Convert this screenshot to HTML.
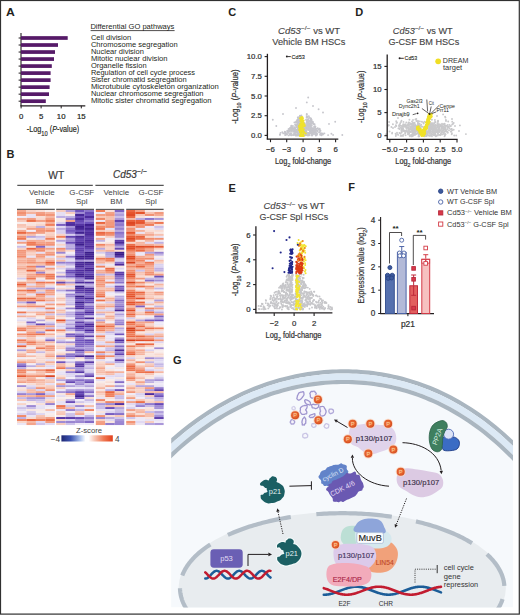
<!DOCTYPE html>
<html><head><meta charset="utf-8"><style>
html,body{margin:0;padding:0;background:#fff;}
#fig{position:relative;width:520px;height:615px;overflow:hidden;background:#fff;}
#fig svg{position:absolute;left:0;top:0;}
#fig svg text{font-family:"Liberation Sans",sans-serif;}
</style></head><body><div id="fig">
<svg width="520" height="615" viewBox="0 0 520 615" font-family="Liberation Sans, sans-serif" fill="#231f20">
<text x="5.90" y="15.80" font-size="11" font-weight="bold" textLength="8.80" lengthAdjust="spacingAndGlyphs">A</text>
<text x="6.40" y="157.80" font-size="11" font-weight="bold">B</text>
<text x="228.20" y="15.90" font-size="11" font-weight="bold">C</text>
<text x="355.20" y="15.70" font-size="11" font-weight="bold">D</text>
<text x="228.60" y="192.20" font-size="11" font-weight="bold">E</text>
<text x="348.30" y="191.30" font-size="11" font-weight="bold">F</text>
<text x="173.00" y="363.70" font-size="11" font-weight="bold">G</text>
<line x1="21.00" y1="33.00" x2="21.00" y2="106.20" stroke="#231f20" stroke-width="1.1"/>
<line x1="20.50" y1="105.80" x2="85.30" y2="105.80" stroke="#231f20" stroke-width="1.2"/>
<line x1="21.10" y1="105.80" x2="21.10" y2="108.40" stroke="#231f20" stroke-width="1"/>
<text x="21.10" y="118.70" font-size="7.8" text-anchor="middle" stroke="#231f20" stroke-width="0.2">0</text>
<line x1="41.10" y1="105.80" x2="41.10" y2="108.40" stroke="#231f20" stroke-width="1"/>
<text x="41.10" y="118.70" font-size="7.8" text-anchor="middle" stroke="#231f20" stroke-width="0.2">5</text>
<line x1="61.20" y1="105.80" x2="61.20" y2="108.40" stroke="#231f20" stroke-width="1"/>
<text x="61.20" y="118.70" font-size="7.8" text-anchor="middle" stroke="#231f20" stroke-width="0.2">10</text>
<line x1="81.30" y1="105.80" x2="81.30" y2="108.40" stroke="#231f20" stroke-width="1"/>
<text x="81.30" y="118.70" font-size="7.8" text-anchor="middle" stroke="#231f20" stroke-width="0.2">15</text>
<rect x="21.00" y="36.15" width="46.70" height="3.70" fill="#561a68"/>
<line x1="18.60" y1="38.00" x2="21.00" y2="38.00" stroke="#231f20" stroke-width="1"/>
<rect x="21.00" y="43.17" width="37.00" height="3.70" fill="#561a68"/>
<line x1="18.60" y1="45.02" x2="21.00" y2="45.02" stroke="#231f20" stroke-width="1"/>
<rect x="21.00" y="50.19" width="34.00" height="3.70" fill="#561a68"/>
<line x1="18.60" y1="52.04" x2="21.00" y2="52.04" stroke="#231f20" stroke-width="1"/>
<rect x="21.00" y="57.21" width="33.00" height="3.70" fill="#561a68"/>
<line x1="18.60" y1="59.06" x2="21.00" y2="59.06" stroke="#231f20" stroke-width="1"/>
<rect x="21.00" y="64.23" width="30.80" height="3.70" fill="#561a68"/>
<line x1="18.60" y1="66.08" x2="21.00" y2="66.08" stroke="#231f20" stroke-width="1"/>
<rect x="21.00" y="71.25" width="29.60" height="3.70" fill="#561a68"/>
<line x1="18.60" y1="73.10" x2="21.00" y2="73.10" stroke="#231f20" stroke-width="1"/>
<rect x="21.00" y="78.27" width="29.60" height="3.70" fill="#561a68"/>
<line x1="18.60" y1="80.12" x2="21.00" y2="80.12" stroke="#231f20" stroke-width="1"/>
<rect x="21.00" y="85.29" width="28.60" height="3.70" fill="#561a68"/>
<line x1="18.60" y1="87.14" x2="21.00" y2="87.14" stroke="#231f20" stroke-width="1"/>
<rect x="21.00" y="92.31" width="28.00" height="3.70" fill="#561a68"/>
<line x1="18.60" y1="94.16" x2="21.00" y2="94.16" stroke="#231f20" stroke-width="1"/>
<rect x="21.00" y="99.33" width="24.80" height="3.70" fill="#561a68"/>
<line x1="18.60" y1="101.18" x2="21.00" y2="101.18" stroke="#231f20" stroke-width="1"/>
<text x="26.8" y="131.8" font-size="8.6" stroke="#231f20" stroke-width="0.15" textLength="52.4" lengthAdjust="spacingAndGlyphs">-Log<tspan font-size="6.8" dy="3.8">10</tspan><tspan dy="-3.8"> (</tspan><tspan font-style="italic">P</tspan>-value)</text>
<text x="90.40" y="28.80" font-size="7.4" textLength="84.00" lengthAdjust="spacingAndGlyphs">Differential GO pathways</text>
<line x1="90.60" y1="30.60" x2="174.60" y2="30.60" stroke="#231f20" stroke-width="0.8"/>
<text x="90.90" y="39.60" font-size="7.4" textLength="40.30" lengthAdjust="spacingAndGlyphs">Cell division</text>
<text x="90.90" y="46.62" font-size="7.4" textLength="86.80" lengthAdjust="spacingAndGlyphs">Chromosome segregation</text>
<text x="90.90" y="53.64" font-size="7.4" textLength="53.00" lengthAdjust="spacingAndGlyphs">Nuclear division</text>
<text x="90.90" y="60.66" font-size="7.4" textLength="76.70" lengthAdjust="spacingAndGlyphs">Mitotic nuclear division</text>
<text x="90.90" y="67.68" font-size="7.4" textLength="55.70" lengthAdjust="spacingAndGlyphs">Organelle fission</text>
<text x="90.90" y="74.70" font-size="7.4" textLength="104.10" lengthAdjust="spacingAndGlyphs">Regulation of cell cycle process</text>
<text x="90.90" y="81.72" font-size="7.4" textLength="95.80" lengthAdjust="spacingAndGlyphs">Sister chromatid segregation</text>
<text x="90.90" y="88.74" font-size="7.4" textLength="127.80" lengthAdjust="spacingAndGlyphs">Microtubule cytoskeleton organization</text>
<text x="90.90" y="95.76" font-size="7.4" textLength="112.60" lengthAdjust="spacingAndGlyphs">Nuclear chromosome segregation</text>
<text x="90.90" y="102.78" font-size="7.4" textLength="120.70" lengthAdjust="spacingAndGlyphs">Mitotic sister chromatid segregation</text>
<text x="56.20" y="178.80" font-size="10.2" text-anchor="middle" fill="#3a3a3a" stroke="#3a3a3a" stroke-width="0.2">WT</text>
<text x="113.0" y="178.4" font-size="10.2" fill="#3a3a3a" stroke="#3a3a3a" stroke-width="0.2" textLength="34" lengthAdjust="spacingAndGlyphs"><tspan font-style="italic">Cd53</tspan><tspan font-size="7.2" dy="-4.0">−/−</tspan></text>
<line x1="17.30" y1="185.30" x2="92.80" y2="185.30" stroke="#555" stroke-width="1.3"/>
<line x1="95.40" y1="185.30" x2="163.70" y2="185.30" stroke="#555" stroke-width="1.3"/>
<text x="41.80" y="194.80" font-size="8" text-anchor="middle" fill="#444">Vehicle</text>
<text x="41.80" y="204.40" font-size="8" text-anchor="middle" fill="#444">BM</text>
<text x="81.80" y="194.80" font-size="8" text-anchor="middle" fill="#444">G-CSF</text>
<text x="81.80" y="204.40" font-size="8" text-anchor="middle" fill="#444">Spl</text>
<text x="116.30" y="194.80" font-size="8" text-anchor="middle" fill="#444">Vehicle</text>
<text x="116.30" y="204.40" font-size="8" text-anchor="middle" fill="#444">BM</text>
<text x="151.00" y="194.80" font-size="8" text-anchor="middle" fill="#444">G-CSF</text>
<text x="151.00" y="204.40" font-size="8" text-anchor="middle" fill="#444">Spl</text>
<defs><filter id="hb" x="-2%" y="-1%" width="104%" height="102%"><feGaussianBlur stdDeviation="0.35"/></filter></defs>
<g filter="url(#hb)">
<rect x="17.00" y="210.00" width="9.50" height="2.04" fill="#f4a890"/>
<rect x="26.45" y="210.00" width="9.50" height="2.04" fill="#f8d2c6"/>
<rect x="35.90" y="210.00" width="9.50" height="2.04" fill="#f8ddd5"/>
<rect x="45.35" y="210.00" width="9.50" height="2.04" fill="#f8ebe9"/>
<rect x="17.00" y="211.99" width="9.50" height="2.04" fill="#f19071"/>
<rect x="26.45" y="211.99" width="9.50" height="2.04" fill="#f5b29c"/>
<rect x="35.90" y="211.99" width="9.50" height="2.04" fill="#f39e84"/>
<rect x="45.35" y="211.99" width="9.50" height="2.04" fill="#f5b39e"/>
<rect x="17.00" y="213.98" width="9.50" height="2.04" fill="#f3a187"/>
<rect x="26.45" y="213.98" width="9.50" height="2.04" fill="#e9e3f4"/>
<rect x="35.90" y="213.98" width="9.50" height="2.04" fill="#f29476"/>
<rect x="45.35" y="213.98" width="9.50" height="2.04" fill="#f29578"/>
<rect x="17.00" y="215.97" width="9.50" height="2.04" fill="#f1ecf7"/>
<rect x="26.45" y="215.97" width="9.50" height="2.04" fill="#e9e3f4"/>
<rect x="35.90" y="215.97" width="9.50" height="2.04" fill="#f8ddd5"/>
<rect x="45.35" y="215.97" width="9.50" height="2.04" fill="#f6bba8"/>
<rect x="17.00" y="217.96" width="9.50" height="2.04" fill="#f5ae98"/>
<rect x="26.45" y="217.96" width="9.50" height="2.04" fill="#f39d82"/>
<rect x="35.90" y="217.96" width="9.50" height="2.04" fill="#f8d9cf"/>
<rect x="45.35" y="217.96" width="9.50" height="2.04" fill="#f39f85"/>
<rect x="17.00" y="219.95" width="9.50" height="2.04" fill="#f7c8b9"/>
<rect x="26.45" y="219.95" width="9.50" height="2.04" fill="#ec704a"/>
<rect x="35.90" y="219.95" width="9.50" height="2.04" fill="#f39f85"/>
<rect x="45.35" y="219.95" width="9.50" height="2.04" fill="#ef7c57"/>
<rect x="17.00" y="221.94" width="9.50" height="2.04" fill="#f8f0f0"/>
<rect x="26.45" y="221.94" width="9.50" height="2.04" fill="#f8e5e0"/>
<rect x="35.90" y="221.94" width="9.50" height="2.04" fill="#f8e1db"/>
<rect x="45.35" y="221.94" width="9.50" height="2.04" fill="#f5b09a"/>
<rect x="17.00" y="223.94" width="9.50" height="2.04" fill="#f7c4b3"/>
<rect x="26.45" y="223.94" width="9.50" height="2.04" fill="#f8e2dd"/>
<rect x="35.90" y="223.94" width="9.50" height="2.04" fill="#f8d6ca"/>
<rect x="45.35" y="223.94" width="9.50" height="2.04" fill="#f07f5c"/>
<rect x="17.00" y="225.93" width="9.50" height="2.04" fill="#f7cabb"/>
<rect x="26.45" y="225.93" width="9.50" height="2.04" fill="#f7c8b9"/>
<rect x="35.90" y="225.93" width="9.50" height="2.04" fill="#bdafe2"/>
<rect x="45.35" y="225.93" width="9.50" height="2.04" fill="#f8d3c7"/>
<rect x="17.00" y="227.92" width="9.50" height="2.04" fill="#f8e7e3"/>
<rect x="26.45" y="227.92" width="9.50" height="2.04" fill="#f3a086"/>
<rect x="35.90" y="227.92" width="9.50" height="2.04" fill="#f39e83"/>
<rect x="45.35" y="227.92" width="9.50" height="2.04" fill="#f5af99"/>
<rect x="17.00" y="229.91" width="9.50" height="2.04" fill="#f4a991"/>
<rect x="26.45" y="229.91" width="9.50" height="2.04" fill="#f3eff8"/>
<rect x="35.90" y="229.91" width="9.50" height="2.04" fill="#f29375"/>
<rect x="45.35" y="229.91" width="9.50" height="2.04" fill="#f18d6e"/>
<rect x="17.00" y="231.90" width="9.50" height="2.04" fill="#ea6741"/>
<rect x="26.45" y="231.90" width="9.50" height="2.04" fill="#f29173"/>
<rect x="35.90" y="231.90" width="9.50" height="2.04" fill="#f3a086"/>
<rect x="45.35" y="231.90" width="9.50" height="2.04" fill="#f8d3c7"/>
<rect x="17.00" y="233.89" width="9.50" height="2.04" fill="#f6bfad"/>
<rect x="26.45" y="233.89" width="9.50" height="2.04" fill="#f6beac"/>
<rect x="35.90" y="233.89" width="9.50" height="2.04" fill="#f8ebe9"/>
<rect x="45.35" y="233.89" width="9.50" height="2.04" fill="#f8d0c3"/>
<rect x="17.00" y="235.88" width="9.50" height="2.04" fill="#f29476"/>
<rect x="26.45" y="235.88" width="9.50" height="2.04" fill="#b3a3dd"/>
<rect x="35.90" y="235.88" width="9.50" height="2.04" fill="#c9bde7"/>
<rect x="45.35" y="235.88" width="9.50" height="2.04" fill="#f6c1af"/>
<rect x="17.00" y="237.87" width="9.50" height="2.04" fill="#ee7751"/>
<rect x="26.45" y="237.87" width="9.50" height="2.04" fill="#f8e5e0"/>
<rect x="35.90" y="237.87" width="9.50" height="2.04" fill="#e0d8f1"/>
<rect x="45.35" y="237.87" width="9.50" height="2.04" fill="#ef7e5a"/>
<rect x="17.00" y="239.86" width="9.50" height="2.04" fill="#e0d9f1"/>
<rect x="26.45" y="239.86" width="9.50" height="2.04" fill="#f4ac96"/>
<rect x="35.90" y="239.86" width="9.50" height="2.04" fill="#f5ae97"/>
<rect x="45.35" y="239.86" width="9.50" height="2.04" fill="#f7ccbe"/>
<rect x="17.00" y="241.85" width="9.50" height="2.04" fill="#f39e83"/>
<rect x="26.45" y="241.85" width="9.50" height="2.04" fill="#ef7853"/>
<rect x="35.90" y="241.85" width="9.50" height="2.04" fill="#f3a289"/>
<rect x="45.35" y="241.85" width="9.50" height="2.04" fill="#f39b7f"/>
<rect x="17.00" y="243.84" width="9.50" height="2.04" fill="#f8efee"/>
<rect x="26.45" y="243.84" width="9.50" height="2.04" fill="#ef7b57"/>
<rect x="35.90" y="243.84" width="9.50" height="2.04" fill="#f18d6e"/>
<rect x="45.35" y="243.84" width="9.50" height="2.04" fill="#f29274"/>
<rect x="17.00" y="245.83" width="9.50" height="2.04" fill="#c9bde7"/>
<rect x="26.45" y="245.83" width="9.50" height="2.04" fill="#f8e0d9"/>
<rect x="35.90" y="245.83" width="9.50" height="2.04" fill="#7f66c5"/>
<rect x="45.35" y="245.83" width="9.50" height="2.04" fill="#dfd8f1"/>
<rect x="17.00" y="247.82" width="9.50" height="2.04" fill="#f8d3c7"/>
<rect x="26.45" y="247.82" width="9.50" height="2.04" fill="#ea653f"/>
<rect x="35.90" y="247.82" width="9.50" height="2.04" fill="#f18f70"/>
<rect x="45.35" y="247.82" width="9.50" height="2.04" fill="#f39e84"/>
<rect x="17.00" y="249.81" width="9.50" height="2.04" fill="#f29577"/>
<rect x="26.45" y="249.81" width="9.50" height="2.04" fill="#f5af99"/>
<rect x="35.90" y="249.81" width="9.50" height="2.04" fill="#f18d6e"/>
<rect x="45.35" y="249.81" width="9.50" height="2.04" fill="#f7cec0"/>
<rect x="17.00" y="251.81" width="9.50" height="2.04" fill="#f39b80"/>
<rect x="26.45" y="251.81" width="9.50" height="2.04" fill="#f8cfc2"/>
<rect x="35.90" y="251.81" width="9.50" height="2.04" fill="#e7e0f4"/>
<rect x="45.35" y="251.81" width="9.50" height="2.04" fill="#f39f85"/>
<rect x="17.00" y="253.80" width="9.50" height="2.04" fill="#f39d82"/>
<rect x="26.45" y="253.80" width="9.50" height="2.04" fill="#f7cdc0"/>
<rect x="35.90" y="253.80" width="9.50" height="2.04" fill="#f39d81"/>
<rect x="45.35" y="253.80" width="9.50" height="2.04" fill="#f29274"/>
<rect x="17.00" y="255.79" width="9.50" height="2.04" fill="#f18b6b"/>
<rect x="26.45" y="255.79" width="9.50" height="2.04" fill="#eae4f5"/>
<rect x="35.90" y="255.79" width="9.50" height="2.04" fill="#f39b80"/>
<rect x="45.35" y="255.79" width="9.50" height="2.04" fill="#e6e0f3"/>
<rect x="17.00" y="257.78" width="9.50" height="2.04" fill="#f6baa7"/>
<rect x="26.45" y="257.78" width="9.50" height="2.04" fill="#f4a991"/>
<rect x="35.90" y="257.78" width="9.50" height="2.04" fill="#f6bdab"/>
<rect x="45.35" y="257.78" width="9.50" height="2.04" fill="#f7c8b8"/>
<rect x="17.00" y="259.77" width="9.50" height="2.04" fill="#f5af99"/>
<rect x="26.45" y="259.77" width="9.50" height="2.04" fill="#f3a389"/>
<rect x="35.90" y="259.77" width="9.50" height="2.04" fill="#f7cdbf"/>
<rect x="45.35" y="259.77" width="9.50" height="2.04" fill="#f4a992"/>
<rect x="17.00" y="261.76" width="9.50" height="2.04" fill="#f4a78f"/>
<rect x="26.45" y="261.76" width="9.50" height="2.04" fill="#f19071"/>
<rect x="35.90" y="261.76" width="9.50" height="2.04" fill="#f39d82"/>
<rect x="45.35" y="261.76" width="9.50" height="2.04" fill="#e8603a"/>
<rect x="17.00" y="263.75" width="9.50" height="2.04" fill="#f7c5b5"/>
<rect x="26.45" y="263.75" width="9.50" height="2.04" fill="#f7c8b9"/>
<rect x="35.90" y="263.75" width="9.50" height="2.04" fill="#f6bfad"/>
<rect x="45.35" y="263.75" width="9.50" height="2.04" fill="#f18c6c"/>
<rect x="17.00" y="265.74" width="9.50" height="2.04" fill="#f5b7a2"/>
<rect x="26.45" y="265.74" width="9.50" height="2.04" fill="#f0825f"/>
<rect x="35.90" y="265.74" width="9.50" height="2.04" fill="#9580cf"/>
<rect x="45.35" y="265.74" width="9.50" height="2.04" fill="#e9e3f4"/>
<rect x="17.00" y="267.73" width="9.50" height="2.04" fill="#f3a289"/>
<rect x="26.45" y="267.73" width="9.50" height="2.04" fill="#f5af99"/>
<rect x="35.90" y="267.73" width="9.50" height="2.04" fill="#f8d6cb"/>
<rect x="45.35" y="267.73" width="9.50" height="2.04" fill="#f2997d"/>
<rect x="17.00" y="269.72" width="9.50" height="2.04" fill="#f7ccbd"/>
<rect x="26.45" y="269.72" width="9.50" height="2.04" fill="#e85f38"/>
<rect x="35.90" y="269.72" width="9.50" height="2.04" fill="#f5b09a"/>
<rect x="45.35" y="269.72" width="9.50" height="2.04" fill="#f7cdbf"/>
<rect x="17.00" y="271.71" width="9.50" height="2.04" fill="#f7ccbe"/>
<rect x="26.45" y="271.71" width="9.50" height="2.04" fill="#f7cabc"/>
<rect x="35.90" y="271.71" width="9.50" height="2.04" fill="#9580cf"/>
<rect x="45.35" y="271.71" width="9.50" height="2.04" fill="#f8d8ce"/>
<rect x="17.00" y="273.70" width="9.50" height="2.04" fill="#f8d1c4"/>
<rect x="26.45" y="273.70" width="9.50" height="2.04" fill="#f4a38a"/>
<rect x="35.90" y="273.70" width="9.50" height="2.04" fill="#f08361"/>
<rect x="45.35" y="273.70" width="9.50" height="2.04" fill="#ef7c58"/>
<rect x="17.00" y="275.69" width="9.50" height="2.04" fill="#f8d8ce"/>
<rect x="26.45" y="275.69" width="9.50" height="2.04" fill="#f3a186"/>
<rect x="35.90" y="275.69" width="9.50" height="2.04" fill="#f4a68d"/>
<rect x="45.35" y="275.69" width="9.50" height="2.04" fill="#ee7852"/>
<rect x="17.00" y="277.69" width="9.50" height="2.04" fill="#d4caec"/>
<rect x="26.45" y="277.69" width="9.50" height="2.04" fill="#ee7752"/>
<rect x="35.90" y="277.69" width="9.50" height="2.04" fill="#f8e8e4"/>
<rect x="45.35" y="277.69" width="9.50" height="2.04" fill="#f0815e"/>
<rect x="17.00" y="279.68" width="9.50" height="2.04" fill="#f8ecea"/>
<rect x="26.45" y="279.68" width="9.50" height="2.04" fill="#f6c3b2"/>
<rect x="35.90" y="279.68" width="9.50" height="2.04" fill="#e0d8f1"/>
<rect x="45.35" y="279.68" width="9.50" height="2.04" fill="#f8ebe9"/>
<rect x="17.00" y="281.67" width="9.50" height="2.04" fill="#f39e83"/>
<rect x="26.45" y="281.67" width="9.50" height="2.04" fill="#f4ac95"/>
<rect x="35.90" y="281.67" width="9.50" height="2.04" fill="#ee7550"/>
<rect x="45.35" y="281.67" width="9.50" height="2.04" fill="#ef7c58"/>
<rect x="17.00" y="283.66" width="9.50" height="2.04" fill="#e9603a"/>
<rect x="26.45" y="283.66" width="9.50" height="2.04" fill="#e2dbf2"/>
<rect x="35.90" y="283.66" width="9.50" height="2.04" fill="#f4ac95"/>
<rect x="45.35" y="283.66" width="9.50" height="2.04" fill="#f8d7cc"/>
<rect x="17.00" y="285.65" width="9.50" height="2.04" fill="#f39d81"/>
<rect x="26.45" y="285.65" width="9.50" height="2.04" fill="#f5b6a2"/>
<rect x="35.90" y="285.65" width="9.50" height="2.04" fill="#f4aa92"/>
<rect x="45.35" y="285.65" width="9.50" height="2.04" fill="#e5def3"/>
<rect x="17.00" y="287.64" width="9.50" height="2.04" fill="#f8dad1"/>
<rect x="26.45" y="287.64" width="9.50" height="2.04" fill="#bdaee2"/>
<rect x="35.90" y="287.64" width="9.50" height="2.04" fill="#b1a1dc"/>
<rect x="45.35" y="287.64" width="9.50" height="2.04" fill="#a996d9"/>
<rect x="17.00" y="289.63" width="9.50" height="2.04" fill="#ef7b56"/>
<rect x="26.45" y="289.63" width="9.50" height="2.04" fill="#ea6741"/>
<rect x="35.90" y="289.63" width="9.50" height="2.04" fill="#f7ccbe"/>
<rect x="45.35" y="289.63" width="9.50" height="2.04" fill="#f2977a"/>
<rect x="17.00" y="291.62" width="9.50" height="2.04" fill="#f7c6b7"/>
<rect x="26.45" y="291.62" width="9.50" height="2.04" fill="#f4a58d"/>
<rect x="35.90" y="291.62" width="9.50" height="2.04" fill="#c7bae6"/>
<rect x="45.35" y="291.62" width="9.50" height="2.04" fill="#f3a288"/>
<rect x="17.00" y="293.61" width="9.50" height="2.04" fill="#f4a68e"/>
<rect x="26.45" y="293.61" width="9.50" height="2.04" fill="#e7e1f4"/>
<rect x="35.90" y="293.61" width="9.50" height="2.04" fill="#ee7651"/>
<rect x="45.35" y="293.61" width="9.50" height="2.04" fill="#f3a38a"/>
<rect x="17.00" y="295.60" width="9.50" height="2.04" fill="#f7c5b5"/>
<rect x="26.45" y="295.60" width="9.50" height="2.04" fill="#f7cabb"/>
<rect x="35.90" y="295.60" width="9.50" height="2.04" fill="#f3a085"/>
<rect x="45.35" y="295.60" width="9.50" height="2.04" fill="#e1daf2"/>
<rect x="17.00" y="297.59" width="9.50" height="2.04" fill="#ea6741"/>
<rect x="26.45" y="297.59" width="9.50" height="2.04" fill="#eb6c46"/>
<rect x="35.90" y="297.59" width="9.50" height="2.04" fill="#f5ae98"/>
<rect x="45.35" y="297.59" width="9.50" height="2.04" fill="#f6bcaa"/>
<rect x="17.00" y="299.58" width="9.50" height="2.04" fill="#f39b80"/>
<rect x="26.45" y="299.58" width="9.50" height="2.04" fill="#f39f85"/>
<rect x="35.90" y="299.58" width="9.50" height="2.04" fill="#ee7550"/>
<rect x="45.35" y="299.58" width="9.50" height="2.04" fill="#f4aa92"/>
<rect x="17.00" y="301.57" width="9.50" height="2.04" fill="#beb0e2"/>
<rect x="26.45" y="301.57" width="9.50" height="2.04" fill="#7054be"/>
<rect x="35.90" y="301.57" width="9.50" height="2.04" fill="#ebe5f5"/>
<rect x="45.35" y="301.57" width="9.50" height="2.04" fill="#e1daf2"/>
<rect x="17.00" y="303.56" width="9.50" height="2.04" fill="#f8dad1"/>
<rect x="26.45" y="303.56" width="9.50" height="2.04" fill="#f5b7a4"/>
<rect x="35.90" y="303.56" width="9.50" height="2.04" fill="#f8e2dc"/>
<rect x="45.35" y="303.56" width="9.50" height="2.04" fill="#f39e83"/>
<rect x="17.00" y="305.56" width="9.50" height="2.04" fill="#f2997c"/>
<rect x="26.45" y="305.56" width="9.50" height="2.04" fill="#f18c6c"/>
<rect x="35.90" y="305.56" width="9.50" height="2.04" fill="#f18d6e"/>
<rect x="45.35" y="305.56" width="9.50" height="2.04" fill="#f8e5e1"/>
<rect x="17.00" y="307.55" width="9.50" height="2.04" fill="#eae4f5"/>
<rect x="26.45" y="307.55" width="9.50" height="2.04" fill="#f8dcd4"/>
<rect x="35.90" y="307.55" width="9.50" height="2.04" fill="#ddd5f0"/>
<rect x="45.35" y="307.55" width="9.50" height="2.04" fill="#ef7d59"/>
<rect x="17.00" y="309.54" width="9.50" height="2.04" fill="#f3eff8"/>
<rect x="26.45" y="309.54" width="9.50" height="2.04" fill="#e8e2f4"/>
<rect x="35.90" y="309.54" width="9.50" height="2.04" fill="#e8e2f4"/>
<rect x="45.35" y="309.54" width="9.50" height="2.04" fill="#dcd5f0"/>
<rect x="17.00" y="311.53" width="9.50" height="2.04" fill="#ee7651"/>
<rect x="26.45" y="311.53" width="9.50" height="2.04" fill="#f6bfae"/>
<rect x="35.90" y="311.53" width="9.50" height="2.04" fill="#f5b09a"/>
<rect x="45.35" y="311.53" width="9.50" height="2.04" fill="#f29375"/>
<rect x="17.00" y="313.52" width="9.50" height="2.04" fill="#e1daf2"/>
<rect x="26.45" y="313.52" width="9.50" height="2.04" fill="#f8ebe9"/>
<rect x="35.90" y="313.52" width="9.50" height="2.04" fill="#f4a68e"/>
<rect x="45.35" y="313.52" width="9.50" height="2.04" fill="#cec3ea"/>
<rect x="17.00" y="315.51" width="9.50" height="2.04" fill="#f4ac95"/>
<rect x="26.45" y="315.51" width="9.50" height="2.04" fill="#f6bba8"/>
<rect x="35.90" y="315.51" width="9.50" height="2.04" fill="#f8e7e3"/>
<rect x="45.35" y="315.51" width="9.50" height="2.04" fill="#f5b6a1"/>
<rect x="17.00" y="317.50" width="9.50" height="2.04" fill="#eee9f6"/>
<rect x="26.45" y="317.50" width="9.50" height="2.04" fill="#dbd3f0"/>
<rect x="35.90" y="317.50" width="9.50" height="2.04" fill="#f8eae7"/>
<rect x="45.35" y="317.50" width="9.50" height="2.04" fill="#f2997c"/>
<rect x="17.00" y="319.49" width="9.50" height="2.04" fill="#e3dcf2"/>
<rect x="26.45" y="319.49" width="9.50" height="2.04" fill="#e4ddf3"/>
<rect x="35.90" y="319.49" width="9.50" height="2.04" fill="#b7a7df"/>
<rect x="45.35" y="319.49" width="9.50" height="2.04" fill="#f8e1da"/>
<rect x="17.00" y="321.48" width="9.50" height="2.04" fill="#f8e1da"/>
<rect x="26.45" y="321.48" width="9.50" height="2.04" fill="#7e64c5"/>
<rect x="35.90" y="321.48" width="9.50" height="2.04" fill="#f8eeed"/>
<rect x="45.35" y="321.48" width="9.50" height="2.04" fill="#d9d1ef"/>
<rect x="17.00" y="323.47" width="9.50" height="2.04" fill="#f8ebe9"/>
<rect x="26.45" y="323.47" width="9.50" height="2.04" fill="#c8bce7"/>
<rect x="35.90" y="323.47" width="9.50" height="2.04" fill="#6749b5"/>
<rect x="45.35" y="323.47" width="9.50" height="2.04" fill="#ae9ddb"/>
<rect x="17.00" y="325.46" width="9.50" height="2.04" fill="#f8d3c7"/>
<rect x="26.45" y="325.46" width="9.50" height="2.04" fill="#f39f85"/>
<rect x="35.90" y="325.46" width="9.50" height="2.04" fill="#f4a68e"/>
<rect x="45.35" y="325.46" width="9.50" height="2.04" fill="#f3a086"/>
<rect x="17.00" y="327.45" width="9.50" height="2.04" fill="#f08665"/>
<rect x="26.45" y="327.45" width="9.50" height="2.04" fill="#f3a38a"/>
<rect x="35.90" y="327.45" width="9.50" height="2.04" fill="#f5b39e"/>
<rect x="45.35" y="327.45" width="9.50" height="2.04" fill="#c9bde7"/>
<rect x="17.00" y="329.44" width="9.50" height="2.04" fill="#ee7853"/>
<rect x="26.45" y="329.44" width="9.50" height="2.04" fill="#f6bba8"/>
<rect x="35.90" y="329.44" width="9.50" height="2.04" fill="#f7cabc"/>
<rect x="45.35" y="329.44" width="9.50" height="2.04" fill="#e9633d"/>
<rect x="17.00" y="331.44" width="9.50" height="2.04" fill="#f2eef7"/>
<rect x="26.45" y="331.44" width="9.50" height="2.04" fill="#f39e83"/>
<rect x="35.90" y="331.44" width="9.50" height="2.04" fill="#a591d7"/>
<rect x="45.35" y="331.44" width="9.50" height="2.04" fill="#f8e8e5"/>
<rect x="17.00" y="333.43" width="9.50" height="2.04" fill="#f19172"/>
<rect x="26.45" y="333.43" width="9.50" height="2.04" fill="#ef7b56"/>
<rect x="35.90" y="333.43" width="9.50" height="2.04" fill="#ee754f"/>
<rect x="45.35" y="333.43" width="9.50" height="2.04" fill="#f5b09a"/>
<rect x="17.00" y="335.42" width="9.50" height="2.04" fill="#f6c0ae"/>
<rect x="26.45" y="335.42" width="9.50" height="2.04" fill="#f4aa93"/>
<rect x="35.90" y="335.42" width="9.50" height="2.04" fill="#f8dbd1"/>
<rect x="45.35" y="335.42" width="9.50" height="2.04" fill="#f8d7cc"/>
<rect x="17.00" y="337.41" width="9.50" height="2.04" fill="#e7e1f4"/>
<rect x="26.45" y="337.41" width="9.50" height="2.04" fill="#f7cabb"/>
<rect x="35.90" y="337.41" width="9.50" height="2.04" fill="#f0ebf7"/>
<rect x="45.35" y="337.41" width="9.50" height="2.04" fill="#d1c6eb"/>
<rect x="17.00" y="339.40" width="9.50" height="2.04" fill="#ef7954"/>
<rect x="26.45" y="339.40" width="9.50" height="2.04" fill="#f5b8a4"/>
<rect x="35.90" y="339.40" width="9.50" height="2.04" fill="#f8d7cc"/>
<rect x="45.35" y="339.40" width="9.50" height="2.04" fill="#8066c5"/>
<rect x="17.00" y="341.39" width="9.50" height="2.04" fill="#f3a086"/>
<rect x="26.45" y="341.39" width="9.50" height="2.04" fill="#ee7752"/>
<rect x="35.90" y="341.39" width="9.50" height="2.04" fill="#f4ac95"/>
<rect x="45.35" y="341.39" width="9.50" height="2.04" fill="#f5b8a5"/>
<rect x="17.00" y="343.38" width="9.50" height="2.04" fill="#d4caec"/>
<rect x="26.45" y="343.38" width="9.50" height="2.04" fill="#f29274"/>
<rect x="35.90" y="343.38" width="9.50" height="2.04" fill="#f5b5a0"/>
<rect x="45.35" y="343.38" width="9.50" height="2.04" fill="#f8dad1"/>
<rect x="17.00" y="345.37" width="9.50" height="2.04" fill="#e85f39"/>
<rect x="26.45" y="345.37" width="9.50" height="2.04" fill="#f8e2dc"/>
<rect x="35.90" y="345.37" width="9.50" height="2.04" fill="#f7c7b8"/>
<rect x="45.35" y="345.37" width="9.50" height="2.04" fill="#f29476"/>
<rect x="17.00" y="347.36" width="9.50" height="2.04" fill="#f8d9d0"/>
<rect x="26.45" y="347.36" width="9.50" height="2.04" fill="#eee9f6"/>
<rect x="35.90" y="347.36" width="9.50" height="2.04" fill="#ef7954"/>
<rect x="45.35" y="347.36" width="9.50" height="2.04" fill="#f2997d"/>
<rect x="17.00" y="349.35" width="9.50" height="2.04" fill="#ad9bda"/>
<rect x="26.45" y="349.35" width="9.50" height="2.04" fill="#f4ac95"/>
<rect x="35.90" y="349.35" width="9.50" height="2.04" fill="#f8d5ca"/>
<rect x="45.35" y="349.35" width="9.50" height="2.04" fill="#f4a48b"/>
<rect x="17.00" y="351.34" width="9.50" height="2.04" fill="#f8dad1"/>
<rect x="26.45" y="351.34" width="9.50" height="2.04" fill="#f4a890"/>
<rect x="35.90" y="351.34" width="9.50" height="2.04" fill="#c6bae6"/>
<rect x="45.35" y="351.34" width="9.50" height="2.04" fill="#f8d4c9"/>
<rect x="17.00" y="353.33" width="9.50" height="2.04" fill="#f5b8a5"/>
<rect x="26.45" y="353.33" width="9.50" height="2.04" fill="#efebf6"/>
<rect x="35.90" y="353.33" width="9.50" height="2.04" fill="#f8e1db"/>
<rect x="45.35" y="353.33" width="9.50" height="2.04" fill="#f6bba9"/>
<rect x="17.00" y="355.32" width="9.50" height="2.04" fill="#f4a48b"/>
<rect x="26.45" y="355.32" width="9.50" height="2.04" fill="#f6bba8"/>
<rect x="35.90" y="355.32" width="9.50" height="2.04" fill="#f8dbd2"/>
<rect x="45.35" y="355.32" width="9.50" height="2.04" fill="#f39f84"/>
<rect x="17.00" y="357.31" width="9.50" height="2.04" fill="#f1ecf7"/>
<rect x="26.45" y="357.31" width="9.50" height="2.04" fill="#f8eeed"/>
<rect x="35.90" y="357.31" width="9.50" height="2.04" fill="#f8d8ce"/>
<rect x="45.35" y="357.31" width="9.50" height="2.04" fill="#f8d3c7"/>
<rect x="17.00" y="359.31" width="9.50" height="2.04" fill="#f7cbbc"/>
<rect x="26.45" y="359.31" width="9.50" height="2.04" fill="#f7c5b5"/>
<rect x="35.90" y="359.31" width="9.50" height="2.04" fill="#f8dbd2"/>
<rect x="45.35" y="359.31" width="9.50" height="2.04" fill="#e3dcf2"/>
<rect x="17.00" y="361.30" width="9.50" height="2.04" fill="#f29577"/>
<rect x="26.45" y="361.30" width="9.50" height="2.04" fill="#f5b09a"/>
<rect x="35.90" y="361.30" width="9.50" height="2.04" fill="#f8d5c9"/>
<rect x="45.35" y="361.30" width="9.50" height="2.04" fill="#f4ac95"/>
<rect x="17.00" y="363.29" width="9.50" height="2.04" fill="#9781d0"/>
<rect x="26.45" y="363.29" width="9.50" height="2.04" fill="#f1edf7"/>
<rect x="35.90" y="363.29" width="9.50" height="2.04" fill="#bdaee2"/>
<rect x="45.35" y="363.29" width="9.50" height="2.04" fill="#f8d2c5"/>
<rect x="17.00" y="365.28" width="9.50" height="2.04" fill="#6f53bd"/>
<rect x="26.45" y="365.28" width="9.50" height="2.04" fill="#baabe0"/>
<rect x="35.90" y="365.28" width="9.50" height="2.04" fill="#f6b9a5"/>
<rect x="45.35" y="365.28" width="9.50" height="2.04" fill="#ded7f1"/>
<rect x="17.00" y="367.27" width="9.50" height="2.04" fill="#bfb1e3"/>
<rect x="26.45" y="367.27" width="9.50" height="2.04" fill="#f8edec"/>
<rect x="35.90" y="367.27" width="9.50" height="2.04" fill="#efeaf6"/>
<rect x="45.35" y="367.27" width="9.50" height="2.04" fill="#ebe5f5"/>
<rect x="17.00" y="369.26" width="9.50" height="2.04" fill="#f08563"/>
<rect x="26.45" y="369.26" width="9.50" height="2.04" fill="#f3a288"/>
<rect x="35.90" y="369.26" width="9.50" height="2.04" fill="#f19172"/>
<rect x="45.35" y="369.26" width="9.50" height="2.04" fill="#ea653e"/>
<rect x="17.00" y="371.25" width="9.50" height="2.04" fill="#f18867"/>
<rect x="26.45" y="371.25" width="9.50" height="2.04" fill="#f8e5e1"/>
<rect x="35.90" y="371.25" width="9.50" height="2.04" fill="#f6c1b0"/>
<rect x="45.35" y="371.25" width="9.50" height="2.04" fill="#f29375"/>
<rect x="17.00" y="373.24" width="9.50" height="2.04" fill="#f4ac95"/>
<rect x="26.45" y="373.24" width="9.50" height="2.04" fill="#f7c5b5"/>
<rect x="35.90" y="373.24" width="9.50" height="2.04" fill="#f6beab"/>
<rect x="45.35" y="373.24" width="9.50" height="2.04" fill="#f8e8e5"/>
<rect x="17.00" y="375.23" width="9.50" height="2.04" fill="#e75932"/>
<rect x="26.45" y="375.23" width="9.50" height="2.04" fill="#f18c6c"/>
<rect x="35.90" y="375.23" width="9.50" height="2.04" fill="#f08664"/>
<rect x="45.35" y="375.23" width="9.50" height="2.04" fill="#db4420"/>
<rect x="17.00" y="377.22" width="9.50" height="2.04" fill="#f5b8a5"/>
<rect x="26.45" y="377.22" width="9.50" height="2.04" fill="#f5b5a1"/>
<rect x="35.90" y="377.22" width="9.50" height="2.04" fill="#f8eae8"/>
<rect x="45.35" y="377.22" width="9.50" height="2.04" fill="#d0c6eb"/>
<rect x="17.00" y="379.21" width="9.50" height="2.04" fill="#f6beac"/>
<rect x="26.45" y="379.21" width="9.50" height="2.04" fill="#f39e83"/>
<rect x="35.90" y="379.21" width="9.50" height="2.04" fill="#f5b39e"/>
<rect x="45.35" y="379.21" width="9.50" height="2.04" fill="#f7cec0"/>
<rect x="17.00" y="381.20" width="9.50" height="2.04" fill="#f3a085"/>
<rect x="26.45" y="381.20" width="9.50" height="2.04" fill="#f5af99"/>
<rect x="35.90" y="381.20" width="9.50" height="2.04" fill="#f6beac"/>
<rect x="45.35" y="381.20" width="9.50" height="2.04" fill="#f6c3b2"/>
<rect x="17.00" y="383.19" width="9.50" height="2.04" fill="#f8efee"/>
<rect x="26.45" y="383.19" width="9.50" height="2.04" fill="#f8ddd5"/>
<rect x="35.90" y="383.19" width="9.50" height="2.04" fill="#f7c7b7"/>
<rect x="45.35" y="383.19" width="9.50" height="2.04" fill="#e5dff3"/>
<rect x="17.00" y="385.19" width="9.50" height="2.04" fill="#9f8bd4"/>
<rect x="26.45" y="385.19" width="9.50" height="2.04" fill="#e0d9f1"/>
<rect x="35.90" y="385.19" width="9.50" height="2.04" fill="#f8d5ca"/>
<rect x="45.35" y="385.19" width="9.50" height="2.04" fill="#f7ccbe"/>
<rect x="17.00" y="387.18" width="9.50" height="2.04" fill="#f8e4df"/>
<rect x="26.45" y="387.18" width="9.50" height="2.04" fill="#cabee8"/>
<rect x="35.90" y="387.18" width="9.50" height="2.04" fill="#f29274"/>
<rect x="45.35" y="387.18" width="9.50" height="2.04" fill="#f6c1b0"/>
<rect x="17.00" y="389.17" width="9.50" height="2.04" fill="#f8dad1"/>
<rect x="26.45" y="389.17" width="9.50" height="2.04" fill="#f6bba8"/>
<rect x="35.90" y="389.17" width="9.50" height="2.04" fill="#dad2ef"/>
<rect x="45.35" y="389.17" width="9.50" height="2.04" fill="#f29273"/>
<rect x="17.00" y="391.16" width="9.50" height="2.04" fill="#d9d0ef"/>
<rect x="26.45" y="391.16" width="9.50" height="2.04" fill="#f6bba8"/>
<rect x="35.90" y="391.16" width="9.50" height="2.04" fill="#f3a38a"/>
<rect x="45.35" y="391.16" width="9.50" height="2.04" fill="#dfd8f1"/>
<rect x="17.00" y="393.15" width="9.50" height="2.04" fill="#9781d0"/>
<rect x="26.45" y="393.15" width="9.50" height="2.04" fill="#aa98d9"/>
<rect x="35.90" y="393.15" width="9.50" height="2.04" fill="#7d63c4"/>
<rect x="45.35" y="393.15" width="9.50" height="2.04" fill="#cec4ea"/>
<rect x="17.00" y="395.14" width="9.50" height="2.04" fill="#f5b39e"/>
<rect x="26.45" y="395.14" width="9.50" height="2.04" fill="#f5b19c"/>
<rect x="35.90" y="395.14" width="9.50" height="2.04" fill="#f2977a"/>
<rect x="45.35" y="395.14" width="9.50" height="2.04" fill="#f39d82"/>
<rect x="17.00" y="397.13" width="9.50" height="2.04" fill="#c6b9e6"/>
<rect x="26.45" y="397.13" width="9.50" height="2.04" fill="#a895d8"/>
<rect x="35.90" y="397.13" width="9.50" height="2.04" fill="#9f8bd4"/>
<rect x="45.35" y="397.13" width="9.50" height="2.04" fill="#dcd4f0"/>
<rect x="17.00" y="399.12" width="9.50" height="2.04" fill="#f7c4b4"/>
<rect x="26.45" y="399.12" width="9.50" height="2.04" fill="#c0b2e3"/>
<rect x="35.90" y="399.12" width="9.50" height="2.04" fill="#cabfe8"/>
<rect x="45.35" y="399.12" width="9.50" height="2.04" fill="#f8dcd3"/>
<rect x="17.00" y="401.11" width="9.50" height="2.04" fill="#f3eff8"/>
<rect x="26.45" y="401.11" width="9.50" height="2.04" fill="#f8e7e3"/>
<rect x="35.90" y="401.11" width="9.50" height="2.04" fill="#dbd2ef"/>
<rect x="45.35" y="401.11" width="9.50" height="2.04" fill="#f6c2b1"/>
<rect x="17.00" y="403.10" width="9.50" height="2.04" fill="#f8d4c8"/>
<rect x="26.45" y="403.10" width="9.50" height="2.04" fill="#f8efef"/>
<rect x="35.90" y="403.10" width="9.50" height="2.04" fill="#f8e0d9"/>
<rect x="45.35" y="403.10" width="9.50" height="2.04" fill="#957fcf"/>
<rect x="17.00" y="405.09" width="9.50" height="2.04" fill="#e8e3f4"/>
<rect x="26.45" y="405.09" width="9.50" height="2.04" fill="#9d88d3"/>
<rect x="35.90" y="405.09" width="9.50" height="2.04" fill="#e8e2f4"/>
<rect x="45.35" y="405.09" width="9.50" height="2.04" fill="#ede8f6"/>
<rect x="17.00" y="407.08" width="9.50" height="2.04" fill="#cdc2e9"/>
<rect x="26.45" y="407.08" width="9.50" height="2.04" fill="#c9bde7"/>
<rect x="35.90" y="407.08" width="9.50" height="2.04" fill="#e6e0f3"/>
<rect x="45.35" y="407.08" width="9.50" height="2.04" fill="#f2eef7"/>
<rect x="17.00" y="409.07" width="9.50" height="2.04" fill="#e1daf2"/>
<rect x="26.45" y="409.07" width="9.50" height="2.04" fill="#f8e6e2"/>
<rect x="35.90" y="409.07" width="9.50" height="2.04" fill="#f8eae7"/>
<rect x="45.35" y="409.07" width="9.50" height="2.04" fill="#f6bdaa"/>
<rect x="17.00" y="411.06" width="9.50" height="2.04" fill="#f0ebf7"/>
<rect x="26.45" y="411.06" width="9.50" height="2.04" fill="#d5cbed"/>
<rect x="35.90" y="411.06" width="9.50" height="2.04" fill="#f8edeb"/>
<rect x="45.35" y="411.06" width="9.50" height="2.04" fill="#efeaf6"/>
<rect x="17.00" y="413.06" width="9.50" height="2.04" fill="#ddd5f0"/>
<rect x="26.45" y="413.06" width="9.50" height="2.04" fill="#c9bde7"/>
<rect x="35.90" y="413.06" width="9.50" height="2.04" fill="#dfd7f1"/>
<rect x="45.35" y="413.06" width="9.50" height="2.04" fill="#f8eeed"/>
<rect x="17.00" y="415.05" width="9.50" height="2.04" fill="#f18968"/>
<rect x="26.45" y="415.05" width="9.50" height="2.04" fill="#e9e3f4"/>
<rect x="35.90" y="415.05" width="9.50" height="2.04" fill="#f6c3b2"/>
<rect x="45.35" y="415.05" width="9.50" height="2.04" fill="#f8e9e5"/>
<rect x="17.00" y="417.04" width="9.50" height="2.04" fill="#bfb1e3"/>
<rect x="26.45" y="417.04" width="9.50" height="2.04" fill="#f8dcd3"/>
<rect x="35.90" y="417.04" width="9.50" height="2.04" fill="#f5b49f"/>
<rect x="45.35" y="417.04" width="9.50" height="2.04" fill="#f39e83"/>
<rect x="17.00" y="419.03" width="9.50" height="2.04" fill="#f08664"/>
<rect x="26.45" y="419.03" width="9.50" height="2.04" fill="#ea653f"/>
<rect x="35.90" y="419.03" width="9.50" height="2.04" fill="#ef7b56"/>
<rect x="45.35" y="419.03" width="9.50" height="2.04" fill="#ec704a"/>
<rect x="17.00" y="421.02" width="9.50" height="2.04" fill="#f8d7cc"/>
<rect x="26.45" y="421.02" width="9.50" height="2.04" fill="#f5b7a3"/>
<rect x="35.90" y="421.02" width="9.50" height="2.04" fill="#e0d8f1"/>
<rect x="45.35" y="421.02" width="9.50" height="2.04" fill="#f39b7f"/>
<rect x="17.00" y="423.01" width="9.50" height="2.04" fill="#ebe6f5"/>
<rect x="26.45" y="423.01" width="9.50" height="2.04" fill="#f4a48b"/>
<rect x="35.90" y="423.01" width="9.50" height="2.04" fill="#d0c5ea"/>
<rect x="45.35" y="423.01" width="9.50" height="2.04" fill="#e2dbf2"/>
<rect x="56.20" y="210.00" width="9.50" height="2.04" fill="#f7cdbf"/>
<rect x="65.65" y="210.00" width="9.50" height="2.04" fill="#b19fdc"/>
<rect x="75.10" y="210.00" width="9.50" height="2.04" fill="#6e51bc"/>
<rect x="84.55" y="210.00" width="9.50" height="2.04" fill="#8b73cb"/>
<rect x="56.20" y="211.99" width="9.50" height="2.04" fill="#e5dff3"/>
<rect x="65.65" y="211.99" width="9.50" height="2.04" fill="#f7cdbf"/>
<rect x="75.10" y="211.99" width="9.50" height="2.04" fill="#a08cd4"/>
<rect x="84.55" y="211.99" width="9.50" height="2.04" fill="#6648b5"/>
<rect x="56.20" y="213.98" width="9.50" height="2.04" fill="#e5dff3"/>
<rect x="65.65" y="213.98" width="9.50" height="2.04" fill="#f8eceb"/>
<rect x="75.10" y="213.98" width="9.50" height="2.04" fill="#472697"/>
<rect x="84.55" y="213.98" width="9.50" height="2.04" fill="#6f53bd"/>
<rect x="56.20" y="215.97" width="9.50" height="2.04" fill="#bdaee2"/>
<rect x="65.65" y="215.97" width="9.50" height="2.04" fill="#beb0e2"/>
<rect x="75.10" y="215.97" width="9.50" height="2.04" fill="#694bb7"/>
<rect x="84.55" y="215.97" width="9.50" height="2.04" fill="#4d2b9d"/>
<rect x="56.20" y="217.96" width="9.50" height="2.04" fill="#f8eae7"/>
<rect x="65.65" y="217.96" width="9.50" height="2.04" fill="#907acd"/>
<rect x="75.10" y="217.96" width="9.50" height="2.04" fill="#4b2a9b"/>
<rect x="84.55" y="217.96" width="9.50" height="2.04" fill="#7458c0"/>
<rect x="56.20" y="219.95" width="9.50" height="2.04" fill="#f8e7e3"/>
<rect x="65.65" y="219.95" width="9.50" height="2.04" fill="#f4a58c"/>
<rect x="75.10" y="219.95" width="9.50" height="2.04" fill="#6648b5"/>
<rect x="84.55" y="219.95" width="9.50" height="2.04" fill="#947ecf"/>
<rect x="56.20" y="221.94" width="9.50" height="2.04" fill="#d8cfee"/>
<rect x="65.65" y="221.94" width="9.50" height="2.04" fill="#5433a4"/>
<rect x="75.10" y="221.94" width="9.50" height="2.04" fill="#7357bf"/>
<rect x="84.55" y="221.94" width="9.50" height="2.04" fill="#6e52bd"/>
<rect x="56.20" y="223.94" width="9.50" height="2.04" fill="#795fc2"/>
<rect x="65.65" y="223.94" width="9.50" height="2.04" fill="#4d2b9d"/>
<rect x="75.10" y="223.94" width="9.50" height="2.04" fill="#5534a4"/>
<rect x="84.55" y="223.94" width="9.50" height="2.04" fill="#3e1f8e"/>
<rect x="56.20" y="225.93" width="9.50" height="2.04" fill="#e0d9f1"/>
<rect x="65.65" y="225.93" width="9.50" height="2.04" fill="#a591d7"/>
<rect x="75.10" y="225.93" width="9.50" height="2.04" fill="#3e1f8e"/>
<rect x="84.55" y="225.93" width="9.50" height="2.04" fill="#5635a5"/>
<rect x="56.20" y="227.92" width="9.50" height="2.04" fill="#b7a8df"/>
<rect x="65.65" y="227.92" width="9.50" height="2.04" fill="#866ec8"/>
<rect x="75.10" y="227.92" width="9.50" height="2.04" fill="#452595"/>
<rect x="84.55" y="227.92" width="9.50" height="2.04" fill="#3f208f"/>
<rect x="56.20" y="229.91" width="9.50" height="2.04" fill="#d9d0ef"/>
<rect x="65.65" y="229.91" width="9.50" height="2.04" fill="#7458c0"/>
<rect x="75.10" y="229.91" width="9.50" height="2.04" fill="#6648b5"/>
<rect x="84.55" y="229.91" width="9.50" height="2.04" fill="#5938a8"/>
<rect x="56.20" y="231.90" width="9.50" height="2.04" fill="#d8cfee"/>
<rect x="65.65" y="231.90" width="9.50" height="2.04" fill="#876ec9"/>
<rect x="75.10" y="231.90" width="9.50" height="2.04" fill="#3f208f"/>
<rect x="84.55" y="231.90" width="9.50" height="2.04" fill="#4c2a9c"/>
<rect x="56.20" y="233.89" width="9.50" height="2.04" fill="#f8d4c9"/>
<rect x="65.65" y="233.89" width="9.50" height="2.04" fill="#d7ceee"/>
<rect x="75.10" y="233.89" width="9.50" height="2.04" fill="#a592d7"/>
<rect x="84.55" y="233.89" width="9.50" height="2.04" fill="#4c2a9c"/>
<rect x="56.20" y="235.88" width="9.50" height="2.04" fill="#ef7e5a"/>
<rect x="65.65" y="235.88" width="9.50" height="2.04" fill="#6041af"/>
<rect x="75.10" y="235.88" width="9.50" height="2.04" fill="#472697"/>
<rect x="84.55" y="235.88" width="9.50" height="2.04" fill="#5b3cab"/>
<rect x="56.20" y="237.87" width="9.50" height="2.04" fill="#f8ded6"/>
<rect x="65.65" y="237.87" width="9.50" height="2.04" fill="#a895d8"/>
<rect x="75.10" y="237.87" width="9.50" height="2.04" fill="#5b3cab"/>
<rect x="84.55" y="237.87" width="9.50" height="2.04" fill="#5b3caa"/>
<rect x="56.20" y="239.86" width="9.50" height="2.04" fill="#b2a1dd"/>
<rect x="65.65" y="239.86" width="9.50" height="2.04" fill="#a08cd4"/>
<rect x="75.10" y="239.86" width="9.50" height="2.04" fill="#5e3fad"/>
<rect x="84.55" y="239.86" width="9.50" height="2.04" fill="#4c2a9c"/>
<rect x="56.20" y="241.85" width="9.50" height="2.04" fill="#e8e2f4"/>
<rect x="65.65" y="241.85" width="9.50" height="2.04" fill="#6b4eb9"/>
<rect x="75.10" y="241.85" width="9.50" height="2.04" fill="#4c2a9c"/>
<rect x="84.55" y="241.85" width="9.50" height="2.04" fill="#5534a4"/>
<rect x="56.20" y="243.84" width="9.50" height="2.04" fill="#f8d4c8"/>
<rect x="65.65" y="243.84" width="9.50" height="2.04" fill="#b5a5de"/>
<rect x="75.10" y="243.84" width="9.50" height="2.04" fill="#3d1e8d"/>
<rect x="84.55" y="243.84" width="9.50" height="2.04" fill="#5c3dab"/>
<rect x="56.20" y="245.83" width="9.50" height="2.04" fill="#e8e2f4"/>
<rect x="65.65" y="245.83" width="9.50" height="2.04" fill="#bcade1"/>
<rect x="75.10" y="245.83" width="9.50" height="2.04" fill="#6c50bb"/>
<rect x="84.55" y="245.83" width="9.50" height="2.04" fill="#4b299b"/>
<rect x="56.20" y="247.82" width="9.50" height="2.04" fill="#f18e6f"/>
<rect x="65.65" y="247.82" width="9.50" height="2.04" fill="#ac9ada"/>
<rect x="75.10" y="247.82" width="9.50" height="2.04" fill="#6041af"/>
<rect x="84.55" y="247.82" width="9.50" height="2.04" fill="#6041af"/>
<rect x="56.20" y="249.81" width="9.50" height="2.04" fill="#f5b09a"/>
<rect x="65.65" y="249.81" width="9.50" height="2.04" fill="#f8d4c9"/>
<rect x="75.10" y="249.81" width="9.50" height="2.04" fill="#5c3cab"/>
<rect x="84.55" y="249.81" width="9.50" height="2.04" fill="#7c62c4"/>
<rect x="56.20" y="251.81" width="9.50" height="2.04" fill="#9a85d2"/>
<rect x="65.65" y="251.81" width="9.50" height="2.04" fill="#f3eef8"/>
<rect x="75.10" y="251.81" width="9.50" height="2.04" fill="#6749b5"/>
<rect x="84.55" y="251.81" width="9.50" height="2.04" fill="#391b89"/>
<rect x="56.20" y="253.80" width="9.50" height="2.04" fill="#f8e1db"/>
<rect x="65.65" y="253.80" width="9.50" height="2.04" fill="#e3dcf2"/>
<rect x="75.10" y="253.80" width="9.50" height="2.04" fill="#684bb6"/>
<rect x="84.55" y="253.80" width="9.50" height="2.04" fill="#452595"/>
<rect x="56.20" y="255.79" width="9.50" height="2.04" fill="#f5b8a4"/>
<rect x="65.65" y="255.79" width="9.50" height="2.04" fill="#8c74cb"/>
<rect x="75.10" y="255.79" width="9.50" height="2.04" fill="#3d1e8d"/>
<rect x="84.55" y="255.79" width="9.50" height="2.04" fill="#3d1e8d"/>
<rect x="56.20" y="257.78" width="9.50" height="2.04" fill="#d6cded"/>
<rect x="65.65" y="257.78" width="9.50" height="2.04" fill="#d7ceee"/>
<rect x="75.10" y="257.78" width="9.50" height="2.04" fill="#472697"/>
<rect x="84.55" y="257.78" width="9.50" height="2.04" fill="#482798"/>
<rect x="56.20" y="259.77" width="9.50" height="2.04" fill="#f6beac"/>
<rect x="65.65" y="259.77" width="9.50" height="2.04" fill="#e4ddf3"/>
<rect x="75.10" y="259.77" width="9.50" height="2.04" fill="#a28ed5"/>
<rect x="84.55" y="259.77" width="9.50" height="2.04" fill="#b2a1dd"/>
<rect x="56.20" y="261.76" width="9.50" height="2.04" fill="#927cce"/>
<rect x="65.65" y="261.76" width="9.50" height="2.04" fill="#9983d1"/>
<rect x="75.10" y="261.76" width="9.50" height="2.04" fill="#462696"/>
<rect x="84.55" y="261.76" width="9.50" height="2.04" fill="#381a88"/>
<rect x="56.20" y="263.75" width="9.50" height="2.04" fill="#d2c8eb"/>
<rect x="65.65" y="263.75" width="9.50" height="2.04" fill="#c1b3e4"/>
<rect x="75.10" y="263.75" width="9.50" height="2.04" fill="#4a299a"/>
<rect x="84.55" y="263.75" width="9.50" height="2.04" fill="#502ea0"/>
<rect x="56.20" y="265.74" width="9.50" height="2.04" fill="#f8d1c5"/>
<rect x="65.65" y="265.74" width="9.50" height="2.04" fill="#e8e2f4"/>
<rect x="75.10" y="265.74" width="9.50" height="2.04" fill="#452595"/>
<rect x="84.55" y="265.74" width="9.50" height="2.04" fill="#6649b5"/>
<rect x="56.20" y="267.73" width="9.50" height="2.04" fill="#dcd4f0"/>
<rect x="65.65" y="267.73" width="9.50" height="2.04" fill="#baabe1"/>
<rect x="75.10" y="267.73" width="9.50" height="2.04" fill="#684ab6"/>
<rect x="84.55" y="267.73" width="9.50" height="2.04" fill="#452495"/>
<rect x="56.20" y="269.72" width="9.50" height="2.04" fill="#f8efee"/>
<rect x="65.65" y="269.72" width="9.50" height="2.04" fill="#6a4db9"/>
<rect x="75.10" y="269.72" width="9.50" height="2.04" fill="#4d2c9d"/>
<rect x="84.55" y="269.72" width="9.50" height="2.04" fill="#482798"/>
<rect x="56.20" y="271.71" width="9.50" height="2.04" fill="#cabfe8"/>
<rect x="65.65" y="271.71" width="9.50" height="2.04" fill="#6749b5"/>
<rect x="75.10" y="271.71" width="9.50" height="2.04" fill="#5737a6"/>
<rect x="84.55" y="271.71" width="9.50" height="2.04" fill="#6648b4"/>
<rect x="56.20" y="273.70" width="9.50" height="2.04" fill="#f8e0d9"/>
<rect x="65.65" y="273.70" width="9.50" height="2.04" fill="#907acd"/>
<rect x="75.10" y="273.70" width="9.50" height="2.04" fill="#3f208f"/>
<rect x="84.55" y="273.70" width="9.50" height="2.04" fill="#5838a7"/>
<rect x="56.20" y="275.69" width="9.50" height="2.04" fill="#9680d0"/>
<rect x="65.65" y="275.69" width="9.50" height="2.04" fill="#775cc1"/>
<rect x="75.10" y="275.69" width="9.50" height="2.04" fill="#492899"/>
<rect x="84.55" y="275.69" width="9.50" height="2.04" fill="#3f208f"/>
<rect x="56.20" y="277.69" width="9.50" height="2.04" fill="#e0d8f1"/>
<rect x="65.65" y="277.69" width="9.50" height="2.04" fill="#cfc5ea"/>
<rect x="75.10" y="277.69" width="9.50" height="2.04" fill="#917acd"/>
<rect x="84.55" y="277.69" width="9.50" height="2.04" fill="#4c2a9c"/>
<rect x="56.20" y="279.68" width="9.50" height="2.04" fill="#f6beac"/>
<rect x="65.65" y="279.68" width="9.50" height="2.04" fill="#f8dcd3"/>
<rect x="75.10" y="279.68" width="9.50" height="2.04" fill="#9680d0"/>
<rect x="84.55" y="279.68" width="9.50" height="2.04" fill="#d1c6eb"/>
<rect x="56.20" y="281.67" width="9.50" height="2.04" fill="#6547b4"/>
<rect x="65.65" y="281.67" width="9.50" height="2.04" fill="#a28fd6"/>
<rect x="75.10" y="281.67" width="9.50" height="2.04" fill="#4c2a9c"/>
<rect x="84.55" y="281.67" width="9.50" height="2.04" fill="#4e2c9e"/>
<rect x="56.20" y="283.66" width="9.50" height="2.04" fill="#f29274"/>
<rect x="65.65" y="283.66" width="9.50" height="2.04" fill="#f7c7b7"/>
<rect x="75.10" y="283.66" width="9.50" height="2.04" fill="#c8bbe7"/>
<rect x="84.55" y="283.66" width="9.50" height="2.04" fill="#baabe1"/>
<rect x="56.20" y="285.65" width="9.50" height="2.04" fill="#f2edf7"/>
<rect x="65.65" y="285.65" width="9.50" height="2.04" fill="#e2dbf2"/>
<rect x="75.10" y="285.65" width="9.50" height="2.04" fill="#381a88"/>
<rect x="84.55" y="285.65" width="9.50" height="2.04" fill="#ac9ada"/>
<rect x="56.20" y="287.64" width="9.50" height="2.04" fill="#f8d7cd"/>
<rect x="65.65" y="287.64" width="9.50" height="2.04" fill="#f8d9d0"/>
<rect x="75.10" y="287.64" width="9.50" height="2.04" fill="#4b299b"/>
<rect x="84.55" y="287.64" width="9.50" height="2.04" fill="#4c2a9c"/>
<rect x="56.20" y="289.63" width="9.50" height="2.04" fill="#b7a8df"/>
<rect x="65.65" y="289.63" width="9.50" height="2.04" fill="#836ac7"/>
<rect x="75.10" y="289.63" width="9.50" height="2.04" fill="#5838a7"/>
<rect x="84.55" y="289.63" width="9.50" height="2.04" fill="#502e9f"/>
<rect x="56.20" y="291.62" width="9.50" height="2.04" fill="#ece6f5"/>
<rect x="65.65" y="291.62" width="9.50" height="2.04" fill="#e5def3"/>
<rect x="75.10" y="291.62" width="9.50" height="2.04" fill="#6142af"/>
<rect x="84.55" y="291.62" width="9.50" height="2.04" fill="#5737a7"/>
<rect x="56.20" y="293.61" width="9.50" height="2.04" fill="#f8e4df"/>
<rect x="65.65" y="293.61" width="9.50" height="2.04" fill="#9680d0"/>
<rect x="75.10" y="293.61" width="9.50" height="2.04" fill="#9b87d2"/>
<rect x="84.55" y="293.61" width="9.50" height="2.04" fill="#7a5fc3"/>
<rect x="56.20" y="295.60" width="9.50" height="2.04" fill="#f8e5e0"/>
<rect x="65.65" y="295.60" width="9.50" height="2.04" fill="#a28fd6"/>
<rect x="75.10" y="295.60" width="9.50" height="2.04" fill="#381a88"/>
<rect x="84.55" y="295.60" width="9.50" height="2.04" fill="#765bc1"/>
<rect x="56.20" y="297.59" width="9.50" height="2.04" fill="#f6bfad"/>
<rect x="65.65" y="297.59" width="9.50" height="2.04" fill="#cec3ea"/>
<rect x="75.10" y="297.59" width="9.50" height="2.04" fill="#5737a6"/>
<rect x="84.55" y="297.59" width="9.50" height="2.04" fill="#432393"/>
<rect x="56.20" y="299.58" width="9.50" height="2.04" fill="#f8d1c4"/>
<rect x="65.65" y="299.58" width="9.50" height="2.04" fill="#cfc4ea"/>
<rect x="75.10" y="299.58" width="9.50" height="2.04" fill="#765bc1"/>
<rect x="84.55" y="299.58" width="9.50" height="2.04" fill="#775cc1"/>
<rect x="56.20" y="301.57" width="9.50" height="2.04" fill="#f8edec"/>
<rect x="65.65" y="301.57" width="9.50" height="2.04" fill="#d0c6eb"/>
<rect x="75.10" y="301.57" width="9.50" height="2.04" fill="#3b1c8b"/>
<rect x="84.55" y="301.57" width="9.50" height="2.04" fill="#6142b0"/>
<rect x="56.20" y="303.56" width="9.50" height="2.04" fill="#f39f85"/>
<rect x="65.65" y="303.56" width="9.50" height="2.04" fill="#c0b2e3"/>
<rect x="75.10" y="303.56" width="9.50" height="2.04" fill="#6244b1"/>
<rect x="84.55" y="303.56" width="9.50" height="2.04" fill="#baabe0"/>
<rect x="56.20" y="305.56" width="9.50" height="2.04" fill="#f8ded6"/>
<rect x="65.65" y="305.56" width="9.50" height="2.04" fill="#f8ebe8"/>
<rect x="75.10" y="305.56" width="9.50" height="2.04" fill="#5331a2"/>
<rect x="84.55" y="305.56" width="9.50" height="2.04" fill="#846bc7"/>
<rect x="56.20" y="307.55" width="9.50" height="2.04" fill="#e4ddf3"/>
<rect x="65.65" y="307.55" width="9.50" height="2.04" fill="#9984d1"/>
<rect x="75.10" y="307.55" width="9.50" height="2.04" fill="#4e2c9e"/>
<rect x="84.55" y="307.55" width="9.50" height="2.04" fill="#7357bf"/>
<rect x="56.20" y="309.54" width="9.50" height="2.04" fill="#f6bdab"/>
<rect x="65.65" y="309.54" width="9.50" height="2.04" fill="#f3eff8"/>
<rect x="75.10" y="309.54" width="9.50" height="2.04" fill="#beafe2"/>
<rect x="84.55" y="309.54" width="9.50" height="2.04" fill="#7f65c5"/>
<rect x="56.20" y="311.53" width="9.50" height="2.04" fill="#f7c8b8"/>
<rect x="65.65" y="311.53" width="9.50" height="2.04" fill="#bfb0e3"/>
<rect x="75.10" y="311.53" width="9.50" height="2.04" fill="#7a5fc2"/>
<rect x="84.55" y="311.53" width="9.50" height="2.04" fill="#492899"/>
<rect x="56.20" y="313.52" width="9.50" height="2.04" fill="#c6b9e6"/>
<rect x="65.65" y="313.52" width="9.50" height="2.04" fill="#b4a3de"/>
<rect x="75.10" y="313.52" width="9.50" height="2.04" fill="#5e3fad"/>
<rect x="84.55" y="313.52" width="9.50" height="2.04" fill="#6a4db9"/>
<rect x="56.20" y="315.51" width="9.50" height="2.04" fill="#f8d2c5"/>
<rect x="65.65" y="315.51" width="9.50" height="2.04" fill="#c8bbe7"/>
<rect x="75.10" y="315.51" width="9.50" height="2.04" fill="#8d75cb"/>
<rect x="84.55" y="315.51" width="9.50" height="2.04" fill="#cfc4ea"/>
<rect x="56.20" y="317.50" width="9.50" height="2.04" fill="#f8e3dd"/>
<rect x="65.65" y="317.50" width="9.50" height="2.04" fill="#f3eff8"/>
<rect x="75.10" y="317.50" width="9.50" height="2.04" fill="#684bb6"/>
<rect x="84.55" y="317.50" width="9.50" height="2.04" fill="#492899"/>
<rect x="56.20" y="319.49" width="9.50" height="2.04" fill="#e5512b"/>
<rect x="65.65" y="319.49" width="9.50" height="2.04" fill="#b7a7df"/>
<rect x="75.10" y="319.49" width="9.50" height="2.04" fill="#b3a3dd"/>
<rect x="84.55" y="319.49" width="9.50" height="2.04" fill="#d9d0ef"/>
<rect x="56.20" y="321.48" width="9.50" height="2.04" fill="#f5b29c"/>
<rect x="65.65" y="321.48" width="9.50" height="2.04" fill="#d4caec"/>
<rect x="75.10" y="321.48" width="9.50" height="2.04" fill="#5b3baa"/>
<rect x="84.55" y="321.48" width="9.50" height="2.04" fill="#907acd"/>
<rect x="56.20" y="323.47" width="9.50" height="2.04" fill="#e6dff3"/>
<rect x="65.65" y="323.47" width="9.50" height="2.04" fill="#af9edc"/>
<rect x="75.10" y="323.47" width="9.50" height="2.04" fill="#8269c6"/>
<rect x="84.55" y="323.47" width="9.50" height="2.04" fill="#4d2c9d"/>
<rect x="56.20" y="325.46" width="9.50" height="2.04" fill="#d7ceee"/>
<rect x="65.65" y="325.46" width="9.50" height="2.04" fill="#c9bde7"/>
<rect x="75.10" y="325.46" width="9.50" height="2.04" fill="#4e2c9e"/>
<rect x="84.55" y="325.46" width="9.50" height="2.04" fill="#502ea0"/>
<rect x="56.20" y="327.45" width="9.50" height="2.04" fill="#e4ddf3"/>
<rect x="65.65" y="327.45" width="9.50" height="2.04" fill="#8c75cb"/>
<rect x="75.10" y="327.45" width="9.50" height="2.04" fill="#6041af"/>
<rect x="84.55" y="327.45" width="9.50" height="2.04" fill="#856cc8"/>
<rect x="56.20" y="329.44" width="9.50" height="2.04" fill="#f08260"/>
<rect x="65.65" y="329.44" width="9.50" height="2.04" fill="#c3b6e5"/>
<rect x="75.10" y="329.44" width="9.50" height="2.04" fill="#7d63c4"/>
<rect x="84.55" y="329.44" width="9.50" height="2.04" fill="#4a289a"/>
<rect x="56.20" y="331.44" width="9.50" height="2.04" fill="#f8d1c5"/>
<rect x="65.65" y="331.44" width="9.50" height="2.04" fill="#f8e6e2"/>
<rect x="75.10" y="331.44" width="9.50" height="2.04" fill="#cbbfe8"/>
<rect x="84.55" y="331.44" width="9.50" height="2.04" fill="#7a5fc3"/>
<rect x="56.20" y="333.43" width="9.50" height="2.04" fill="#f8e4df"/>
<rect x="65.65" y="333.43" width="9.50" height="2.04" fill="#755ac0"/>
<rect x="75.10" y="333.43" width="9.50" height="2.04" fill="#8b73cb"/>
<rect x="84.55" y="333.43" width="9.50" height="2.04" fill="#c5b8e5"/>
<rect x="56.20" y="335.42" width="9.50" height="2.04" fill="#d8cfee"/>
<rect x="65.65" y="335.42" width="9.50" height="2.04" fill="#8168c6"/>
<rect x="75.10" y="335.42" width="9.50" height="2.04" fill="#5434a4"/>
<rect x="84.55" y="335.42" width="9.50" height="2.04" fill="#5a3baa"/>
<rect x="56.20" y="337.41" width="9.50" height="2.04" fill="#f8cfc2"/>
<rect x="65.65" y="337.41" width="9.50" height="2.04" fill="#f8d0c3"/>
<rect x="75.10" y="337.41" width="9.50" height="2.04" fill="#8e77cc"/>
<rect x="84.55" y="337.41" width="9.50" height="2.04" fill="#d4cbec"/>
<rect x="56.20" y="339.40" width="9.50" height="2.04" fill="#d3c9ec"/>
<rect x="65.65" y="339.40" width="9.50" height="2.04" fill="#f1edf7"/>
<rect x="75.10" y="339.40" width="9.50" height="2.04" fill="#6e51bc"/>
<rect x="84.55" y="339.40" width="9.50" height="2.04" fill="#6445b2"/>
<rect x="56.20" y="341.39" width="9.50" height="2.04" fill="#a38fd6"/>
<rect x="65.65" y="341.39" width="9.50" height="2.04" fill="#9d88d3"/>
<rect x="75.10" y="341.39" width="9.50" height="2.04" fill="#7a60c3"/>
<rect x="84.55" y="341.39" width="9.50" height="2.04" fill="#6e52bd"/>
<rect x="56.20" y="343.38" width="9.50" height="2.04" fill="#f8e2dc"/>
<rect x="65.65" y="343.38" width="9.50" height="2.04" fill="#f8d5c9"/>
<rect x="75.10" y="343.38" width="9.50" height="2.04" fill="#7b61c3"/>
<rect x="84.55" y="343.38" width="9.50" height="2.04" fill="#7f66c5"/>
<rect x="56.20" y="345.37" width="9.50" height="2.04" fill="#f8d0c3"/>
<rect x="65.65" y="345.37" width="9.50" height="2.04" fill="#d5cced"/>
<rect x="75.10" y="345.37" width="9.50" height="2.04" fill="#836ac7"/>
<rect x="84.55" y="345.37" width="9.50" height="2.04" fill="#9e8ad4"/>
<rect x="56.20" y="347.36" width="9.50" height="2.04" fill="#f7ccbe"/>
<rect x="65.65" y="347.36" width="9.50" height="2.04" fill="#9c87d2"/>
<rect x="75.10" y="347.36" width="9.50" height="2.04" fill="#ad9cdb"/>
<rect x="84.55" y="347.36" width="9.50" height="2.04" fill="#ac9bda"/>
<rect x="56.20" y="349.35" width="9.50" height="2.04" fill="#f2eef7"/>
<rect x="65.65" y="349.35" width="9.50" height="2.04" fill="#8d75cb"/>
<rect x="75.10" y="349.35" width="9.50" height="2.04" fill="#5d3eac"/>
<rect x="84.55" y="349.35" width="9.50" height="2.04" fill="#917acd"/>
<rect x="56.20" y="351.34" width="9.50" height="2.04" fill="#f8e3de"/>
<rect x="65.65" y="351.34" width="9.50" height="2.04" fill="#f8e1da"/>
<rect x="75.10" y="351.34" width="9.50" height="2.04" fill="#8e77cc"/>
<rect x="84.55" y="351.34" width="9.50" height="2.04" fill="#f5b5a1"/>
<rect x="56.20" y="353.33" width="9.50" height="2.04" fill="#f7cdbf"/>
<rect x="65.65" y="353.33" width="9.50" height="2.04" fill="#8f78cc"/>
<rect x="75.10" y="353.33" width="9.50" height="2.04" fill="#a08bd4"/>
<rect x="84.55" y="353.33" width="9.50" height="2.04" fill="#eee9f6"/>
<rect x="56.20" y="355.32" width="9.50" height="2.04" fill="#8067c6"/>
<rect x="65.65" y="355.32" width="9.50" height="2.04" fill="#7a60c3"/>
<rect x="75.10" y="355.32" width="9.50" height="2.04" fill="#4b2a9b"/>
<rect x="84.55" y="355.32" width="9.50" height="2.04" fill="#462596"/>
<rect x="56.20" y="357.31" width="9.50" height="2.04" fill="#f3a289"/>
<rect x="65.65" y="357.31" width="9.50" height="2.04" fill="#c4b6e5"/>
<rect x="75.10" y="357.31" width="9.50" height="2.04" fill="#f8ddd5"/>
<rect x="84.55" y="357.31" width="9.50" height="2.04" fill="#9883d1"/>
<rect x="56.20" y="359.31" width="9.50" height="2.04" fill="#f8e4df"/>
<rect x="65.65" y="359.31" width="9.50" height="2.04" fill="#f2edf7"/>
<rect x="75.10" y="359.31" width="9.50" height="2.04" fill="#f8ebe9"/>
<rect x="84.55" y="359.31" width="9.50" height="2.04" fill="#d2c7eb"/>
<rect x="56.20" y="361.30" width="9.50" height="2.04" fill="#6f53bd"/>
<rect x="65.65" y="361.30" width="9.50" height="2.04" fill="#cabee8"/>
<rect x="75.10" y="361.30" width="9.50" height="2.04" fill="#876fc9"/>
<rect x="84.55" y="361.30" width="9.50" height="2.04" fill="#5838a7"/>
<rect x="56.20" y="363.29" width="9.50" height="2.04" fill="#f6bcaa"/>
<rect x="65.65" y="363.29" width="9.50" height="2.04" fill="#f8e5e0"/>
<rect x="75.10" y="363.29" width="9.50" height="2.04" fill="#5c3cab"/>
<rect x="84.55" y="363.29" width="9.50" height="2.04" fill="#b6a6df"/>
<rect x="56.20" y="365.28" width="9.50" height="2.04" fill="#f5af99"/>
<rect x="65.65" y="365.28" width="9.50" height="2.04" fill="#f8d9cf"/>
<rect x="75.10" y="365.28" width="9.50" height="2.04" fill="#5939a8"/>
<rect x="84.55" y="365.28" width="9.50" height="2.04" fill="#d3caec"/>
<rect x="56.20" y="367.27" width="9.50" height="2.04" fill="#ee7651"/>
<rect x="65.65" y="367.27" width="9.50" height="2.04" fill="#a895d8"/>
<rect x="75.10" y="367.27" width="9.50" height="2.04" fill="#a28fd5"/>
<rect x="84.55" y="367.27" width="9.50" height="2.04" fill="#bfb1e3"/>
<rect x="56.20" y="369.26" width="9.50" height="2.04" fill="#f8e7e3"/>
<rect x="65.65" y="369.26" width="9.50" height="2.04" fill="#f7ccbe"/>
<rect x="75.10" y="369.26" width="9.50" height="2.04" fill="#9e89d3"/>
<rect x="84.55" y="369.26" width="9.50" height="2.04" fill="#ddd6f0"/>
<rect x="56.20" y="371.25" width="9.50" height="2.04" fill="#e9e3f4"/>
<rect x="65.65" y="371.25" width="9.50" height="2.04" fill="#8f78cd"/>
<rect x="75.10" y="371.25" width="9.50" height="2.04" fill="#5737a7"/>
<rect x="84.55" y="371.25" width="9.50" height="2.04" fill="#d3c9ec"/>
<rect x="56.20" y="373.24" width="9.50" height="2.04" fill="#e6e0f3"/>
<rect x="65.65" y="373.24" width="9.50" height="2.04" fill="#ddd5f0"/>
<rect x="75.10" y="373.24" width="9.50" height="2.04" fill="#e5def3"/>
<rect x="84.55" y="373.24" width="9.50" height="2.04" fill="#8e77cc"/>
<rect x="56.20" y="375.23" width="9.50" height="2.04" fill="#f8ddd5"/>
<rect x="65.65" y="375.23" width="9.50" height="2.04" fill="#ded6f1"/>
<rect x="75.10" y="375.23" width="9.50" height="2.04" fill="#9781d0"/>
<rect x="84.55" y="375.23" width="9.50" height="2.04" fill="#5a3baa"/>
<rect x="56.20" y="377.22" width="9.50" height="2.04" fill="#f5b6a1"/>
<rect x="65.65" y="377.22" width="9.50" height="2.04" fill="#f3eef8"/>
<rect x="75.10" y="377.22" width="9.50" height="2.04" fill="#d1c7eb"/>
<rect x="84.55" y="377.22" width="9.50" height="2.04" fill="#f1ecf7"/>
<rect x="56.20" y="379.21" width="9.50" height="2.04" fill="#b4a4de"/>
<rect x="65.65" y="379.21" width="9.50" height="2.04" fill="#937cce"/>
<rect x="75.10" y="379.21" width="9.50" height="2.04" fill="#846bc7"/>
<rect x="84.55" y="379.21" width="9.50" height="2.04" fill="#8c75cb"/>
<rect x="56.20" y="381.20" width="9.50" height="2.04" fill="#e9e3f4"/>
<rect x="65.65" y="381.20" width="9.50" height="2.04" fill="#6546b3"/>
<rect x="75.10" y="381.20" width="9.50" height="2.04" fill="#a895d8"/>
<rect x="84.55" y="381.20" width="9.50" height="2.04" fill="#6749b5"/>
<rect x="56.20" y="383.19" width="9.50" height="2.04" fill="#f4a58c"/>
<rect x="65.65" y="383.19" width="9.50" height="2.04" fill="#e0d9f1"/>
<rect x="75.10" y="383.19" width="9.50" height="2.04" fill="#9f8bd4"/>
<rect x="84.55" y="383.19" width="9.50" height="2.04" fill="#d0c6eb"/>
<rect x="56.20" y="385.19" width="9.50" height="2.04" fill="#a794d8"/>
<rect x="65.65" y="385.19" width="9.50" height="2.04" fill="#b09fdc"/>
<rect x="75.10" y="385.19" width="9.50" height="2.04" fill="#c7bbe7"/>
<rect x="84.55" y="385.19" width="9.50" height="2.04" fill="#b09fdc"/>
<rect x="56.20" y="387.18" width="9.50" height="2.04" fill="#f7cdbf"/>
<rect x="65.65" y="387.18" width="9.50" height="2.04" fill="#efeaf6"/>
<rect x="75.10" y="387.18" width="9.50" height="2.04" fill="#e9e4f4"/>
<rect x="84.55" y="387.18" width="9.50" height="2.04" fill="#e4ddf3"/>
<rect x="56.20" y="389.17" width="9.50" height="2.04" fill="#eae4f5"/>
<rect x="65.65" y="389.17" width="9.50" height="2.04" fill="#b1a0dc"/>
<rect x="75.10" y="389.17" width="9.50" height="2.04" fill="#a38fd6"/>
<rect x="84.55" y="389.17" width="9.50" height="2.04" fill="#b2a1dd"/>
<rect x="56.20" y="391.16" width="9.50" height="2.04" fill="#a592d7"/>
<rect x="65.65" y="391.16" width="9.50" height="2.04" fill="#886fc9"/>
<rect x="75.10" y="391.16" width="9.50" height="2.04" fill="#5d3eac"/>
<rect x="84.55" y="391.16" width="9.50" height="2.04" fill="#866dc8"/>
<rect x="56.20" y="393.15" width="9.50" height="2.04" fill="#f8e6e2"/>
<rect x="65.65" y="393.15" width="9.50" height="2.04" fill="#f4a890"/>
<rect x="75.10" y="393.15" width="9.50" height="2.04" fill="#6142b0"/>
<rect x="84.55" y="393.15" width="9.50" height="2.04" fill="#d5cced"/>
<rect x="56.20" y="395.14" width="9.50" height="2.04" fill="#e3dcf2"/>
<rect x="65.65" y="395.14" width="9.50" height="2.04" fill="#f8e1da"/>
<rect x="75.10" y="395.14" width="9.50" height="2.04" fill="#402190"/>
<rect x="84.55" y="395.14" width="9.50" height="2.04" fill="#8d76cc"/>
<rect x="56.20" y="397.13" width="9.50" height="2.04" fill="#f8eceb"/>
<rect x="65.65" y="397.13" width="9.50" height="2.04" fill="#f8eeed"/>
<rect x="75.10" y="397.13" width="9.50" height="2.04" fill="#6d51bb"/>
<rect x="84.55" y="397.13" width="9.50" height="2.04" fill="#f8ded7"/>
<rect x="56.20" y="399.12" width="9.50" height="2.04" fill="#f8e3dd"/>
<rect x="65.65" y="399.12" width="9.50" height="2.04" fill="#beafe2"/>
<rect x="75.10" y="399.12" width="9.50" height="2.04" fill="#f1edf7"/>
<rect x="84.55" y="399.12" width="9.50" height="2.04" fill="#c7bae6"/>
<rect x="56.20" y="401.11" width="9.50" height="2.04" fill="#e6e0f3"/>
<rect x="65.65" y="401.11" width="9.50" height="2.04" fill="#6b4eb9"/>
<rect x="75.10" y="401.11" width="9.50" height="2.04" fill="#d1c7eb"/>
<rect x="84.55" y="401.11" width="9.50" height="2.04" fill="#e4ddf3"/>
<rect x="56.20" y="403.10" width="9.50" height="2.04" fill="#e8e2f4"/>
<rect x="65.65" y="403.10" width="9.50" height="2.04" fill="#e7e1f4"/>
<rect x="75.10" y="403.10" width="9.50" height="2.04" fill="#f8e4de"/>
<rect x="84.55" y="403.10" width="9.50" height="2.04" fill="#f2eef7"/>
<rect x="56.20" y="405.09" width="9.50" height="2.04" fill="#ee754f"/>
<rect x="65.65" y="405.09" width="9.50" height="2.04" fill="#d2c7eb"/>
<rect x="75.10" y="405.09" width="9.50" height="2.04" fill="#9c88d3"/>
<rect x="84.55" y="405.09" width="9.50" height="2.04" fill="#f6beac"/>
<rect x="56.20" y="407.08" width="9.50" height="2.04" fill="#f29376"/>
<rect x="65.65" y="407.08" width="9.50" height="2.04" fill="#f6bba8"/>
<rect x="75.10" y="407.08" width="9.50" height="2.04" fill="#e8e2f4"/>
<rect x="84.55" y="407.08" width="9.50" height="2.04" fill="#eae5f5"/>
<rect x="56.20" y="409.07" width="9.50" height="2.04" fill="#ebe5f5"/>
<rect x="65.65" y="409.07" width="9.50" height="2.04" fill="#9781d0"/>
<rect x="75.10" y="409.07" width="9.50" height="2.04" fill="#c0b2e3"/>
<rect x="84.55" y="409.07" width="9.50" height="2.04" fill="#f08563"/>
<rect x="56.20" y="411.06" width="9.50" height="2.04" fill="#f7ccbe"/>
<rect x="65.65" y="411.06" width="9.50" height="2.04" fill="#f1ecf7"/>
<rect x="75.10" y="411.06" width="9.50" height="2.04" fill="#f7c7b8"/>
<rect x="84.55" y="411.06" width="9.50" height="2.04" fill="#f8edec"/>
<rect x="56.20" y="413.06" width="9.50" height="2.04" fill="#f7c5b5"/>
<rect x="65.65" y="413.06" width="9.50" height="2.04" fill="#cdc2e9"/>
<rect x="75.10" y="413.06" width="9.50" height="2.04" fill="#f4aa92"/>
<rect x="84.55" y="413.06" width="9.50" height="2.04" fill="#ebe6f5"/>
<rect x="56.20" y="415.05" width="9.50" height="2.04" fill="#f8e9e6"/>
<rect x="65.65" y="415.05" width="9.50" height="2.04" fill="#cabfe8"/>
<rect x="75.10" y="415.05" width="9.50" height="2.04" fill="#e8e2f4"/>
<rect x="84.55" y="415.05" width="9.50" height="2.04" fill="#c0b2e3"/>
<rect x="56.20" y="417.04" width="9.50" height="2.04" fill="#5838a8"/>
<rect x="65.65" y="417.04" width="9.50" height="2.04" fill="#5c3dab"/>
<rect x="75.10" y="417.04" width="9.50" height="2.04" fill="#6b4eb9"/>
<rect x="84.55" y="417.04" width="9.50" height="2.04" fill="#927cce"/>
<rect x="56.20" y="419.03" width="9.50" height="2.04" fill="#f8d5c9"/>
<rect x="65.65" y="419.03" width="9.50" height="2.04" fill="#dbd3f0"/>
<rect x="75.10" y="419.03" width="9.50" height="2.04" fill="#ad9bda"/>
<rect x="84.55" y="419.03" width="9.50" height="2.04" fill="#b9aae0"/>
<rect x="56.20" y="421.02" width="9.50" height="2.04" fill="#9f8bd4"/>
<rect x="65.65" y="421.02" width="9.50" height="2.04" fill="#9984d1"/>
<rect x="75.10" y="421.02" width="9.50" height="2.04" fill="#9c87d2"/>
<rect x="84.55" y="421.02" width="9.50" height="2.04" fill="#846bc7"/>
<rect x="56.20" y="423.01" width="9.50" height="2.04" fill="#f7cbbd"/>
<rect x="65.65" y="423.01" width="9.50" height="2.04" fill="#cec3ea"/>
<rect x="75.10" y="423.01" width="9.50" height="2.04" fill="#eee8f6"/>
<rect x="84.55" y="423.01" width="9.50" height="2.04" fill="#ede8f6"/>
<rect x="95.80" y="210.00" width="9.52" height="2.04" fill="#ef7d58"/>
<rect x="105.27" y="210.00" width="9.52" height="2.04" fill="#f8e0d9"/>
<rect x="114.73" y="210.00" width="9.52" height="2.04" fill="#7d63c4"/>
<rect x="95.80" y="211.99" width="9.52" height="2.04" fill="#ede7f6"/>
<rect x="105.27" y="211.99" width="9.52" height="2.04" fill="#f3a288"/>
<rect x="114.73" y="211.99" width="9.52" height="2.04" fill="#bfb1e3"/>
<rect x="95.80" y="213.98" width="9.52" height="2.04" fill="#f39e83"/>
<rect x="105.27" y="213.98" width="9.52" height="2.04" fill="#f2987c"/>
<rect x="114.73" y="213.98" width="9.52" height="2.04" fill="#af9edb"/>
<rect x="95.80" y="215.97" width="9.52" height="2.04" fill="#f7c7b7"/>
<rect x="105.27" y="215.97" width="9.52" height="2.04" fill="#f6bfad"/>
<rect x="114.73" y="215.97" width="9.52" height="2.04" fill="#ccc1e9"/>
<rect x="95.80" y="217.96" width="9.52" height="2.04" fill="#f08765"/>
<rect x="105.27" y="217.96" width="9.52" height="2.04" fill="#f6c1b0"/>
<rect x="114.73" y="217.96" width="9.52" height="2.04" fill="#ac9ada"/>
<rect x="95.80" y="219.95" width="9.52" height="2.04" fill="#eee9f6"/>
<rect x="105.27" y="219.95" width="9.52" height="2.04" fill="#f3a086"/>
<rect x="114.73" y="219.95" width="9.52" height="2.04" fill="#5e3fad"/>
<rect x="95.80" y="221.94" width="9.52" height="2.04" fill="#ea6640"/>
<rect x="105.27" y="221.94" width="9.52" height="2.04" fill="#f2987c"/>
<rect x="114.73" y="221.94" width="9.52" height="2.04" fill="#9983d1"/>
<rect x="95.80" y="223.94" width="9.52" height="2.04" fill="#f6baa7"/>
<rect x="105.27" y="223.94" width="9.52" height="2.04" fill="#f29a7e"/>
<rect x="114.73" y="223.94" width="9.52" height="2.04" fill="#8f78cd"/>
<rect x="95.80" y="225.93" width="9.52" height="2.04" fill="#f18c6c"/>
<rect x="105.27" y="225.93" width="9.52" height="2.04" fill="#f18e6e"/>
<rect x="114.73" y="225.93" width="9.52" height="2.04" fill="#ae9cdb"/>
<rect x="95.80" y="227.92" width="9.52" height="2.04" fill="#ee7853"/>
<rect x="105.27" y="227.92" width="9.52" height="2.04" fill="#e6e0f3"/>
<rect x="114.73" y="227.92" width="9.52" height="2.04" fill="#9580cf"/>
<rect x="95.80" y="229.91" width="9.52" height="2.04" fill="#f7cabb"/>
<rect x="105.27" y="229.91" width="9.52" height="2.04" fill="#f8d3c7"/>
<rect x="114.73" y="229.91" width="9.52" height="2.04" fill="#b9a9e0"/>
<rect x="95.80" y="231.90" width="9.52" height="2.04" fill="#ea6640"/>
<rect x="105.27" y="231.90" width="9.52" height="2.04" fill="#f0805c"/>
<rect x="114.73" y="231.90" width="9.52" height="2.04" fill="#8870c9"/>
<rect x="95.80" y="233.89" width="9.52" height="2.04" fill="#ef7a55"/>
<rect x="105.27" y="233.89" width="9.52" height="2.04" fill="#f18f71"/>
<rect x="114.73" y="233.89" width="9.52" height="2.04" fill="#9b86d2"/>
<rect x="95.80" y="235.88" width="9.52" height="2.04" fill="#f8edec"/>
<rect x="105.27" y="235.88" width="9.52" height="2.04" fill="#f7cdbf"/>
<rect x="114.73" y="235.88" width="9.52" height="2.04" fill="#9e8ad4"/>
<rect x="95.80" y="237.87" width="9.52" height="2.04" fill="#f4aa92"/>
<rect x="105.27" y="237.87" width="9.52" height="2.04" fill="#f1ecf7"/>
<rect x="114.73" y="237.87" width="9.52" height="2.04" fill="#d3caec"/>
<rect x="95.80" y="239.86" width="9.52" height="2.04" fill="#c1b4e4"/>
<rect x="105.27" y="239.86" width="9.52" height="2.04" fill="#f8eeed"/>
<rect x="114.73" y="239.86" width="9.52" height="2.04" fill="#5c3cab"/>
<rect x="95.80" y="241.85" width="9.52" height="2.04" fill="#f8eeec"/>
<rect x="105.27" y="241.85" width="9.52" height="2.04" fill="#f8e5e0"/>
<rect x="114.73" y="241.85" width="9.52" height="2.04" fill="#4b2a9b"/>
<rect x="95.80" y="243.84" width="9.52" height="2.04" fill="#f08462"/>
<rect x="105.27" y="243.84" width="9.52" height="2.04" fill="#f5b39e"/>
<rect x="114.73" y="243.84" width="9.52" height="2.04" fill="#7f65c5"/>
<rect x="95.80" y="245.83" width="9.52" height="2.04" fill="#f6baa7"/>
<rect x="105.27" y="245.83" width="9.52" height="2.04" fill="#f7ccbe"/>
<rect x="114.73" y="245.83" width="9.52" height="2.04" fill="#b5a5de"/>
<rect x="95.80" y="247.82" width="9.52" height="2.04" fill="#b8a9e0"/>
<rect x="105.27" y="247.82" width="9.52" height="2.04" fill="#f8d3c7"/>
<rect x="114.73" y="247.82" width="9.52" height="2.04" fill="#6548b4"/>
<rect x="95.80" y="249.81" width="9.52" height="2.04" fill="#f6bfad"/>
<rect x="105.27" y="249.81" width="9.52" height="2.04" fill="#f5b09a"/>
<rect x="114.73" y="249.81" width="9.52" height="2.04" fill="#f8d9d0"/>
<rect x="95.80" y="251.81" width="9.52" height="2.04" fill="#d4cbec"/>
<rect x="105.27" y="251.81" width="9.52" height="2.04" fill="#ae9cdb"/>
<rect x="114.73" y="251.81" width="9.52" height="2.04" fill="#3a1c8a"/>
<rect x="95.80" y="253.80" width="9.52" height="2.04" fill="#f8eceb"/>
<rect x="105.27" y="253.80" width="9.52" height="2.04" fill="#b5a5de"/>
<rect x="114.73" y="253.80" width="9.52" height="2.04" fill="#391b89"/>
<rect x="95.80" y="255.79" width="9.52" height="2.04" fill="#f8d3c7"/>
<rect x="105.27" y="255.79" width="9.52" height="2.04" fill="#bdafe2"/>
<rect x="114.73" y="255.79" width="9.52" height="2.04" fill="#5737a7"/>
<rect x="95.80" y="257.78" width="9.52" height="2.04" fill="#ef7a55"/>
<rect x="105.27" y="257.78" width="9.52" height="2.04" fill="#ee7651"/>
<rect x="114.73" y="257.78" width="9.52" height="2.04" fill="#cfc5ea"/>
<rect x="95.80" y="259.77" width="9.52" height="2.04" fill="#f4ad96"/>
<rect x="105.27" y="259.77" width="9.52" height="2.04" fill="#f0805d"/>
<rect x="114.73" y="259.77" width="9.52" height="2.04" fill="#ddd5f0"/>
<rect x="95.80" y="261.76" width="9.52" height="2.04" fill="#f5b19b"/>
<rect x="105.27" y="261.76" width="9.52" height="2.04" fill="#f7cec0"/>
<rect x="114.73" y="261.76" width="9.52" height="2.04" fill="#866ec8"/>
<rect x="95.80" y="263.75" width="9.52" height="2.04" fill="#ddd6f0"/>
<rect x="105.27" y="263.75" width="9.52" height="2.04" fill="#ebe6f5"/>
<rect x="114.73" y="263.75" width="9.52" height="2.04" fill="#4d2c9d"/>
<rect x="95.80" y="265.74" width="9.52" height="2.04" fill="#f0805d"/>
<rect x="105.27" y="265.74" width="9.52" height="2.04" fill="#f8ddd5"/>
<rect x="114.73" y="265.74" width="9.52" height="2.04" fill="#f8e5e1"/>
<rect x="95.80" y="267.73" width="9.52" height="2.04" fill="#f0ebf7"/>
<rect x="105.27" y="267.73" width="9.52" height="2.04" fill="#eb6c46"/>
<rect x="114.73" y="267.73" width="9.52" height="2.04" fill="#ddd5f0"/>
<rect x="95.80" y="269.72" width="9.52" height="2.04" fill="#f4ab94"/>
<rect x="105.27" y="269.72" width="9.52" height="2.04" fill="#ef7954"/>
<rect x="114.73" y="269.72" width="9.52" height="2.04" fill="#f1edf7"/>
<rect x="95.80" y="271.71" width="9.52" height="2.04" fill="#f4ad96"/>
<rect x="105.27" y="271.71" width="9.52" height="2.04" fill="#f39b80"/>
<rect x="114.73" y="271.71" width="9.52" height="2.04" fill="#5e3fad"/>
<rect x="95.80" y="273.70" width="9.52" height="2.04" fill="#bbace1"/>
<rect x="105.27" y="273.70" width="9.52" height="2.04" fill="#d0c6eb"/>
<rect x="114.73" y="273.70" width="9.52" height="2.04" fill="#5938a8"/>
<rect x="95.80" y="275.69" width="9.52" height="2.04" fill="#f4a48b"/>
<rect x="105.27" y="275.69" width="9.52" height="2.04" fill="#f6c3b2"/>
<rect x="114.73" y="275.69" width="9.52" height="2.04" fill="#8067c6"/>
<rect x="95.80" y="277.69" width="9.52" height="2.04" fill="#f3a288"/>
<rect x="105.27" y="277.69" width="9.52" height="2.04" fill="#f6beac"/>
<rect x="114.73" y="277.69" width="9.52" height="2.04" fill="#8870c9"/>
<rect x="95.80" y="279.68" width="9.52" height="2.04" fill="#f18867"/>
<rect x="105.27" y="279.68" width="9.52" height="2.04" fill="#ede7f6"/>
<rect x="114.73" y="279.68" width="9.52" height="2.04" fill="#a895d8"/>
<rect x="95.80" y="281.67" width="9.52" height="2.04" fill="#f3a288"/>
<rect x="105.27" y="281.67" width="9.52" height="2.04" fill="#f18969"/>
<rect x="114.73" y="281.67" width="9.52" height="2.04" fill="#8a72ca"/>
<rect x="95.80" y="283.66" width="9.52" height="2.04" fill="#f29577"/>
<rect x="105.27" y="283.66" width="9.52" height="2.04" fill="#eee9f6"/>
<rect x="114.73" y="283.66" width="9.52" height="2.04" fill="#dfd7f1"/>
<rect x="95.80" y="285.65" width="9.52" height="2.04" fill="#f3a38a"/>
<rect x="105.27" y="285.65" width="9.52" height="2.04" fill="#d6cded"/>
<rect x="114.73" y="285.65" width="9.52" height="2.04" fill="#6e52bc"/>
<rect x="95.80" y="287.64" width="9.52" height="2.04" fill="#f7c4b4"/>
<rect x="105.27" y="287.64" width="9.52" height="2.04" fill="#f6bcaa"/>
<rect x="114.73" y="287.64" width="9.52" height="2.04" fill="#876ec9"/>
<rect x="95.80" y="289.63" width="9.52" height="2.04" fill="#f4a78e"/>
<rect x="105.27" y="289.63" width="9.52" height="2.04" fill="#f5b19b"/>
<rect x="114.73" y="289.63" width="9.52" height="2.04" fill="#4b2a9b"/>
<rect x="95.80" y="291.62" width="9.52" height="2.04" fill="#f2987b"/>
<rect x="105.27" y="291.62" width="9.52" height="2.04" fill="#eae4f5"/>
<rect x="114.73" y="291.62" width="9.52" height="2.04" fill="#cabfe8"/>
<rect x="95.80" y="293.61" width="9.52" height="2.04" fill="#f08563"/>
<rect x="105.27" y="293.61" width="9.52" height="2.04" fill="#f0ebf7"/>
<rect x="114.73" y="293.61" width="9.52" height="2.04" fill="#f3eff8"/>
<rect x="95.80" y="295.60" width="9.52" height="2.04" fill="#eb6943"/>
<rect x="105.27" y="295.60" width="9.52" height="2.04" fill="#f8e0da"/>
<rect x="114.73" y="295.60" width="9.52" height="2.04" fill="#b5a5de"/>
<rect x="95.80" y="297.59" width="9.52" height="2.04" fill="#e6dff3"/>
<rect x="105.27" y="297.59" width="9.52" height="2.04" fill="#f5ae97"/>
<rect x="114.73" y="297.59" width="9.52" height="2.04" fill="#baaae0"/>
<rect x="95.80" y="299.58" width="9.52" height="2.04" fill="#ed714b"/>
<rect x="105.27" y="299.58" width="9.52" height="2.04" fill="#f5b8a4"/>
<rect x="114.73" y="299.58" width="9.52" height="2.04" fill="#846bc7"/>
<rect x="95.80" y="301.57" width="9.52" height="2.04" fill="#eee9f6"/>
<rect x="105.27" y="301.57" width="9.52" height="2.04" fill="#d7cdee"/>
<rect x="114.73" y="301.57" width="9.52" height="2.04" fill="#a08cd4"/>
<rect x="95.80" y="303.56" width="9.52" height="2.04" fill="#f6c2b1"/>
<rect x="105.27" y="303.56" width="9.52" height="2.04" fill="#f6c1b0"/>
<rect x="114.73" y="303.56" width="9.52" height="2.04" fill="#a28ed5"/>
<rect x="95.80" y="305.56" width="9.52" height="2.04" fill="#f29a7e"/>
<rect x="105.27" y="305.56" width="9.52" height="2.04" fill="#f3a288"/>
<rect x="114.73" y="305.56" width="9.52" height="2.04" fill="#846bc7"/>
<rect x="95.80" y="307.55" width="9.52" height="2.04" fill="#f5b5a1"/>
<rect x="105.27" y="307.55" width="9.52" height="2.04" fill="#e2dbf2"/>
<rect x="114.73" y="307.55" width="9.52" height="2.04" fill="#9b86d2"/>
<rect x="95.80" y="309.54" width="9.52" height="2.04" fill="#dcd4f0"/>
<rect x="105.27" y="309.54" width="9.52" height="2.04" fill="#d9d1ef"/>
<rect x="114.73" y="309.54" width="9.52" height="2.04" fill="#472697"/>
<rect x="95.80" y="311.53" width="9.52" height="2.04" fill="#f5b39e"/>
<rect x="105.27" y="311.53" width="9.52" height="2.04" fill="#f5b6a2"/>
<rect x="114.73" y="311.53" width="9.52" height="2.04" fill="#dcd5f0"/>
<rect x="95.80" y="313.52" width="9.52" height="2.04" fill="#c3b6e5"/>
<rect x="105.27" y="313.52" width="9.52" height="2.04" fill="#f8ddd5"/>
<rect x="114.73" y="313.52" width="9.52" height="2.04" fill="#ad9cdb"/>
<rect x="95.80" y="315.51" width="9.52" height="2.04" fill="#ede7f6"/>
<rect x="105.27" y="315.51" width="9.52" height="2.04" fill="#f4ab93"/>
<rect x="114.73" y="315.51" width="9.52" height="2.04" fill="#d1c6eb"/>
<rect x="95.80" y="317.50" width="9.52" height="2.04" fill="#f7c7b7"/>
<rect x="105.27" y="317.50" width="9.52" height="2.04" fill="#f5b4a0"/>
<rect x="114.73" y="317.50" width="9.52" height="2.04" fill="#dfd7f1"/>
<rect x="95.80" y="319.49" width="9.52" height="2.04" fill="#b7a7df"/>
<rect x="105.27" y="319.49" width="9.52" height="2.04" fill="#f8dcd3"/>
<rect x="114.73" y="319.49" width="9.52" height="2.04" fill="#a591d7"/>
<rect x="95.80" y="321.48" width="9.52" height="2.04" fill="#f39d82"/>
<rect x="105.27" y="321.48" width="9.52" height="2.04" fill="#f2eef7"/>
<rect x="114.73" y="321.48" width="9.52" height="2.04" fill="#9f8bd4"/>
<rect x="95.80" y="323.47" width="9.52" height="2.04" fill="#f5b5a0"/>
<rect x="105.27" y="323.47" width="9.52" height="2.04" fill="#f39b7f"/>
<rect x="114.73" y="323.47" width="9.52" height="2.04" fill="#8c75cb"/>
<rect x="95.80" y="325.46" width="9.52" height="2.04" fill="#e5522b"/>
<rect x="105.27" y="325.46" width="9.52" height="2.04" fill="#ee7651"/>
<rect x="114.73" y="325.46" width="9.52" height="2.04" fill="#f8dad1"/>
<rect x="95.80" y="327.45" width="9.52" height="2.04" fill="#f29375"/>
<rect x="105.27" y="327.45" width="9.52" height="2.04" fill="#f39f85"/>
<rect x="114.73" y="327.45" width="9.52" height="2.04" fill="#b4a4de"/>
<rect x="95.80" y="329.44" width="9.52" height="2.04" fill="#f0805c"/>
<rect x="105.27" y="329.44" width="9.52" height="2.04" fill="#f5ae98"/>
<rect x="114.73" y="329.44" width="9.52" height="2.04" fill="#cfc4ea"/>
<rect x="95.80" y="331.44" width="9.52" height="2.04" fill="#f7c6b6"/>
<rect x="105.27" y="331.44" width="9.52" height="2.04" fill="#c4b7e5"/>
<rect x="114.73" y="331.44" width="9.52" height="2.04" fill="#d5cbed"/>
<rect x="95.80" y="333.43" width="9.52" height="2.04" fill="#dfd8f1"/>
<rect x="105.27" y="333.43" width="9.52" height="2.04" fill="#ded6f1"/>
<rect x="114.73" y="333.43" width="9.52" height="2.04" fill="#7054be"/>
<rect x="95.80" y="335.42" width="9.52" height="2.04" fill="#f0805d"/>
<rect x="105.27" y="335.42" width="9.52" height="2.04" fill="#ece7f5"/>
<rect x="114.73" y="335.42" width="9.52" height="2.04" fill="#f3eff8"/>
<rect x="95.80" y="337.41" width="9.52" height="2.04" fill="#f6c3b2"/>
<rect x="105.27" y="337.41" width="9.52" height="2.04" fill="#e8e1f4"/>
<rect x="114.73" y="337.41" width="9.52" height="2.04" fill="#a693d7"/>
<rect x="95.80" y="339.40" width="9.52" height="2.04" fill="#f8cfc2"/>
<rect x="105.27" y="339.40" width="9.52" height="2.04" fill="#e6dff3"/>
<rect x="114.73" y="339.40" width="9.52" height="2.04" fill="#4d2b9d"/>
<rect x="95.80" y="341.39" width="9.52" height="2.04" fill="#e1d9f2"/>
<rect x="105.27" y="341.39" width="9.52" height="2.04" fill="#f4a78f"/>
<rect x="114.73" y="341.39" width="9.52" height="2.04" fill="#795ec2"/>
<rect x="95.80" y="343.38" width="9.52" height="2.04" fill="#dfd8f1"/>
<rect x="105.27" y="343.38" width="9.52" height="2.04" fill="#dcd4f0"/>
<rect x="114.73" y="343.38" width="9.52" height="2.04" fill="#d3caec"/>
<rect x="95.80" y="345.37" width="9.52" height="2.04" fill="#f29375"/>
<rect x="105.27" y="345.37" width="9.52" height="2.04" fill="#f4ad96"/>
<rect x="114.73" y="345.37" width="9.52" height="2.04" fill="#8168c6"/>
<rect x="95.80" y="347.36" width="9.52" height="2.04" fill="#efebf6"/>
<rect x="105.27" y="347.36" width="9.52" height="2.04" fill="#ccc0e9"/>
<rect x="114.73" y="347.36" width="9.52" height="2.04" fill="#b3a3dd"/>
<rect x="95.80" y="349.35" width="9.52" height="2.04" fill="#e2dbf2"/>
<rect x="105.27" y="349.35" width="9.52" height="2.04" fill="#bfb1e3"/>
<rect x="114.73" y="349.35" width="9.52" height="2.04" fill="#4c2b9c"/>
<rect x="95.80" y="351.34" width="9.52" height="2.04" fill="#f0805d"/>
<rect x="105.27" y="351.34" width="9.52" height="2.04" fill="#f6beac"/>
<rect x="114.73" y="351.34" width="9.52" height="2.04" fill="#9680d0"/>
<rect x="95.80" y="353.33" width="9.52" height="2.04" fill="#c3b5e4"/>
<rect x="105.27" y="353.33" width="9.52" height="2.04" fill="#e3dcf2"/>
<rect x="114.73" y="353.33" width="9.52" height="2.04" fill="#6345b2"/>
<rect x="95.80" y="355.32" width="9.52" height="2.04" fill="#ed734e"/>
<rect x="105.27" y="355.32" width="9.52" height="2.04" fill="#f18d6d"/>
<rect x="114.73" y="355.32" width="9.52" height="2.04" fill="#bfb1e3"/>
<rect x="95.80" y="357.31" width="9.52" height="2.04" fill="#f18968"/>
<rect x="105.27" y="357.31" width="9.52" height="2.04" fill="#e8e2f4"/>
<rect x="114.73" y="357.31" width="9.52" height="2.04" fill="#c7bbe6"/>
<rect x="95.80" y="359.31" width="9.52" height="2.04" fill="#e3ddf2"/>
<rect x="105.27" y="359.31" width="9.52" height="2.04" fill="#f0ebf7"/>
<rect x="114.73" y="359.31" width="9.52" height="2.04" fill="#5a3aa9"/>
<rect x="95.80" y="361.30" width="9.52" height="2.04" fill="#f8dad0"/>
<rect x="105.27" y="361.30" width="9.52" height="2.04" fill="#d2c8ec"/>
<rect x="114.73" y="361.30" width="9.52" height="2.04" fill="#ae9ddb"/>
<rect x="95.80" y="363.29" width="9.52" height="2.04" fill="#f7cbbd"/>
<rect x="105.27" y="363.29" width="9.52" height="2.04" fill="#f4ac95"/>
<rect x="114.73" y="363.29" width="9.52" height="2.04" fill="#e5dff3"/>
<rect x="95.80" y="365.28" width="9.52" height="2.04" fill="#f7c8b9"/>
<rect x="105.27" y="365.28" width="9.52" height="2.04" fill="#f8edeb"/>
<rect x="114.73" y="365.28" width="9.52" height="2.04" fill="#e0d9f1"/>
<rect x="95.80" y="367.27" width="9.52" height="2.04" fill="#f4a58c"/>
<rect x="105.27" y="367.27" width="9.52" height="2.04" fill="#ede8f6"/>
<rect x="114.73" y="367.27" width="9.52" height="2.04" fill="#f8e7e2"/>
<rect x="95.80" y="369.26" width="9.52" height="2.04" fill="#f6c2b1"/>
<rect x="105.27" y="369.26" width="9.52" height="2.04" fill="#f8e4de"/>
<rect x="114.73" y="369.26" width="9.52" height="2.04" fill="#f2eef7"/>
<rect x="95.80" y="371.25" width="9.52" height="2.04" fill="#f6bba8"/>
<rect x="105.27" y="371.25" width="9.52" height="2.04" fill="#f4a68e"/>
<rect x="114.73" y="371.25" width="9.52" height="2.04" fill="#f5b19c"/>
<rect x="95.80" y="373.24" width="9.52" height="2.04" fill="#f7cec1"/>
<rect x="105.27" y="373.24" width="9.52" height="2.04" fill="#f6bba9"/>
<rect x="114.73" y="373.24" width="9.52" height="2.04" fill="#e3dcf2"/>
<rect x="95.80" y="375.23" width="9.52" height="2.04" fill="#ece6f5"/>
<rect x="105.27" y="375.23" width="9.52" height="2.04" fill="#e0d9f1"/>
<rect x="114.73" y="375.23" width="9.52" height="2.04" fill="#dcd4f0"/>
<rect x="95.80" y="377.22" width="9.52" height="2.04" fill="#e9613b"/>
<rect x="105.27" y="377.22" width="9.52" height="2.04" fill="#ebe6f5"/>
<rect x="114.73" y="377.22" width="9.52" height="2.04" fill="#f8e7e3"/>
<rect x="95.80" y="379.21" width="9.52" height="2.04" fill="#e5def3"/>
<rect x="105.27" y="379.21" width="9.52" height="2.04" fill="#f8ebe9"/>
<rect x="114.73" y="379.21" width="9.52" height="2.04" fill="#e2dbf2"/>
<rect x="95.80" y="381.20" width="9.52" height="2.04" fill="#f8eae7"/>
<rect x="105.27" y="381.20" width="9.52" height="2.04" fill="#f8ddd5"/>
<rect x="114.73" y="381.20" width="9.52" height="2.04" fill="#836ac7"/>
<rect x="95.80" y="383.19" width="9.52" height="2.04" fill="#f8ded7"/>
<rect x="105.27" y="383.19" width="9.52" height="2.04" fill="#f8eae7"/>
<rect x="114.73" y="383.19" width="9.52" height="2.04" fill="#e9e3f4"/>
<rect x="95.80" y="385.19" width="9.52" height="2.04" fill="#f8d9cf"/>
<rect x="105.27" y="385.19" width="9.52" height="2.04" fill="#f4ab94"/>
<rect x="114.73" y="385.19" width="9.52" height="2.04" fill="#aa98d9"/>
<rect x="95.80" y="387.18" width="9.52" height="2.04" fill="#f5b5a0"/>
<rect x="105.27" y="387.18" width="9.52" height="2.04" fill="#ede8f6"/>
<rect x="114.73" y="387.18" width="9.52" height="2.04" fill="#ede8f6"/>
<rect x="95.80" y="389.17" width="9.52" height="2.04" fill="#f8e4df"/>
<rect x="105.27" y="389.17" width="9.52" height="2.04" fill="#bdafe2"/>
<rect x="114.73" y="389.17" width="9.52" height="2.04" fill="#6c50ba"/>
<rect x="95.80" y="391.16" width="9.52" height="2.04" fill="#f6bba8"/>
<rect x="105.27" y="391.16" width="9.52" height="2.04" fill="#ea653f"/>
<rect x="114.73" y="391.16" width="9.52" height="2.04" fill="#f7c6b6"/>
<rect x="95.80" y="393.15" width="9.52" height="2.04" fill="#f7cdbf"/>
<rect x="105.27" y="393.15" width="9.52" height="2.04" fill="#f0815d"/>
<rect x="114.73" y="393.15" width="9.52" height="2.04" fill="#f4aa93"/>
<rect x="95.80" y="395.14" width="9.52" height="2.04" fill="#f8ded7"/>
<rect x="105.27" y="395.14" width="9.52" height="2.04" fill="#f07f5b"/>
<rect x="114.73" y="395.14" width="9.52" height="2.04" fill="#c9bee7"/>
<rect x="95.80" y="397.13" width="9.52" height="2.04" fill="#e6e0f3"/>
<rect x="105.27" y="397.13" width="9.52" height="2.04" fill="#f8dfd7"/>
<rect x="114.73" y="397.13" width="9.52" height="2.04" fill="#c6bae6"/>
<rect x="95.80" y="399.12" width="9.52" height="2.04" fill="#f08665"/>
<rect x="105.27" y="399.12" width="9.52" height="2.04" fill="#f8edec"/>
<rect x="114.73" y="399.12" width="9.52" height="2.04" fill="#e4ddf3"/>
<rect x="95.80" y="401.11" width="9.52" height="2.04" fill="#f8d0c3"/>
<rect x="105.27" y="401.11" width="9.52" height="2.04" fill="#f08866"/>
<rect x="114.73" y="401.11" width="9.52" height="2.04" fill="#f2987c"/>
<rect x="95.80" y="403.10" width="9.52" height="2.04" fill="#aa98d9"/>
<rect x="105.27" y="403.10" width="9.52" height="2.04" fill="#9d89d3"/>
<rect x="114.73" y="403.10" width="9.52" height="2.04" fill="#5230a1"/>
<rect x="95.80" y="405.09" width="9.52" height="2.04" fill="#cbbfe8"/>
<rect x="105.27" y="405.09" width="9.52" height="2.04" fill="#f6beac"/>
<rect x="114.73" y="405.09" width="9.52" height="2.04" fill="#f7c9ba"/>
<rect x="95.80" y="407.08" width="9.52" height="2.04" fill="#c7bbe7"/>
<rect x="105.27" y="407.08" width="9.52" height="2.04" fill="#6b4eba"/>
<rect x="114.73" y="407.08" width="9.52" height="2.04" fill="#b3a3dd"/>
<rect x="95.80" y="409.07" width="9.52" height="2.04" fill="#e8e2f4"/>
<rect x="105.27" y="409.07" width="9.52" height="2.04" fill="#e8e2f4"/>
<rect x="114.73" y="409.07" width="9.52" height="2.04" fill="#cbc0e8"/>
<rect x="95.80" y="411.06" width="9.52" height="2.04" fill="#f8e4de"/>
<rect x="105.27" y="411.06" width="9.52" height="2.04" fill="#dcd4f0"/>
<rect x="114.73" y="411.06" width="9.52" height="2.04" fill="#c5b9e6"/>
<rect x="95.80" y="413.06" width="9.52" height="2.04" fill="#e7e1f4"/>
<rect x="105.27" y="413.06" width="9.52" height="2.04" fill="#765bc1"/>
<rect x="114.73" y="413.06" width="9.52" height="2.04" fill="#8871c9"/>
<rect x="95.80" y="415.05" width="9.52" height="2.04" fill="#f29577"/>
<rect x="105.27" y="415.05" width="9.52" height="2.04" fill="#f8ded6"/>
<rect x="114.73" y="415.05" width="9.52" height="2.04" fill="#f7c8b8"/>
<rect x="95.80" y="417.04" width="9.52" height="2.04" fill="#9a85d2"/>
<rect x="105.27" y="417.04" width="9.52" height="2.04" fill="#b8a9e0"/>
<rect x="114.73" y="417.04" width="9.52" height="2.04" fill="#d0c6eb"/>
<rect x="95.80" y="419.03" width="9.52" height="2.04" fill="#f8d1c4"/>
<rect x="105.27" y="419.03" width="9.52" height="2.04" fill="#e2dbf2"/>
<rect x="114.73" y="419.03" width="9.52" height="2.04" fill="#a997d9"/>
<rect x="95.80" y="421.02" width="9.52" height="2.04" fill="#f3a086"/>
<rect x="105.27" y="421.02" width="9.52" height="2.04" fill="#f8e5e0"/>
<rect x="114.73" y="421.02" width="9.52" height="2.04" fill="#9c88d3"/>
<rect x="95.80" y="423.01" width="9.52" height="2.04" fill="#f39b7f"/>
<rect x="105.27" y="423.01" width="9.52" height="2.04" fill="#937dce"/>
<rect x="114.73" y="423.01" width="9.52" height="2.04" fill="#9a85d2"/>
<rect x="126.20" y="210.00" width="9.40" height="2.04" fill="#ea6640"/>
<rect x="135.55" y="210.00" width="9.40" height="2.04" fill="#f3a187"/>
<rect x="144.90" y="210.00" width="9.40" height="2.04" fill="#f8e8e5"/>
<rect x="154.25" y="210.00" width="9.40" height="2.04" fill="#f8eeee"/>
<rect x="126.20" y="211.99" width="9.40" height="2.04" fill="#e6542d"/>
<rect x="135.55" y="211.99" width="9.40" height="2.04" fill="#e5522c"/>
<rect x="144.90" y="211.99" width="9.40" height="2.04" fill="#f6c2b2"/>
<rect x="154.25" y="211.99" width="9.40" height="2.04" fill="#f2997d"/>
<rect x="126.20" y="213.98" width="9.40" height="2.04" fill="#e04b25"/>
<rect x="135.55" y="213.98" width="9.40" height="2.04" fill="#f7c6b6"/>
<rect x="144.90" y="213.98" width="9.40" height="2.04" fill="#f19172"/>
<rect x="154.25" y="213.98" width="9.40" height="2.04" fill="#f4aa93"/>
<rect x="126.20" y="215.97" width="9.40" height="2.04" fill="#eb6943"/>
<rect x="135.55" y="215.97" width="9.40" height="2.04" fill="#f8e0d9"/>
<rect x="144.90" y="215.97" width="9.40" height="2.04" fill="#f4f0f8"/>
<rect x="154.25" y="215.97" width="9.40" height="2.04" fill="#f8e2dc"/>
<rect x="126.20" y="217.96" width="9.40" height="2.04" fill="#f6b9a5"/>
<rect x="135.55" y="217.96" width="9.40" height="2.04" fill="#baabe0"/>
<rect x="144.90" y="217.96" width="9.40" height="2.04" fill="#8c74cb"/>
<rect x="154.25" y="217.96" width="9.40" height="2.04" fill="#a795d8"/>
<rect x="126.20" y="219.95" width="9.40" height="2.04" fill="#e9603a"/>
<rect x="135.55" y="219.95" width="9.40" height="2.04" fill="#e85d37"/>
<rect x="144.90" y="219.95" width="9.40" height="2.04" fill="#f7cdbf"/>
<rect x="154.25" y="219.95" width="9.40" height="2.04" fill="#f8e9e7"/>
<rect x="126.20" y="221.94" width="9.40" height="2.04" fill="#dd4721"/>
<rect x="135.55" y="221.94" width="9.40" height="2.04" fill="#e6542d"/>
<rect x="144.90" y="221.94" width="9.40" height="2.04" fill="#f3a288"/>
<rect x="154.25" y="221.94" width="9.40" height="2.04" fill="#ee7752"/>
<rect x="126.20" y="223.94" width="9.40" height="2.04" fill="#e34f29"/>
<rect x="135.55" y="223.94" width="9.40" height="2.04" fill="#f29679"/>
<rect x="144.90" y="223.94" width="9.40" height="2.04" fill="#ef7c57"/>
<rect x="154.25" y="223.94" width="9.40" height="2.04" fill="#f8ded7"/>
<rect x="126.20" y="225.93" width="9.40" height="2.04" fill="#f6baa7"/>
<rect x="135.55" y="225.93" width="9.40" height="2.04" fill="#f18f70"/>
<rect x="144.90" y="225.93" width="9.40" height="2.04" fill="#ede8f6"/>
<rect x="154.25" y="225.93" width="9.40" height="2.04" fill="#cabfe8"/>
<rect x="126.20" y="227.92" width="9.40" height="2.04" fill="#f18f6f"/>
<rect x="135.55" y="227.92" width="9.40" height="2.04" fill="#ebe6f5"/>
<rect x="144.90" y="227.92" width="9.40" height="2.04" fill="#f8e3de"/>
<rect x="154.25" y="227.92" width="9.40" height="2.04" fill="#dfd8f1"/>
<rect x="126.20" y="229.91" width="9.40" height="2.04" fill="#f2977a"/>
<rect x="135.55" y="229.91" width="9.40" height="2.04" fill="#f5b09a"/>
<rect x="144.90" y="229.91" width="9.40" height="2.04" fill="#f8ded6"/>
<rect x="154.25" y="229.91" width="9.40" height="2.04" fill="#f8dad0"/>
<rect x="126.20" y="231.90" width="9.40" height="2.04" fill="#e6552e"/>
<rect x="135.55" y="231.90" width="9.40" height="2.04" fill="#eae5f5"/>
<rect x="144.90" y="231.90" width="9.40" height="2.04" fill="#f7c5b5"/>
<rect x="154.25" y="231.90" width="9.40" height="2.04" fill="#f8e8e4"/>
<rect x="126.20" y="233.89" width="9.40" height="2.04" fill="#f08867"/>
<rect x="135.55" y="233.89" width="9.40" height="2.04" fill="#f4a58c"/>
<rect x="144.90" y="233.89" width="9.40" height="2.04" fill="#f4a78f"/>
<rect x="154.25" y="233.89" width="9.40" height="2.04" fill="#f6c0af"/>
<rect x="126.20" y="235.88" width="9.40" height="2.04" fill="#e75c35"/>
<rect x="135.55" y="235.88" width="9.40" height="2.04" fill="#e9643e"/>
<rect x="144.90" y="235.88" width="9.40" height="2.04" fill="#f8d7cc"/>
<rect x="154.25" y="235.88" width="9.40" height="2.04" fill="#e8e2f4"/>
<rect x="126.20" y="237.87" width="9.40" height="2.04" fill="#df4924"/>
<rect x="135.55" y="237.87" width="9.40" height="2.04" fill="#ec6e48"/>
<rect x="144.90" y="237.87" width="9.40" height="2.04" fill="#f18c6c"/>
<rect x="154.25" y="237.87" width="9.40" height="2.04" fill="#f19172"/>
<rect x="126.20" y="239.86" width="9.40" height="2.04" fill="#ea6640"/>
<rect x="135.55" y="239.86" width="9.40" height="2.04" fill="#f8e5e1"/>
<rect x="144.90" y="239.86" width="9.40" height="2.04" fill="#f5b5a0"/>
<rect x="154.25" y="239.86" width="9.40" height="2.04" fill="#efeaf6"/>
<rect x="126.20" y="241.85" width="9.40" height="2.04" fill="#f8d6ca"/>
<rect x="135.55" y="241.85" width="9.40" height="2.04" fill="#f5b39f"/>
<rect x="144.90" y="241.85" width="9.40" height="2.04" fill="#e3dcf2"/>
<rect x="154.25" y="241.85" width="9.40" height="2.04" fill="#bdafe2"/>
<rect x="126.20" y="243.84" width="9.40" height="2.04" fill="#ec6e48"/>
<rect x="135.55" y="243.84" width="9.40" height="2.04" fill="#f5b29d"/>
<rect x="144.90" y="243.84" width="9.40" height="2.04" fill="#f4aa93"/>
<rect x="154.25" y="243.84" width="9.40" height="2.04" fill="#f6c1b0"/>
<rect x="126.20" y="245.83" width="9.40" height="2.04" fill="#e04b25"/>
<rect x="135.55" y="245.83" width="9.40" height="2.04" fill="#df4a24"/>
<rect x="144.90" y="245.83" width="9.40" height="2.04" fill="#e45029"/>
<rect x="154.25" y="245.83" width="9.40" height="2.04" fill="#e9613a"/>
<rect x="126.20" y="247.82" width="9.40" height="2.04" fill="#e24e28"/>
<rect x="135.55" y="247.82" width="9.40" height="2.04" fill="#f0805d"/>
<rect x="144.90" y="247.82" width="9.40" height="2.04" fill="#f39d81"/>
<rect x="154.25" y="247.82" width="9.40" height="2.04" fill="#f7cec1"/>
<rect x="126.20" y="249.81" width="9.40" height="2.04" fill="#ef7d59"/>
<rect x="135.55" y="249.81" width="9.40" height="2.04" fill="#eb6b45"/>
<rect x="144.90" y="249.81" width="9.40" height="2.04" fill="#f4a48b"/>
<rect x="154.25" y="249.81" width="9.40" height="2.04" fill="#f8eae7"/>
<rect x="126.20" y="251.81" width="9.40" height="2.04" fill="#f39c81"/>
<rect x="135.55" y="251.81" width="9.40" height="2.04" fill="#eae4f5"/>
<rect x="144.90" y="251.81" width="9.40" height="2.04" fill="#b2a2dd"/>
<rect x="154.25" y="251.81" width="9.40" height="2.04" fill="#9680d0"/>
<rect x="126.20" y="253.80" width="9.40" height="2.04" fill="#f18e6f"/>
<rect x="135.55" y="253.80" width="9.40" height="2.04" fill="#ede8f6"/>
<rect x="144.90" y="253.80" width="9.40" height="2.04" fill="#f2977b"/>
<rect x="154.25" y="253.80" width="9.40" height="2.04" fill="#c0b2e3"/>
<rect x="126.20" y="255.79" width="9.40" height="2.04" fill="#df4a24"/>
<rect x="135.55" y="255.79" width="9.40" height="2.04" fill="#f4a58c"/>
<rect x="144.90" y="255.79" width="9.40" height="2.04" fill="#f6baa6"/>
<rect x="154.25" y="255.79" width="9.40" height="2.04" fill="#f8ecea"/>
<rect x="126.20" y="257.78" width="9.40" height="2.04" fill="#e14d27"/>
<rect x="135.55" y="257.78" width="9.40" height="2.04" fill="#f29274"/>
<rect x="144.90" y="257.78" width="9.40" height="2.04" fill="#f18a69"/>
<rect x="154.25" y="257.78" width="9.40" height="2.04" fill="#eae5f5"/>
<rect x="126.20" y="259.77" width="9.40" height="2.04" fill="#f08361"/>
<rect x="135.55" y="259.77" width="9.40" height="2.04" fill="#f0825f"/>
<rect x="144.90" y="259.77" width="9.40" height="2.04" fill="#e9e3f4"/>
<rect x="154.25" y="259.77" width="9.40" height="2.04" fill="#f6bba9"/>
<rect x="126.20" y="261.76" width="9.40" height="2.04" fill="#d8401c"/>
<rect x="135.55" y="261.76" width="9.40" height="2.04" fill="#f4ab94"/>
<rect x="144.90" y="261.76" width="9.40" height="2.04" fill="#ed724d"/>
<rect x="154.25" y="261.76" width="9.40" height="2.04" fill="#f8d2c5"/>
<rect x="126.20" y="263.75" width="9.40" height="2.04" fill="#f4ab94"/>
<rect x="135.55" y="263.75" width="9.40" height="2.04" fill="#f29274"/>
<rect x="144.90" y="263.75" width="9.40" height="2.04" fill="#f29274"/>
<rect x="154.25" y="263.75" width="9.40" height="2.04" fill="#d9d1ef"/>
<rect x="126.20" y="265.74" width="9.40" height="2.04" fill="#f08664"/>
<rect x="135.55" y="265.74" width="9.40" height="2.04" fill="#e9643d"/>
<rect x="144.90" y="265.74" width="9.40" height="2.04" fill="#f4ab94"/>
<rect x="154.25" y="265.74" width="9.40" height="2.04" fill="#dbd3f0"/>
<rect x="126.20" y="267.73" width="9.40" height="2.04" fill="#f5b29d"/>
<rect x="135.55" y="267.73" width="9.40" height="2.04" fill="#f5b29d"/>
<rect x="144.90" y="267.73" width="9.40" height="2.04" fill="#f4a991"/>
<rect x="154.25" y="267.73" width="9.40" height="2.04" fill="#bfb1e3"/>
<rect x="126.20" y="269.72" width="9.40" height="2.04" fill="#f18a69"/>
<rect x="135.55" y="269.72" width="9.40" height="2.04" fill="#cdc2e9"/>
<rect x="144.90" y="269.72" width="9.40" height="2.04" fill="#f5af99"/>
<rect x="154.25" y="269.72" width="9.40" height="2.04" fill="#c0b2e3"/>
<rect x="126.20" y="271.71" width="9.40" height="2.04" fill="#f08462"/>
<rect x="135.55" y="271.71" width="9.40" height="2.04" fill="#f6bfae"/>
<rect x="144.90" y="271.71" width="9.40" height="2.04" fill="#f29375"/>
<rect x="154.25" y="271.71" width="9.40" height="2.04" fill="#f8dad0"/>
<rect x="126.20" y="273.70" width="9.40" height="2.04" fill="#e5522b"/>
<rect x="135.55" y="273.70" width="9.40" height="2.04" fill="#f7c6b6"/>
<rect x="144.90" y="273.70" width="9.40" height="2.04" fill="#f18f70"/>
<rect x="154.25" y="273.70" width="9.40" height="2.04" fill="#f39c81"/>
<rect x="126.20" y="275.69" width="9.40" height="2.04" fill="#e75a34"/>
<rect x="135.55" y="275.69" width="9.40" height="2.04" fill="#f8d9d0"/>
<rect x="144.90" y="275.69" width="9.40" height="2.04" fill="#f8e4df"/>
<rect x="154.25" y="275.69" width="9.40" height="2.04" fill="#6b4fba"/>
<rect x="126.20" y="277.69" width="9.40" height="2.04" fill="#f08563"/>
<rect x="135.55" y="277.69" width="9.40" height="2.04" fill="#f2977b"/>
<rect x="144.90" y="277.69" width="9.40" height="2.04" fill="#c5b8e5"/>
<rect x="154.25" y="277.69" width="9.40" height="2.04" fill="#c5b8e5"/>
<rect x="126.20" y="279.68" width="9.40" height="2.04" fill="#f4a68e"/>
<rect x="135.55" y="279.68" width="9.40" height="2.04" fill="#f8e6e1"/>
<rect x="144.90" y="279.68" width="9.40" height="2.04" fill="#876ec9"/>
<rect x="154.25" y="279.68" width="9.40" height="2.04" fill="#a08cd4"/>
<rect x="126.20" y="281.67" width="9.40" height="2.04" fill="#d9421e"/>
<rect x="135.55" y="281.67" width="9.40" height="2.04" fill="#f08563"/>
<rect x="144.90" y="281.67" width="9.40" height="2.04" fill="#f6c1b0"/>
<rect x="154.25" y="281.67" width="9.40" height="2.04" fill="#e3dcf2"/>
<rect x="126.20" y="283.66" width="9.40" height="2.04" fill="#f2977a"/>
<rect x="135.55" y="283.66" width="9.40" height="2.04" fill="#f7c9ba"/>
<rect x="144.90" y="283.66" width="9.40" height="2.04" fill="#f8eae7"/>
<rect x="154.25" y="283.66" width="9.40" height="2.04" fill="#f5b5a0"/>
<rect x="126.20" y="285.65" width="9.40" height="2.04" fill="#f08360"/>
<rect x="135.55" y="285.65" width="9.40" height="2.04" fill="#ec6d47"/>
<rect x="144.90" y="285.65" width="9.40" height="2.04" fill="#f29477"/>
<rect x="154.25" y="285.65" width="9.40" height="2.04" fill="#f8d4c8"/>
<rect x="126.20" y="287.64" width="9.40" height="2.04" fill="#f7c4b3"/>
<rect x="135.55" y="287.64" width="9.40" height="2.04" fill="#ede7f6"/>
<rect x="144.90" y="287.64" width="9.40" height="2.04" fill="#f5b6a2"/>
<rect x="154.25" y="287.64" width="9.40" height="2.04" fill="#c4b7e5"/>
<rect x="126.20" y="289.63" width="9.40" height="2.04" fill="#f0825f"/>
<rect x="135.55" y="289.63" width="9.40" height="2.04" fill="#f8d5c9"/>
<rect x="144.90" y="289.63" width="9.40" height="2.04" fill="#f8dbd2"/>
<rect x="154.25" y="289.63" width="9.40" height="2.04" fill="#f0ecf7"/>
<rect x="126.20" y="291.62" width="9.40" height="2.04" fill="#e85e38"/>
<rect x="135.55" y="291.62" width="9.40" height="2.04" fill="#ea653f"/>
<rect x="144.90" y="291.62" width="9.40" height="2.04" fill="#f7c4b4"/>
<rect x="154.25" y="291.62" width="9.40" height="2.04" fill="#f29679"/>
<rect x="126.20" y="293.61" width="9.40" height="2.04" fill="#e75a33"/>
<rect x="135.55" y="293.61" width="9.40" height="2.04" fill="#f08664"/>
<rect x="144.90" y="293.61" width="9.40" height="2.04" fill="#f7c4b3"/>
<rect x="154.25" y="293.61" width="9.40" height="2.04" fill="#f4ab94"/>
<rect x="126.20" y="295.60" width="9.40" height="2.04" fill="#e35029"/>
<rect x="135.55" y="295.60" width="9.40" height="2.04" fill="#f4ad96"/>
<rect x="144.90" y="295.60" width="9.40" height="2.04" fill="#f7cec1"/>
<rect x="154.25" y="295.60" width="9.40" height="2.04" fill="#f8e0d9"/>
<rect x="126.20" y="297.59" width="9.40" height="2.04" fill="#ec6c46"/>
<rect x="135.55" y="297.59" width="9.40" height="2.04" fill="#e4502a"/>
<rect x="144.90" y="297.59" width="9.40" height="2.04" fill="#f5b49f"/>
<rect x="154.25" y="297.59" width="9.40" height="2.04" fill="#f7cbbd"/>
<rect x="126.20" y="299.58" width="9.40" height="2.04" fill="#f2977a"/>
<rect x="135.55" y="299.58" width="9.40" height="2.04" fill="#f8e1db"/>
<rect x="144.90" y="299.58" width="9.40" height="2.04" fill="#f8e2db"/>
<rect x="154.25" y="299.58" width="9.40" height="2.04" fill="#ac9ada"/>
<rect x="126.20" y="301.57" width="9.40" height="2.04" fill="#e5522b"/>
<rect x="135.55" y="301.57" width="9.40" height="2.04" fill="#e85f38"/>
<rect x="144.90" y="301.57" width="9.40" height="2.04" fill="#e7e1f4"/>
<rect x="154.25" y="301.57" width="9.40" height="2.04" fill="#f5b09a"/>
<rect x="126.20" y="303.56" width="9.40" height="2.04" fill="#e75b35"/>
<rect x="135.55" y="303.56" width="9.40" height="2.04" fill="#f29376"/>
<rect x="144.90" y="303.56" width="9.40" height="2.04" fill="#f5b6a2"/>
<rect x="154.25" y="303.56" width="9.40" height="2.04" fill="#f8d9d0"/>
<rect x="126.20" y="305.56" width="9.40" height="2.04" fill="#f6bcaa"/>
<rect x="135.55" y="305.56" width="9.40" height="2.04" fill="#7b61c3"/>
<rect x="144.90" y="305.56" width="9.40" height="2.04" fill="#f1ecf7"/>
<rect x="154.25" y="305.56" width="9.40" height="2.04" fill="#c5b9e6"/>
<rect x="126.20" y="307.55" width="9.40" height="2.04" fill="#f18d6d"/>
<rect x="135.55" y="307.55" width="9.40" height="2.04" fill="#f8d9cf"/>
<rect x="144.90" y="307.55" width="9.40" height="2.04" fill="#f08766"/>
<rect x="154.25" y="307.55" width="9.40" height="2.04" fill="#f4a38a"/>
<rect x="126.20" y="309.54" width="9.40" height="2.04" fill="#e14d27"/>
<rect x="135.55" y="309.54" width="9.40" height="2.04" fill="#e4def3"/>
<rect x="144.90" y="309.54" width="9.40" height="2.04" fill="#baabe0"/>
<rect x="154.25" y="309.54" width="9.40" height="2.04" fill="#e2dbf2"/>
<rect x="126.20" y="311.53" width="9.40" height="2.04" fill="#f39a7f"/>
<rect x="135.55" y="311.53" width="9.40" height="2.04" fill="#f8cfc1"/>
<rect x="144.90" y="311.53" width="9.40" height="2.04" fill="#ed714c"/>
<rect x="154.25" y="311.53" width="9.40" height="2.04" fill="#b9a9e0"/>
<rect x="126.20" y="313.52" width="9.40" height="2.04" fill="#ea6640"/>
<rect x="135.55" y="313.52" width="9.40" height="2.04" fill="#f5b8a4"/>
<rect x="144.90" y="313.52" width="9.40" height="2.04" fill="#f4a48b"/>
<rect x="154.25" y="313.52" width="9.40" height="2.04" fill="#f39d82"/>
<rect x="126.20" y="315.51" width="9.40" height="2.04" fill="#f18f70"/>
<rect x="135.55" y="315.51" width="9.40" height="2.04" fill="#f3eef8"/>
<rect x="144.90" y="315.51" width="9.40" height="2.04" fill="#f8edec"/>
<rect x="154.25" y="315.51" width="9.40" height="2.04" fill="#7e64c4"/>
<rect x="126.20" y="317.50" width="9.40" height="2.04" fill="#d6cded"/>
<rect x="135.55" y="317.50" width="9.40" height="2.04" fill="#f8e0da"/>
<rect x="144.90" y="317.50" width="9.40" height="2.04" fill="#e0d8f1"/>
<rect x="154.25" y="317.50" width="9.40" height="2.04" fill="#b8a9e0"/>
<rect x="126.20" y="319.49" width="9.40" height="2.04" fill="#f8d1c4"/>
<rect x="135.55" y="319.49" width="9.40" height="2.04" fill="#b2a1dd"/>
<rect x="144.90" y="319.49" width="9.40" height="2.04" fill="#785dc2"/>
<rect x="154.25" y="319.49" width="9.40" height="2.04" fill="#7054be"/>
<rect x="126.20" y="321.48" width="9.40" height="2.04" fill="#e6562f"/>
<rect x="135.55" y="321.48" width="9.40" height="2.04" fill="#f4a48b"/>
<rect x="144.90" y="321.48" width="9.40" height="2.04" fill="#f4a48a"/>
<rect x="154.25" y="321.48" width="9.40" height="2.04" fill="#efeaf6"/>
<rect x="126.20" y="323.47" width="9.40" height="2.04" fill="#ef7954"/>
<rect x="135.55" y="323.47" width="9.40" height="2.04" fill="#f3a187"/>
<rect x="144.90" y="323.47" width="9.40" height="2.04" fill="#f8d6cb"/>
<rect x="154.25" y="323.47" width="9.40" height="2.04" fill="#ede8f6"/>
<rect x="126.20" y="325.46" width="9.40" height="2.04" fill="#f39b80"/>
<rect x="135.55" y="325.46" width="9.40" height="2.04" fill="#eb6b45"/>
<rect x="144.90" y="325.46" width="9.40" height="2.04" fill="#f6c2b2"/>
<rect x="154.25" y="325.46" width="9.40" height="2.04" fill="#f8e6e2"/>
<rect x="126.20" y="327.45" width="9.40" height="2.04" fill="#d8401c"/>
<rect x="135.55" y="327.45" width="9.40" height="2.04" fill="#f5b39f"/>
<rect x="144.90" y="327.45" width="9.40" height="2.04" fill="#ed724d"/>
<rect x="154.25" y="327.45" width="9.40" height="2.04" fill="#f08563"/>
<rect x="126.20" y="329.44" width="9.40" height="2.04" fill="#db441f"/>
<rect x="135.55" y="329.44" width="9.40" height="2.04" fill="#eb6943"/>
<rect x="144.90" y="329.44" width="9.40" height="2.04" fill="#f7cbbc"/>
<rect x="154.25" y="329.44" width="9.40" height="2.04" fill="#f8ddd4"/>
<rect x="126.20" y="331.44" width="9.40" height="2.04" fill="#ec704a"/>
<rect x="135.55" y="331.44" width="9.40" height="2.04" fill="#f8e5e0"/>
<rect x="144.90" y="331.44" width="9.40" height="2.04" fill="#f8e0da"/>
<rect x="154.25" y="331.44" width="9.40" height="2.04" fill="#e6dff3"/>
<rect x="126.20" y="333.43" width="9.40" height="2.04" fill="#ef7e5a"/>
<rect x="135.55" y="333.43" width="9.40" height="2.04" fill="#f7cbbc"/>
<rect x="144.90" y="333.43" width="9.40" height="2.04" fill="#d8d0ee"/>
<rect x="154.25" y="333.43" width="9.40" height="2.04" fill="#f6bdab"/>
<rect x="126.20" y="335.42" width="9.40" height="2.04" fill="#eb6843"/>
<rect x="135.55" y="335.42" width="9.40" height="2.04" fill="#eb6943"/>
<rect x="144.90" y="335.42" width="9.40" height="2.04" fill="#f19172"/>
<rect x="154.25" y="335.42" width="9.40" height="2.04" fill="#f3a38a"/>
<rect x="126.20" y="337.41" width="9.40" height="2.04" fill="#f3a288"/>
<rect x="135.55" y="337.41" width="9.40" height="2.04" fill="#f2987c"/>
<rect x="144.90" y="337.41" width="9.40" height="2.04" fill="#f39c81"/>
<rect x="154.25" y="337.41" width="9.40" height="2.04" fill="#d4cbec"/>
<rect x="126.20" y="339.40" width="9.40" height="2.04" fill="#d8401c"/>
<rect x="135.55" y="339.40" width="9.40" height="2.04" fill="#e24e28"/>
<rect x="144.90" y="339.40" width="9.40" height="2.04" fill="#e5532d"/>
<rect x="154.25" y="339.40" width="9.40" height="2.04" fill="#f2977a"/>
<rect x="126.20" y="341.39" width="9.40" height="2.04" fill="#f6bfae"/>
<rect x="135.55" y="341.39" width="9.40" height="2.04" fill="#f1ecf7"/>
<rect x="144.90" y="341.39" width="9.40" height="2.04" fill="#f8e3dd"/>
<rect x="154.25" y="341.39" width="9.40" height="2.04" fill="#ded6f1"/>
<rect x="126.20" y="343.38" width="9.40" height="2.04" fill="#f8e2db"/>
<rect x="135.55" y="343.38" width="9.40" height="2.04" fill="#e75932"/>
<rect x="144.90" y="343.38" width="9.40" height="2.04" fill="#eb6c46"/>
<rect x="154.25" y="343.38" width="9.40" height="2.04" fill="#f8e8e4"/>
<rect x="126.20" y="345.37" width="9.40" height="2.04" fill="#ef7c57"/>
<rect x="135.55" y="345.37" width="9.40" height="2.04" fill="#f3a086"/>
<rect x="144.90" y="345.37" width="9.40" height="2.04" fill="#f8cfc2"/>
<rect x="154.25" y="345.37" width="9.40" height="2.04" fill="#f8edeb"/>
<rect x="126.20" y="347.36" width="9.40" height="2.04" fill="#f6b9a5"/>
<rect x="135.55" y="347.36" width="9.40" height="2.04" fill="#f8e3de"/>
<rect x="144.90" y="347.36" width="9.40" height="2.04" fill="#f8edeb"/>
<rect x="154.25" y="347.36" width="9.40" height="2.04" fill="#9d89d3"/>
<rect x="126.20" y="349.35" width="9.40" height="2.04" fill="#f4a48b"/>
<rect x="135.55" y="349.35" width="9.40" height="2.04" fill="#f4a78f"/>
<rect x="144.90" y="349.35" width="9.40" height="2.04" fill="#d9d1ef"/>
<rect x="154.25" y="349.35" width="9.40" height="2.04" fill="#f8eceb"/>
<rect x="126.20" y="351.34" width="9.40" height="2.04" fill="#ef7853"/>
<rect x="135.55" y="351.34" width="9.40" height="2.04" fill="#f5b49f"/>
<rect x="144.90" y="351.34" width="9.40" height="2.04" fill="#f8d4c8"/>
<rect x="154.25" y="351.34" width="9.40" height="2.04" fill="#f8eae8"/>
<rect x="126.20" y="353.33" width="9.40" height="2.04" fill="#e9623c"/>
<rect x="135.55" y="353.33" width="9.40" height="2.04" fill="#f5b49f"/>
<rect x="144.90" y="353.33" width="9.40" height="2.04" fill="#f8e5e0"/>
<rect x="154.25" y="353.33" width="9.40" height="2.04" fill="#f8d8ce"/>
<rect x="126.20" y="355.32" width="9.40" height="2.04" fill="#f8d6cb"/>
<rect x="135.55" y="355.32" width="9.40" height="2.04" fill="#f8e3dd"/>
<rect x="144.90" y="355.32" width="9.40" height="2.04" fill="#f8dfd8"/>
<rect x="154.25" y="355.32" width="9.40" height="2.04" fill="#f8ded7"/>
<rect x="126.20" y="357.31" width="9.40" height="2.04" fill="#d8cfee"/>
<rect x="135.55" y="357.31" width="9.40" height="2.04" fill="#f8dcd3"/>
<rect x="144.90" y="357.31" width="9.40" height="2.04" fill="#9d89d3"/>
<rect x="154.25" y="357.31" width="9.40" height="2.04" fill="#baabe0"/>
<rect x="126.20" y="359.31" width="9.40" height="2.04" fill="#f5b29d"/>
<rect x="135.55" y="359.31" width="9.40" height="2.04" fill="#f8ecea"/>
<rect x="144.90" y="359.31" width="9.40" height="2.04" fill="#f8dad0"/>
<rect x="154.25" y="359.31" width="9.40" height="2.04" fill="#dfd7f1"/>
<rect x="126.20" y="361.30" width="9.40" height="2.04" fill="#f8d8ce"/>
<rect x="135.55" y="361.30" width="9.40" height="2.04" fill="#f19071"/>
<rect x="144.90" y="361.30" width="9.40" height="2.04" fill="#c0b2e3"/>
<rect x="154.25" y="361.30" width="9.40" height="2.04" fill="#e3ddf2"/>
<rect x="126.20" y="363.29" width="9.40" height="2.04" fill="#f29679"/>
<rect x="135.55" y="363.29" width="9.40" height="2.04" fill="#f8e7e3"/>
<rect x="144.90" y="363.29" width="9.40" height="2.04" fill="#f7cbbd"/>
<rect x="154.25" y="363.29" width="9.40" height="2.04" fill="#c3b6e5"/>
<rect x="126.20" y="365.28" width="9.40" height="2.04" fill="#eb6943"/>
<rect x="135.55" y="365.28" width="9.40" height="2.04" fill="#f7c4b3"/>
<rect x="144.90" y="365.28" width="9.40" height="2.04" fill="#f5b6a2"/>
<rect x="154.25" y="365.28" width="9.40" height="2.04" fill="#cdc1e9"/>
<rect x="126.20" y="367.27" width="9.40" height="2.04" fill="#ee7651"/>
<rect x="135.55" y="367.27" width="9.40" height="2.04" fill="#f4a78f"/>
<rect x="144.90" y="367.27" width="9.40" height="2.04" fill="#ede8f6"/>
<rect x="154.25" y="367.27" width="9.40" height="2.04" fill="#f8d6ca"/>
<rect x="126.20" y="369.26" width="9.40" height="2.04" fill="#ee7752"/>
<rect x="135.55" y="369.26" width="9.40" height="2.04" fill="#f08664"/>
<rect x="144.90" y="369.26" width="9.40" height="2.04" fill="#d5cbed"/>
<rect x="154.25" y="369.26" width="9.40" height="2.04" fill="#e5def3"/>
<rect x="126.20" y="371.25" width="9.40" height="2.04" fill="#f8cfc2"/>
<rect x="135.55" y="371.25" width="9.40" height="2.04" fill="#ed734e"/>
<rect x="144.90" y="371.25" width="9.40" height="2.04" fill="#ec6e48"/>
<rect x="154.25" y="371.25" width="9.40" height="2.04" fill="#f5b6a2"/>
<rect x="126.20" y="373.24" width="9.40" height="2.04" fill="#f5b19b"/>
<rect x="135.55" y="373.24" width="9.40" height="2.04" fill="#f8dfd8"/>
<rect x="144.90" y="373.24" width="9.40" height="2.04" fill="#f7c6b6"/>
<rect x="154.25" y="373.24" width="9.40" height="2.04" fill="#f8efef"/>
<rect x="126.20" y="375.23" width="9.40" height="2.04" fill="#f4ac95"/>
<rect x="135.55" y="375.23" width="9.40" height="2.04" fill="#f8d8ce"/>
<rect x="144.90" y="375.23" width="9.40" height="2.04" fill="#f8e3dd"/>
<rect x="154.25" y="375.23" width="9.40" height="2.04" fill="#e9e3f4"/>
<rect x="126.20" y="377.22" width="9.40" height="2.04" fill="#f0805c"/>
<rect x="135.55" y="377.22" width="9.40" height="2.04" fill="#f6bba9"/>
<rect x="144.90" y="377.22" width="9.40" height="2.04" fill="#f8e7e3"/>
<rect x="154.25" y="377.22" width="9.40" height="2.04" fill="#cdc2e9"/>
<rect x="126.20" y="379.21" width="9.40" height="2.04" fill="#f4a48b"/>
<rect x="135.55" y="379.21" width="9.40" height="2.04" fill="#f8e0d9"/>
<rect x="144.90" y="379.21" width="9.40" height="2.04" fill="#b09fdc"/>
<rect x="154.25" y="379.21" width="9.40" height="2.04" fill="#a18ed5"/>
<rect x="126.20" y="381.20" width="9.40" height="2.04" fill="#f8e6e2"/>
<rect x="135.55" y="381.20" width="9.40" height="2.04" fill="#f4a48b"/>
<rect x="144.90" y="381.20" width="9.40" height="2.04" fill="#beb0e2"/>
<rect x="154.25" y="381.20" width="9.40" height="2.04" fill="#e6e0f3"/>
<rect x="126.20" y="383.19" width="9.40" height="2.04" fill="#e8e2f4"/>
<rect x="135.55" y="383.19" width="9.40" height="2.04" fill="#f7cbbd"/>
<rect x="144.90" y="383.19" width="9.40" height="2.04" fill="#f8eceb"/>
<rect x="154.25" y="383.19" width="9.40" height="2.04" fill="#eee9f6"/>
<rect x="126.20" y="385.19" width="9.40" height="2.04" fill="#f8cfc1"/>
<rect x="135.55" y="385.19" width="9.40" height="2.04" fill="#b4a4de"/>
<rect x="144.90" y="385.19" width="9.40" height="2.04" fill="#b4a4de"/>
<rect x="154.25" y="385.19" width="9.40" height="2.04" fill="#e7e0f4"/>
<rect x="126.20" y="387.18" width="9.40" height="2.04" fill="#f4a78f"/>
<rect x="135.55" y="387.18" width="9.40" height="2.04" fill="#f7cabc"/>
<rect x="144.90" y="387.18" width="9.40" height="2.04" fill="#f29a7e"/>
<rect x="154.25" y="387.18" width="9.40" height="2.04" fill="#917acd"/>
<rect x="126.20" y="389.17" width="9.40" height="2.04" fill="#f7cabb"/>
<rect x="135.55" y="389.17" width="9.40" height="2.04" fill="#f8d3c7"/>
<rect x="144.90" y="389.17" width="9.40" height="2.04" fill="#a794d8"/>
<rect x="154.25" y="389.17" width="9.40" height="2.04" fill="#6142af"/>
<rect x="126.20" y="391.16" width="9.40" height="2.04" fill="#f29578"/>
<rect x="135.55" y="391.16" width="9.40" height="2.04" fill="#f7cbbd"/>
<rect x="144.90" y="391.16" width="9.40" height="2.04" fill="#f6baa7"/>
<rect x="154.25" y="391.16" width="9.40" height="2.04" fill="#f6baa6"/>
<rect x="126.20" y="393.15" width="9.40" height="2.04" fill="#f0ebf7"/>
<rect x="135.55" y="393.15" width="9.40" height="2.04" fill="#d8cfee"/>
<rect x="144.90" y="393.15" width="9.40" height="2.04" fill="#4d2b9d"/>
<rect x="154.25" y="393.15" width="9.40" height="2.04" fill="#917acd"/>
<rect x="126.20" y="395.14" width="9.40" height="2.04" fill="#f8d7cd"/>
<rect x="135.55" y="395.14" width="9.40" height="2.04" fill="#e3ddf2"/>
<rect x="144.90" y="395.14" width="9.40" height="2.04" fill="#f7c9bb"/>
<rect x="154.25" y="395.14" width="9.40" height="2.04" fill="#6d50bb"/>
<rect x="126.20" y="397.13" width="9.40" height="2.04" fill="#f39d82"/>
<rect x="135.55" y="397.13" width="9.40" height="2.04" fill="#f0ebf7"/>
<rect x="144.90" y="397.13" width="9.40" height="2.04" fill="#d4cbec"/>
<rect x="154.25" y="397.13" width="9.40" height="2.04" fill="#b9aae0"/>
<rect x="126.20" y="399.12" width="9.40" height="2.04" fill="#e6dff3"/>
<rect x="135.55" y="399.12" width="9.40" height="2.04" fill="#f7c5b4"/>
<rect x="144.90" y="399.12" width="9.40" height="2.04" fill="#f8ded6"/>
<rect x="154.25" y="399.12" width="9.40" height="2.04" fill="#ccc0e9"/>
<rect x="126.20" y="401.11" width="9.40" height="2.04" fill="#f3a086"/>
<rect x="135.55" y="401.11" width="9.40" height="2.04" fill="#ec6f49"/>
<rect x="144.90" y="401.11" width="9.40" height="2.04" fill="#f8d2c5"/>
<rect x="154.25" y="401.11" width="9.40" height="2.04" fill="#f6bdab"/>
<rect x="126.20" y="403.10" width="9.40" height="2.04" fill="#e0d8f1"/>
<rect x="135.55" y="403.10" width="9.40" height="2.04" fill="#beb0e2"/>
<rect x="144.90" y="403.10" width="9.40" height="2.04" fill="#907acd"/>
<rect x="154.25" y="403.10" width="9.40" height="2.04" fill="#674ab6"/>
<rect x="126.20" y="405.09" width="9.40" height="2.04" fill="#ece6f5"/>
<rect x="135.55" y="405.09" width="9.40" height="2.04" fill="#9680d0"/>
<rect x="144.90" y="405.09" width="9.40" height="2.04" fill="#c8bce7"/>
<rect x="154.25" y="405.09" width="9.40" height="2.04" fill="#9e89d3"/>
<rect x="126.20" y="407.08" width="9.40" height="2.04" fill="#d8cfee"/>
<rect x="135.55" y="407.08" width="9.40" height="2.04" fill="#f0ecf7"/>
<rect x="144.90" y="407.08" width="9.40" height="2.04" fill="#f8e6e1"/>
<rect x="154.25" y="407.08" width="9.40" height="2.04" fill="#a491d6"/>
<rect x="126.20" y="409.07" width="9.40" height="2.04" fill="#f3a086"/>
<rect x="135.55" y="409.07" width="9.40" height="2.04" fill="#f6c0af"/>
<rect x="144.90" y="409.07" width="9.40" height="2.04" fill="#f8dfd8"/>
<rect x="154.25" y="409.07" width="9.40" height="2.04" fill="#e9e3f4"/>
<rect x="126.20" y="411.06" width="9.40" height="2.04" fill="#f8ded7"/>
<rect x="135.55" y="411.06" width="9.40" height="2.04" fill="#f5b5a0"/>
<rect x="144.90" y="411.06" width="9.40" height="2.04" fill="#c8bce7"/>
<rect x="154.25" y="411.06" width="9.40" height="2.04" fill="#b09fdc"/>
<rect x="126.20" y="413.06" width="9.40" height="2.04" fill="#f4ad96"/>
<rect x="135.55" y="413.06" width="9.40" height="2.04" fill="#f8ddd5"/>
<rect x="144.90" y="413.06" width="9.40" height="2.04" fill="#f6bfad"/>
<rect x="154.25" y="413.06" width="9.40" height="2.04" fill="#c8bce7"/>
<rect x="126.20" y="415.05" width="9.40" height="2.04" fill="#f18867"/>
<rect x="135.55" y="415.05" width="9.40" height="2.04" fill="#f4a68d"/>
<rect x="144.90" y="415.05" width="9.40" height="2.04" fill="#f6bfad"/>
<rect x="154.25" y="415.05" width="9.40" height="2.04" fill="#a28fd5"/>
<rect x="126.20" y="417.04" width="9.40" height="2.04" fill="#cfc5ea"/>
<rect x="135.55" y="417.04" width="9.40" height="2.04" fill="#ede8f6"/>
<rect x="144.90" y="417.04" width="9.40" height="2.04" fill="#f8e5e0"/>
<rect x="154.25" y="417.04" width="9.40" height="2.04" fill="#5f40ae"/>
<rect x="126.20" y="419.03" width="9.40" height="2.04" fill="#f8e9e6"/>
<rect x="135.55" y="419.03" width="9.40" height="2.04" fill="#eee9f6"/>
<rect x="144.90" y="419.03" width="9.40" height="2.04" fill="#e8e2f4"/>
<rect x="154.25" y="419.03" width="9.40" height="2.04" fill="#eae4f5"/>
<rect x="126.20" y="421.02" width="9.40" height="2.04" fill="#f29374"/>
<rect x="135.55" y="421.02" width="9.40" height="2.04" fill="#e1d9f2"/>
<rect x="144.90" y="421.02" width="9.40" height="2.04" fill="#f7cdbf"/>
<rect x="154.25" y="421.02" width="9.40" height="2.04" fill="#f0ebf7"/>
<rect x="126.20" y="423.01" width="9.40" height="2.04" fill="#f5b39e"/>
<rect x="135.55" y="423.01" width="9.40" height="2.04" fill="#ece7f5"/>
<rect x="144.90" y="423.01" width="9.40" height="2.04" fill="#b6a6df"/>
<rect x="154.25" y="423.01" width="9.40" height="2.04" fill="#aa97d9"/>
</g>
<line x1="17.00" y1="209.40" x2="54.80" y2="209.40" stroke="#555" stroke-width="1.1"/>
<line x1="56.20" y1="209.40" x2="94.00" y2="209.40" stroke="#555" stroke-width="1.1"/>
<line x1="95.80" y1="209.40" x2="124.20" y2="209.40" stroke="#555" stroke-width="1.1"/>
<line x1="126.20" y1="209.40" x2="163.60" y2="209.40" stroke="#555" stroke-width="1.1"/>
<defs><linearGradient id="cb" x1="0" x2="1" y1="0" y2="0"><stop offset="0" stop-color="#1f2874"/><stop offset="0.18" stop-color="#3b52b0"/><stop offset="0.36" stop-color="#a9c0ec"/><stop offset="0.47" stop-color="#ffffff"/><stop offset="0.53" stop-color="#ffffff"/><stop offset="0.64" stop-color="#f8c9b9"/><stop offset="0.82" stop-color="#f07a55"/><stop offset="1" stop-color="#e2401c"/></linearGradient></defs>
<rect x="61.40" y="435.30" width="51.40" height="6.20" fill="url(#cb)"/>
<text x="89.00" y="433.40" font-size="7.7" text-anchor="middle" fill="#444">Z-score</text>
<text x="60.00" y="441.50" font-size="8.2" text-anchor="end" fill="#444">−4</text>
<text x="115.00" y="441.50" font-size="8.2" fill="#444">4</text>
<text x="278.00" y="33.50" font-size="8.2" fill="#444" stroke="#444" stroke-width="0.12" textLength="62.20" lengthAdjust="spacingAndGlyphs"><tspan font-style="italic">Cd53</tspan><tspan font-size="5.74" dy="-3.1">−/−</tspan><tspan dy="3.1"> vs WT</tspan></text>
<text x="272.30" y="44.90" font-size="8.2" fill="#444" textLength="73.10" lengthAdjust="spacingAndGlyphs" stroke="#444" stroke-width="0.12">Vehicle BM HSCs</text>
<g fill="#c6c6cc"><circle cx="294.5" cy="129.9" r="0.95"/><circle cx="306.9" cy="124.0" r="0.95"/><circle cx="307.7" cy="119.7" r="0.95"/><circle cx="312.6" cy="131.8" r="0.95"/><circle cx="316.0" cy="135.3" r="0.95"/><circle cx="311.7" cy="120.0" r="0.95"/><circle cx="297.9" cy="135.5" r="0.95"/><circle cx="295.1" cy="135.0" r="0.95"/><circle cx="314.4" cy="130.4" r="0.95"/><circle cx="290.0" cy="130.7" r="0.95"/><circle cx="309.5" cy="123.8" r="0.95"/><circle cx="297.9" cy="117.4" r="0.95"/><circle cx="305.7" cy="127.4" r="0.95"/><circle cx="301.8" cy="135.0" r="0.95"/><circle cx="309.2" cy="128.8" r="0.95"/><circle cx="308.4" cy="118.9" r="0.95"/><circle cx="312.2" cy="129.1" r="0.95"/><circle cx="320.6" cy="133.5" r="0.95"/><circle cx="313.9" cy="132.7" r="0.95"/><circle cx="308.9" cy="130.0" r="0.95"/><circle cx="316.8" cy="133.7" r="0.95"/><circle cx="301.1" cy="134.8" r="0.95"/><circle cx="305.4" cy="130.7" r="0.95"/><circle cx="299.3" cy="121.7" r="0.95"/><circle cx="311.6" cy="129.6" r="0.95"/><circle cx="312.2" cy="132.2" r="0.95"/><circle cx="317.8" cy="128.3" r="0.95"/><circle cx="301.4" cy="128.2" r="0.95"/><circle cx="310.8" cy="118.5" r="0.95"/><circle cx="295.1" cy="132.5" r="0.95"/><circle cx="305.0" cy="135.0" r="0.95"/><circle cx="297.1" cy="126.3" r="0.95"/><circle cx="304.5" cy="130.6" r="0.95"/><circle cx="314.6" cy="130.3" r="0.95"/><circle cx="290.0" cy="134.6" r="0.95"/><circle cx="296.9" cy="122.1" r="0.95"/><circle cx="304.0" cy="124.1" r="0.95"/><circle cx="309.1" cy="117.2" r="0.95"/><circle cx="311.8" cy="134.4" r="0.95"/><circle cx="314.8" cy="127.6" r="0.95"/><circle cx="302.7" cy="125.8" r="0.95"/><circle cx="298.7" cy="122.5" r="0.95"/><circle cx="306.6" cy="117.6" r="0.95"/><circle cx="313.9" cy="132.5" r="0.95"/><circle cx="299.0" cy="131.3" r="0.95"/><circle cx="301.4" cy="128.7" r="0.95"/><circle cx="304.9" cy="134.4" r="0.95"/><circle cx="293.4" cy="128.1" r="0.95"/><circle cx="316.5" cy="130.3" r="0.95"/><circle cx="307.1" cy="116.5" r="0.95"/><circle cx="267.3" cy="134.1" r="0.95"/><circle cx="291.4" cy="125.8" r="0.95"/><circle cx="280.5" cy="132.9" r="0.95"/><circle cx="300.4" cy="121.7" r="0.95"/><circle cx="308.7" cy="122.7" r="0.95"/><circle cx="287.3" cy="130.6" r="0.95"/><circle cx="292.0" cy="130.1" r="0.95"/><circle cx="310.9" cy="129.9" r="0.95"/><circle cx="294.7" cy="127.2" r="0.95"/><circle cx="298.7" cy="119.0" r="0.95"/><circle cx="302.9" cy="129.0" r="0.95"/><circle cx="296.3" cy="122.3" r="0.95"/><circle cx="316.6" cy="130.1" r="0.95"/><circle cx="298.4" cy="127.2" r="0.95"/><circle cx="304.7" cy="124.4" r="0.95"/><circle cx="304.0" cy="127.7" r="0.95"/><circle cx="305.2" cy="134.0" r="0.95"/><circle cx="313.5" cy="123.6" r="0.95"/><circle cx="297.6" cy="124.4" r="0.95"/><circle cx="306.6" cy="116.1" r="0.95"/><circle cx="311.9" cy="130.3" r="0.95"/><circle cx="298.1" cy="127.3" r="0.95"/><circle cx="300.6" cy="118.1" r="0.95"/><circle cx="299.4" cy="133.0" r="0.95"/><circle cx="285.5" cy="134.5" r="0.95"/><circle cx="305.8" cy="130.2" r="0.95"/><circle cx="311.9" cy="122.5" r="0.95"/><circle cx="302.1" cy="135.4" r="0.95"/><circle cx="305.6" cy="129.2" r="0.95"/><circle cx="302.4" cy="126.3" r="0.95"/><circle cx="308.2" cy="135.3" r="0.95"/><circle cx="304.5" cy="133.2" r="0.95"/><circle cx="305.5" cy="130.8" r="0.95"/><circle cx="305.9" cy="128.1" r="0.95"/><circle cx="310.9" cy="132.9" r="0.95"/><circle cx="285.6" cy="134.9" r="0.95"/><circle cx="312.8" cy="133.6" r="0.95"/><circle cx="304.6" cy="132.0" r="0.95"/><circle cx="300.9" cy="120.1" r="0.95"/><circle cx="295.1" cy="124.5" r="0.95"/><circle cx="306.8" cy="120.8" r="0.95"/><circle cx="302.1" cy="130.7" r="0.95"/><circle cx="291.9" cy="130.2" r="0.95"/><circle cx="291.9" cy="127.7" r="0.95"/><circle cx="312.2" cy="133.1" r="0.95"/><circle cx="301.0" cy="118.6" r="0.95"/><circle cx="296.2" cy="121.4" r="0.95"/><circle cx="294.4" cy="122.4" r="0.95"/><circle cx="290.6" cy="127.7" r="0.95"/><circle cx="300.8" cy="129.3" r="0.95"/><circle cx="311.3" cy="123.3" r="0.95"/><circle cx="308.2" cy="135.3" r="0.95"/><circle cx="305.0" cy="134.0" r="0.95"/><circle cx="301.4" cy="119.2" r="0.95"/><circle cx="306.8" cy="120.8" r="0.95"/><circle cx="307.4" cy="121.9" r="0.95"/><circle cx="312.6" cy="134.7" r="0.95"/><circle cx="301.0" cy="125.4" r="0.95"/><circle cx="300.9" cy="125.5" r="0.95"/><circle cx="316.2" cy="130.4" r="0.95"/><circle cx="301.1" cy="116.6" r="0.95"/><circle cx="311.1" cy="121.5" r="0.95"/><circle cx="313.3" cy="133.4" r="0.95"/><circle cx="302.1" cy="130.1" r="0.95"/><circle cx="302.5" cy="129.9" r="0.95"/><circle cx="302.9" cy="126.1" r="0.95"/><circle cx="295.6" cy="134.9" r="0.95"/><circle cx="300.5" cy="128.0" r="0.95"/><circle cx="321.0" cy="133.2" r="0.95"/><circle cx="299.3" cy="128.0" r="0.95"/><circle cx="310.7" cy="130.9" r="0.95"/><circle cx="288.6" cy="131.6" r="0.95"/><circle cx="307.7" cy="135.3" r="0.95"/><circle cx="302.1" cy="133.4" r="0.95"/><circle cx="301.3" cy="123.1" r="0.95"/><circle cx="297.7" cy="123.1" r="0.95"/><circle cx="310.7" cy="132.9" r="0.95"/><circle cx="310.5" cy="128.7" r="0.95"/><circle cx="298.3" cy="133.3" r="0.95"/><circle cx="309.7" cy="124.5" r="0.95"/><circle cx="297.8" cy="125.3" r="0.95"/><circle cx="296.7" cy="132.5" r="0.95"/><circle cx="303.2" cy="132.3" r="0.95"/><circle cx="289.8" cy="128.3" r="0.95"/><circle cx="309.6" cy="133.7" r="0.95"/><circle cx="331.4" cy="133.8" r="0.95"/><circle cx="303.8" cy="131.0" r="0.95"/><circle cx="307.5" cy="133.7" r="0.95"/><circle cx="317.1" cy="134.1" r="0.95"/><circle cx="296.9" cy="134.2" r="0.95"/><circle cx="288.4" cy="130.7" r="0.95"/><circle cx="292.1" cy="135.1" r="0.95"/><circle cx="303.8" cy="135.3" r="0.95"/><circle cx="295.1" cy="134.0" r="0.95"/><circle cx="301.0" cy="132.2" r="0.95"/><circle cx="316.8" cy="135.0" r="0.95"/><circle cx="319.9" cy="130.9" r="0.95"/><circle cx="301.4" cy="126.6" r="0.95"/><circle cx="295.8" cy="135.5" r="0.95"/><circle cx="303.2" cy="125.5" r="0.95"/><circle cx="307.6" cy="128.2" r="0.95"/><circle cx="311.8" cy="133.6" r="0.95"/><circle cx="302.6" cy="126.1" r="0.95"/><circle cx="303.9" cy="125.2" r="0.95"/><circle cx="298.5" cy="126.9" r="0.95"/><circle cx="298.2" cy="121.1" r="0.95"/><circle cx="303.1" cy="126.4" r="0.95"/><circle cx="321.1" cy="133.6" r="0.95"/><circle cx="316.8" cy="128.6" r="0.95"/><circle cx="294.3" cy="130.8" r="0.95"/><circle cx="303.5" cy="130.4" r="0.95"/><circle cx="290.8" cy="130.3" r="0.95"/><circle cx="312.8" cy="121.8" r="0.95"/><circle cx="300.4" cy="124.6" r="0.95"/><circle cx="297.9" cy="129.4" r="0.95"/><circle cx="315.2" cy="127.2" r="0.95"/><circle cx="304.0" cy="135.4" r="0.95"/><circle cx="294.4" cy="130.8" r="0.95"/><circle cx="308.9" cy="134.2" r="0.95"/><circle cx="311.1" cy="120.5" r="0.95"/><circle cx="295.2" cy="128.0" r="0.95"/><circle cx="301.1" cy="122.8" r="0.95"/><circle cx="305.1" cy="126.7" r="0.95"/><circle cx="312.0" cy="129.0" r="0.95"/><circle cx="302.0" cy="130.2" r="0.95"/><circle cx="301.9" cy="131.1" r="0.95"/><circle cx="302.3" cy="128.9" r="0.95"/><circle cx="299.8" cy="125.2" r="0.95"/><circle cx="308.8" cy="122.1" r="0.95"/><circle cx="303.6" cy="135.3" r="0.95"/><circle cx="305.3" cy="126.7" r="0.95"/><circle cx="291.2" cy="135.3" r="0.95"/><circle cx="314.6" cy="124.2" r="0.95"/><circle cx="319.2" cy="132.6" r="0.95"/><circle cx="311.6" cy="132.4" r="0.95"/><circle cx="285.8" cy="133.5" r="0.95"/><circle cx="301.3" cy="118.5" r="0.95"/><circle cx="300.9" cy="127.0" r="0.95"/><circle cx="301.7" cy="135.2" r="0.95"/><circle cx="300.0" cy="122.7" r="0.95"/><circle cx="303.3" cy="133.0" r="0.95"/><circle cx="296.9" cy="127.4" r="0.95"/><circle cx="300.0" cy="116.2" r="0.95"/><circle cx="303.4" cy="124.8" r="0.95"/><circle cx="298.3" cy="124.7" r="0.95"/><circle cx="300.1" cy="124.9" r="0.95"/><circle cx="308.8" cy="123.9" r="0.95"/><circle cx="304.1" cy="123.5" r="0.95"/><circle cx="298.9" cy="118.8" r="0.95"/><circle cx="306.7" cy="127.5" r="0.95"/><circle cx="304.7" cy="134.7" r="0.95"/><circle cx="301.1" cy="121.9" r="0.95"/><circle cx="303.2" cy="128.3" r="0.95"/><circle cx="297.8" cy="130.3" r="0.95"/><circle cx="310.4" cy="121.0" r="0.95"/><circle cx="307.5" cy="123.4" r="0.95"/><circle cx="305.8" cy="133.5" r="0.95"/><circle cx="298.6" cy="129.5" r="0.95"/><circle cx="306.8" cy="114.3" r="0.95"/><circle cx="299.5" cy="117.3" r="0.95"/><circle cx="312.8" cy="130.9" r="0.95"/><circle cx="321.5" cy="135.3" r="0.95"/><circle cx="295.7" cy="131.8" r="0.95"/><circle cx="300.5" cy="134.5" r="0.95"/><circle cx="306.6" cy="130.1" r="0.95"/><circle cx="315.2" cy="128.1" r="0.95"/><circle cx="303.1" cy="127.1" r="0.95"/><circle cx="308.2" cy="133.9" r="0.95"/><circle cx="301.4" cy="115.4" r="0.95"/><circle cx="294.2" cy="130.4" r="0.95"/><circle cx="306.2" cy="128.0" r="0.95"/><circle cx="297.7" cy="119.7" r="0.95"/><circle cx="304.1" cy="131.7" r="0.95"/><circle cx="311.4" cy="130.0" r="0.95"/><circle cx="307.4" cy="125.2" r="0.95"/><circle cx="313.5" cy="128.5" r="0.95"/><circle cx="309.9" cy="131.3" r="0.95"/><circle cx="285.3" cy="133.2" r="0.95"/><circle cx="303.0" cy="128.1" r="0.95"/><circle cx="304.9" cy="126.2" r="0.95"/><circle cx="301.3" cy="134.4" r="0.95"/><circle cx="302.6" cy="128.3" r="0.95"/><circle cx="287.4" cy="131.4" r="0.95"/><circle cx="300.5" cy="120.1" r="0.95"/><circle cx="299.3" cy="121.0" r="0.95"/><circle cx="298.4" cy="123.6" r="0.95"/><circle cx="308.4" cy="125.7" r="0.95"/><circle cx="301.8" cy="131.3" r="0.95"/><circle cx="292.0" cy="129.1" r="0.95"/><circle cx="312.6" cy="122.5" r="0.95"/><circle cx="292.8" cy="128.8" r="0.95"/><circle cx="291.9" cy="131.8" r="0.95"/><circle cx="302.2" cy="134.3" r="0.95"/><circle cx="302.7" cy="134.0" r="0.95"/><circle cx="280.1" cy="134.5" r="0.95"/><circle cx="342.3" cy="135.0" r="0.95"/><circle cx="312.5" cy="133.5" r="0.95"/><circle cx="284.8" cy="131.7" r="0.95"/><circle cx="311.4" cy="132.7" r="0.95"/><circle cx="307.1" cy="121.1" r="0.95"/><circle cx="299.4" cy="131.0" r="0.95"/><circle cx="300.9" cy="120.1" r="0.95"/><circle cx="300.3" cy="126.7" r="0.95"/><circle cx="313.1" cy="123.2" r="0.95"/><circle cx="310.1" cy="118.3" r="0.95"/><circle cx="300.3" cy="131.9" r="0.95"/><circle cx="322.0" cy="133.9" r="0.95"/><circle cx="309.8" cy="126.9" r="0.95"/><circle cx="300.4" cy="131.6" r="0.95"/><circle cx="289.8" cy="129.5" r="0.95"/><circle cx="305.3" cy="128.7" r="0.95"/><circle cx="306.5" cy="131.0" r="0.95"/><circle cx="307.8" cy="125.9" r="0.95"/><circle cx="288.0" cy="132.5" r="0.95"/><circle cx="285.3" cy="132.2" r="0.95"/><circle cx="318.5" cy="129.4" r="0.95"/><circle cx="304.1" cy="132.9" r="0.95"/><circle cx="303.3" cy="130.4" r="0.95"/><circle cx="300.6" cy="124.2" r="0.95"/><circle cx="308.1" cy="128.1" r="0.95"/><circle cx="298.8" cy="134.4" r="0.95"/><circle cx="306.5" cy="125.2" r="0.95"/><circle cx="299.3" cy="119.5" r="0.95"/><circle cx="316.0" cy="132.9" r="0.95"/><circle cx="291.9" cy="128.9" r="0.95"/><circle cx="306.5" cy="128.2" r="0.95"/><circle cx="284.2" cy="133.1" r="0.95"/><circle cx="287.1" cy="134.5" r="0.95"/><circle cx="312.6" cy="129.5" r="0.95"/><circle cx="328.1" cy="135.1" r="0.95"/><circle cx="305.6" cy="132.7" r="0.95"/><circle cx="297.1" cy="130.7" r="0.95"/><circle cx="310.8" cy="124.7" r="0.95"/><circle cx="303.8" cy="132.2" r="0.95"/><circle cx="309.2" cy="125.6" r="0.95"/><circle cx="302.9" cy="134.8" r="0.95"/><circle cx="297.1" cy="134.5" r="0.95"/><circle cx="298.6" cy="128.9" r="0.95"/><circle cx="293.0" cy="129.2" r="0.95"/><circle cx="308.7" cy="133.8" r="0.95"/><circle cx="307.0" cy="134.6" r="0.95"/><circle cx="311.2" cy="125.4" r="0.95"/><circle cx="300.1" cy="119.2" r="0.95"/><circle cx="298.7" cy="135.4" r="0.95"/><circle cx="308.6" cy="122.4" r="0.95"/><circle cx="317.7" cy="130.8" r="0.95"/><circle cx="297.3" cy="124.9" r="0.95"/><circle cx="310.2" cy="129.7" r="0.95"/><circle cx="290.3" cy="130.8" r="0.95"/><circle cx="303.2" cy="126.5" r="0.95"/><circle cx="312.1" cy="128.5" r="0.95"/><circle cx="298.4" cy="122.8" r="0.95"/><circle cx="313.4" cy="124.3" r="0.95"/><circle cx="303.2" cy="124.0" r="0.95"/><circle cx="300.4" cy="131.5" r="0.95"/><circle cx="300.3" cy="121.9" r="0.95"/><circle cx="295.4" cy="129.4" r="0.95"/><circle cx="319.8" cy="129.2" r="0.95"/><circle cx="315.1" cy="129.7" r="0.95"/><circle cx="316.7" cy="133.5" r="0.95"/><circle cx="324.4" cy="133.4" r="0.95"/><circle cx="290.9" cy="128.3" r="0.95"/><circle cx="300.0" cy="124.8" r="0.95"/><circle cx="320.1" cy="134.7" r="0.95"/><circle cx="302.2" cy="133.9" r="0.95"/><circle cx="322.4" cy="134.4" r="0.95"/><circle cx="302.5" cy="127.0" r="0.95"/><circle cx="296.3" cy="135.5" r="0.95"/><circle cx="311.1" cy="128.5" r="0.95"/><circle cx="308.8" cy="133.0" r="0.95"/><circle cx="310.0" cy="131.6" r="0.95"/><circle cx="297.6" cy="135.2" r="0.95"/><circle cx="301.1" cy="133.3" r="0.95"/><circle cx="314.2" cy="131.0" r="0.95"/><circle cx="301.3" cy="121.5" r="0.95"/><circle cx="304.7" cy="123.3" r="0.95"/><circle cx="291.0" cy="127.9" r="0.95"/><circle cx="297.0" cy="120.3" r="0.95"/><circle cx="308.5" cy="126.0" r="0.95"/><circle cx="288.6" cy="135.4" r="0.95"/><circle cx="311.0" cy="120.4" r="0.95"/><circle cx="302.8" cy="132.5" r="0.95"/><circle cx="293.5" cy="135.0" r="0.95"/><circle cx="310.0" cy="129.3" r="0.95"/><circle cx="297.8" cy="132.1" r="0.95"/><circle cx="295.0" cy="130.6" r="0.95"/><circle cx="304.3" cy="123.7" r="0.95"/><circle cx="306.9" cy="117.4" r="0.95"/><circle cx="291.6" cy="128.5" r="0.95"/><circle cx="310.7" cy="120.0" r="0.95"/><circle cx="315.3" cy="130.0" r="0.95"/><circle cx="312.0" cy="135.6" r="0.95"/><circle cx="304.3" cy="135.1" r="0.95"/><circle cx="310.6" cy="121.6" r="0.95"/><circle cx="298.1" cy="135.1" r="0.95"/><circle cx="314.3" cy="129.9" r="0.95"/><circle cx="300.0" cy="115.6" r="0.95"/><circle cx="298.8" cy="118.0" r="0.95"/><circle cx="304.9" cy="133.7" r="0.95"/><circle cx="307.8" cy="132.9" r="0.95"/><circle cx="297.8" cy="117.6" r="0.95"/><circle cx="307.3" cy="117.3" r="0.95"/><circle cx="323.0" cy="134.4" r="0.95"/><circle cx="311.8" cy="121.9" r="0.95"/><circle cx="303.0" cy="124.2" r="0.95"/><circle cx="299.9" cy="134.5" r="0.95"/><circle cx="305.1" cy="133.7" r="0.95"/><circle cx="310.6" cy="132.3" r="0.95"/><circle cx="296.9" cy="125.0" r="0.95"/><circle cx="292.1" cy="129.8" r="0.95"/><circle cx="304.9" cy="127.9" r="0.95"/><circle cx="310.5" cy="125.0" r="0.95"/><circle cx="322.8" cy="133.4" r="0.95"/><circle cx="315.9" cy="135.3" r="0.95"/><circle cx="298.8" cy="120.6" r="0.95"/><circle cx="300.3" cy="130.7" r="0.95"/><circle cx="304.2" cy="129.4" r="0.95"/><circle cx="298.1" cy="119.2" r="0.95"/><circle cx="306.0" cy="119.8" r="0.95"/><circle cx="303.8" cy="124.2" r="0.95"/><circle cx="299.1" cy="123.7" r="0.95"/><circle cx="304.0" cy="127.9" r="0.95"/><circle cx="305.9" cy="125.6" r="0.95"/><circle cx="294.8" cy="128.9" r="0.95"/><circle cx="308.6" cy="133.1" r="0.95"/><circle cx="302.6" cy="133.3" r="0.95"/><circle cx="291.5" cy="128.1" r="0.95"/><circle cx="308.9" cy="127.0" r="0.95"/><circle cx="305.8" cy="135.3" r="0.95"/><circle cx="314.1" cy="126.8" r="0.95"/><circle cx="289.8" cy="134.7" r="0.95"/><circle cx="288.0" cy="133.1" r="0.95"/><circle cx="304.2" cy="126.0" r="0.95"/><circle cx="319.3" cy="132.1" r="0.95"/><circle cx="311.5" cy="132.4" r="0.95"/><circle cx="314.3" cy="132.3" r="0.95"/><circle cx="297.1" cy="126.2" r="0.95"/><circle cx="297.4" cy="121.5" r="0.95"/><circle cx="306.8" cy="121.6" r="0.95"/><circle cx="309.3" cy="121.0" r="0.95"/><circle cx="311.4" cy="132.8" r="0.95"/><circle cx="307.0" cy="135.0" r="0.95"/><circle cx="290.8" cy="134.6" r="0.95"/><circle cx="304.9" cy="126.8" r="0.95"/><circle cx="309.6" cy="133.6" r="0.95"/><circle cx="305.4" cy="132.6" r="0.95"/><circle cx="306.7" cy="114.1" r="0.95"/><circle cx="305.1" cy="133.1" r="0.95"/><circle cx="291.3" cy="133.7" r="0.95"/><circle cx="286.4" cy="134.1" r="0.95"/><circle cx="308.3" cy="124.1" r="0.95"/><circle cx="311.7" cy="135.0" r="0.95"/><circle cx="306.0" cy="127.6" r="0.95"/><circle cx="310.9" cy="128.5" r="0.95"/><circle cx="296.2" cy="122.5" r="0.95"/><circle cx="294.0" cy="131.7" r="0.95"/><circle cx="313.2" cy="128.5" r="0.95"/><circle cx="306.7" cy="126.6" r="0.95"/><circle cx="308.5" cy="127.7" r="0.95"/><circle cx="315.8" cy="133.9" r="0.95"/><circle cx="303.5" cy="135.0" r="0.95"/><circle cx="301.3" cy="135.4" r="0.95"/><circle cx="297.1" cy="131.9" r="0.95"/><circle cx="290.2" cy="133.8" r="0.95"/><circle cx="315.0" cy="134.2" r="0.95"/><circle cx="310.8" cy="123.6" r="0.95"/><circle cx="301.1" cy="135.4" r="0.95"/><circle cx="300.6" cy="117.3" r="0.95"/><circle cx="310.9" cy="122.8" r="0.95"/><circle cx="301.4" cy="131.4" r="0.95"/><circle cx="315.8" cy="135.4" r="0.95"/><circle cx="312.5" cy="130.0" r="0.95"/><circle cx="299.9" cy="131.2" r="0.95"/><circle cx="302.8" cy="127.9" r="0.95"/><circle cx="307.2" cy="121.2" r="0.95"/><circle cx="308.2" cy="128.8" r="0.95"/><circle cx="307.7" cy="129.5" r="0.95"/><circle cx="299.8" cy="135.1" r="0.95"/><circle cx="314.9" cy="126.3" r="0.95"/><circle cx="305.7" cy="132.6" r="0.95"/><circle cx="295.6" cy="125.7" r="0.95"/><circle cx="288.6" cy="129.0" r="0.95"/><circle cx="307.9" cy="134.3" r="0.95"/><circle cx="299.8" cy="128.7" r="0.95"/><circle cx="311.1" cy="128.0" r="0.95"/><circle cx="306.8" cy="133.0" r="0.95"/><circle cx="296.8" cy="125.1" r="0.95"/><circle cx="309.1" cy="134.3" r="0.95"/><circle cx="299.5" cy="124.8" r="0.95"/><circle cx="310.8" cy="126.8" r="0.95"/><circle cx="303.5" cy="131.7" r="0.95"/><circle cx="299.9" cy="126.5" r="0.95"/><circle cx="305.5" cy="130.5" r="0.95"/><circle cx="314.2" cy="131.8" r="0.95"/><circle cx="311.8" cy="125.5" r="0.95"/><circle cx="297.7" cy="128.1" r="0.95"/><circle cx="289.5" cy="131.5" r="0.95"/><circle cx="291.1" cy="128.6" r="0.95"/><circle cx="296.4" cy="129.6" r="0.95"/><circle cx="296.2" cy="122.6" r="0.95"/><circle cx="309.6" cy="135.2" r="0.95"/><circle cx="298.8" cy="126.8" r="0.95"/><circle cx="301.3" cy="133.2" r="0.95"/><circle cx="310.9" cy="132.4" r="0.95"/><circle cx="294.1" cy="129.1" r="0.95"/><circle cx="299.5" cy="123.4" r="0.95"/><circle cx="307.6" cy="123.4" r="0.95"/><circle cx="290.3" cy="133.2" r="0.95"/><circle cx="298.5" cy="119.1" r="0.95"/><circle cx="299.2" cy="122.8" r="0.95"/><circle cx="315.4" cy="126.6" r="0.95"/><circle cx="309.9" cy="126.0" r="0.95"/><circle cx="313.2" cy="132.2" r="0.95"/><circle cx="303.9" cy="133.1" r="0.95"/><circle cx="294.4" cy="133.7" r="0.95"/><circle cx="303.3" cy="135.0" r="0.95"/><circle cx="313.8" cy="130.2" r="0.95"/><circle cx="311.3" cy="128.4" r="0.95"/><circle cx="312.2" cy="135.1" r="0.95"/><circle cx="317.3" cy="131.5" r="0.95"/><circle cx="306.2" cy="131.1" r="0.95"/><circle cx="296.5" cy="131.0" r="0.95"/><circle cx="297.4" cy="121.4" r="0.95"/><circle cx="315.4" cy="131.5" r="0.95"/><circle cx="301.1" cy="119.0" r="0.95"/><circle cx="293.5" cy="131.6" r="0.95"/><circle cx="301.3" cy="135.4" r="0.95"/><circle cx="299.1" cy="117.3" r="0.95"/><circle cx="308.1" cy="128.1" r="0.95"/><circle cx="303.2" cy="131.3" r="0.95"/><circle cx="285.7" cy="132.3" r="0.95"/><circle cx="305.7" cy="127.1" r="0.95"/><circle cx="305.6" cy="134.5" r="0.95"/><circle cx="303.1" cy="130.3" r="0.95"/><circle cx="305.6" cy="132.4" r="0.95"/><circle cx="308.6" cy="128.8" r="0.95"/><circle cx="289.8" cy="129.7" r="0.95"/><circle cx="311.7" cy="127.5" r="0.95"/><circle cx="303.1" cy="134.2" r="0.95"/><circle cx="305.7" cy="133.1" r="0.95"/><circle cx="307.3" cy="133.7" r="0.95"/><circle cx="303.3" cy="134.3" r="0.95"/><circle cx="305.4" cy="132.8" r="0.95"/><circle cx="305.3" cy="133.0" r="0.95"/><circle cx="333.1" cy="134.9" r="0.95"/><circle cx="311.1" cy="118.7" r="0.95"/><circle cx="312.2" cy="122.4" r="0.95"/><circle cx="296.0" cy="130.2" r="0.95"/><circle cx="283.2" cy="133.4" r="0.95"/><circle cx="300.4" cy="116.1" r="0.95"/><circle cx="320.5" cy="130.8" r="0.95"/><circle cx="285.2" cy="135.0" r="0.95"/><circle cx="308.7" cy="134.6" r="0.95"/><circle cx="304.8" cy="126.7" r="0.95"/><circle cx="320.8" cy="134.6" r="0.95"/><circle cx="305.1" cy="126.0" r="0.95"/><circle cx="303.7" cy="126.9" r="0.95"/><circle cx="292.7" cy="127.3" r="0.95"/><circle cx="312.3" cy="134.5" r="0.95"/><circle cx="311.5" cy="132.3" r="0.95"/><circle cx="301.6" cy="135.3" r="0.95"/><circle cx="299.0" cy="129.4" r="0.95"/><circle cx="301.4" cy="118.6" r="0.95"/><circle cx="296.7" cy="131.8" r="0.95"/><circle cx="312.4" cy="131.5" r="0.95"/><circle cx="309.8" cy="132.5" r="0.95"/><circle cx="307.9" cy="125.3" r="0.95"/><circle cx="301.9" cy="134.3" r="0.95"/><circle cx="299.6" cy="127.9" r="0.95"/><circle cx="313.2" cy="131.8" r="0.95"/><circle cx="304.5" cy="123.9" r="0.95"/><circle cx="308.5" cy="121.1" r="0.95"/><circle cx="319.4" cy="128.8" r="0.95"/><circle cx="285.9" cy="133.8" r="0.95"/><circle cx="312.5" cy="133.5" r="0.95"/><circle cx="302.3" cy="132.3" r="0.95"/><circle cx="315.6" cy="132.2" r="0.95"/><circle cx="308.4" cy="129.0" r="0.95"/><circle cx="303.7" cy="133.5" r="0.95"/><circle cx="291.9" cy="129.6" r="0.95"/><circle cx="293.1" cy="129.4" r="0.95"/><circle cx="315.2" cy="131.0" r="0.95"/><circle cx="313.8" cy="130.7" r="0.95"/><circle cx="299.8" cy="124.9" r="0.95"/><circle cx="307.7" cy="135.2" r="0.95"/><circle cx="298.1" cy="125.4" r="0.95"/><circle cx="297.9" cy="133.5" r="0.95"/><circle cx="279.9" cy="134.8" r="0.95"/><circle cx="308.8" cy="116.1" r="0.95"/><circle cx="291.2" cy="126.2" r="0.95"/><circle cx="313.0" cy="132.9" r="0.95"/><circle cx="310.1" cy="120.8" r="0.95"/><circle cx="294.5" cy="129.3" r="0.95"/><circle cx="306.9" cy="121.1" r="0.95"/><circle cx="303.9" cy="125.9" r="0.95"/><circle cx="294.7" cy="133.4" r="0.95"/><circle cx="306.8" cy="122.6" r="0.95"/><circle cx="312.9" cy="129.2" r="0.95"/><circle cx="308.4" cy="120.0" r="0.95"/><circle cx="312.2" cy="121.8" r="0.95"/><circle cx="293.4" cy="134.2" r="0.95"/><circle cx="309.1" cy="129.9" r="0.95"/><circle cx="313.8" cy="133.7" r="0.95"/><circle cx="292.9" cy="126.0" r="0.95"/><circle cx="282.3" cy="132.2" r="0.95"/><circle cx="306.9" cy="120.7" r="0.95"/><circle cx="314.6" cy="127.9" r="0.95"/><circle cx="302.8" cy="132.3" r="0.95"/><circle cx="304.6" cy="132.8" r="0.95"/><circle cx="294.4" cy="134.3" r="0.95"/><circle cx="308.2" cy="97.5" r="0.95"/><circle cx="306.8" cy="102.4" r="0.95"/><circle cx="272.8" cy="119.7" r="0.95"/><circle cx="276.3" cy="126.0" r="0.95"/><circle cx="329.0" cy="123.9" r="0.95"/><circle cx="335.2" cy="121.8" r="0.95"/><circle cx="318.6" cy="109.3" r="0.95"/><circle cx="283.0" cy="114.0" r="0.95"/><circle cx="323.0" cy="112.5" r="0.95"/><circle cx="296.0" cy="108.0" r="0.95"/><circle cx="313.0" cy="106.0" r="0.95"/></g>
<g fill="#efe22c"><circle cx="300.5" cy="124.2" r="0.95"/><circle cx="302.0" cy="128.9" r="0.95"/><circle cx="302.0" cy="118.4" r="0.95"/><circle cx="301.1" cy="126.0" r="0.95"/><circle cx="302.1" cy="117.1" r="0.95"/><circle cx="301.5" cy="124.2" r="0.95"/><circle cx="300.3" cy="131.9" r="0.95"/><circle cx="302.7" cy="130.1" r="0.95"/><circle cx="303.1" cy="129.8" r="0.95"/><circle cx="300.6" cy="121.3" r="0.95"/><circle cx="302.4" cy="128.2" r="0.95"/><circle cx="300.7" cy="118.4" r="0.95"/><circle cx="303.4" cy="133.1" r="0.95"/><circle cx="301.1" cy="126.7" r="0.95"/><circle cx="304.4" cy="132.3" r="0.95"/><circle cx="301.1" cy="120.5" r="0.95"/><circle cx="300.6" cy="118.6" r="0.95"/><circle cx="301.5" cy="130.5" r="0.95"/><circle cx="299.8" cy="129.3" r="0.95"/><circle cx="300.5" cy="135.5" r="0.95"/><circle cx="302.1" cy="129.4" r="0.95"/><circle cx="301.2" cy="118.1" r="0.95"/><circle cx="303.3" cy="124.7" r="0.95"/><circle cx="301.0" cy="133.0" r="0.95"/><circle cx="301.9" cy="119.5" r="0.95"/><circle cx="300.5" cy="132.8" r="0.95"/><circle cx="302.1" cy="121.3" r="0.95"/><circle cx="300.5" cy="120.6" r="0.95"/><circle cx="300.6" cy="135.1" r="0.95"/><circle cx="302.4" cy="119.5" r="0.95"/><circle cx="302.3" cy="130.7" r="0.95"/><circle cx="301.1" cy="123.5" r="0.95"/><circle cx="300.8" cy="119.5" r="0.95"/><circle cx="303.0" cy="118.2" r="0.95"/><circle cx="301.9" cy="128.9" r="0.95"/><circle cx="300.5" cy="130.9" r="0.95"/><circle cx="301.8" cy="124.7" r="0.95"/><circle cx="304.8" cy="126.1" r="0.95"/><circle cx="301.1" cy="117.2" r="0.95"/><circle cx="302.5" cy="130.3" r="0.95"/><circle cx="300.1" cy="124.0" r="0.95"/><circle cx="302.5" cy="117.1" r="0.95"/><circle cx="302.2" cy="130.2" r="0.95"/><circle cx="302.3" cy="125.0" r="0.95"/><circle cx="305.8" cy="133.5" r="0.95"/><circle cx="302.4" cy="130.8" r="0.95"/><circle cx="302.5" cy="123.1" r="0.95"/><circle cx="302.7" cy="135.2" r="0.95"/><circle cx="303.1" cy="125.7" r="0.95"/><circle cx="301.6" cy="123.1" r="0.95"/><circle cx="303.6" cy="123.4" r="0.95"/><circle cx="302.5" cy="122.3" r="0.95"/><circle cx="302.8" cy="135.9" r="0.95"/><circle cx="303.7" cy="120.4" r="0.95"/><circle cx="300.5" cy="135.8" r="0.95"/><circle cx="300.0" cy="131.1" r="0.95"/><circle cx="301.2" cy="134.9" r="0.95"/><circle cx="301.2" cy="122.0" r="0.95"/><circle cx="303.2" cy="134.7" r="0.95"/><circle cx="302.0" cy="126.9" r="0.95"/><circle cx="302.0" cy="128.0" r="0.95"/><circle cx="301.8" cy="132.1" r="0.95"/><circle cx="300.6" cy="130.0" r="0.95"/><circle cx="301.9" cy="135.6" r="0.95"/><circle cx="302.9" cy="127.1" r="0.95"/><circle cx="302.0" cy="129.1" r="0.95"/><circle cx="301.2" cy="120.6" r="0.95"/><circle cx="303.3" cy="134.3" r="0.95"/><circle cx="301.3" cy="130.1" r="0.95"/><circle cx="303.6" cy="126.0" r="0.95"/><circle cx="299.0" cy="130.0" r="0.95"/><circle cx="303.2" cy="135.9" r="0.95"/><circle cx="303.3" cy="123.3" r="0.95"/><circle cx="302.4" cy="123.8" r="0.95"/><circle cx="303.1" cy="135.8" r="0.95"/><circle cx="300.4" cy="134.9" r="0.95"/><circle cx="304.5" cy="125.3" r="0.95"/><circle cx="302.6" cy="120.7" r="0.95"/><circle cx="302.0" cy="135.3" r="0.95"/><circle cx="304.0" cy="132.7" r="0.95"/><circle cx="303.6" cy="131.5" r="0.95"/><circle cx="300.1" cy="128.5" r="0.95"/><circle cx="299.9" cy="118.3" r="0.95"/><circle cx="298.9" cy="126.9" r="0.95"/><circle cx="301.6" cy="130.3" r="0.95"/><circle cx="301.5" cy="132.0" r="0.95"/><circle cx="300.6" cy="130.8" r="0.95"/><circle cx="300.4" cy="129.7" r="0.95"/><circle cx="301.8" cy="129.6" r="0.95"/><circle cx="303.9" cy="129.3" r="0.95"/><circle cx="302.5" cy="135.5" r="0.95"/><circle cx="300.4" cy="127.7" r="0.95"/><circle cx="301.2" cy="133.3" r="0.95"/><circle cx="300.7" cy="135.1" r="0.95"/><circle cx="302.4" cy="128.6" r="0.95"/><circle cx="301.6" cy="133.2" r="0.95"/><circle cx="299.9" cy="136.0" r="0.95"/><circle cx="301.8" cy="130.1" r="0.95"/><circle cx="301.6" cy="126.4" r="0.95"/><circle cx="300.7" cy="118.0" r="0.95"/><circle cx="303.0" cy="130.8" r="0.95"/><circle cx="300.2" cy="132.0" r="0.95"/><circle cx="300.4" cy="131.8" r="0.95"/><circle cx="299.5" cy="128.3" r="0.95"/><circle cx="301.3" cy="135.6" r="0.95"/><circle cx="301.6" cy="135.1" r="0.95"/><circle cx="302.5" cy="121.9" r="0.95"/><circle cx="302.4" cy="129.7" r="0.95"/><circle cx="300.5" cy="132.3" r="0.95"/><circle cx="304.5" cy="124.5" r="0.95"/><circle cx="303.1" cy="121.1" r="0.95"/><circle cx="300.6" cy="131.5" r="0.95"/><circle cx="303.4" cy="122.1" r="0.95"/><circle cx="303.5" cy="125.3" r="0.95"/><circle cx="302.5" cy="135.6" r="0.95"/><circle cx="299.0" cy="125.7" r="0.95"/><circle cx="300.7" cy="125.4" r="0.95"/><circle cx="303.9" cy="135.9" r="0.95"/><circle cx="300.8" cy="126.6" r="0.95"/><circle cx="301.5" cy="136.0" r="0.95"/></g>
<line x1="267.40" y1="53.80" x2="267.40" y2="139.40" stroke="#231f20" stroke-width="1.3"/>
<line x1="264.60" y1="56.60" x2="267.40" y2="56.60" stroke="#231f20" stroke-width="1.1"/>
<text x="261.90" y="59.35" font-size="7.8" text-anchor="end" fill="#333" stroke="#333" stroke-width="0.22">10.0</text>
<line x1="264.60" y1="76.30" x2="267.40" y2="76.30" stroke="#231f20" stroke-width="1.1"/>
<text x="261.90" y="79.05" font-size="7.8" text-anchor="end" fill="#333" stroke="#333" stroke-width="0.22">7.5</text>
<line x1="264.60" y1="96.00" x2="267.40" y2="96.00" stroke="#231f20" stroke-width="1.1"/>
<text x="261.90" y="98.75" font-size="7.8" text-anchor="end" fill="#333" stroke="#333" stroke-width="0.22">5.0</text>
<line x1="264.60" y1="115.70" x2="267.40" y2="115.70" stroke="#231f20" stroke-width="1.1"/>
<text x="261.90" y="118.45" font-size="7.8" text-anchor="end" fill="#333" stroke="#333" stroke-width="0.22">2.5</text>
<line x1="264.60" y1="135.40" x2="267.40" y2="135.40" stroke="#231f20" stroke-width="1.1"/>
<text x="261.90" y="138.15" font-size="7.8" text-anchor="end" fill="#333" stroke="#333" stroke-width="0.22">0.0</text>
<line x1="266.80" y1="139.20" x2="338.30" y2="139.20" stroke="#231f20" stroke-width="1.3"/>
<line x1="270.50" y1="139.20" x2="270.50" y2="142.20" stroke="#231f20" stroke-width="1.1"/>
<text x="270.50" y="151.80" font-size="7.8" text-anchor="middle" fill="#333" stroke="#333" stroke-width="0.22">−6</text>
<line x1="286.70" y1="139.20" x2="286.70" y2="142.20" stroke="#231f20" stroke-width="1.1"/>
<text x="286.70" y="151.80" font-size="7.8" text-anchor="middle" fill="#333" stroke="#333" stroke-width="0.22">−3</text>
<line x1="303.10" y1="139.20" x2="303.10" y2="142.20" stroke="#231f20" stroke-width="1.1"/>
<text x="303.10" y="151.80" font-size="7.8" text-anchor="middle" fill="#333" stroke="#333" stroke-width="0.22">0</text>
<line x1="319.40" y1="139.20" x2="319.40" y2="142.20" stroke="#231f20" stroke-width="1.1"/>
<text x="319.40" y="151.80" font-size="7.8" text-anchor="middle" fill="#333" stroke="#333" stroke-width="0.22">3</text>
<line x1="335.60" y1="139.20" x2="335.60" y2="142.20" stroke="#231f20" stroke-width="1.1"/>
<text x="335.60" y="151.80" font-size="7.8" text-anchor="middle" fill="#333" stroke="#333" stroke-width="0.22">6</text>
<text transform="translate(238.40 96.60) rotate(-90)" x="0" y="0" font-size="8.4" text-anchor="middle" fill="#333" stroke="#333" stroke-width="0.22" textLength="54.30" lengthAdjust="spacingAndGlyphs">-Log<tspan font-size="6.05" dy="2.9">10</tspan><tspan dy="-2.9"> (</tspan><tspan font-style="italic">P</tspan>-value)</text>
<text x="275.00" y="164.40" font-size="8.4" fill="#333" stroke="#333" stroke-width="0.22" textLength="56.20" lengthAdjust="spacingAndGlyphs">Log<tspan font-size="6.05" dy="2.9">2</tspan><tspan dy="-2.9"> fold-change</tspan></text>
<g fill="#231f20"><circle cx="286.9" cy="56.6" r="1.0"/></g>
<line x1="287.60" y1="56.60" x2="290.80" y2="56.60" stroke="#231f20" stroke-width="0.9"/>
<text x="291.60" y="58.80" font-size="6.0" textLength="13.20" lengthAdjust="spacingAndGlyphs" stroke="#231f20" stroke-width="0.12">Cd53</text>
<text x="392.80" y="33.60" font-size="8.2" fill="#444" stroke="#444" stroke-width="0.12" textLength="59.90" lengthAdjust="spacingAndGlyphs"><tspan font-style="italic">Cd53</tspan><tspan font-size="5.74" dy="-3.1">−/−</tspan><tspan dy="3.1"> vs WT</tspan></text>
<text x="388.40" y="45.30" font-size="8.2" fill="#444" textLength="70.80" lengthAdjust="spacingAndGlyphs" stroke="#444" stroke-width="0.12">G-CSF BM HSCs</text>
<g fill="#c9c9cb"><circle cx="410.0" cy="136.3" r="0.95"/><circle cx="432.2" cy="126.6" r="0.95"/><circle cx="418.8" cy="125.8" r="0.95"/><circle cx="409.3" cy="131.2" r="0.95"/><circle cx="431.9" cy="119.7" r="0.95"/><circle cx="412.7" cy="124.0" r="0.95"/><circle cx="432.5" cy="134.6" r="0.95"/><circle cx="443.2" cy="132.9" r="0.95"/><circle cx="396.5" cy="122.9" r="0.95"/><circle cx="439.2" cy="128.4" r="0.95"/><circle cx="415.9" cy="129.6" r="0.95"/><circle cx="435.9" cy="125.2" r="0.95"/><circle cx="438.6" cy="124.3" r="0.95"/><circle cx="435.4" cy="125.0" r="0.95"/><circle cx="437.9" cy="132.2" r="0.95"/><circle cx="434.5" cy="128.4" r="0.95"/><circle cx="428.9" cy="123.7" r="0.95"/><circle cx="438.9" cy="124.5" r="0.95"/><circle cx="412.4" cy="132.4" r="0.95"/><circle cx="416.0" cy="129.3" r="0.95"/><circle cx="446.4" cy="125.7" r="0.95"/><circle cx="439.5" cy="130.2" r="0.95"/><circle cx="448.5" cy="127.3" r="0.95"/><circle cx="430.7" cy="129.2" r="0.95"/><circle cx="399.7" cy="129.1" r="0.95"/><circle cx="414.7" cy="122.9" r="0.95"/><circle cx="420.0" cy="129.0" r="0.95"/><circle cx="406.2" cy="127.0" r="0.95"/><circle cx="412.1" cy="127.8" r="0.95"/><circle cx="413.0" cy="128.0" r="0.95"/><circle cx="413.5" cy="133.7" r="0.95"/><circle cx="433.9" cy="128.0" r="0.95"/><circle cx="434.9" cy="120.0" r="0.95"/><circle cx="422.4" cy="133.7" r="0.95"/><circle cx="403.5" cy="121.9" r="0.95"/><circle cx="418.0" cy="123.4" r="0.95"/><circle cx="398.4" cy="128.4" r="0.95"/><circle cx="428.5" cy="123.7" r="0.95"/><circle cx="442.0" cy="124.6" r="0.95"/><circle cx="427.8" cy="133.2" r="0.95"/><circle cx="418.4" cy="126.7" r="0.95"/><circle cx="432.0" cy="136.2" r="0.95"/><circle cx="444.5" cy="136.2" r="0.95"/><circle cx="436.7" cy="135.8" r="0.95"/><circle cx="451.7" cy="134.3" r="0.95"/><circle cx="431.5" cy="133.9" r="0.95"/><circle cx="427.3" cy="125.2" r="0.95"/><circle cx="399.6" cy="133.0" r="0.95"/><circle cx="431.7" cy="124.6" r="0.95"/><circle cx="444.0" cy="132.8" r="0.95"/><circle cx="431.4" cy="133.8" r="0.95"/><circle cx="435.6" cy="134.5" r="0.95"/><circle cx="419.0" cy="129.3" r="0.95"/><circle cx="412.9" cy="130.1" r="0.95"/><circle cx="408.9" cy="128.6" r="0.95"/><circle cx="423.5" cy="131.6" r="0.95"/><circle cx="388.7" cy="125.3" r="0.95"/><circle cx="430.7" cy="135.7" r="0.95"/><circle cx="415.5" cy="125.6" r="0.95"/><circle cx="430.9" cy="129.3" r="0.95"/><circle cx="412.1" cy="126.7" r="0.95"/><circle cx="415.4" cy="128.2" r="0.95"/><circle cx="451.6" cy="128.9" r="0.95"/><circle cx="435.4" cy="127.6" r="0.95"/><circle cx="404.0" cy="126.9" r="0.95"/><circle cx="433.5" cy="125.8" r="0.95"/><circle cx="433.2" cy="132.6" r="0.95"/><circle cx="401.2" cy="126.0" r="0.95"/><circle cx="431.6" cy="128.2" r="0.95"/><circle cx="408.7" cy="133.4" r="0.95"/><circle cx="425.4" cy="136.1" r="0.95"/><circle cx="435.9" cy="136.2" r="0.95"/><circle cx="400.2" cy="123.2" r="0.95"/><circle cx="450.1" cy="126.3" r="0.95"/><circle cx="392.2" cy="132.7" r="0.95"/><circle cx="439.3" cy="127.0" r="0.95"/><circle cx="391.4" cy="127.0" r="0.95"/><circle cx="428.9" cy="130.0" r="0.95"/><circle cx="427.5" cy="132.2" r="0.95"/><circle cx="435.5" cy="122.0" r="0.95"/><circle cx="414.6" cy="130.1" r="0.95"/><circle cx="422.2" cy="131.7" r="0.95"/><circle cx="429.4" cy="132.9" r="0.95"/><circle cx="416.7" cy="125.9" r="0.95"/><circle cx="439.3" cy="131.5" r="0.95"/><circle cx="389.1" cy="122.0" r="0.95"/><circle cx="408.2" cy="132.2" r="0.95"/><circle cx="454.2" cy="135.5" r="0.95"/><circle cx="424.1" cy="132.1" r="0.95"/><circle cx="409.7" cy="129.4" r="0.95"/><circle cx="427.2" cy="132.6" r="0.95"/><circle cx="412.1" cy="124.0" r="0.95"/><circle cx="420.3" cy="131.1" r="0.95"/><circle cx="418.9" cy="133.7" r="0.95"/><circle cx="401.7" cy="116.4" r="0.95"/><circle cx="421.8" cy="131.7" r="0.95"/><circle cx="443.0" cy="126.4" r="0.95"/><circle cx="430.0" cy="123.9" r="0.95"/><circle cx="418.2" cy="124.4" r="0.95"/><circle cx="425.8" cy="134.2" r="0.95"/><circle cx="412.9" cy="122.5" r="0.95"/><circle cx="438.3" cy="129.3" r="0.95"/><circle cx="449.3" cy="128.2" r="0.95"/><circle cx="453.1" cy="123.7" r="0.95"/><circle cx="431.7" cy="123.7" r="0.95"/><circle cx="425.0" cy="131.2" r="0.95"/><circle cx="410.6" cy="129.5" r="0.95"/><circle cx="432.9" cy="132.3" r="0.95"/><circle cx="388.6" cy="125.5" r="0.95"/><circle cx="401.9" cy="131.3" r="0.95"/><circle cx="401.4" cy="129.9" r="0.95"/><circle cx="413.5" cy="129.3" r="0.95"/><circle cx="443.9" cy="134.0" r="0.95"/><circle cx="416.0" cy="127.5" r="0.95"/><circle cx="418.4" cy="131.0" r="0.95"/><circle cx="415.6" cy="126.1" r="0.95"/><circle cx="402.6" cy="126.9" r="0.95"/><circle cx="419.1" cy="136.4" r="0.95"/><circle cx="433.8" cy="130.4" r="0.95"/><circle cx="397.2" cy="134.1" r="0.95"/><circle cx="417.3" cy="125.6" r="0.95"/><circle cx="402.9" cy="126.3" r="0.95"/><circle cx="432.4" cy="124.4" r="0.95"/><circle cx="404.8" cy="124.9" r="0.95"/><circle cx="442.0" cy="123.8" r="0.95"/><circle cx="451.0" cy="125.9" r="0.95"/><circle cx="456.2" cy="135.5" r="0.95"/><circle cx="418.6" cy="127.6" r="0.95"/><circle cx="440.1" cy="135.3" r="0.95"/><circle cx="429.9" cy="128.4" r="0.95"/><circle cx="413.8" cy="125.8" r="0.95"/><circle cx="419.1" cy="129.7" r="0.95"/><circle cx="418.5" cy="125.9" r="0.95"/><circle cx="429.5" cy="130.6" r="0.95"/><circle cx="403.0" cy="135.9" r="0.95"/><circle cx="413.0" cy="133.6" r="0.95"/><circle cx="419.4" cy="127.6" r="0.95"/><circle cx="445.3" cy="125.5" r="0.95"/><circle cx="444.9" cy="127.2" r="0.95"/><circle cx="409.7" cy="132.2" r="0.95"/><circle cx="433.5" cy="129.6" r="0.95"/><circle cx="444.6" cy="123.6" r="0.95"/><circle cx="431.9" cy="123.5" r="0.95"/><circle cx="435.2" cy="127.5" r="0.95"/><circle cx="397.0" cy="132.8" r="0.95"/><circle cx="427.3" cy="134.7" r="0.95"/><circle cx="444.6" cy="125.4" r="0.95"/><circle cx="417.8" cy="131.1" r="0.95"/><circle cx="431.9" cy="131.8" r="0.95"/><circle cx="412.0" cy="121.4" r="0.95"/><circle cx="440.7" cy="130.2" r="0.95"/><circle cx="403.5" cy="125.5" r="0.95"/><circle cx="434.8" cy="126.1" r="0.95"/><circle cx="441.3" cy="126.1" r="0.95"/><circle cx="445.9" cy="120.0" r="0.95"/><circle cx="428.6" cy="122.1" r="0.95"/><circle cx="444.3" cy="129.4" r="0.95"/><circle cx="410.7" cy="128.3" r="0.95"/><circle cx="412.7" cy="134.3" r="0.95"/><circle cx="417.9" cy="122.9" r="0.95"/><circle cx="431.8" cy="129.2" r="0.95"/><circle cx="407.3" cy="124.9" r="0.95"/><circle cx="441.9" cy="129.3" r="0.95"/><circle cx="437.4" cy="131.6" r="0.95"/><circle cx="452.2" cy="121.7" r="0.95"/><circle cx="411.5" cy="124.1" r="0.95"/><circle cx="435.4" cy="129.0" r="0.95"/><circle cx="401.7" cy="128.4" r="0.95"/><circle cx="445.1" cy="116.6" r="0.95"/><circle cx="413.1" cy="129.2" r="0.95"/><circle cx="412.3" cy="131.7" r="0.95"/><circle cx="421.2" cy="133.4" r="0.95"/><circle cx="411.6" cy="130.0" r="0.95"/><circle cx="410.8" cy="124.8" r="0.95"/><circle cx="414.7" cy="133.9" r="0.95"/><circle cx="442.2" cy="126.2" r="0.95"/><circle cx="404.7" cy="126.0" r="0.95"/><circle cx="431.4" cy="127.6" r="0.95"/><circle cx="417.6" cy="131.4" r="0.95"/><circle cx="419.9" cy="129.8" r="0.95"/><circle cx="447.7" cy="125.0" r="0.95"/><circle cx="439.6" cy="126.6" r="0.95"/><circle cx="404.0" cy="130.6" r="0.95"/><circle cx="417.4" cy="126.7" r="0.95"/><circle cx="437.4" cy="123.3" r="0.95"/><circle cx="416.1" cy="129.0" r="0.95"/><circle cx="433.4" cy="134.9" r="0.95"/><circle cx="452.2" cy="124.4" r="0.95"/><circle cx="429.3" cy="133.9" r="0.95"/><circle cx="413.7" cy="124.5" r="0.95"/><circle cx="440.7" cy="134.8" r="0.95"/><circle cx="405.6" cy="126.5" r="0.95"/><circle cx="431.3" cy="134.7" r="0.95"/><circle cx="430.1" cy="131.3" r="0.95"/><circle cx="409.8" cy="129.5" r="0.95"/><circle cx="426.3" cy="134.2" r="0.95"/><circle cx="433.6" cy="126.4" r="0.95"/><circle cx="437.6" cy="124.8" r="0.95"/><circle cx="419.2" cy="128.5" r="0.95"/><circle cx="435.2" cy="132.1" r="0.95"/><circle cx="425.2" cy="128.3" r="0.95"/><circle cx="430.6" cy="124.9" r="0.95"/><circle cx="405.2" cy="124.2" r="0.95"/><circle cx="412.5" cy="136.1" r="0.95"/><circle cx="396.3" cy="126.0" r="0.95"/><circle cx="416.4" cy="133.9" r="0.95"/><circle cx="405.1" cy="126.0" r="0.95"/><circle cx="403.2" cy="124.2" r="0.95"/><circle cx="434.3" cy="134.7" r="0.95"/><circle cx="459.9" cy="125.4" r="0.95"/><circle cx="449.0" cy="130.2" r="0.95"/><circle cx="424.6" cy="132.6" r="0.95"/><circle cx="435.1" cy="122.0" r="0.95"/><circle cx="433.0" cy="126.2" r="0.95"/><circle cx="419.9" cy="133.6" r="0.95"/><circle cx="412.2" cy="123.5" r="0.95"/><circle cx="429.5" cy="123.3" r="0.95"/><circle cx="407.0" cy="128.7" r="0.95"/><circle cx="415.0" cy="134.9" r="0.95"/><circle cx="434.1" cy="133.7" r="0.95"/><circle cx="419.5" cy="126.4" r="0.95"/><circle cx="416.0" cy="127.4" r="0.95"/><circle cx="401.5" cy="135.8" r="0.95"/><circle cx="429.2" cy="128.8" r="0.95"/><circle cx="429.6" cy="129.8" r="0.95"/><circle cx="416.4" cy="121.1" r="0.95"/><circle cx="430.3" cy="132.9" r="0.95"/><circle cx="403.1" cy="128.4" r="0.95"/><circle cx="445.4" cy="117.5" r="0.95"/><circle cx="453.7" cy="129.7" r="0.95"/><circle cx="433.2" cy="132.2" r="0.95"/><circle cx="406.6" cy="125.6" r="0.95"/><circle cx="407.4" cy="127.5" r="0.95"/><circle cx="408.6" cy="124.4" r="0.95"/><circle cx="424.7" cy="129.5" r="0.95"/><circle cx="430.7" cy="130.6" r="0.95"/><circle cx="438.4" cy="129.0" r="0.95"/><circle cx="406.7" cy="131.0" r="0.95"/><circle cx="444.1" cy="129.2" r="0.95"/><circle cx="429.2" cy="129.0" r="0.95"/><circle cx="402.4" cy="129.6" r="0.95"/><circle cx="417.2" cy="129.5" r="0.95"/><circle cx="406.1" cy="127.9" r="0.95"/><circle cx="432.6" cy="130.3" r="0.95"/><circle cx="442.4" cy="131.0" r="0.95"/><circle cx="438.6" cy="131.7" r="0.95"/><circle cx="438.1" cy="124.9" r="0.95"/><circle cx="433.8" cy="135.0" r="0.95"/><circle cx="433.9" cy="135.2" r="0.95"/><circle cx="415.7" cy="127.4" r="0.95"/><circle cx="411.4" cy="129.5" r="0.95"/><circle cx="421.9" cy="126.6" r="0.95"/><circle cx="445.7" cy="130.9" r="0.95"/><circle cx="420.1" cy="132.8" r="0.95"/><circle cx="405.6" cy="135.3" r="0.95"/><circle cx="421.2" cy="124.8" r="0.95"/><circle cx="438.0" cy="120.7" r="0.95"/><circle cx="410.8" cy="131.8" r="0.95"/><circle cx="407.3" cy="131.1" r="0.95"/><circle cx="434.8" cy="133.5" r="0.95"/><circle cx="441.3" cy="126.2" r="0.95"/><circle cx="416.1" cy="126.4" r="0.95"/><circle cx="418.5" cy="136.2" r="0.95"/><circle cx="392.9" cy="124.2" r="0.95"/><circle cx="439.5" cy="130.1" r="0.95"/><circle cx="416.7" cy="128.4" r="0.95"/><circle cx="392.1" cy="133.6" r="0.95"/><circle cx="424.5" cy="134.5" r="0.95"/><circle cx="414.4" cy="134.6" r="0.95"/><circle cx="399.2" cy="126.8" r="0.95"/><circle cx="436.4" cy="128.3" r="0.95"/><circle cx="409.0" cy="132.7" r="0.95"/><circle cx="443.3" cy="130.2" r="0.95"/><circle cx="441.9" cy="132.7" r="0.95"/><circle cx="406.5" cy="130.3" r="0.95"/><circle cx="426.2" cy="131.0" r="0.95"/><circle cx="413.8" cy="127.9" r="0.95"/><circle cx="425.5" cy="132.5" r="0.95"/><circle cx="437.2" cy="127.3" r="0.95"/><circle cx="429.7" cy="127.3" r="0.95"/><circle cx="396.2" cy="121.2" r="0.95"/><circle cx="410.7" cy="131.9" r="0.95"/><circle cx="412.8" cy="128.0" r="0.95"/><circle cx="442.2" cy="127.0" r="0.95"/><circle cx="423.7" cy="123.5" r="0.95"/><circle cx="411.3" cy="127.3" r="0.95"/><circle cx="438.4" cy="129.9" r="0.95"/><circle cx="411.2" cy="124.3" r="0.95"/><circle cx="465.9" cy="134.1" r="0.95"/><circle cx="433.7" cy="131.1" r="0.95"/><circle cx="435.4" cy="128.9" r="0.95"/><circle cx="409.4" cy="122.6" r="0.95"/><circle cx="444.9" cy="135.4" r="0.95"/><circle cx="426.0" cy="134.3" r="0.95"/><circle cx="445.4" cy="134.3" r="0.95"/><circle cx="432.0" cy="123.1" r="0.95"/><circle cx="430.1" cy="132.0" r="0.95"/><circle cx="419.2" cy="128.9" r="0.95"/><circle cx="436.3" cy="131.7" r="0.95"/><circle cx="417.6" cy="129.2" r="0.95"/><circle cx="433.0" cy="131.7" r="0.95"/><circle cx="415.1" cy="131.0" r="0.95"/><circle cx="419.4" cy="134.5" r="0.95"/><circle cx="437.6" cy="125.6" r="0.95"/><circle cx="443.6" cy="128.8" r="0.95"/><circle cx="420.3" cy="131.9" r="0.95"/><circle cx="437.1" cy="130.6" r="0.95"/><circle cx="416.3" cy="127.5" r="0.95"/><circle cx="431.5" cy="128.7" r="0.95"/><circle cx="411.8" cy="126.3" r="0.95"/><circle cx="403.4" cy="129.9" r="0.95"/><circle cx="410.0" cy="126.7" r="0.95"/><circle cx="430.2" cy="126.8" r="0.95"/><circle cx="419.6" cy="123.8" r="0.95"/><circle cx="413.3" cy="135.6" r="0.95"/><circle cx="399.0" cy="125.5" r="0.95"/><circle cx="433.9" cy="126.1" r="0.95"/><circle cx="413.9" cy="132.8" r="0.95"/><circle cx="404.1" cy="130.8" r="0.95"/><circle cx="412.9" cy="128.5" r="0.95"/><circle cx="435.8" cy="131.3" r="0.95"/><circle cx="395.0" cy="127.0" r="0.95"/><circle cx="428.7" cy="122.8" r="0.95"/><circle cx="402.3" cy="128.3" r="0.95"/><circle cx="446.8" cy="131.3" r="0.95"/><circle cx="415.2" cy="129.5" r="0.95"/><circle cx="434.7" cy="127.3" r="0.95"/><circle cx="435.4" cy="126.1" r="0.95"/><circle cx="445.5" cy="129.3" r="0.95"/><circle cx="430.4" cy="130.0" r="0.95"/><circle cx="420.6" cy="133.3" r="0.95"/><circle cx="406.3" cy="122.5" r="0.95"/><circle cx="447.6" cy="126.6" r="0.95"/><circle cx="420.8" cy="133.0" r="0.95"/><circle cx="433.2" cy="132.1" r="0.95"/><circle cx="431.6" cy="134.0" r="0.95"/><circle cx="423.1" cy="135.3" r="0.95"/><circle cx="417.9" cy="121.3" r="0.95"/><circle cx="428.0" cy="131.3" r="0.95"/><circle cx="437.9" cy="121.9" r="0.95"/><circle cx="421.9" cy="121.8" r="0.95"/><circle cx="413.9" cy="129.3" r="0.95"/><circle cx="427.3" cy="132.0" r="0.95"/><circle cx="427.8" cy="124.5" r="0.95"/><circle cx="429.2" cy="135.8" r="0.95"/><circle cx="446.7" cy="131.5" r="0.95"/><circle cx="413.2" cy="129.9" r="0.95"/><circle cx="438.4" cy="127.6" r="0.95"/><circle cx="418.3" cy="130.2" r="0.95"/><circle cx="439.8" cy="134.7" r="0.95"/><circle cx="424.7" cy="132.8" r="0.95"/><circle cx="445.2" cy="131.6" r="0.95"/><circle cx="444.4" cy="131.2" r="0.95"/><circle cx="420.5" cy="130.1" r="0.95"/><circle cx="432.4" cy="126.3" r="0.95"/><circle cx="443.5" cy="124.2" r="0.95"/><circle cx="429.7" cy="125.3" r="0.95"/><circle cx="434.8" cy="127.6" r="0.95"/><circle cx="412.4" cy="129.3" r="0.95"/><circle cx="426.7" cy="136.0" r="0.95"/><circle cx="413.5" cy="133.1" r="0.95"/><circle cx="414.9" cy="132.2" r="0.95"/><circle cx="437.7" cy="126.6" r="0.95"/><circle cx="429.7" cy="135.6" r="0.95"/><circle cx="400.4" cy="125.6" r="0.95"/><circle cx="445.2" cy="127.0" r="0.95"/><circle cx="438.0" cy="121.2" r="0.95"/><circle cx="428.2" cy="132.0" r="0.95"/><circle cx="395.8" cy="136.1" r="0.95"/><circle cx="415.9" cy="130.8" r="0.95"/><circle cx="447.2" cy="127.0" r="0.95"/><circle cx="437.8" cy="127.3" r="0.95"/><circle cx="415.7" cy="131.8" r="0.95"/><circle cx="411.9" cy="127.7" r="0.95"/><circle cx="434.9" cy="133.8" r="0.95"/><circle cx="417.6" cy="131.3" r="0.95"/><circle cx="432.2" cy="124.0" r="0.95"/><circle cx="432.9" cy="125.3" r="0.95"/><circle cx="437.9" cy="133.5" r="0.95"/><circle cx="431.4" cy="127.9" r="0.95"/><circle cx="424.7" cy="136.2" r="0.95"/><circle cx="430.4" cy="125.6" r="0.95"/><circle cx="435.3" cy="130.4" r="0.95"/><circle cx="418.5" cy="121.1" r="0.95"/><circle cx="423.5" cy="133.8" r="0.95"/><circle cx="410.6" cy="123.5" r="0.95"/><circle cx="428.0" cy="120.8" r="0.95"/><circle cx="405.3" cy="133.0" r="0.95"/><circle cx="428.7" cy="130.9" r="0.95"/><circle cx="421.4" cy="132.8" r="0.95"/><circle cx="441.8" cy="128.2" r="0.95"/><circle cx="412.5" cy="131.5" r="0.95"/><circle cx="424.4" cy="133.8" r="0.95"/><circle cx="407.9" cy="134.3" r="0.95"/><circle cx="434.3" cy="135.3" r="0.95"/><circle cx="424.6" cy="133.4" r="0.95"/><circle cx="435.7" cy="135.9" r="0.95"/><circle cx="403.2" cy="125.3" r="0.95"/><circle cx="427.6" cy="131.4" r="0.95"/><circle cx="431.7" cy="124.1" r="0.95"/><circle cx="426.5" cy="134.6" r="0.95"/><circle cx="412.5" cy="128.9" r="0.95"/><circle cx="434.0" cy="124.9" r="0.95"/><circle cx="409.6" cy="132.1" r="0.95"/><circle cx="398.2" cy="134.9" r="0.95"/><circle cx="395.9" cy="135.0" r="0.95"/><circle cx="416.6" cy="128.4" r="0.95"/><circle cx="400.9" cy="127.8" r="0.95"/><circle cx="440.3" cy="125.8" r="0.95"/><circle cx="441.2" cy="131.3" r="0.95"/><circle cx="422.3" cy="134.5" r="0.95"/><circle cx="415.8" cy="133.0" r="0.95"/><circle cx="403.6" cy="134.6" r="0.95"/><circle cx="433.9" cy="129.2" r="0.95"/><circle cx="420.6" cy="127.9" r="0.95"/><circle cx="408.5" cy="122.5" r="0.95"/><circle cx="430.6" cy="127.1" r="0.95"/><circle cx="411.9" cy="135.0" r="0.95"/><circle cx="436.0" cy="125.7" r="0.95"/><circle cx="419.0" cy="134.5" r="0.95"/><circle cx="408.6" cy="129.3" r="0.95"/><circle cx="437.8" cy="133.9" r="0.95"/><circle cx="451.0" cy="129.5" r="0.95"/><circle cx="413.5" cy="125.5" r="0.95"/><circle cx="415.7" cy="134.1" r="0.95"/><circle cx="432.6" cy="124.6" r="0.95"/><circle cx="397.0" cy="122.5" r="0.95"/><circle cx="408.8" cy="133.4" r="0.95"/><circle cx="386.1" cy="134.3" r="0.95"/><circle cx="425.7" cy="132.3" r="0.95"/><circle cx="409.9" cy="135.2" r="0.95"/><circle cx="424.8" cy="121.7" r="0.95"/><circle cx="409.4" cy="119.8" r="0.95"/><circle cx="430.8" cy="132.2" r="0.95"/><circle cx="424.8" cy="132.7" r="0.95"/><circle cx="418.3" cy="132.5" r="0.95"/><circle cx="436.8" cy="129.7" r="0.95"/><circle cx="412.4" cy="130.2" r="0.95"/><circle cx="439.6" cy="132.0" r="0.95"/><circle cx="439.1" cy="127.0" r="0.95"/><circle cx="422.9" cy="126.8" r="0.95"/><circle cx="448.2" cy="121.5" r="0.95"/><circle cx="408.8" cy="130.6" r="0.95"/><circle cx="426.4" cy="135.3" r="0.95"/><circle cx="389.6" cy="131.5" r="0.95"/><circle cx="438.6" cy="126.7" r="0.95"/><circle cx="419.6" cy="125.2" r="0.95"/><circle cx="423.3" cy="134.2" r="0.95"/><circle cx="432.5" cy="129.2" r="0.95"/><circle cx="435.2" cy="125.9" r="0.95"/><circle cx="442.1" cy="134.6" r="0.95"/><circle cx="418.8" cy="136.1" r="0.95"/><circle cx="443.2" cy="128.3" r="0.95"/><circle cx="423.9" cy="134.8" r="0.95"/><circle cx="434.5" cy="127.6" r="0.95"/><circle cx="425.1" cy="133.5" r="0.95"/><circle cx="418.0" cy="125.1" r="0.95"/><circle cx="444.4" cy="124.1" r="0.95"/><circle cx="432.5" cy="126.5" r="0.95"/><circle cx="451.5" cy="129.0" r="0.95"/><circle cx="411.2" cy="134.9" r="0.95"/><circle cx="433.6" cy="129.3" r="0.95"/><circle cx="433.4" cy="133.3" r="0.95"/><circle cx="448.5" cy="126.6" r="0.95"/><circle cx="433.4" cy="124.8" r="0.95"/><circle cx="414.6" cy="128.1" r="0.95"/><circle cx="414.0" cy="134.6" r="0.95"/><circle cx="417.8" cy="132.3" r="0.95"/><circle cx="428.1" cy="131.7" r="0.95"/><circle cx="451.9" cy="133.3" r="0.95"/><circle cx="428.6" cy="126.7" r="0.95"/><circle cx="431.2" cy="123.9" r="0.95"/><circle cx="410.8" cy="127.1" r="0.95"/><circle cx="423.0" cy="129.7" r="0.95"/><circle cx="414.2" cy="122.7" r="0.95"/><circle cx="429.7" cy="130.7" r="0.95"/><circle cx="438.9" cy="134.6" r="0.95"/><circle cx="417.3" cy="130.0" r="0.95"/><circle cx="438.7" cy="126.8" r="0.95"/><circle cx="426.2" cy="133.6" r="0.95"/><circle cx="401.4" cy="131.1" r="0.95"/><circle cx="423.2" cy="131.2" r="0.95"/><circle cx="400.6" cy="135.9" r="0.95"/><circle cx="414.5" cy="130.0" r="0.95"/><circle cx="429.5" cy="123.8" r="0.95"/><circle cx="405.0" cy="130.8" r="0.95"/><circle cx="432.7" cy="127.5" r="0.95"/><circle cx="401.7" cy="132.5" r="0.95"/><circle cx="402.1" cy="129.3" r="0.95"/><circle cx="436.1" cy="128.9" r="0.95"/><circle cx="408.8" cy="127.4" r="0.95"/><circle cx="437.9" cy="135.4" r="0.95"/><circle cx="419.6" cy="131.5" r="0.95"/><circle cx="419.0" cy="134.3" r="0.95"/><circle cx="431.9" cy="126.1" r="0.95"/><circle cx="423.7" cy="132.8" r="0.95"/><circle cx="430.0" cy="121.8" r="0.95"/><circle cx="436.4" cy="131.3" r="0.95"/><circle cx="412.1" cy="135.5" r="0.95"/><circle cx="432.1" cy="126.5" r="0.95"/><circle cx="426.6" cy="133.6" r="0.95"/><circle cx="443.2" cy="132.1" r="0.95"/><circle cx="411.3" cy="127.2" r="0.95"/><circle cx="449.5" cy="124.9" r="0.95"/><circle cx="405.6" cy="132.2" r="0.95"/><circle cx="408.8" cy="133.8" r="0.95"/><circle cx="417.7" cy="133.6" r="0.95"/><circle cx="429.0" cy="131.1" r="0.95"/><circle cx="420.1" cy="129.5" r="0.95"/><circle cx="404.4" cy="125.8" r="0.95"/><circle cx="417.1" cy="128.1" r="0.95"/><circle cx="451.2" cy="131.5" r="0.95"/><circle cx="416.2" cy="125.7" r="0.95"/><circle cx="418.9" cy="127.7" r="0.95"/><circle cx="433.5" cy="134.5" r="0.95"/><circle cx="430.1" cy="128.9" r="0.95"/><circle cx="416.6" cy="127.9" r="0.95"/><circle cx="436.7" cy="132.3" r="0.95"/><circle cx="401.5" cy="120.7" r="0.95"/><circle cx="404.9" cy="125.3" r="0.95"/><circle cx="418.1" cy="125.6" r="0.95"/><circle cx="419.7" cy="132.9" r="0.95"/><circle cx="407.7" cy="132.5" r="0.95"/><circle cx="426.2" cy="131.5" r="0.95"/><circle cx="410.0" cy="124.3" r="0.95"/><circle cx="413.4" cy="123.5" r="0.95"/><circle cx="417.9" cy="131.7" r="0.95"/><circle cx="434.2" cy="131.8" r="0.95"/><circle cx="422.3" cy="131.1" r="0.95"/><circle cx="429.0" cy="129.3" r="0.95"/><circle cx="432.5" cy="125.9" r="0.95"/><circle cx="412.9" cy="127.2" r="0.95"/><circle cx="438.5" cy="130.0" r="0.95"/><circle cx="445.4" cy="134.2" r="0.95"/><circle cx="412.9" cy="127.9" r="0.95"/><circle cx="402.6" cy="135.4" r="0.95"/><circle cx="413.1" cy="125.5" r="0.95"/><circle cx="414.8" cy="134.1" r="0.95"/><circle cx="408.3" cy="123.8" r="0.95"/><circle cx="412.4" cy="125.8" r="0.95"/><circle cx="409.0" cy="125.5" r="0.95"/><circle cx="405.2" cy="133.2" r="0.95"/><circle cx="423.1" cy="131.4" r="0.95"/><circle cx="443.1" cy="114.4" r="0.95"/><circle cx="419.1" cy="128.8" r="0.95"/><circle cx="422.9" cy="132.3" r="0.95"/><circle cx="416.0" cy="126.1" r="0.95"/><circle cx="433.9" cy="123.3" r="0.95"/><circle cx="427.1" cy="125.5" r="0.95"/><circle cx="417.0" cy="127.8" r="0.95"/><circle cx="440.8" cy="134.3" r="0.95"/><circle cx="429.6" cy="127.9" r="0.95"/><circle cx="431.7" cy="124.4" r="0.95"/><circle cx="429.4" cy="127.8" r="0.95"/><circle cx="442.6" cy="130.6" r="0.95"/><circle cx="400.6" cy="133.7" r="0.95"/><circle cx="445.3" cy="128.2" r="0.95"/><circle cx="450.8" cy="131.6" r="0.95"/><circle cx="413.4" cy="124.0" r="0.95"/><circle cx="416.3" cy="119.0" r="0.95"/><circle cx="411.7" cy="136.4" r="0.95"/><circle cx="446.0" cy="129.9" r="0.95"/><circle cx="404.0" cy="131.3" r="0.95"/><circle cx="414.1" cy="131.0" r="0.95"/><circle cx="395.6" cy="133.7" r="0.95"/><circle cx="425.0" cy="134.5" r="0.95"/><circle cx="408.0" cy="125.2" r="0.95"/><circle cx="435.1" cy="132.8" r="0.95"/><circle cx="416.9" cy="120.9" r="0.95"/><circle cx="423.3" cy="122.5" r="0.95"/><circle cx="412.4" cy="133.1" r="0.95"/><circle cx="429.1" cy="130.2" r="0.95"/><circle cx="425.2" cy="129.6" r="0.95"/><circle cx="434.0" cy="132.3" r="0.95"/><circle cx="440.3" cy="125.2" r="0.95"/><circle cx="413.8" cy="126.2" r="0.95"/><circle cx="399.4" cy="128.6" r="0.95"/><circle cx="447.5" cy="132.0" r="0.95"/><circle cx="435.6" cy="125.3" r="0.95"/><circle cx="419.9" cy="121.4" r="0.95"/><circle cx="434.1" cy="129.1" r="0.95"/><circle cx="408.4" cy="132.9" r="0.95"/><circle cx="437.9" cy="127.1" r="0.95"/><circle cx="413.1" cy="125.9" r="0.95"/><circle cx="434.6" cy="133.3" r="0.95"/><circle cx="424.7" cy="132.6" r="0.95"/><circle cx="441.5" cy="125.9" r="0.95"/><circle cx="429.8" cy="122.7" r="0.95"/><circle cx="432.6" cy="129.6" r="0.95"/><circle cx="407.3" cy="125.3" r="0.95"/><circle cx="424.5" cy="133.0" r="0.95"/><circle cx="419.1" cy="131.8" r="0.95"/><circle cx="439.8" cy="128.9" r="0.95"/><circle cx="453.7" cy="122.9" r="0.95"/><circle cx="430.9" cy="135.3" r="0.95"/><circle cx="425.7" cy="135.4" r="0.95"/><circle cx="430.5" cy="129.3" r="0.95"/><circle cx="447.3" cy="129.0" r="0.95"/><circle cx="440.0" cy="124.4" r="0.95"/><circle cx="414.0" cy="131.0" r="0.95"/><circle cx="415.5" cy="125.9" r="0.95"/><circle cx="413.0" cy="120.0" r="0.95"/><circle cx="418.5" cy="131.9" r="0.95"/><circle cx="403.5" cy="125.5" r="0.95"/><circle cx="415.4" cy="125.0" r="0.95"/><circle cx="415.1" cy="126.4" r="0.95"/><circle cx="443.7" cy="127.0" r="0.95"/><circle cx="434.6" cy="123.1" r="0.95"/><circle cx="432.2" cy="129.3" r="0.95"/><circle cx="399.6" cy="133.0" r="0.95"/><circle cx="421.4" cy="126.4" r="0.95"/><circle cx="414.5" cy="123.7" r="0.95"/><circle cx="418.3" cy="131.9" r="0.95"/><circle cx="424.7" cy="130.7" r="0.95"/><circle cx="413.4" cy="131.7" r="0.95"/><circle cx="428.7" cy="124.9" r="0.95"/><circle cx="401.7" cy="130.7" r="0.95"/><circle cx="438.4" cy="124.9" r="0.95"/><circle cx="434.9" cy="127.0" r="0.95"/><circle cx="443.4" cy="128.4" r="0.95"/><circle cx="428.7" cy="122.8" r="0.95"/><circle cx="413.0" cy="134.7" r="0.95"/><circle cx="415.6" cy="130.4" r="0.95"/><circle cx="417.9" cy="123.1" r="0.95"/><circle cx="418.2" cy="127.9" r="0.95"/><circle cx="420.2" cy="125.7" r="0.95"/><circle cx="425.9" cy="131.7" r="0.95"/><circle cx="410.5" cy="123.9" r="0.95"/><circle cx="420.3" cy="133.6" r="0.95"/><circle cx="440.7" cy="126.5" r="0.95"/><circle cx="452.2" cy="130.3" r="0.95"/><circle cx="415.7" cy="127.4" r="0.95"/><circle cx="416.3" cy="130.8" r="0.95"/><circle cx="435.0" cy="126.5" r="0.95"/><circle cx="435.0" cy="127.0" r="0.95"/><circle cx="440.9" cy="133.3" r="0.95"/><circle cx="409.5" cy="135.6" r="0.95"/><circle cx="407.9" cy="132.1" r="0.95"/><circle cx="429.4" cy="128.1" r="0.95"/><circle cx="422.9" cy="132.4" r="0.95"/><circle cx="430.4" cy="131.7" r="0.95"/><circle cx="408.0" cy="127.0" r="0.95"/><circle cx="415.4" cy="119.5" r="0.95"/><circle cx="441.5" cy="128.0" r="0.95"/><circle cx="435.5" cy="126.7" r="0.95"/><circle cx="432.2" cy="123.7" r="0.95"/><circle cx="395.9" cy="125.3" r="0.95"/><circle cx="443.0" cy="126.2" r="0.95"/><circle cx="405.1" cy="131.0" r="0.95"/><circle cx="434.1" cy="128.3" r="0.95"/><circle cx="418.6" cy="125.0" r="0.95"/><circle cx="447.8" cy="132.8" r="0.95"/><circle cx="423.4" cy="132.0" r="0.95"/><circle cx="432.9" cy="129.4" r="0.95"/><circle cx="428.4" cy="135.3" r="0.95"/><circle cx="399.7" cy="124.7" r="0.95"/><circle cx="414.9" cy="125.6" r="0.95"/><circle cx="398.0" cy="118.0" r="0.95"/><circle cx="452.0" cy="119.0" r="0.95"/><circle cx="446.0" cy="121.0" r="0.95"/><circle cx="401.0" cy="122.0" r="0.95"/><circle cx="455.0" cy="126.0" r="0.95"/><circle cx="393.0" cy="128.0" r="0.95"/><circle cx="459.0" cy="131.0" r="0.95"/><circle cx="408.0" cy="116.0" r="0.95"/><circle cx="437.0" cy="116.0" r="0.95"/></g>
<g fill="#f0e22a"><circle cx="427.4" cy="120.9" r="1.1"/><circle cx="429.2" cy="119.0" r="1.1"/><circle cx="428.4" cy="124.3" r="1.1"/><circle cx="423.5" cy="135.1" r="1.1"/><circle cx="419.6" cy="130.2" r="1.1"/><circle cx="423.5" cy="133.0" r="1.1"/><circle cx="427.4" cy="121.3" r="1.1"/><circle cx="426.2" cy="124.9" r="1.1"/><circle cx="421.6" cy="133.7" r="1.1"/><circle cx="431.4" cy="114.1" r="1.1"/><circle cx="428.9" cy="114.2" r="1.1"/><circle cx="424.1" cy="135.0" r="1.1"/><circle cx="420.1" cy="128.5" r="1.1"/><circle cx="423.5" cy="134.4" r="1.1"/><circle cx="426.2" cy="124.8" r="1.1"/><circle cx="422.2" cy="133.8" r="1.1"/><circle cx="419.7" cy="130.0" r="1.1"/><circle cx="429.8" cy="114.6" r="1.1"/><circle cx="424.2" cy="132.1" r="1.1"/><circle cx="423.8" cy="134.6" r="1.1"/><circle cx="429.7" cy="114.2" r="1.1"/><circle cx="428.5" cy="121.6" r="1.1"/><circle cx="423.9" cy="128.9" r="1.1"/><circle cx="426.2" cy="122.6" r="1.1"/><circle cx="428.5" cy="118.3" r="1.1"/><circle cx="420.8" cy="132.5" r="1.1"/><circle cx="420.9" cy="131.8" r="1.1"/><circle cx="422.1" cy="135.2" r="1.1"/><circle cx="420.8" cy="134.0" r="1.1"/><circle cx="421.3" cy="133.0" r="1.1"/><circle cx="419.1" cy="129.1" r="1.1"/><circle cx="418.7" cy="128.5" r="1.1"/><circle cx="421.9" cy="134.4" r="1.1"/><circle cx="427.5" cy="119.6" r="1.1"/><circle cx="426.3" cy="126.1" r="1.1"/><circle cx="429.1" cy="115.9" r="1.1"/><circle cx="424.6" cy="127.7" r="1.1"/><circle cx="429.6" cy="114.8" r="1.1"/><circle cx="422.9" cy="131.7" r="1.1"/><circle cx="425.3" cy="129.6" r="1.1"/><circle cx="424.4" cy="128.8" r="1.1"/><circle cx="417.1" cy="128.5" r="1.1"/><circle cx="426.8" cy="125.7" r="1.1"/><circle cx="422.6" cy="135.4" r="1.1"/><circle cx="427.7" cy="122.4" r="1.1"/><circle cx="427.2" cy="123.4" r="1.1"/><circle cx="424.8" cy="131.9" r="1.1"/><circle cx="429.0" cy="120.8" r="1.1"/><circle cx="428.3" cy="119.0" r="1.1"/><circle cx="428.3" cy="119.3" r="1.1"/><circle cx="427.7" cy="118.4" r="1.1"/><circle cx="425.2" cy="133.3" r="1.1"/><circle cx="421.6" cy="132.4" r="1.1"/><circle cx="424.6" cy="128.4" r="1.1"/><circle cx="429.8" cy="117.9" r="1.1"/><circle cx="421.1" cy="131.2" r="1.1"/><circle cx="424.3" cy="133.8" r="1.1"/><circle cx="429.8" cy="115.7" r="1.1"/><circle cx="423.3" cy="134.1" r="1.1"/><circle cx="428.0" cy="116.4" r="1.1"/><circle cx="421.1" cy="130.8" r="1.1"/><circle cx="423.5" cy="132.3" r="1.1"/><circle cx="421.9" cy="133.7" r="1.1"/><circle cx="424.3" cy="133.3" r="1.1"/><circle cx="427.2" cy="122.4" r="1.1"/><circle cx="422.7" cy="134.0" r="1.1"/><circle cx="430.1" cy="117.6" r="1.1"/><circle cx="430.5" cy="115.6" r="1.1"/><circle cx="424.0" cy="135.5" r="1.1"/><circle cx="427.1" cy="124.7" r="1.1"/><circle cx="422.4" cy="133.6" r="1.1"/><circle cx="426.9" cy="125.8" r="1.1"/><circle cx="423.6" cy="134.8" r="1.1"/><circle cx="424.4" cy="134.3" r="1.1"/><circle cx="424.2" cy="131.6" r="1.1"/><circle cx="424.3" cy="130.9" r="1.1"/><circle cx="419.5" cy="129.8" r="1.1"/><circle cx="423.0" cy="130.6" r="1.1"/><circle cx="427.1" cy="122.1" r="1.1"/><circle cx="424.3" cy="133.6" r="1.1"/><circle cx="418.1" cy="128.5" r="1.1"/><circle cx="429.5" cy="121.8" r="1.1"/><circle cx="425.9" cy="128.9" r="1.1"/><circle cx="426.6" cy="126.0" r="1.1"/><circle cx="431.7" cy="116.6" r="1.1"/><circle cx="418.2" cy="128.6" r="1.1"/><circle cx="426.8" cy="127.8" r="1.1"/><circle cx="428.7" cy="119.4" r="1.1"/><circle cx="419.8" cy="130.2" r="1.1"/><circle cx="417.7" cy="129.5" r="1.1"/><circle cx="427.5" cy="120.4" r="1.1"/><circle cx="424.9" cy="128.8" r="1.1"/><circle cx="428.4" cy="120.4" r="1.1"/><circle cx="427.7" cy="122.0" r="1.1"/><circle cx="421.5" cy="134.8" r="1.1"/><circle cx="427.6" cy="121.9" r="1.1"/><circle cx="419.6" cy="131.4" r="1.1"/><circle cx="428.5" cy="118.5" r="1.1"/><circle cx="420.7" cy="134.1" r="1.1"/><circle cx="431.6" cy="114.8" r="1.1"/><circle cx="428.7" cy="120.7" r="1.1"/><circle cx="421.3" cy="134.7" r="1.1"/><circle cx="429.9" cy="119.0" r="1.1"/><circle cx="420.5" cy="129.1" r="1.1"/><circle cx="419.7" cy="129.0" r="1.1"/><circle cx="423.1" cy="133.4" r="1.1"/><circle cx="426.6" cy="129.1" r="1.1"/><circle cx="429.9" cy="116.9" r="1.1"/><circle cx="425.5" cy="127.8" r="1.1"/><circle cx="418.1" cy="127.9" r="1.1"/><circle cx="419.6" cy="131.4" r="1.1"/><circle cx="419.7" cy="130.1" r="1.1"/><circle cx="421.0" cy="131.0" r="1.1"/><circle cx="422.9" cy="133.9" r="1.1"/><circle cx="423.0" cy="133.5" r="1.1"/><circle cx="426.3" cy="128.9" r="1.1"/><circle cx="430.8" cy="115.2" r="1.1"/><circle cx="427.5" cy="122.6" r="1.1"/><circle cx="418.7" cy="130.4" r="1.1"/><circle cx="426.2" cy="125.9" r="1.1"/><circle cx="428.1" cy="121.3" r="1.1"/><circle cx="424.0" cy="132.7" r="1.1"/><circle cx="418.8" cy="129.2" r="1.1"/><circle cx="424.8" cy="133.1" r="1.1"/><circle cx="426.8" cy="125.4" r="1.1"/><circle cx="423.9" cy="128.5" r="1.1"/><circle cx="427.1" cy="127.8" r="1.1"/><circle cx="430.2" cy="117.7" r="1.1"/><circle cx="426.5" cy="122.5" r="1.1"/><circle cx="424.4" cy="133.8" r="1.1"/><circle cx="426.3" cy="128.2" r="1.1"/><circle cx="424.7" cy="130.8" r="1.1"/><circle cx="420.8" cy="129.7" r="1.1"/><circle cx="425.8" cy="129.2" r="1.1"/><circle cx="428.1" cy="117.4" r="1.1"/><circle cx="426.4" cy="126.2" r="1.1"/><circle cx="430.0" cy="116.6" r="1.1"/><circle cx="429.9" cy="117.0" r="1.1"/><circle cx="421.9" cy="133.3" r="1.1"/><circle cx="419.7" cy="133.0" r="1.1"/><circle cx="424.5" cy="130.3" r="1.1"/><circle cx="418.1" cy="128.1" r="1.1"/><circle cx="429.9" cy="114.6" r="1.1"/><circle cx="418.0" cy="127.1" r="1.1"/><circle cx="421.6" cy="135.2" r="1.1"/><circle cx="428.5" cy="123.1" r="1.1"/><circle cx="429.0" cy="117.7" r="1.1"/><circle cx="425.2" cy="128.4" r="1.1"/><circle cx="423.2" cy="135.8" r="1.1"/><circle cx="422.6" cy="134.3" r="1.1"/><circle cx="423.0" cy="133.4" r="1.1"/><circle cx="425.7" cy="127.4" r="1.1"/><circle cx="429.7" cy="114.2" r="1.1"/><circle cx="429.6" cy="116.2" r="1.1"/><circle cx="431.1" cy="117.3" r="1.1"/><circle cx="419.6" cy="132.4" r="1.1"/><circle cx="424.9" cy="127.5" r="1.1"/><circle cx="428.8" cy="114.6" r="1.1"/><circle cx="424.1" cy="131.4" r="1.1"/><circle cx="427.5" cy="119.5" r="1.1"/><circle cx="423.1" cy="134.7" r="1.1"/><circle cx="429.3" cy="115.2" r="1.1"/><circle cx="425.7" cy="126.1" r="1.1"/><circle cx="417.7" cy="127.5" r="1.1"/><circle cx="417.2" cy="129.5" r="1.1"/><circle cx="427.2" cy="125.3" r="1.1"/><circle cx="424.4" cy="130.0" r="1.1"/><circle cx="430.0" cy="114.9" r="1.1"/><circle cx="422.9" cy="134.8" r="1.1"/><circle cx="426.2" cy="124.8" r="1.1"/><circle cx="421.6" cy="133.4" r="1.1"/><circle cx="427.0" cy="126.3" r="1.1"/><circle cx="419.6" cy="130.4" r="1.1"/><circle cx="426.8" cy="128.2" r="1.1"/><circle cx="427.7" cy="123.4" r="1.1"/><circle cx="420.1" cy="130.8" r="1.1"/><circle cx="428.3" cy="122.3" r="1.1"/><circle cx="419.8" cy="130.2" r="1.1"/><circle cx="417.2" cy="127.9" r="1.1"/><circle cx="418.6" cy="126.7" r="1.1"/><circle cx="424.7" cy="128.1" r="1.1"/><circle cx="428.3" cy="121.3" r="1.1"/><circle cx="421.6" cy="135.9" r="1.1"/><circle cx="430.4" cy="115.9" r="1.1"/><circle cx="420.6" cy="132.3" r="1.1"/><circle cx="428.9" cy="123.0" r="1.1"/><circle cx="430.6" cy="114.1" r="1.1"/><circle cx="423.0" cy="129.9" r="1.1"/><circle cx="426.1" cy="127.1" r="1.1"/><circle cx="428.9" cy="121.0" r="1.1"/><circle cx="418.3" cy="126.6" r="1.1"/><circle cx="423.3" cy="131.6" r="1.1"/><circle cx="423.4" cy="135.2" r="1.1"/><circle cx="427.2" cy="125.5" r="1.1"/><circle cx="418.1" cy="127.4" r="1.1"/><circle cx="421.7" cy="134.1" r="1.1"/><circle cx="419.5" cy="130.6" r="1.1"/><circle cx="420.5" cy="133.6" r="1.1"/><circle cx="417.1" cy="127.2" r="1.1"/><circle cx="424.9" cy="126.9" r="1.1"/></g>
<line x1="387.20" y1="54.50" x2="387.20" y2="139.60" stroke="#231f20" stroke-width="1.3"/>
<line x1="384.40" y1="66.40" x2="387.20" y2="66.40" stroke="#231f20" stroke-width="1.1"/>
<text x="381.60" y="69.15" font-size="7.8" text-anchor="end" fill="#333" stroke="#333" stroke-width="0.22">15</text>
<line x1="384.40" y1="89.50" x2="387.20" y2="89.50" stroke="#231f20" stroke-width="1.1"/>
<text x="381.60" y="92.25" font-size="7.8" text-anchor="end" fill="#333" stroke="#333" stroke-width="0.22">10</text>
<line x1="384.40" y1="112.60" x2="387.20" y2="112.60" stroke="#231f20" stroke-width="1.1"/>
<text x="381.60" y="115.35" font-size="7.8" text-anchor="end" fill="#333" stroke="#333" stroke-width="0.22">5</text>
<line x1="384.40" y1="135.70" x2="387.20" y2="135.70" stroke="#231f20" stroke-width="1.1"/>
<text x="381.60" y="138.45" font-size="7.8" text-anchor="end" fill="#333" stroke="#333" stroke-width="0.22">0</text>
<line x1="386.60" y1="139.40" x2="457.60" y2="139.40" stroke="#231f20" stroke-width="1.3"/>
<line x1="389.80" y1="139.40" x2="389.80" y2="142.40" stroke="#231f20" stroke-width="1.1"/>
<text x="389.80" y="152.30" font-size="7.8" text-anchor="middle" fill="#333" stroke="#333" stroke-width="0.22">−5.0</text>
<line x1="406.60" y1="139.40" x2="406.60" y2="142.40" stroke="#231f20" stroke-width="1.1"/>
<text x="406.60" y="152.30" font-size="7.8" text-anchor="middle" fill="#333" stroke="#333" stroke-width="0.22">−2.5</text>
<line x1="423.40" y1="139.40" x2="423.40" y2="142.40" stroke="#231f20" stroke-width="1.1"/>
<text x="423.40" y="152.30" font-size="7.8" text-anchor="middle" fill="#333" stroke="#333" stroke-width="0.22">0.0</text>
<line x1="440.20" y1="139.40" x2="440.20" y2="142.40" stroke="#231f20" stroke-width="1.1"/>
<text x="440.20" y="152.30" font-size="7.8" text-anchor="middle" fill="#333" stroke="#333" stroke-width="0.22">2.5</text>
<line x1="457.00" y1="139.40" x2="457.00" y2="142.40" stroke="#231f20" stroke-width="1.1"/>
<text x="457.00" y="152.30" font-size="7.8" text-anchor="middle" fill="#333" stroke="#333" stroke-width="0.22">5.0</text>
<text transform="translate(363.60 96.80) rotate(-90)" x="0" y="0" font-size="8.4" text-anchor="middle" fill="#333" stroke="#333" stroke-width="0.22" textLength="52.40" lengthAdjust="spacingAndGlyphs">-Log<tspan font-size="6.05" dy="2.9">10</tspan><tspan dy="-2.9"> (</tspan><tspan font-style="italic">P</tspan>-value)</text>
<text x="395.30" y="164.30" font-size="8.4" fill="#333" stroke="#333" stroke-width="0.22" textLength="55.80" lengthAdjust="spacingAndGlyphs">Log<tspan font-size="6.05" dy="2.9">2</tspan><tspan dy="-2.9"> fold-change</tspan></text>
<circle cx="438.2" cy="61.3" r="2.9" fill="#f0de24"/>
<text x="442.80" y="62.60" font-size="7.6" fill="#333" textLength="25.70" lengthAdjust="spacingAndGlyphs">DREAM</text>
<text x="443.00" y="70.10" font-size="7.6" fill="#333" textLength="19.20" lengthAdjust="spacingAndGlyphs">target</text>
<g fill="#231f20"><circle cx="399.6" cy="58.3" r="1.0"/></g>
<line x1="400.20" y1="58.30" x2="403.80" y2="58.30" stroke="#231f20" stroke-width="0.9"/>
<text x="404.60" y="60.00" font-size="6.0" textLength="12.60" lengthAdjust="spacingAndGlyphs" stroke="#231f20" stroke-width="0.12">Cd53</text>
<text x="406.50" y="102.60" font-size="6.1" textLength="16.20" lengthAdjust="spacingAndGlyphs">Gas2l3</text>
<text x="398.80" y="107.80" font-size="6.1" textLength="20.80" lengthAdjust="spacingAndGlyphs">Dync2h1</text>
<text x="428.80" y="105.20" font-size="6.1" textLength="5.10" lengthAdjust="spacingAndGlyphs">Cit</text>
<text x="439.60" y="107.50" font-size="6.1" textLength="15.40" lengthAdjust="spacingAndGlyphs">Cenpe</text>
<text x="436.50" y="112.40" font-size="6.1" textLength="12.30" lengthAdjust="spacingAndGlyphs">Prr11</text>
<text x="391.90" y="116.00" font-size="6.1" textLength="17.70" lengthAdjust="spacingAndGlyphs">Dnajb9</text>
<line x1="426.80" y1="99.50" x2="427.60" y2="111.50" stroke="#231f20" stroke-width="0.7"/>
<line x1="421.90" y1="108.50" x2="428.80" y2="113.50" stroke="#231f20" stroke-width="0.7"/>
<line x1="431.20" y1="106.50" x2="429.80" y2="113.00" stroke="#231f20" stroke-width="0.7"/>
<line x1="439.20" y1="105.30" x2="430.60" y2="113.80" stroke="#231f20" stroke-width="0.7"/>
<line x1="436.20" y1="111.90" x2="431.80" y2="113.60" stroke="#231f20" stroke-width="0.7"/>
<line x1="412.70" y1="114.70" x2="416.50" y2="113.60" stroke="#231f20" stroke-width="0.7"/>
<g fill="#231f20"><circle cx="417.6" cy="113.3" r="0.9"/><circle cx="429.6" cy="114.0" r="0.9"/></g>
<text x="263.50" y="209.20" font-size="8.2" fill="#444" stroke="#444" stroke-width="0.12" textLength="61.20" lengthAdjust="spacingAndGlyphs"><tspan font-style="italic">Cd53</tspan><tspan font-size="5.74" dy="-3.1">−/−</tspan><tspan dy="3.1"> vs WT</tspan></text>
<text x="259.50" y="219.60" font-size="8.2" fill="#444" textLength="68.70" lengthAdjust="spacingAndGlyphs" stroke="#444" stroke-width="0.12">G-CSF Spl HSCs</text>
<g fill="#c6c6c9"><circle cx="290.6" cy="284.1" r="0.95"/><circle cx="279.5" cy="293.3" r="0.95"/><circle cx="295.6" cy="293.4" r="0.95"/><circle cx="293.4" cy="309.0" r="0.95"/><circle cx="289.6" cy="287.9" r="0.95"/><circle cx="304.9" cy="291.6" r="0.95"/><circle cx="300.1" cy="296.3" r="0.95"/><circle cx="290.9" cy="284.4" r="0.95"/><circle cx="321.9" cy="301.3" r="0.95"/><circle cx="283.1" cy="305.1" r="0.95"/><circle cx="311.5" cy="292.4" r="0.95"/><circle cx="304.3" cy="304.6" r="0.95"/><circle cx="319.0" cy="300.4" r="0.95"/><circle cx="288.8" cy="302.3" r="0.95"/><circle cx="288.9" cy="279.5" r="0.95"/><circle cx="309.7" cy="288.9" r="0.95"/><circle cx="308.9" cy="299.6" r="0.95"/><circle cx="297.3" cy="278.1" r="0.95"/><circle cx="324.2" cy="309.4" r="0.95"/><circle cx="289.0" cy="290.3" r="0.95"/><circle cx="261.9" cy="309.1" r="0.95"/><circle cx="302.9" cy="308.4" r="0.95"/><circle cx="281.2" cy="303.6" r="0.95"/><circle cx="288.4" cy="296.9" r="0.95"/><circle cx="291.8" cy="279.8" r="0.95"/><circle cx="295.9" cy="281.9" r="0.95"/><circle cx="316.7" cy="308.3" r="0.95"/><circle cx="280.6" cy="296.0" r="0.95"/><circle cx="297.2" cy="295.1" r="0.95"/><circle cx="269.4" cy="306.8" r="0.95"/><circle cx="281.0" cy="286.5" r="0.95"/><circle cx="273.4" cy="297.5" r="0.95"/><circle cx="312.6" cy="294.6" r="0.95"/><circle cx="261.2" cy="306.1" r="0.95"/><circle cx="302.1" cy="289.0" r="0.95"/><circle cx="310.2" cy="304.7" r="0.95"/><circle cx="287.4" cy="294.2" r="0.95"/><circle cx="302.1" cy="280.8" r="0.95"/><circle cx="299.9" cy="305.1" r="0.95"/><circle cx="268.3" cy="308.4" r="0.95"/><circle cx="282.5" cy="284.5" r="0.95"/><circle cx="303.2" cy="304.4" r="0.95"/><circle cx="303.3" cy="297.3" r="0.95"/><circle cx="312.9" cy="301.2" r="0.95"/><circle cx="296.7" cy="300.2" r="0.95"/><circle cx="278.2" cy="299.2" r="0.95"/><circle cx="296.9" cy="287.6" r="0.95"/><circle cx="259.7" cy="309.1" r="0.95"/><circle cx="285.6" cy="284.8" r="0.95"/><circle cx="294.5" cy="297.0" r="0.95"/><circle cx="284.1" cy="291.6" r="0.95"/><circle cx="267.6" cy="305.2" r="0.95"/><circle cx="277.2" cy="297.9" r="0.95"/><circle cx="290.9" cy="306.7" r="0.95"/><circle cx="324.7" cy="302.0" r="0.95"/><circle cx="309.7" cy="297.7" r="0.95"/><circle cx="274.8" cy="306.3" r="0.95"/><circle cx="270.6" cy="295.6" r="0.95"/><circle cx="303.5" cy="293.6" r="0.95"/><circle cx="282.7" cy="287.9" r="0.95"/><circle cx="286.9" cy="282.6" r="0.95"/><circle cx="288.9" cy="295.7" r="0.95"/><circle cx="283.1" cy="296.0" r="0.95"/><circle cx="273.8" cy="301.0" r="0.95"/><circle cx="272.2" cy="298.1" r="0.95"/><circle cx="291.5" cy="299.4" r="0.95"/><circle cx="289.3" cy="303.7" r="0.95"/><circle cx="291.4" cy="289.8" r="0.95"/><circle cx="304.3" cy="291.5" r="0.95"/><circle cx="280.7" cy="299.0" r="0.95"/><circle cx="276.3" cy="305.2" r="0.95"/><circle cx="295.1" cy="306.9" r="0.95"/><circle cx="264.1" cy="307.6" r="0.95"/><circle cx="307.3" cy="304.7" r="0.95"/><circle cx="308.1" cy="296.3" r="0.95"/><circle cx="278.8" cy="292.2" r="0.95"/><circle cx="290.8" cy="285.5" r="0.95"/><circle cx="301.6" cy="305.8" r="0.95"/><circle cx="297.8" cy="292.4" r="0.95"/><circle cx="328.5" cy="305.1" r="0.95"/><circle cx="300.3" cy="297.6" r="0.95"/><circle cx="303.0" cy="305.4" r="0.95"/><circle cx="307.2" cy="303.0" r="0.95"/><circle cx="287.2" cy="306.0" r="0.95"/><circle cx="292.9" cy="297.4" r="0.95"/><circle cx="289.8" cy="294.7" r="0.95"/><circle cx="296.2" cy="274.7" r="0.95"/><circle cx="291.7" cy="308.1" r="0.95"/><circle cx="293.7" cy="295.1" r="0.95"/><circle cx="307.3" cy="297.4" r="0.95"/><circle cx="286.1" cy="292.4" r="0.95"/><circle cx="296.2" cy="283.0" r="0.95"/><circle cx="285.6" cy="305.9" r="0.95"/><circle cx="297.2" cy="294.6" r="0.95"/><circle cx="286.6" cy="300.1" r="0.95"/><circle cx="299.3" cy="289.4" r="0.95"/><circle cx="300.0" cy="286.0" r="0.95"/><circle cx="305.0" cy="284.1" r="0.95"/><circle cx="305.8" cy="299.3" r="0.95"/><circle cx="304.3" cy="295.4" r="0.95"/><circle cx="297.9" cy="285.7" r="0.95"/><circle cx="290.8" cy="292.4" r="0.95"/><circle cx="308.9" cy="292.8" r="0.95"/><circle cx="276.8" cy="307.1" r="0.95"/><circle cx="315.5" cy="305.3" r="0.95"/><circle cx="279.1" cy="308.6" r="0.95"/><circle cx="283.0" cy="299.1" r="0.95"/><circle cx="295.6" cy="301.9" r="0.95"/><circle cx="274.8" cy="303.3" r="0.95"/><circle cx="280.3" cy="286.5" r="0.95"/><circle cx="301.8" cy="300.2" r="0.95"/><circle cx="292.9" cy="308.0" r="0.95"/><circle cx="263.9" cy="309.4" r="0.95"/><circle cx="278.8" cy="293.0" r="0.95"/><circle cx="293.7" cy="303.1" r="0.95"/><circle cx="281.9" cy="294.9" r="0.95"/><circle cx="271.1" cy="296.2" r="0.95"/><circle cx="289.6" cy="286.9" r="0.95"/><circle cx="286.2" cy="282.1" r="0.95"/><circle cx="285.1" cy="300.4" r="0.95"/><circle cx="293.8" cy="304.2" r="0.95"/><circle cx="317.7" cy="296.4" r="0.95"/><circle cx="296.9" cy="278.8" r="0.95"/><circle cx="280.0" cy="295.4" r="0.95"/><circle cx="304.2" cy="296.1" r="0.95"/><circle cx="311.7" cy="303.0" r="0.95"/><circle cx="279.1" cy="287.7" r="0.95"/><circle cx="291.2" cy="294.5" r="0.95"/><circle cx="290.5" cy="299.6" r="0.95"/><circle cx="307.3" cy="302.7" r="0.95"/><circle cx="285.8" cy="293.4" r="0.95"/><circle cx="280.7" cy="295.8" r="0.95"/><circle cx="290.4" cy="296.9" r="0.95"/><circle cx="284.2" cy="301.9" r="0.95"/><circle cx="287.6" cy="308.6" r="0.95"/><circle cx="291.4" cy="298.2" r="0.95"/><circle cx="289.3" cy="291.4" r="0.95"/><circle cx="288.9" cy="280.3" r="0.95"/><circle cx="266.0" cy="300.8" r="0.95"/><circle cx="290.5" cy="297.0" r="0.95"/><circle cx="284.7" cy="301.5" r="0.95"/><circle cx="275.6" cy="304.4" r="0.95"/><circle cx="289.6" cy="290.7" r="0.95"/><circle cx="305.4" cy="284.8" r="0.95"/><circle cx="283.5" cy="298.3" r="0.95"/><circle cx="311.9" cy="293.5" r="0.95"/><circle cx="291.1" cy="291.5" r="0.95"/><circle cx="288.8" cy="309.3" r="0.95"/><circle cx="285.7" cy="285.8" r="0.95"/><circle cx="291.3" cy="305.5" r="0.95"/><circle cx="258.6" cy="305.9" r="0.95"/><circle cx="316.1" cy="306.9" r="0.95"/><circle cx="311.8" cy="294.3" r="0.95"/><circle cx="292.6" cy="302.4" r="0.95"/><circle cx="291.8" cy="290.6" r="0.95"/><circle cx="325.4" cy="302.8" r="0.95"/><circle cx="295.6" cy="309.5" r="0.95"/><circle cx="304.3" cy="288.2" r="0.95"/><circle cx="290.5" cy="305.3" r="0.95"/><circle cx="288.3" cy="280.5" r="0.95"/><circle cx="316.4" cy="306.9" r="0.95"/><circle cx="287.2" cy="298.1" r="0.95"/><circle cx="284.4" cy="286.8" r="0.95"/><circle cx="301.9" cy="305.5" r="0.95"/><circle cx="309.8" cy="301.5" r="0.95"/><circle cx="290.9" cy="276.7" r="0.95"/><circle cx="291.4" cy="304.7" r="0.95"/><circle cx="286.6" cy="302.7" r="0.95"/><circle cx="281.5" cy="288.6" r="0.95"/><circle cx="276.7" cy="301.1" r="0.95"/><circle cx="280.9" cy="301.9" r="0.95"/><circle cx="286.4" cy="300.5" r="0.95"/><circle cx="282.6" cy="307.2" r="0.95"/><circle cx="291.7" cy="295.9" r="0.95"/><circle cx="296.8" cy="307.9" r="0.95"/><circle cx="300.5" cy="297.8" r="0.95"/><circle cx="309.5" cy="293.0" r="0.95"/><circle cx="296.4" cy="300.1" r="0.95"/><circle cx="296.0" cy="299.0" r="0.95"/><circle cx="282.2" cy="286.3" r="0.95"/><circle cx="308.7" cy="296.6" r="0.95"/><circle cx="281.9" cy="299.6" r="0.95"/><circle cx="312.0" cy="307.5" r="0.95"/><circle cx="307.1" cy="297.3" r="0.95"/><circle cx="277.0" cy="308.5" r="0.95"/><circle cx="281.5" cy="291.1" r="0.95"/><circle cx="270.8" cy="302.1" r="0.95"/><circle cx="298.6" cy="284.3" r="0.95"/><circle cx="279.1" cy="298.9" r="0.95"/><circle cx="295.6" cy="296.3" r="0.95"/><circle cx="292.6" cy="284.6" r="0.95"/><circle cx="284.5" cy="297.5" r="0.95"/><circle cx="289.5" cy="277.5" r="0.95"/><circle cx="290.3" cy="279.3" r="0.95"/><circle cx="274.1" cy="306.8" r="0.95"/><circle cx="296.0" cy="294.6" r="0.95"/><circle cx="292.3" cy="287.3" r="0.95"/><circle cx="299.4" cy="290.3" r="0.95"/><circle cx="306.3" cy="301.7" r="0.95"/><circle cx="299.3" cy="303.3" r="0.95"/><circle cx="319.7" cy="305.1" r="0.95"/><circle cx="284.2" cy="285.4" r="0.95"/><circle cx="322.5" cy="302.4" r="0.95"/><circle cx="328.0" cy="308.6" r="0.95"/><circle cx="308.1" cy="303.0" r="0.95"/><circle cx="281.8" cy="304.7" r="0.95"/><circle cx="281.7" cy="301.4" r="0.95"/><circle cx="281.9" cy="290.0" r="0.95"/><circle cx="302.0" cy="297.9" r="0.95"/><circle cx="291.3" cy="302.0" r="0.95"/><circle cx="294.5" cy="304.2" r="0.95"/><circle cx="293.1" cy="298.5" r="0.95"/><circle cx="263.5" cy="306.2" r="0.95"/><circle cx="302.0" cy="301.5" r="0.95"/><circle cx="301.8" cy="287.4" r="0.95"/><circle cx="312.3" cy="294.8" r="0.95"/><circle cx="278.2" cy="292.2" r="0.95"/><circle cx="323.0" cy="300.5" r="0.95"/><circle cx="261.9" cy="303.8" r="0.95"/><circle cx="300.8" cy="293.1" r="0.95"/><circle cx="278.7" cy="290.8" r="0.95"/><circle cx="288.2" cy="287.3" r="0.95"/><circle cx="325.7" cy="302.3" r="0.95"/><circle cx="292.3" cy="289.1" r="0.95"/><circle cx="304.8" cy="306.9" r="0.95"/><circle cx="300.4" cy="297.5" r="0.95"/><circle cx="328.6" cy="307.0" r="0.95"/><circle cx="297.2" cy="293.5" r="0.95"/><circle cx="284.4" cy="288.9" r="0.95"/><circle cx="306.3" cy="293.0" r="0.95"/><circle cx="318.5" cy="301.9" r="0.95"/><circle cx="288.3" cy="297.6" r="0.95"/><circle cx="307.6" cy="292.7" r="0.95"/><circle cx="319.8" cy="308.9" r="0.95"/><circle cx="286.1" cy="302.4" r="0.95"/><circle cx="264.7" cy="308.8" r="0.95"/><circle cx="274.3" cy="304.0" r="0.95"/><circle cx="309.9" cy="298.5" r="0.95"/><circle cx="315.8" cy="306.3" r="0.95"/><circle cx="290.6" cy="278.6" r="0.95"/><circle cx="294.5" cy="297.7" r="0.95"/><circle cx="283.8" cy="292.1" r="0.95"/><circle cx="282.6" cy="286.5" r="0.95"/><circle cx="328.6" cy="306.4" r="0.95"/><circle cx="289.5" cy="302.8" r="0.95"/><circle cx="302.9" cy="308.9" r="0.95"/><circle cx="319.1" cy="307.6" r="0.95"/><circle cx="290.2" cy="282.1" r="0.95"/><circle cx="324.6" cy="302.9" r="0.95"/><circle cx="281.8" cy="291.4" r="0.95"/><circle cx="306.3" cy="291.9" r="0.95"/><circle cx="299.6" cy="304.2" r="0.95"/><circle cx="303.2" cy="306.0" r="0.95"/><circle cx="287.2" cy="280.1" r="0.95"/><circle cx="290.3" cy="292.5" r="0.95"/><circle cx="305.4" cy="305.1" r="0.95"/><circle cx="296.6" cy="304.1" r="0.95"/><circle cx="293.3" cy="297.6" r="0.95"/><circle cx="274.9" cy="299.2" r="0.95"/><circle cx="288.0" cy="289.8" r="0.95"/><circle cx="291.4" cy="286.4" r="0.95"/><circle cx="322.0" cy="303.6" r="0.95"/><circle cx="286.9" cy="290.3" r="0.95"/><circle cx="298.8" cy="290.2" r="0.95"/><circle cx="319.5" cy="296.5" r="0.95"/><circle cx="287.6" cy="308.6" r="0.95"/><circle cx="292.5" cy="280.1" r="0.95"/><circle cx="320.1" cy="298.8" r="0.95"/><circle cx="292.3" cy="277.1" r="0.95"/><circle cx="297.0" cy="309.0" r="0.95"/><circle cx="288.6" cy="302.5" r="0.95"/><circle cx="329.6" cy="308.7" r="0.95"/><circle cx="309.9" cy="301.3" r="0.95"/><circle cx="309.5" cy="292.1" r="0.95"/><circle cx="285.9" cy="296.1" r="0.95"/><circle cx="305.7" cy="296.9" r="0.95"/><circle cx="316.0" cy="301.6" r="0.95"/><circle cx="286.4" cy="280.4" r="0.95"/><circle cx="313.9" cy="304.2" r="0.95"/><circle cx="277.6" cy="304.0" r="0.95"/><circle cx="274.8" cy="299.7" r="0.95"/><circle cx="277.2" cy="305.8" r="0.95"/><circle cx="274.4" cy="306.4" r="0.95"/><circle cx="293.6" cy="305.3" r="0.95"/><circle cx="310.1" cy="298.8" r="0.95"/><circle cx="286.2" cy="292.7" r="0.95"/><circle cx="290.5" cy="300.0" r="0.95"/><circle cx="290.3" cy="306.8" r="0.95"/><circle cx="287.4" cy="302.1" r="0.95"/><circle cx="276.1" cy="298.5" r="0.95"/><circle cx="291.2" cy="284.9" r="0.95"/><circle cx="284.9" cy="306.1" r="0.95"/><circle cx="291.7" cy="282.4" r="0.95"/><circle cx="276.4" cy="302.5" r="0.95"/><circle cx="302.4" cy="293.4" r="0.95"/><circle cx="301.4" cy="307.2" r="0.95"/><circle cx="289.5" cy="294.9" r="0.95"/><circle cx="305.3" cy="300.3" r="0.95"/><circle cx="292.0" cy="285.2" r="0.95"/><circle cx="302.1" cy="302.3" r="0.95"/><circle cx="317.6" cy="305.2" r="0.95"/><circle cx="300.2" cy="278.9" r="0.95"/><circle cx="289.6" cy="284.6" r="0.95"/><circle cx="282.1" cy="288.3" r="0.95"/><circle cx="286.2" cy="302.9" r="0.95"/><circle cx="263.4" cy="307.9" r="0.95"/><circle cx="309.5" cy="308.8" r="0.95"/><circle cx="307.8" cy="301.5" r="0.95"/><circle cx="277.6" cy="296.1" r="0.95"/><circle cx="305.6" cy="305.3" r="0.95"/><circle cx="304.9" cy="291.7" r="0.95"/><circle cx="273.7" cy="295.2" r="0.95"/><circle cx="332.0" cy="309.3" r="0.95"/><circle cx="303.6" cy="281.5" r="0.95"/><circle cx="273.3" cy="303.2" r="0.95"/><circle cx="297.6" cy="299.8" r="0.95"/><circle cx="332.0" cy="308.7" r="0.95"/><circle cx="258.8" cy="308.9" r="0.95"/><circle cx="279.0" cy="291.9" r="0.95"/><circle cx="298.2" cy="282.5" r="0.95"/><circle cx="270.5" cy="298.0" r="0.95"/><circle cx="275.6" cy="304.7" r="0.95"/><circle cx="283.1" cy="305.7" r="0.95"/><circle cx="274.8" cy="308.3" r="0.95"/><circle cx="290.1" cy="303.7" r="0.95"/><circle cx="282.6" cy="302.1" r="0.95"/><circle cx="277.8" cy="305.2" r="0.95"/><circle cx="301.3" cy="307.8" r="0.95"/><circle cx="320.9" cy="298.9" r="0.95"/><circle cx="313.2" cy="295.8" r="0.95"/><circle cx="272.4" cy="303.4" r="0.95"/><circle cx="264.5" cy="307.2" r="0.95"/><circle cx="305.5" cy="287.2" r="0.95"/><circle cx="287.9" cy="303.4" r="0.95"/><circle cx="272.6" cy="300.3" r="0.95"/><circle cx="260.6" cy="306.1" r="0.95"/><circle cx="284.3" cy="292.1" r="0.95"/><circle cx="302.9" cy="286.5" r="0.95"/><circle cx="316.4" cy="295.5" r="0.95"/><circle cx="300.7" cy="297.9" r="0.95"/><circle cx="302.0" cy="280.4" r="0.95"/><circle cx="299.9" cy="308.7" r="0.95"/><circle cx="311.8" cy="297.9" r="0.95"/><circle cx="318.0" cy="302.4" r="0.95"/><circle cx="321.1" cy="306.6" r="0.95"/><circle cx="298.8" cy="300.5" r="0.95"/><circle cx="304.6" cy="306.2" r="0.95"/><circle cx="321.4" cy="304.2" r="0.95"/><circle cx="330.9" cy="309.5" r="0.95"/><circle cx="290.6" cy="285.8" r="0.95"/><circle cx="282.5" cy="302.1" r="0.95"/><circle cx="285.5" cy="297.1" r="0.95"/><circle cx="265.8" cy="303.1" r="0.95"/><circle cx="298.9" cy="289.6" r="0.95"/><circle cx="300.5" cy="300.2" r="0.95"/><circle cx="312.1" cy="303.9" r="0.95"/><circle cx="298.4" cy="284.9" r="0.95"/><circle cx="283.9" cy="295.4" r="0.95"/><circle cx="296.6" cy="278.8" r="0.95"/><circle cx="306.0" cy="287.3" r="0.95"/><circle cx="288.6" cy="307.4" r="0.95"/><circle cx="303.1" cy="303.8" r="0.95"/><circle cx="273.9" cy="297.2" r="0.95"/><circle cx="280.5" cy="298.0" r="0.95"/><circle cx="290.4" cy="278.8" r="0.95"/><circle cx="283.2" cy="285.8" r="0.95"/><circle cx="306.9" cy="299.0" r="0.95"/><circle cx="286.6" cy="289.6" r="0.95"/><circle cx="303.2" cy="294.1" r="0.95"/><circle cx="299.2" cy="288.9" r="0.95"/><circle cx="325.0" cy="307.9" r="0.95"/><circle cx="298.1" cy="279.4" r="0.95"/><circle cx="303.2" cy="282.7" r="0.95"/><circle cx="331.9" cy="307.5" r="0.95"/><circle cx="290.9" cy="280.4" r="0.95"/><circle cx="296.7" cy="286.1" r="0.95"/><circle cx="326.4" cy="303.0" r="0.95"/><circle cx="296.8" cy="296.4" r="0.95"/><circle cx="301.5" cy="292.9" r="0.95"/><circle cx="309.2" cy="304.1" r="0.95"/><circle cx="300.5" cy="294.3" r="0.95"/><circle cx="302.4" cy="301.1" r="0.95"/><circle cx="297.5" cy="301.0" r="0.95"/><circle cx="316.5" cy="302.6" r="0.95"/><circle cx="300.0" cy="301.2" r="0.95"/><circle cx="296.7" cy="281.2" r="0.95"/><circle cx="277.2" cy="294.1" r="0.95"/><circle cx="296.5" cy="275.5" r="0.95"/><circle cx="270.3" cy="305.7" r="0.95"/><circle cx="272.7" cy="305.5" r="0.95"/><circle cx="303.6" cy="293.5" r="0.95"/><circle cx="272.6" cy="299.8" r="0.95"/><circle cx="307.8" cy="297.7" r="0.95"/><circle cx="301.5" cy="303.1" r="0.95"/><circle cx="286.6" cy="300.0" r="0.95"/><circle cx="310.5" cy="298.3" r="0.95"/><circle cx="298.4" cy="290.5" r="0.95"/><circle cx="292.7" cy="295.2" r="0.95"/><circle cx="292.1" cy="291.0" r="0.95"/><circle cx="311.7" cy="297.6" r="0.95"/><circle cx="292.6" cy="274.8" r="0.95"/><circle cx="292.3" cy="294.5" r="0.95"/><circle cx="296.5" cy="293.9" r="0.95"/><circle cx="323.3" cy="306.7" r="0.95"/><circle cx="308.7" cy="295.3" r="0.95"/><circle cx="275.6" cy="291.9" r="0.95"/><circle cx="310.3" cy="294.1" r="0.95"/><circle cx="305.5" cy="287.8" r="0.95"/><circle cx="281.9" cy="309.5" r="0.95"/><circle cx="280.2" cy="293.8" r="0.95"/><circle cx="270.3" cy="299.2" r="0.95"/><circle cx="271.3" cy="302.3" r="0.95"/><circle cx="287.5" cy="307.2" r="0.95"/><circle cx="313.4" cy="295.7" r="0.95"/><circle cx="283.0" cy="284.3" r="0.95"/><circle cx="282.7" cy="297.8" r="0.95"/><circle cx="280.7" cy="301.1" r="0.95"/><circle cx="299.6" cy="292.5" r="0.95"/><circle cx="278.3" cy="291.4" r="0.95"/><circle cx="302.9" cy="309.6" r="0.95"/><circle cx="267.9" cy="303.4" r="0.95"/><circle cx="308.0" cy="298.5" r="0.95"/><circle cx="301.6" cy="298.2" r="0.95"/><circle cx="302.4" cy="305.5" r="0.95"/><circle cx="282.3" cy="290.8" r="0.95"/><circle cx="303.9" cy="282.3" r="0.95"/><circle cx="314.3" cy="291.7" r="0.95"/><circle cx="294.4" cy="309.5" r="0.95"/><circle cx="313.6" cy="300.3" r="0.95"/><circle cx="290.6" cy="283.5" r="0.95"/><circle cx="289.9" cy="298.2" r="0.95"/><circle cx="297.9" cy="285.5" r="0.95"/><circle cx="307.1" cy="306.2" r="0.95"/><circle cx="307.9" cy="292.5" r="0.95"/><circle cx="321.7" cy="300.3" r="0.95"/><circle cx="304.4" cy="304.5" r="0.95"/><circle cx="291.2" cy="277.4" r="0.95"/><circle cx="302.1" cy="289.4" r="0.95"/><circle cx="310.7" cy="303.1" r="0.95"/><circle cx="292.1" cy="304.9" r="0.95"/><circle cx="275.9" cy="299.1" r="0.95"/><circle cx="319.0" cy="304.1" r="0.95"/><circle cx="282.3" cy="306.7" r="0.95"/><circle cx="297.7" cy="301.6" r="0.95"/><circle cx="291.2" cy="297.4" r="0.95"/><circle cx="293.3" cy="302.1" r="0.95"/><circle cx="296.3" cy="291.9" r="0.95"/><circle cx="320.6" cy="307.3" r="0.95"/><circle cx="282.0" cy="299.6" r="0.95"/><circle cx="278.6" cy="293.8" r="0.95"/><circle cx="303.9" cy="293.4" r="0.95"/><circle cx="320.4" cy="302.8" r="0.95"/><circle cx="314.0" cy="300.0" r="0.95"/><circle cx="307.8" cy="287.6" r="0.95"/><circle cx="289.9" cy="284.1" r="0.95"/><circle cx="281.0" cy="287.8" r="0.95"/><circle cx="299.4" cy="286.5" r="0.95"/><circle cx="278.7" cy="303.0" r="0.95"/><circle cx="288.1" cy="279.2" r="0.95"/><circle cx="303.9" cy="286.4" r="0.95"/><circle cx="296.0" cy="298.0" r="0.95"/><circle cx="310.3" cy="295.2" r="0.95"/><circle cx="307.0" cy="294.2" r="0.95"/><circle cx="318.1" cy="306.9" r="0.95"/><circle cx="299.0" cy="277.3" r="0.95"/><circle cx="319.1" cy="307.2" r="0.95"/><circle cx="290.8" cy="281.8" r="0.95"/><circle cx="303.7" cy="283.6" r="0.95"/><circle cx="322.8" cy="308.5" r="0.95"/><circle cx="306.3" cy="300.1" r="0.95"/><circle cx="315.9" cy="295.6" r="0.95"/><circle cx="283.3" cy="283.4" r="0.95"/><circle cx="302.7" cy="298.9" r="0.95"/><circle cx="303.2" cy="287.9" r="0.95"/><circle cx="280.6" cy="299.4" r="0.95"/><circle cx="299.6" cy="287.9" r="0.95"/><circle cx="322.1" cy="307.7" r="0.95"/><circle cx="270.9" cy="303.3" r="0.95"/><circle cx="265.6" cy="309.1" r="0.95"/><circle cx="287.1" cy="294.3" r="0.95"/><circle cx="286.0" cy="306.5" r="0.95"/><circle cx="286.1" cy="288.0" r="0.95"/><circle cx="301.1" cy="282.3" r="0.95"/><circle cx="314.9" cy="307.8" r="0.95"/><circle cx="298.1" cy="283.3" r="0.95"/><circle cx="318.5" cy="305.1" r="0.95"/><circle cx="292.2" cy="290.1" r="0.95"/><circle cx="276.3" cy="301.7" r="0.95"/><circle cx="325.0" cy="308.6" r="0.95"/><circle cx="289.7" cy="292.9" r="0.95"/><circle cx="301.9" cy="309.2" r="0.95"/><circle cx="265.8" cy="300.1" r="0.95"/><circle cx="284.9" cy="298.4" r="0.95"/><circle cx="310.1" cy="293.9" r="0.95"/><circle cx="305.0" cy="296.9" r="0.95"/><circle cx="287.0" cy="293.6" r="0.95"/><circle cx="316.0" cy="307.5" r="0.95"/><circle cx="277.0" cy="296.5" r="0.95"/><circle cx="310.1" cy="301.5" r="0.95"/><circle cx="302.9" cy="297.6" r="0.95"/><circle cx="300.5" cy="289.2" r="0.95"/><circle cx="303.0" cy="286.0" r="0.95"/><circle cx="306.2" cy="295.2" r="0.95"/><circle cx="275.1" cy="308.2" r="0.95"/><circle cx="299.4" cy="281.8" r="0.95"/><circle cx="292.0" cy="277.9" r="0.95"/><circle cx="302.1" cy="290.2" r="0.95"/><circle cx="298.2" cy="307.8" r="0.95"/><circle cx="286.7" cy="298.7" r="0.95"/><circle cx="303.5" cy="282.0" r="0.95"/><circle cx="294.2" cy="301.4" r="0.95"/><circle cx="291.0" cy="285.0" r="0.95"/><circle cx="284.5" cy="300.7" r="0.95"/><circle cx="268.8" cy="304.2" r="0.95"/><circle cx="322.1" cy="305.4" r="0.95"/><circle cx="318.9" cy="306.7" r="0.95"/><circle cx="306.0" cy="285.6" r="0.95"/><circle cx="300.5" cy="290.9" r="0.95"/><circle cx="320.6" cy="306.4" r="0.95"/><circle cx="307.4" cy="305.3" r="0.95"/><circle cx="283.5" cy="302.5" r="0.95"/><circle cx="295.7" cy="299.8" r="0.95"/><circle cx="301.1" cy="295.3" r="0.95"/><circle cx="303.2" cy="295.9" r="0.95"/><circle cx="286.4" cy="290.4" r="0.95"/><circle cx="288.0" cy="297.6" r="0.95"/><circle cx="275.8" cy="294.8" r="0.95"/><circle cx="284.4" cy="287.8" r="0.95"/><circle cx="290.3" cy="280.2" r="0.95"/><circle cx="275.2" cy="299.2" r="0.95"/><circle cx="283.2" cy="290.4" r="0.95"/><circle cx="277.3" cy="306.1" r="0.95"/><circle cx="297.5" cy="276.3" r="0.95"/><circle cx="291.5" cy="283.3" r="0.95"/><circle cx="291.8" cy="275.5" r="0.95"/><circle cx="291.9" cy="298.7" r="0.95"/><circle cx="311.1" cy="291.5" r="0.95"/><circle cx="283.2" cy="296.8" r="0.95"/><circle cx="282.9" cy="305.9" r="0.95"/><circle cx="292.3" cy="297.1" r="0.95"/><circle cx="277.3" cy="296.7" r="0.95"/><circle cx="322.9" cy="308.4" r="0.95"/><circle cx="313.2" cy="294.9" r="0.95"/><circle cx="275.4" cy="298.6" r="0.95"/><circle cx="315.2" cy="305.6" r="0.95"/><circle cx="302.9" cy="306.6" r="0.95"/><circle cx="304.9" cy="285.6" r="0.95"/><circle cx="276.4" cy="291.6" r="0.95"/><circle cx="315.0" cy="305.9" r="0.95"/><circle cx="296.9" cy="293.8" r="0.95"/><circle cx="316.1" cy="307.2" r="0.95"/><circle cx="283.1" cy="297.0" r="0.95"/><circle cx="262.2" cy="304.0" r="0.95"/><circle cx="308.8" cy="304.0" r="0.95"/><circle cx="283.4" cy="295.6" r="0.95"/><circle cx="330.3" cy="307.0" r="0.95"/><circle cx="291.4" cy="296.7" r="0.95"/><circle cx="285.8" cy="295.7" r="0.95"/><circle cx="321.4" cy="308.5" r="0.95"/><circle cx="299.3" cy="308.0" r="0.95"/><circle cx="285.7" cy="282.2" r="0.95"/><circle cx="286.7" cy="302.3" r="0.95"/><circle cx="303.8" cy="282.3" r="0.95"/><circle cx="296.9" cy="281.9" r="0.95"/><circle cx="291.5" cy="289.3" r="0.95"/><circle cx="310.4" cy="298.6" r="0.95"/><circle cx="307.1" cy="304.6" r="0.95"/><circle cx="280.9" cy="285.7" r="0.95"/><circle cx="307.9" cy="302.8" r="0.95"/><circle cx="280.0" cy="307.5" r="0.95"/><circle cx="302.3" cy="281.9" r="0.95"/><circle cx="274.8" cy="299.9" r="0.95"/><circle cx="314.0" cy="291.6" r="0.95"/><circle cx="312.5" cy="303.1" r="0.95"/><circle cx="295.6" cy="303.6" r="0.95"/><circle cx="307.3" cy="294.4" r="0.95"/><circle cx="282.7" cy="295.8" r="0.95"/><circle cx="280.5" cy="286.6" r="0.95"/><circle cx="290.0" cy="292.9" r="0.95"/><circle cx="295.0" cy="301.3" r="0.95"/><circle cx="304.8" cy="303.1" r="0.95"/><circle cx="279.6" cy="292.9" r="0.95"/><circle cx="321.2" cy="304.6" r="0.95"/><circle cx="300.0" cy="297.3" r="0.95"/><circle cx="274.5" cy="292.7" r="0.95"/><circle cx="280.1" cy="307.2" r="0.95"/><circle cx="286.5" cy="300.5" r="0.95"/><circle cx="285.8" cy="286.8" r="0.95"/><circle cx="301.1" cy="302.6" r="0.95"/><circle cx="285.7" cy="294.4" r="0.95"/><circle cx="278.9" cy="292.1" r="0.95"/><circle cx="288.1" cy="295.6" r="0.95"/><circle cx="281.7" cy="300.3" r="0.95"/><circle cx="269.1" cy="305.9" r="0.95"/><circle cx="262.6" cy="304.0" r="0.95"/><circle cx="292.0" cy="292.0" r="0.95"/><circle cx="290.5" cy="281.3" r="0.95"/><circle cx="299.9" cy="300.9" r="0.95"/><circle cx="298.3" cy="283.6" r="0.95"/><circle cx="287.5" cy="300.1" r="0.95"/><circle cx="284.5" cy="287.4" r="0.95"/><circle cx="291.4" cy="273.2" r="0.95"/><circle cx="287.2" cy="290.0" r="0.95"/><circle cx="289.2" cy="275.6" r="0.95"/><circle cx="300.5" cy="273.7" r="0.95"/><circle cx="296.7" cy="290.1" r="0.95"/><circle cx="297.2" cy="291.3" r="0.95"/><circle cx="302.6" cy="277.6" r="0.95"/><circle cx="297.5" cy="283.8" r="0.95"/><circle cx="303.7" cy="278.0" r="0.95"/><circle cx="287.3" cy="275.4" r="0.95"/><circle cx="288.8" cy="285.3" r="0.95"/><circle cx="302.0" cy="287.7" r="0.95"/><circle cx="291.4" cy="290.5" r="0.95"/><circle cx="299.1" cy="285.2" r="0.95"/><circle cx="288.3" cy="278.1" r="0.95"/><circle cx="299.7" cy="278.1" r="0.95"/><circle cx="288.0" cy="290.7" r="0.95"/><circle cx="298.8" cy="287.1" r="0.95"/><circle cx="297.4" cy="275.5" r="0.95"/><circle cx="289.6" cy="288.9" r="0.95"/><circle cx="288.0" cy="290.1" r="0.95"/><circle cx="296.3" cy="279.1" r="0.95"/><circle cx="287.3" cy="287.7" r="0.95"/><circle cx="289.8" cy="289.0" r="0.95"/><circle cx="287.4" cy="282.6" r="0.95"/><circle cx="289.0" cy="274.1" r="0.95"/><circle cx="297.7" cy="289.1" r="0.95"/><circle cx="290.1" cy="288.3" r="0.95"/><circle cx="292.5" cy="275.5" r="0.95"/><circle cx="303.7" cy="282.5" r="0.95"/><circle cx="298.6" cy="276.6" r="0.95"/><circle cx="290.1" cy="276.6" r="0.95"/><circle cx="296.5" cy="282.0" r="0.95"/><circle cx="300.5" cy="280.8" r="0.95"/><circle cx="303.7" cy="284.9" r="0.95"/><circle cx="303.7" cy="274.8" r="0.95"/><circle cx="288.9" cy="276.7" r="0.95"/><circle cx="292.5" cy="278.9" r="0.95"/><circle cx="290.8" cy="279.0" r="0.95"/><circle cx="300.7" cy="291.4" r="0.95"/><circle cx="299.0" cy="275.7" r="0.95"/><circle cx="297.2" cy="276.9" r="0.95"/><circle cx="297.8" cy="276.6" r="0.95"/><circle cx="289.6" cy="291.6" r="0.95"/><circle cx="286.8" cy="279.4" r="0.95"/><circle cx="302.9" cy="278.6" r="0.95"/><circle cx="287.1" cy="280.0" r="0.95"/><circle cx="301.1" cy="292.0" r="0.95"/><circle cx="299.0" cy="280.4" r="0.95"/><circle cx="291.1" cy="284.6" r="0.95"/><circle cx="301.5" cy="289.8" r="0.95"/><circle cx="292.5" cy="275.2" r="0.95"/><circle cx="286.6" cy="276.7" r="0.95"/><circle cx="303.2" cy="285.2" r="0.95"/><circle cx="287.4" cy="280.3" r="0.95"/><circle cx="296.3" cy="286.5" r="0.95"/><circle cx="303.9" cy="283.1" r="0.95"/><circle cx="291.2" cy="286.4" r="0.95"/><circle cx="297.5" cy="287.8" r="0.95"/><circle cx="288.6" cy="286.4" r="0.95"/><circle cx="297.4" cy="289.6" r="0.95"/><circle cx="301.3" cy="283.8" r="0.95"/><circle cx="287.6" cy="275.3" r="0.95"/><circle cx="292.4" cy="276.4" r="0.95"/><circle cx="296.3" cy="285.3" r="0.95"/><circle cx="300.9" cy="283.8" r="0.95"/><circle cx="290.0" cy="291.7" r="0.95"/><circle cx="290.5" cy="278.2" r="0.95"/><circle cx="300.6" cy="276.6" r="0.95"/><circle cx="297.7" cy="284.7" r="0.95"/><circle cx="296.4" cy="286.3" r="0.95"/><circle cx="298.9" cy="276.9" r="0.95"/><circle cx="287.5" cy="284.7" r="0.95"/><circle cx="287.6" cy="287.3" r="0.95"/><circle cx="298.9" cy="276.4" r="0.95"/><circle cx="296.8" cy="285.0" r="0.95"/><circle cx="302.1" cy="281.9" r="0.95"/><circle cx="301.5" cy="274.6" r="0.95"/><circle cx="287.7" cy="283.3" r="0.95"/><circle cx="290.7" cy="281.1" r="0.95"/><circle cx="298.9" cy="287.2" r="0.95"/><circle cx="303.5" cy="287.1" r="0.95"/><circle cx="300.2" cy="273.9" r="0.95"/><circle cx="288.9" cy="274.7" r="0.95"/><circle cx="301.5" cy="287.4" r="0.95"/><circle cx="301.6" cy="284.3" r="0.95"/><circle cx="289.8" cy="279.3" r="0.95"/><circle cx="287.6" cy="290.3" r="0.95"/><circle cx="290.2" cy="291.4" r="0.95"/><circle cx="298.5" cy="279.1" r="0.95"/></g>
<g fill="#f2e431"><circle cx="296.8" cy="278.0" r="1.0"/><circle cx="299.4" cy="295.1" r="1.0"/><circle cx="298.5" cy="295.7" r="1.0"/><circle cx="298.1" cy="306.2" r="1.0"/><circle cx="296.5" cy="303.8" r="1.0"/><circle cx="297.4" cy="291.7" r="1.0"/><circle cx="298.8" cy="294.6" r="1.0"/><circle cx="296.4" cy="276.4" r="1.0"/><circle cx="296.7" cy="280.2" r="1.0"/><circle cx="297.6" cy="276.5" r="1.0"/><circle cx="297.3" cy="281.2" r="1.0"/><circle cx="296.9" cy="282.4" r="1.0"/><circle cx="296.1" cy="286.9" r="1.0"/><circle cx="297.6" cy="276.3" r="1.0"/><circle cx="296.4" cy="291.6" r="1.0"/><circle cx="297.6" cy="303.9" r="1.0"/><circle cx="299.8" cy="305.4" r="1.0"/><circle cx="297.2" cy="309.4" r="1.0"/><circle cx="296.3" cy="308.9" r="1.0"/><circle cx="300.1" cy="306.1" r="1.0"/><circle cx="296.5" cy="305.1" r="1.0"/><circle cx="296.3" cy="285.7" r="1.0"/><circle cx="296.3" cy="291.3" r="1.0"/><circle cx="298.3" cy="303.1" r="1.0"/><circle cx="297.7" cy="292.5" r="1.0"/><circle cx="298.5" cy="305.4" r="1.0"/><circle cx="296.4" cy="309.3" r="1.0"/><circle cx="296.2" cy="287.3" r="1.0"/><circle cx="297.2" cy="294.8" r="1.0"/><circle cx="299.6" cy="286.2" r="1.0"/><circle cx="296.2" cy="300.9" r="1.0"/><circle cx="298.0" cy="295.3" r="1.0"/><circle cx="299.5" cy="296.9" r="1.0"/><circle cx="296.8" cy="294.2" r="1.0"/><circle cx="298.1" cy="289.5" r="1.0"/><circle cx="297.0" cy="284.3" r="1.0"/><circle cx="298.0" cy="288.5" r="1.0"/><circle cx="297.2" cy="288.2" r="1.0"/><circle cx="296.7" cy="282.9" r="1.0"/><circle cx="299.1" cy="289.1" r="1.0"/><circle cx="296.7" cy="292.2" r="1.0"/><circle cx="296.7" cy="303.3" r="1.0"/><circle cx="298.8" cy="301.2" r="1.0"/><circle cx="297.7" cy="300.9" r="1.0"/><circle cx="298.0" cy="290.7" r="1.0"/><circle cx="298.2" cy="295.2" r="1.0"/><circle cx="297.2" cy="276.4" r="1.0"/><circle cx="295.9" cy="306.4" r="1.0"/><circle cx="295.8" cy="305.5" r="1.0"/><circle cx="300.7" cy="304.2" r="1.0"/><circle cx="296.2" cy="305.4" r="1.0"/><circle cx="300.2" cy="309.5" r="1.0"/><circle cx="299.4" cy="299.2" r="1.0"/><circle cx="296.4" cy="290.2" r="1.0"/><circle cx="298.5" cy="287.7" r="1.0"/><circle cx="298.5" cy="275.9" r="1.0"/><circle cx="297.9" cy="284.8" r="1.0"/><circle cx="296.7" cy="281.9" r="1.0"/><circle cx="296.3" cy="308.9" r="1.0"/><circle cx="296.7" cy="302.5" r="1.0"/><circle cx="296.3" cy="289.2" r="1.0"/><circle cx="297.4" cy="297.1" r="1.0"/><circle cx="296.8" cy="293.8" r="1.0"/><circle cx="297.3" cy="291.7" r="1.0"/><circle cx="301.3" cy="307.5" r="1.0"/><circle cx="299.2" cy="295.7" r="1.0"/><circle cx="296.5" cy="296.8" r="1.0"/><circle cx="296.8" cy="303.2" r="1.0"/><circle cx="299.1" cy="288.3" r="1.0"/><circle cx="296.8" cy="275.6" r="1.0"/><circle cx="298.2" cy="288.3" r="1.0"/><circle cx="296.8" cy="276.4" r="1.0"/><circle cx="295.8" cy="280.3" r="1.0"/><circle cx="297.5" cy="287.6" r="1.0"/><circle cx="299.3" cy="281.9" r="1.0"/><circle cx="297.8" cy="281.2" r="1.0"/><circle cx="299.0" cy="304.9" r="1.0"/><circle cx="297.0" cy="280.3" r="1.0"/><circle cx="296.9" cy="291.0" r="1.0"/><circle cx="299.0" cy="294.5" r="1.0"/><circle cx="304.8" cy="258.4" r="1.0"/><circle cx="303.6" cy="249.4" r="1.0"/><circle cx="301.8" cy="244.7" r="1.0"/><circle cx="304.2" cy="268.2" r="1.0"/><circle cx="301.9" cy="249.0" r="1.0"/><circle cx="302.9" cy="251.8" r="1.0"/><circle cx="304.7" cy="250.7" r="1.0"/><circle cx="301.9" cy="255.6" r="1.0"/><circle cx="305.2" cy="265.1" r="1.0"/><circle cx="301.1" cy="247.3" r="1.0"/><circle cx="300.8" cy="263.7" r="1.0"/><circle cx="304.1" cy="248.2" r="1.0"/><circle cx="302.1" cy="269.4" r="1.0"/><circle cx="300.8" cy="265.7" r="1.0"/><circle cx="305.1" cy="263.3" r="1.0"/><circle cx="302.3" cy="265.9" r="1.0"/><circle cx="305.6" cy="260.3" r="1.0"/><circle cx="303.9" cy="261.6" r="1.0"/><circle cx="305.6" cy="273.2" r="1.0"/><circle cx="304.2" cy="258.1" r="1.0"/><circle cx="301.2" cy="258.1" r="1.0"/><circle cx="302.8" cy="264.1" r="1.0"/><circle cx="303.2" cy="250.5" r="1.0"/><circle cx="301.6" cy="266.2" r="1.0"/><circle cx="303.6" cy="266.9" r="1.0"/><circle cx="301.6" cy="256.8" r="1.0"/><circle cx="301.1" cy="248.4" r="1.0"/><circle cx="302.4" cy="251.5" r="1.0"/><circle cx="305.7" cy="246.3" r="1.0"/><circle cx="303.3" cy="245.9" r="1.0"/><circle cx="305.4" cy="246.2" r="1.0"/><circle cx="305.2" cy="252.8" r="1.0"/><circle cx="302.5" cy="246.0" r="1.0"/><circle cx="303.9" cy="245.2" r="1.0"/><circle cx="304.2" cy="259.5" r="1.0"/><circle cx="302.0" cy="263.1" r="1.0"/><circle cx="304.4" cy="245.0" r="1.0"/><circle cx="305.5" cy="270.1" r="1.0"/><circle cx="304.9" cy="271.6" r="1.0"/><circle cx="302.4" cy="247.0" r="1.0"/><circle cx="299.5" cy="254.7" r="1.0"/><circle cx="301.3" cy="241.7" r="1.0"/><circle cx="301.8" cy="252.9" r="1.0"/><circle cx="299.7" cy="250.4" r="1.0"/><circle cx="302.6" cy="246.8" r="1.0"/><circle cx="302.0" cy="249.1" r="1.0"/><circle cx="302.0" cy="253.6" r="1.0"/><circle cx="297.5" cy="243.0" r="1.0"/><circle cx="300.6" cy="245.6" r="1.0"/><circle cx="298.6" cy="240.0" r="1.0"/><circle cx="299.6" cy="256.0" r="1.0"/><circle cx="299.4" cy="243.4" r="1.0"/></g>
<g fill="#dc3a12"><circle cx="298.7" cy="263.7" r="1.05"/><circle cx="296.4" cy="271.6" r="1.05"/><circle cx="299.7" cy="268.4" r="1.05"/><circle cx="300.8" cy="272.2" r="1.05"/><circle cx="296.6" cy="256.6" r="1.05"/><circle cx="301.2" cy="262.8" r="1.05"/><circle cx="300.2" cy="271.3" r="1.05"/><circle cx="297.2" cy="266.9" r="1.05"/><circle cx="300.7" cy="266.5" r="1.05"/><circle cx="299.5" cy="272.8" r="1.05"/><circle cx="302.5" cy="270.5" r="1.05"/><circle cx="298.8" cy="259.2" r="1.05"/><circle cx="302.4" cy="268.3" r="1.05"/><circle cx="299.2" cy="258.4" r="1.05"/><circle cx="299.4" cy="272.3" r="1.05"/><circle cx="297.6" cy="268.9" r="1.05"/><circle cx="296.2" cy="273.0" r="1.05"/><circle cx="302.1" cy="258.5" r="1.05"/><circle cx="301.7" cy="269.5" r="1.05"/><circle cx="298.5" cy="256.0" r="1.05"/><circle cx="296.5" cy="267.1" r="1.05"/><circle cx="298.6" cy="260.6" r="1.05"/><circle cx="300.7" cy="254.6" r="1.05"/><circle cx="302.6" cy="263.6" r="1.05"/><circle cx="302.3" cy="263.8" r="1.05"/><circle cx="297.6" cy="265.6" r="1.05"/><circle cx="298.0" cy="256.7" r="1.05"/><circle cx="301.5" cy="272.5" r="1.05"/><circle cx="300.5" cy="262.8" r="1.05"/><circle cx="301.3" cy="271.9" r="1.05"/><circle cx="300.0" cy="272.4" r="1.05"/><circle cx="299.0" cy="268.4" r="1.05"/><circle cx="298.5" cy="267.6" r="1.05"/><circle cx="299.6" cy="272.4" r="1.05"/><circle cx="299.7" cy="272.8" r="1.05"/><circle cx="300.8" cy="273.2" r="1.05"/><circle cx="299.4" cy="273.5" r="1.05"/><circle cx="301.4" cy="255.9" r="1.05"/><circle cx="301.1" cy="266.7" r="1.05"/><circle cx="299.3" cy="260.3" r="1.05"/><circle cx="296.7" cy="268.6" r="1.05"/><circle cx="299.4" cy="271.6" r="1.05"/><circle cx="299.2" cy="268.6" r="1.05"/><circle cx="297.1" cy="264.0" r="1.05"/><circle cx="299.1" cy="272.2" r="1.05"/><circle cx="299.7" cy="270.8" r="1.05"/><circle cx="300.0" cy="269.2" r="1.05"/><circle cx="300.9" cy="263.8" r="1.05"/><circle cx="296.2" cy="268.9" r="1.05"/><circle cx="301.2" cy="268.9" r="1.05"/><circle cx="301.3" cy="257.8" r="1.05"/><circle cx="302.3" cy="260.4" r="1.05"/><circle cx="299.0" cy="266.2" r="1.05"/><circle cx="296.8" cy="269.6" r="1.05"/><circle cx="297.9" cy="259.3" r="1.05"/><circle cx="301.4" cy="263.1" r="1.05"/><circle cx="301.2" cy="267.2" r="1.05"/><circle cx="300.4" cy="268.5" r="1.05"/><circle cx="296.3" cy="265.3" r="1.05"/><circle cx="302.0" cy="265.8" r="1.05"/><circle cx="302.2" cy="268.0" r="1.05"/><circle cx="297.9" cy="271.8" r="1.05"/><circle cx="299.0" cy="269.4" r="1.05"/><circle cx="296.9" cy="269.3" r="1.05"/><circle cx="302.5" cy="259.7" r="1.05"/><circle cx="299.0" cy="270.6" r="1.05"/><circle cx="299.5" cy="269.0" r="1.05"/><circle cx="300.3" cy="269.9" r="1.05"/><circle cx="300.3" cy="260.0" r="1.05"/><circle cx="298.0" cy="270.8" r="1.05"/><circle cx="299.9" cy="264.3" r="1.05"/><circle cx="302.0" cy="259.0" r="1.05"/><circle cx="299.2" cy="265.9" r="1.05"/><circle cx="301.4" cy="264.2" r="1.05"/><circle cx="297.0" cy="268.1" r="1.05"/><circle cx="297.0" cy="262.2" r="1.05"/><circle cx="301.3" cy="263.0" r="1.05"/><circle cx="296.6" cy="267.6" r="1.05"/><circle cx="296.3" cy="261.9" r="1.05"/><circle cx="301.2" cy="271.1" r="1.05"/></g>
<g fill="#ee8a1c"><circle cx="302.7" cy="241.1" r="1.05"/><circle cx="298.2" cy="260.4" r="1.05"/><circle cx="298.7" cy="254.3" r="1.05"/><circle cx="304.5" cy="256.9" r="1.05"/><circle cx="300.6" cy="249.4" r="1.05"/><circle cx="300.2" cy="243.4" r="1.05"/><circle cx="303.3" cy="251.4" r="1.05"/><circle cx="303.1" cy="250.5" r="1.05"/><circle cx="298.9" cy="245.7" r="1.05"/><circle cx="297.9" cy="255.8" r="1.05"/><circle cx="301.0" cy="248.5" r="1.05"/><circle cx="304.8" cy="248.0" r="1.05"/><circle cx="299.8" cy="244.9" r="1.05"/><circle cx="299.2" cy="245.5" r="1.05"/><circle cx="301.1" cy="249.2" r="1.05"/><circle cx="300.8" cy="258.4" r="1.05"/><circle cx="299.8" cy="253.4" r="1.05"/><circle cx="301.1" cy="260.8" r="1.05"/></g>
<g fill="#23288a"><circle cx="289.6" cy="260.9" r="1.05"/><circle cx="291.9" cy="267.3" r="1.05"/><circle cx="289.2" cy="270.6" r="1.05"/><circle cx="291.4" cy="272.3" r="1.05"/><circle cx="292.4" cy="252.9" r="1.05"/><circle cx="291.5" cy="257.6" r="1.05"/><circle cx="288.7" cy="270.3" r="1.05"/><circle cx="292.1" cy="252.5" r="1.05"/><circle cx="290.2" cy="272.0" r="1.05"/><circle cx="288.5" cy="272.8" r="1.05"/><circle cx="291.4" cy="268.1" r="1.05"/><circle cx="290.5" cy="273.0" r="1.05"/><circle cx="292.2" cy="261.9" r="1.05"/><circle cx="291.1" cy="257.7" r="1.05"/><circle cx="290.2" cy="253.8" r="1.05"/><circle cx="291.5" cy="252.1" r="1.05"/><circle cx="290.1" cy="267.6" r="1.05"/><circle cx="290.9" cy="266.1" r="1.05"/><circle cx="292.0" cy="269.8" r="1.05"/><circle cx="289.9" cy="272.4" r="1.05"/><circle cx="290.4" cy="250.6" r="1.05"/><circle cx="291.8" cy="269.4" r="1.05"/><circle cx="292.1" cy="272.7" r="1.05"/><circle cx="291.7" cy="253.8" r="1.05"/><circle cx="291.9" cy="267.1" r="1.05"/><circle cx="292.0" cy="257.7" r="1.05"/><circle cx="292.6" cy="249.2" r="1.05"/><circle cx="291.7" cy="250.1" r="1.05"/><circle cx="290.8" cy="265.2" r="1.05"/><circle cx="288.9" cy="270.0" r="1.05"/><circle cx="290.7" cy="263.1" r="1.05"/><circle cx="291.0" cy="252.0" r="1.05"/><circle cx="292.3" cy="253.2" r="1.05"/><circle cx="291.8" cy="268.7" r="1.05"/><circle cx="291.7" cy="263.3" r="1.05"/><circle cx="292.1" cy="251.2" r="1.05"/><circle cx="291.1" cy="266.6" r="1.05"/><circle cx="289.8" cy="268.3" r="1.05"/><circle cx="289.8" cy="263.8" r="1.05"/><circle cx="289.4" cy="267.5" r="1.05"/><circle cx="291.6" cy="253.3" r="1.05"/><circle cx="290.6" cy="249.8" r="1.05"/><circle cx="290.3" cy="270.3" r="1.05"/><circle cx="292.0" cy="252.1" r="1.05"/><circle cx="291.9" cy="252.2" r="1.05"/><circle cx="291.6" cy="253.8" r="1.05"/><circle cx="290.7" cy="249.5" r="1.05"/><circle cx="292.6" cy="266.8" r="1.05"/><circle cx="290.8" cy="260.2" r="1.05"/><circle cx="289.0" cy="268.8" r="1.05"/><circle cx="290.7" cy="265.8" r="1.05"/><circle cx="289.6" cy="270.3" r="1.05"/><circle cx="292.1" cy="262.7" r="1.05"/><circle cx="292.0" cy="249.7" r="1.05"/><circle cx="289.5" cy="271.9" r="1.05"/><circle cx="289.6" cy="265.8" r="1.05"/><circle cx="290.6" cy="265.6" r="1.05"/><circle cx="290.1" cy="257.1" r="1.05"/><circle cx="292.1" cy="271.4" r="1.05"/><circle cx="292.1" cy="264.2" r="1.05"/><circle cx="274.1" cy="231.1" r="1.05"/><circle cx="286.5" cy="240.0" r="1.05"/><circle cx="289.5" cy="237.4" r="1.05"/><circle cx="280.7" cy="252.5" r="1.05"/><circle cx="272.6" cy="268.2" r="1.05"/><circle cx="284.4" cy="272.1" r="1.05"/><circle cx="297.8" cy="244.8" r="1.05"/></g>
<line x1="255.90" y1="226.30" x2="255.90" y2="313.20" stroke="#231f20" stroke-width="1.3"/>
<line x1="253.10" y1="235.00" x2="255.90" y2="235.00" stroke="#231f20" stroke-width="1.1"/>
<text x="250.60" y="237.75" font-size="7.8" text-anchor="end" fill="#333" stroke="#333" stroke-width="0.22">6</text>
<line x1="253.10" y1="259.80" x2="255.90" y2="259.80" stroke="#231f20" stroke-width="1.1"/>
<text x="250.60" y="262.55" font-size="7.8" text-anchor="end" fill="#333" stroke="#333" stroke-width="0.22">4</text>
<line x1="253.10" y1="284.60" x2="255.90" y2="284.60" stroke="#231f20" stroke-width="1.1"/>
<text x="250.60" y="287.35" font-size="7.8" text-anchor="end" fill="#333" stroke="#333" stroke-width="0.22">2</text>
<line x1="253.10" y1="309.40" x2="255.90" y2="309.40" stroke="#231f20" stroke-width="1.1"/>
<text x="250.60" y="312.15" font-size="7.8" text-anchor="end" fill="#333" stroke="#333" stroke-width="0.22">0</text>
<line x1="255.30" y1="312.90" x2="332.40" y2="312.90" stroke="#231f20" stroke-width="1.3"/>
<line x1="274.20" y1="312.90" x2="274.20" y2="315.90" stroke="#231f20" stroke-width="1.1"/>
<text x="274.20" y="325.80" font-size="7.8" text-anchor="middle" fill="#333" stroke="#333" stroke-width="0.22">−2</text>
<line x1="294.10" y1="312.90" x2="294.10" y2="315.90" stroke="#231f20" stroke-width="1.1"/>
<text x="294.10" y="325.80" font-size="7.8" text-anchor="middle" fill="#333" stroke="#333" stroke-width="0.22">0</text>
<line x1="314.10" y1="312.90" x2="314.10" y2="315.90" stroke="#231f20" stroke-width="1.1"/>
<text x="314.10" y="325.80" font-size="7.8" text-anchor="middle" fill="#333" stroke="#333" stroke-width="0.22">2</text>
<text transform="translate(237.90 269.90) rotate(-90)" x="0" y="0" font-size="8.4" text-anchor="middle" fill="#333" stroke="#333" stroke-width="0.22" textLength="52.90" lengthAdjust="spacingAndGlyphs">-Log<tspan font-size="6.05" dy="2.9">10</tspan><tspan dy="-2.9"> (</tspan><tspan font-style="italic">P</tspan>-value)</text>
<text x="265.60" y="338.10" font-size="8.4" fill="#333" stroke="#333" stroke-width="0.22" textLength="55.90" lengthAdjust="spacingAndGlyphs">Log<tspan font-size="6.05" dy="2.9">2</tspan><tspan dy="-2.9"> fold-change</tspan></text>
<line x1="380.60" y1="217.00" x2="380.60" y2="313.80" stroke="#231f20" stroke-width="1.1"/>
<line x1="378.20" y1="313.50" x2="380.60" y2="313.50" stroke="#231f20" stroke-width="1"/>
<text x="375.40" y="316.40" font-size="8.2" text-anchor="end" fill="#333" stroke="#333" stroke-width="0.22">0</text>
<line x1="378.20" y1="290.17" x2="380.60" y2="290.17" stroke="#231f20" stroke-width="1"/>
<text x="375.40" y="293.07" font-size="8.2" text-anchor="end" fill="#333" stroke="#333" stroke-width="0.22">1</text>
<line x1="378.20" y1="266.84" x2="380.60" y2="266.84" stroke="#231f20" stroke-width="1"/>
<text x="375.40" y="269.74" font-size="8.2" text-anchor="end" fill="#333" stroke="#333" stroke-width="0.22">2</text>
<line x1="378.20" y1="243.51" x2="380.60" y2="243.51" stroke="#231f20" stroke-width="1"/>
<text x="375.40" y="246.41" font-size="8.2" text-anchor="end" fill="#333" stroke="#333" stroke-width="0.22">3</text>
<line x1="378.20" y1="220.18" x2="380.60" y2="220.18" stroke="#231f20" stroke-width="1"/>
<text x="375.40" y="223.08" font-size="8.2" text-anchor="end" fill="#333" stroke="#333" stroke-width="0.22">4</text>
<line x1="380.10" y1="313.60" x2="434.00" y2="313.60" stroke="#231f20" stroke-width="1.2"/>
<line x1="407.90" y1="313.60" x2="407.90" y2="316.20" stroke="#231f20" stroke-width="1"/>
<text x="407.90" y="327.30" font-size="8.4" text-anchor="middle" fill="#333" stroke="#333" stroke-width="0.22">p21</text>
<text transform="translate(363.8 265.4) rotate(-90)" font-size="8.6" text-anchor="middle" fill="#333" stroke="#333" stroke-width="0.2" textLength="76.2" lengthAdjust="spacingAndGlyphs">Expression value (log<tspan font-size="6.2" dy="2.8">2</tspan><tspan dy="-2.8">)</tspan></text>
<rect x="385.50" y="274.81" width="8.80" height="38.69" fill="#5570ae" stroke="#3c5693" stroke-width="1"/>
<rect x="397.40" y="252.41" width="8.70" height="61.09" fill="#b3bad8" stroke="#4f66a8" stroke-width="1"/>
<line x1="401.75" y1="251.91" x2="401.75" y2="246.54" stroke="#4f66a8" stroke-width="1"/>
<line x1="399.25" y1="246.54" x2="404.25" y2="246.54" stroke="#4f66a8" stroke-width="1"/>
<rect x="409.80" y="285.77" width="7.70" height="27.73" fill="#e2605f" stroke="#bf2b3b" stroke-width="1"/>
<line x1="413.65" y1="285.27" x2="413.65" y2="275.01" stroke="#bf2b3b" stroke-width="1"/>
<line x1="411.15" y1="275.01" x2="416.15" y2="275.01" stroke="#bf2b3b" stroke-width="1"/>
<line x1="413.65" y1="285.27" x2="413.65" y2="295.30" stroke="#bf2b3b" stroke-width="1"/>
<line x1="411.15" y1="295.30" x2="416.15" y2="295.30" stroke="#bf2b3b" stroke-width="1"/>
<rect x="421.80" y="259.17" width="7.90" height="54.33" fill="#f6c1c0" stroke="#d33b46" stroke-width="1"/>
<line x1="425.75" y1="258.67" x2="425.75" y2="254.71" stroke="#d33b46" stroke-width="1"/>
<line x1="423.25" y1="254.71" x2="428.25" y2="254.71" stroke="#d33b46" stroke-width="1"/>
<circle cx="389.90" cy="267.60" r="2.0" fill="#3d5a9c" stroke="#2d4688" stroke-width="0.9"/>
<circle cx="387.60" cy="275.20" r="2.0" fill="#3d5a9c" stroke="#2d4688" stroke-width="0.9"/>
<circle cx="392.20" cy="275.20" r="2.0" fill="#3d5a9c" stroke="#2d4688" stroke-width="0.9"/>
<circle cx="389.90" cy="277.60" r="2.0" fill="#3d5a9c" stroke="#2d4688" stroke-width="0.9"/>
<circle cx="388.20" cy="278.40" r="2.0" fill="#3d5a9c" stroke="#2d4688" stroke-width="0.9"/>
<circle cx="391.60" cy="278.00" r="2.0" fill="#3d5a9c" stroke="#2d4688" stroke-width="0.9"/>
<circle cx="401.70" cy="240.20" r="2.0" fill="#ffffff" stroke="#4a62a6" stroke-width="0.9"/>
<circle cx="399.40" cy="253.00" r="2.0" fill="#ffffff" stroke="#4a62a6" stroke-width="0.9"/>
<circle cx="404.00" cy="253.00" r="2.0" fill="#ffffff" stroke="#4a62a6" stroke-width="0.9"/>
<circle cx="401.70" cy="255.60" r="2.0" fill="#ffffff" stroke="#4a62a6" stroke-width="0.9"/>
<circle cx="399.80" cy="255.80" r="2.0" fill="#ffffff" stroke="#4a62a6" stroke-width="0.9"/>
<circle cx="403.60" cy="255.80" r="2.0" fill="#ffffff" stroke="#4a62a6" stroke-width="0.9"/>
<rect x="411.80" y="266.60" width="3.6" height="3.6" fill="#d8394a" stroke="#b8283a" stroke-width="0.9"/>
<rect x="411.80" y="277.50" width="3.6" height="3.6" fill="#d8394a" stroke="#b8283a" stroke-width="0.9"/>
<rect x="411.80" y="306.30" width="3.6" height="3.6" fill="#d8394a" stroke="#b8283a" stroke-width="0.9"/>
<rect x="423.90" y="246.20" width="3.6" height="3.6" fill="#ffffff" stroke="#d33b46" stroke-width="0.9"/>
<rect x="421.80" y="259.50" width="3.6" height="3.6" fill="#ffffff" stroke="#d33b46" stroke-width="0.9"/>
<rect x="426.00" y="259.50" width="3.6" height="3.6" fill="#ffffff" stroke="#d33b46" stroke-width="0.9"/>
<rect x="423.90" y="261.60" width="3.6" height="3.6" fill="#ffffff" stroke="#d33b46" stroke-width="0.9"/>
<polyline points="389.5,263.5 389.5,232.5 401.6,232.5 401.6,236.0" fill="none" stroke="#231f20" stroke-width="0.8"/>
<polyline points="413.3,265.0 413.3,235.4 425.6,235.4 425.6,239.6" fill="none" stroke="#231f20" stroke-width="0.8"/>
<text x="395.60" y="230.80" font-size="8" text-anchor="middle" font-weight="bold">**</text>
<text x="419.50" y="234.60" font-size="8" text-anchor="middle" font-weight="bold">**</text>
<circle cx="440.70" cy="191.20" r="2.2" fill="#3d5a9c" stroke="#2d4688" stroke-width="0.9"/>
<circle cx="440.70" cy="202.00" r="2.2" fill="#ffffff" stroke="#4a62a6" stroke-width="0.9"/>
<rect x="438.60" y="210.80" width="4.2" height="4.2" fill="#d8394a" stroke="#b8283a" stroke-width="0.9"/>
<rect x="438.60" y="222.00" width="4.2" height="4.2" fill="#ffffff" stroke="#d33b46" stroke-width="0.9"/>
<text x="447.00" y="193.60" font-size="7.0" fill="#333" textLength="50.10" lengthAdjust="spacingAndGlyphs">WT Vehicle BM</text>
<text x="447.00" y="204.40" font-size="7.0" fill="#333" textLength="47.40" lengthAdjust="spacingAndGlyphs">WT G-CSF Spl</text>
<text x="447.0" y="215.3" font-size="7" fill="#333" textLength="64.7" lengthAdjust="spacingAndGlyphs">Cd53<tspan font-size="4.4" dy="-2.8">−/−</tspan><tspan dy="2.8"> Vehicle BM</tspan></text>
<text x="447.0" y="226.5" font-size="7" fill="#333" textLength="61.7" lengthAdjust="spacingAndGlyphs">Cd53<tspan font-size="4.4" dy="-2.8">−/−</tspan><tspan dy="2.8"> G-CSF Spl</tspan></text>
<defs><clipPath id="gclip"><rect x="171.2" y="330" width="341.8" height="277.6"/></clipPath></defs>
<g clip-path="url(#gclip)">
<path d="M170.24,459.12 L174.17,455.41 L178.09,451.83 L182.01,448.36 L185.93,445.01 L189.84,441.77 L193.75,438.65 L197.66,435.63 L201.56,432.72 L205.46,429.91 L209.35,427.20 L213.25,424.60 L217.14,422.08 L221.02,419.67 L224.90,417.34 L228.79,415.11 L232.66,412.97 L236.54,410.91 L240.41,408.94 L244.29,407.06 L248.16,405.26 L252.02,403.54 L255.89,401.89 L259.75,400.33 L263.62,398.85 L267.48,397.44 L271.34,396.10 L275.20,394.84 L279.06,393.66 L282.92,392.54 L286.77,391.50 L290.63,390.53 L294.48,389.63 L298.34,388.79 L302.19,388.03 L306.04,387.34 L309.89,386.71 L313.75,386.15 L317.60,385.66 L321.44,385.23 L325.29,384.87 L329.14,384.58 L332.99,384.35 L336.83,384.19 L340.68,384.10 L344.52,384.08 L348.36,384.12 L352.21,384.23 L356.05,384.40 L359.89,384.65 L363.73,384.96 L367.57,385.34 L371.40,385.79 L375.24,386.31 L379.08,386.90 L382.92,387.56 L386.75,388.29 L390.59,389.10 L394.42,389.98 L398.26,390.93 L402.10,391.96 L405.93,393.07 L409.77,394.26 L413.61,395.52 L417.44,396.87 L421.28,398.30 L425.12,399.81 L428.96,401.40 L432.81,403.09 L436.65,404.86 L440.50,406.73 L444.35,408.68 L448.20,410.73 L452.06,412.88 L455.91,415.13 L459.78,417.48 L463.64,419.93 L467.51,422.49 L471.38,425.15 L475.26,427.93 L479.14,430.82 L483.03,433.82 L486.92,436.95 L490.82,440.19 L494.72,443.57 L498.62,447.06 L502.53,450.69 L506.45,454.46 L510.37,458.36 L514.30,462.40 L540,607.6 L150,607.6 Z" fill="#f6f9fc"/>
<path d="M160.00,448.43 L164.10,444.56 L168.20,440.82 L172.30,437.19 L176.40,433.69 L180.51,430.29 L184.61,427.01 L188.71,423.84 L192.81,420.78 L196.91,417.83 L201.01,414.98 L205.11,412.23 L209.21,409.58 L213.31,407.03 L217.42,404.58 L221.52,402.22 L225.62,399.95 L229.72,397.78 L233.82,395.69 L237.92,393.70 L242.02,391.79 L246.12,389.96 L250.22,388.22 L254.33,386.56 L258.43,384.99 L262.53,383.49 L266.63,382.07 L270.73,380.74 L274.83,379.47 L278.93,378.29 L283.03,377.18 L287.13,376.15 L291.24,375.19 L295.34,374.30 L299.44,373.49 L303.54,372.75 L307.64,372.08 L311.74,371.48 L315.84,370.96 L319.94,370.51 L324.04,370.12 L328.15,369.81 L332.25,369.57 L336.35,369.40 L340.45,369.30 L344.55,369.28 L348.65,369.32 L352.75,369.44 L356.85,369.62 L360.96,369.89 L365.06,370.22 L369.16,370.62 L373.26,371.11 L377.36,371.66 L381.46,372.29 L385.56,373.00 L389.66,373.78 L393.76,374.64 L397.87,375.58 L401.97,376.60 L406.07,377.71 L410.17,378.89 L414.27,380.16 L418.37,381.51 L422.47,382.95 L426.57,384.47 L430.67,386.09 L434.78,387.79 L438.88,389.59 L442.98,391.48 L447.08,393.47 L451.18,395.55 L455.28,397.74 L459.38,400.02 L463.48,402.41 L467.58,404.90 L471.69,407.50 L475.79,410.22 L479.89,413.04 L483.99,415.97 L488.09,419.03 L492.19,422.20 L496.29,425.49 L500.39,428.91 L504.49,432.45 L508.60,436.13 L512.70,439.93 L516.80,443.88 L520.90,447.95 L525.00,452.17 L521.96,455.08 L517.91,450.91 L513.86,446.88 L509.81,442.99 L505.77,439.23 L501.72,435.61 L497.68,432.11 L493.63,428.74 L489.59,425.50 L485.55,422.37 L481.51,419.37 L477.47,416.47 L473.44,413.70 L469.40,411.03 L465.37,408.47 L461.34,406.02 L457.30,403.67 L453.27,401.43 L449.24,399.28 L445.21,397.23 L441.18,395.28 L437.15,393.42 L433.13,391.66 L429.10,389.98 L425.07,388.40 L421.04,386.90 L417.02,385.49 L412.99,384.16 L408.97,382.91 L404.94,381.75 L400.91,380.67 L396.89,379.67 L392.86,378.75 L388.84,377.90 L384.81,377.13 L380.78,376.44 L376.76,375.82 L372.73,375.27 L368.71,374.80 L364.68,374.40 L360.65,374.07 L356.62,373.82 L352.60,373.63 L348.57,373.52 L344.54,373.48 L340.51,373.50 L336.49,373.60 L332.46,373.77 L328.43,374.00 L324.40,374.31 L320.37,374.68 L316.34,375.13 L312.31,375.65 L308.28,376.23 L304.25,376.89 L300.22,377.62 L296.19,378.41 L292.16,379.29 L288.13,380.23 L284.10,381.24 L280.06,382.33 L276.03,383.50 L272.00,384.74 L267.97,386.06 L263.93,387.45 L259.90,388.92 L255.87,390.47 L251.83,392.10 L247.80,393.81 L243.76,395.61 L239.73,397.49 L235.69,399.45 L231.65,401.51 L227.62,403.65 L223.58,405.88 L219.54,408.20 L215.50,410.62 L211.46,413.13 L207.42,415.74 L203.38,418.45 L199.34,421.26 L195.29,424.17 L191.25,427.19 L187.20,430.32 L183.16,433.55 L179.11,436.90 L175.06,440.36 L171.01,443.94 L166.96,447.64 L162.91,451.46 Z" fill="#aab6c0"/>
<path d="M162.91,451.46 L166.96,447.64 L171.01,443.94 L175.06,440.36 L179.11,436.90 L183.16,433.55 L187.20,430.32 L191.25,427.19 L195.29,424.17 L199.34,421.26 L203.38,418.45 L207.42,415.74 L211.46,413.13 L215.50,410.62 L219.54,408.20 L223.58,405.88 L227.62,403.65 L231.65,401.51 L235.69,399.45 L239.73,397.49 L243.76,395.61 L247.80,393.81 L251.83,392.10 L255.87,390.47 L259.90,388.92 L263.93,387.45 L267.97,386.06 L272.00,384.74 L276.03,383.50 L280.06,382.33 L284.10,381.24 L288.13,380.23 L292.16,379.29 L296.19,378.41 L300.22,377.62 L304.25,376.89 L308.28,376.23 L312.31,375.65 L316.34,375.13 L320.37,374.68 L324.40,374.31 L328.43,374.00 L332.46,373.77 L336.49,373.60 L340.51,373.50 L344.54,373.48 L348.57,373.52 L352.60,373.63 L356.62,373.82 L360.65,374.07 L364.68,374.40 L368.71,374.80 L372.73,375.27 L376.76,375.82 L380.78,376.44 L384.81,377.13 L388.84,377.90 L392.86,378.75 L396.89,379.67 L400.91,380.67 L404.94,381.75 L408.97,382.91 L412.99,384.16 L417.02,385.49 L421.04,386.90 L425.07,388.40 L429.10,389.98 L433.13,391.66 L437.15,393.42 L441.18,395.28 L445.21,397.23 L449.24,399.28 L453.27,401.43 L457.30,403.67 L461.34,406.02 L465.37,408.47 L469.40,411.03 L473.44,413.70 L477.47,416.47 L481.51,419.37 L485.55,422.37 L489.59,425.50 L493.63,428.74 L497.68,432.11 L501.72,435.61 L505.77,439.23 L509.81,442.99 L513.86,446.88 L517.91,450.91 L521.96,455.08 L517.34,459.50 L513.36,455.41 L509.39,451.45 L505.42,447.64 L501.45,443.96 L497.49,440.41 L493.53,436.99 L489.58,433.70 L485.63,430.52 L481.68,427.47 L477.74,424.53 L473.80,421.71 L469.86,419.00 L465.92,416.40 L461.99,413.91 L458.06,411.52 L454.14,409.23 L450.21,407.05 L446.29,404.96 L442.37,402.96 L438.45,401.07 L434.53,399.26 L430.61,397.54 L426.70,395.91 L422.78,394.37 L418.87,392.92 L414.96,391.55 L411.05,390.26 L407.13,389.05 L403.22,387.92 L399.31,386.87 L395.40,385.89 L391.49,385.00 L387.58,384.17 L383.67,383.43 L379.76,382.75 L375.84,382.15 L371.93,381.62 L368.02,381.16 L364.10,380.78 L360.19,380.46 L356.28,380.21 L352.36,380.03 L348.44,379.92 L344.53,379.88 L340.61,379.90 L336.69,380.00 L332.78,380.16 L328.86,380.39 L324.94,380.69 L321.02,381.05 L317.10,381.48 L313.18,381.99 L309.26,382.56 L305.33,383.20 L301.41,383.90 L297.49,384.68 L293.56,385.53 L289.64,386.45 L285.71,387.44 L281.79,388.50 L277.86,389.63 L273.93,390.84 L270.00,392.12 L266.08,393.48 L262.15,394.91 L258.21,396.42 L254.28,398.01 L250.35,399.68 L246.41,401.43 L242.48,403.27 L238.54,405.18 L234.60,407.19 L230.66,409.28 L226.72,411.45 L222.78,413.72 L218.83,416.08 L214.89,418.54 L210.94,421.09 L206.99,423.73 L203.03,426.48 L199.08,429.33 L195.12,432.29 L191.16,435.35 L187.19,438.52 L183.23,441.80 L179.26,445.19 L175.29,448.70 L171.31,452.33 L167.33,456.08 Z" fill="#dce9f5"/>
<path d="M167.33,456.08 L171.31,452.33 L175.29,448.70 L179.26,445.19 L183.23,441.80 L187.19,438.52 L191.16,435.35 L195.12,432.29 L199.08,429.33 L203.03,426.48 L206.99,423.73 L210.94,421.09 L214.89,418.54 L218.83,416.08 L222.78,413.72 L226.72,411.45 L230.66,409.28 L234.60,407.19 L238.54,405.18 L242.48,403.27 L246.41,401.43 L250.35,399.68 L254.28,398.01 L258.21,396.42 L262.15,394.91 L266.08,393.48 L270.00,392.12 L273.93,390.84 L277.86,389.63 L281.79,388.50 L285.71,387.44 L289.64,386.45 L293.56,385.53 L297.49,384.68 L301.41,383.90 L305.33,383.20 L309.26,382.56 L313.18,381.99 L317.10,381.48 L321.02,381.05 L324.94,380.69 L328.86,380.39 L332.78,380.16 L336.69,380.00 L340.61,379.90 L344.53,379.88 L348.44,379.92 L352.36,380.03 L356.28,380.21 L360.19,380.46 L364.10,380.78 L368.02,381.16 L371.93,381.62 L375.84,382.15 L379.76,382.75 L383.67,383.43 L387.58,384.17 L391.49,385.00 L395.40,385.89 L399.31,386.87 L403.22,387.92 L407.13,389.05 L411.05,390.26 L414.96,391.55 L418.87,392.92 L422.78,394.37 L426.70,395.91 L430.61,397.54 L434.53,399.26 L438.45,401.07 L442.37,402.96 L446.29,404.96 L450.21,407.05 L454.14,409.23 L458.06,411.52 L461.99,413.91 L465.92,416.40 L469.86,419.00 L473.80,421.71 L477.74,424.53 L481.68,427.47 L485.63,430.52 L489.58,433.70 L493.53,436.99 L497.49,440.41 L501.45,443.96 L505.42,447.64 L509.39,451.45 L513.36,455.41 L517.34,459.50 L514.30,462.40 L510.37,458.36 L506.45,454.46 L502.53,450.69 L498.62,447.06 L494.72,443.57 L490.82,440.19 L486.92,436.95 L483.03,433.82 L479.14,430.82 L475.26,427.93 L471.38,425.15 L467.51,422.49 L463.64,419.93 L459.78,417.48 L455.91,415.13 L452.06,412.88 L448.20,410.73 L444.35,408.68 L440.50,406.73 L436.65,404.86 L432.81,403.09 L428.96,401.40 L425.12,399.81 L421.28,398.30 L417.44,396.87 L413.61,395.52 L409.77,394.26 L405.93,393.07 L402.10,391.96 L398.26,390.93 L394.42,389.98 L390.59,389.10 L386.75,388.29 L382.92,387.56 L379.08,386.90 L375.24,386.31 L371.40,385.79 L367.57,385.34 L363.73,384.96 L359.89,384.65 L356.05,384.40 L352.21,384.23 L348.36,384.12 L344.52,384.08 L340.68,384.10 L336.83,384.19 L332.99,384.35 L329.14,384.58 L325.29,384.87 L321.44,385.23 L317.60,385.66 L313.75,386.15 L309.89,386.71 L306.04,387.34 L302.19,388.03 L298.34,388.79 L294.48,389.63 L290.63,390.53 L286.77,391.50 L282.92,392.54 L279.06,393.66 L275.20,394.84 L271.34,396.10 L267.48,397.44 L263.62,398.85 L259.75,400.33 L255.89,401.89 L252.02,403.54 L248.16,405.26 L244.29,407.06 L240.41,408.94 L236.54,410.91 L232.66,412.97 L228.79,415.11 L224.90,417.34 L221.02,419.67 L217.14,422.08 L213.25,424.60 L209.35,427.20 L205.46,429.91 L201.56,432.72 L197.66,435.63 L193.75,438.65 L189.84,441.77 L185.93,445.01 L182.01,448.36 L178.09,451.83 L174.17,455.41 L170.24,459.12 Z" fill="#aab6c0"/>
<ellipse cx="342.2" cy="588.0" rx="163.7" ry="76.3" fill="#e8ecef"/>
<path d="M188.15,611.41 L187.61,610.64 L187.09,609.87 L186.58,609.09 L186.09,608.31 L185.63,607.53 L185.18,606.74 L184.74,605.96 L184.33,605.17 L183.94,604.38 L183.56,603.59 L183.20,602.79 L182.86,602.00 L182.55,601.20 L182.24,600.40 L181.96,599.60 L181.70,598.80 L181.45,597.99 L181.23,597.19 L181.02,596.38 L180.83,595.58 L180.67,594.77 L180.52,593.96 L180.39,593.15 L180.27,592.34 L180.18,591.53 L180.11,590.72 L180.05,589.91 L180.02,589.10 L180.00,588.29" fill="none" stroke="#b3bdc7" stroke-width="4.2" stroke-linecap="butt"/>
<path d="M182.28,575.50 L182.73,574.35 L183.21,573.20 L183.73,572.05 L184.29,570.91 L184.89,569.77 L185.53,568.64 L186.20,567.51 L186.92,566.39 L187.67,565.27 L188.46,564.16 L189.29,563.05 L190.15,561.95 L191.06,560.86 L192.00,559.77 L192.97,558.69 L193.98,557.62 L195.03,556.55 L196.12,555.49 L197.24,554.44 L198.40,553.40 L199.59,552.37 L200.81,551.34 L202.08,550.33 L203.37,549.32 L204.70,548.32 L206.06,547.34 L207.46,546.36 L208.89,545.39 L210.35,544.43" fill="none" stroke="#b3bdc7" stroke-width="4.2" stroke-linecap="butt"/>
<path d="M227.86,534.95 L229.70,534.12 L231.56,533.30 L233.46,532.50 L235.38,531.71 L237.33,530.94 L239.31,530.18 L241.31,529.43 L243.33,528.70 L245.39,527.99 L247.46,527.29 L249.56,526.60 L251.68,525.93 L253.83,525.28 L256.00,524.64 L258.19,524.02 L260.40,523.41 L262.63,522.82 L264.88,522.25 L267.15,521.69 L269.44,521.15 L271.75,520.62 L274.08,520.12 L276.42,519.63 L278.78,519.15 L281.15,518.70 L283.55,518.26 L285.95,517.84 L288.37,517.44 L290.80,517.05" fill="none" stroke="#b3bdc7" stroke-width="4.2" stroke-linecap="butt"/>
<path d="M316.36,514.16 L318.97,513.97 L321.57,513.81 L324.19,513.66 L326.81,513.54 L329.43,513.43 L332.05,513.35 L334.68,513.28 L337.31,513.23 L339.94,513.21 L342.58,513.20 L345.21,513.21 L347.84,513.25 L350.47,513.30 L353.10,513.37 L355.72,513.46 L358.34,513.57 L360.96,513.70 L363.57,513.85 L366.18,514.02 L368.78,514.21 L371.37,514.42 L373.96,514.65 L376.54,514.90 L379.10,515.16 L381.66,515.45 L384.21,515.75 L386.75,516.08 L389.27,516.42 L391.79,516.78" fill="none" stroke="#b3bdc7" stroke-width="4.2" stroke-linecap="butt"/>
<path d="M415.99,521.39 L418.25,521.93 L420.49,522.49 L422.72,523.07 L424.92,523.66 L427.10,524.27 L429.26,524.89 L431.40,525.53 L433.52,526.18 L435.61,526.85 L437.69,527.53 L439.73,528.23 L441.76,528.95 L443.76,529.68 L445.73,530.42 L447.68,531.18 L449.60,531.95 L451.50,532.73 L453.37,533.53 L455.21,534.34 L457.03,535.17 L458.81,536.01 L460.57,536.86 L462.30,537.72 L463.99,538.60 L465.66,539.49 L467.30,540.39 L468.91,541.30 L470.48,542.22 L472.02,543.16" fill="none" stroke="#b3bdc7" stroke-width="4.2" stroke-linecap="butt"/>
<path d="M486.91,554.21 L488.01,555.23 L489.07,556.26 L490.10,557.29 L491.09,558.33 L492.06,559.38 L492.98,560.43 L493.87,561.49 L494.73,562.56 L495.55,563.63 L496.34,564.71 L497.09,565.80 L497.80,566.88 L498.48,567.98 L499.12,569.08 L499.73,570.18 L500.30,571.29 L500.83,572.40 L501.33,573.51 L501.79,574.63 L502.21,575.75 L502.60,576.87 L502.94,578.00 L503.26,579.13 L503.53,580.26 L503.77,581.39 L503.97,582.53 L504.13,583.66 L504.25,584.80 L504.34,585.93" fill="none" stroke="#b3bdc7" stroke-width="4.2" stroke-linecap="butt"/>
<path d="M502.57,599.19 L502.42,599.64 L502.27,600.09 L502.10,600.54 L501.94,600.99 L501.76,601.44 L501.58,601.89 L501.39,602.34 L501.20,602.78 L501.00,603.23 L500.80,603.68 L500.59,604.12 L500.37,604.57 L500.15,605.01 L499.92,605.45 L499.69,605.90 L499.45,606.34 L499.20,606.78 L498.95,607.22 L498.70,607.66 L498.43,608.10 L498.16,608.54 L497.89,608.98 L497.61,609.42 L497.32,609.85 L497.03,610.29 L496.73,610.72 L496.43,611.16 L496.12,611.59 L495.81,612.02" fill="none" stroke="#b3bdc7" stroke-width="4.2" stroke-linecap="butt"/>
</g>
<defs><radialGradient id="pg" cx="0.45" cy="0.45" r="0.6"><stop offset="0" stop-color="#f07e3e"/><stop offset="0.7" stop-color="#e05a28"/><stop offset="1" stop-color="#c9441c"/></radialGradient></defs>
<path d="M302.41,397.27 C302.14,397.61 301.92,397.95 301.64,398.27 C301.35,398.58 301.03,398.88 300.68,399.15 C300.33,399.43 299.91,399.77 299.52,399.93 C299.13,400.09 298.67,400.18 298.35,400.10 C298.03,400.01 297.85,399.66 297.60,399.42 C297.35,399.19 296.90,399.05 296.83,398.67 C296.76,398.29 297.10,397.63 297.21,397.14 C297.31,396.65 297.29,396.22 297.45,395.75 C297.61,395.28 297.88,394.78 298.17,394.30 C298.45,393.81 298.76,393.17 299.15,392.83 C299.54,392.49 300.08,392.37 300.51,392.24 C300.93,392.11 301.27,392.14 301.68,392.05 C302.10,391.95 302.63,391.61 302.98,391.66 C303.33,391.72 303.60,392.07 303.76,392.40 C303.91,392.73 303.89,393.23 303.92,393.65 C303.95,394.06 304.07,394.45 303.95,394.87 C303.83,395.30 303.47,395.81 303.21,396.21 C302.96,396.61 302.67,396.92 302.41,397.27Z" fill="#f6f3fb" fill-opacity="1.0" stroke="#9f96cf" stroke-width="1.3" stroke-opacity="1.0"/>
<path d="M315.86,394.60 C315.85,395.05 316.24,395.52 316.19,395.93 C316.14,396.34 315.84,396.78 315.55,397.05 C315.27,397.32 314.81,397.34 314.48,397.52 C314.14,397.70 313.88,398.03 313.54,398.13 C313.21,398.22 312.82,398.14 312.46,398.09 C312.10,398.04 311.71,397.99 311.37,397.82 C311.04,397.65 310.60,397.42 310.43,397.06 C310.26,396.71 310.38,396.12 310.34,395.71 C310.30,395.30 310.31,395.01 310.22,394.60 C310.13,394.19 309.75,393.65 309.82,393.28 C309.89,392.90 310.38,392.66 310.64,392.33 C310.89,392.00 311.02,391.44 311.33,391.30 C311.65,391.16 312.15,391.52 312.52,391.49 C312.89,391.46 313.18,391.14 313.54,391.12 C313.89,391.09 314.37,391.11 314.65,391.33 C314.94,391.55 314.98,392.13 315.25,392.45 C315.51,392.76 316.16,392.88 316.26,393.24 C316.36,393.60 315.87,394.15 315.86,394.60Z" fill="#f6f3fb" fill-opacity="1.0" stroke="#9f96cf" stroke-width="1.3" stroke-opacity="1.0"/>
<path d="M310.36,404.70 C310.26,404.89 310.03,405.09 309.74,405.07 C309.45,405.05 308.93,404.69 308.60,404.57 C308.27,404.45 308.07,404.41 307.76,404.34 C307.45,404.28 307.08,404.33 306.76,404.17 C306.44,404.00 306.10,403.62 305.83,403.33 C305.56,403.04 305.28,402.71 305.12,402.41 C304.97,402.12 305.00,401.85 304.91,401.56 C304.83,401.28 304.62,400.95 304.62,400.70 C304.61,400.45 304.72,400.24 304.86,400.08 C305.00,399.93 305.18,399.77 305.44,399.75 C305.69,399.73 306.07,399.92 306.37,399.97 C306.67,400.02 306.92,399.96 307.22,400.07 C307.52,400.18 307.84,400.42 308.17,400.62 C308.49,400.82 308.85,401.01 309.17,401.27 C309.48,401.53 309.83,401.86 310.06,402.18 C310.28,402.49 310.46,402.87 310.50,403.16 C310.55,403.44 310.37,403.62 310.34,403.88 C310.32,404.13 310.46,404.50 310.36,404.70Z" fill="#f6f3fb" fill-opacity="1.0" stroke="#9f96cf" stroke-width="1.3" stroke-opacity="1.0"/>
<path d="M318.56,405.80 C318.51,406.12 318.72,406.45 318.60,406.73 C318.49,407.01 318.12,407.23 317.86,407.47 C317.60,407.72 317.37,408.01 317.04,408.19 C316.70,408.36 316.24,408.53 315.84,408.53 C315.44,408.52 315.01,408.28 314.64,408.17 C314.27,408.06 314.02,407.94 313.62,407.86 C313.22,407.77 312.50,407.87 312.23,407.67 C311.97,407.47 312.09,406.98 312.03,406.67 C311.96,406.35 311.94,406.12 311.84,405.80 C311.75,405.48 311.27,405.02 311.43,404.77 C311.59,404.52 312.37,404.37 312.81,404.30 C313.25,404.23 313.72,404.28 314.08,404.34 C314.43,404.41 314.71,404.64 314.94,404.69 C315.17,404.74 315.27,404.67 315.47,404.65 C315.67,404.63 315.78,404.63 316.15,404.57 C316.52,404.50 317.23,404.20 317.68,404.24 C318.14,404.28 318.72,404.54 318.87,404.80 C319.01,405.06 318.60,405.48 318.56,405.80Z" fill="#f6f3fb" fill-opacity="1.0" stroke="#9f96cf" stroke-width="1.3" stroke-opacity="1.0"/>
<path d="M305.65,409.80 C305.61,409.99 305.75,410.00 305.94,410.31 C306.12,410.62 306.62,411.15 306.74,411.69 C306.86,412.22 306.90,413.16 306.65,413.54 C306.41,413.91 305.77,413.82 305.30,413.95 C304.83,414.08 304.37,414.27 303.84,414.32 C303.31,414.38 302.62,414.50 302.14,414.28 C301.65,414.07 301.26,413.50 300.92,413.04 C300.59,412.58 300.21,412.05 300.12,411.51 C300.04,410.97 300.38,410.36 300.42,409.80 C300.46,409.24 300.20,408.65 300.35,408.18 C300.51,407.70 300.99,407.29 301.35,406.94 C301.72,406.58 302.11,406.27 302.54,406.05 C302.96,405.82 303.43,405.70 303.90,405.61 C304.36,405.51 304.80,405.53 305.32,405.48 C305.85,405.44 306.80,404.94 307.07,405.31 C307.34,405.68 307.12,407.06 306.97,407.71 C306.82,408.36 306.40,408.85 306.18,409.19 C305.96,409.54 305.69,409.61 305.65,409.80Z" fill="#f6f3fb" fill-opacity="1.0" stroke="#9f96cf" stroke-width="1.3" stroke-opacity="1.0"/>
<path d="M326.05,411.00 C326.13,411.53 326.05,412.16 325.91,412.70 C325.77,413.24 325.50,413.77 325.21,414.24 C324.91,414.71 324.56,415.23 324.13,415.51 C323.70,415.78 323.14,415.80 322.64,415.90 C322.14,416.00 321.55,416.32 321.13,416.10 C320.71,415.89 320.32,415.13 320.11,414.61 C319.90,414.09 319.84,413.48 319.87,412.99 C319.89,412.51 320.12,412.03 320.25,411.70 C320.38,411.37 320.64,411.23 320.65,411.00 C320.65,410.77 320.37,410.61 320.26,410.31 C320.16,410.00 320.10,409.74 320.04,409.18 C319.98,408.62 319.70,407.38 319.90,406.96 C320.10,406.53 320.79,406.76 321.24,406.65 C321.69,406.54 322.16,406.28 322.61,406.32 C323.06,406.35 323.62,406.52 323.95,406.85 C324.29,407.19 324.38,407.89 324.63,408.33 C324.87,408.77 325.19,409.06 325.43,409.50 C325.67,409.95 325.97,410.47 326.05,411.00Z" fill="#f6f3fb" fill-opacity="1.0" stroke="#9f96cf" stroke-width="1.3" stroke-opacity="1.0"/>
<path d="M333.50,411.00 C333.52,411.32 333.48,411.70 333.37,411.99 C333.25,412.28 333.01,412.52 332.81,412.72 C332.61,412.92 332.38,413.09 332.16,413.19 C331.93,413.30 331.69,413.24 331.44,413.33 C331.20,413.42 330.94,413.75 330.70,413.75 C330.45,413.75 330.22,413.46 329.99,413.31 C329.75,413.16 329.43,413.07 329.28,412.84 C329.12,412.60 329.15,412.20 329.06,411.89 C328.97,411.59 328.71,411.29 328.71,411.00 C328.72,410.71 329.00,410.42 329.11,410.13 C329.22,409.84 329.20,409.44 329.37,409.26 C329.55,409.08 329.92,409.08 330.17,409.06 C330.41,409.04 330.63,409.15 330.83,409.16 C331.03,409.17 331.18,409.12 331.38,409.10 C331.58,409.09 331.82,409.02 332.02,409.08 C332.22,409.15 332.39,409.33 332.59,409.50 C332.79,409.66 333.08,409.82 333.23,410.07 C333.38,410.32 333.48,410.68 333.50,411.00Z" fill="#f6f3fb" fill-opacity="0.8" stroke="#9f96cf" stroke-width="1.3" stroke-opacity="0.8"/>
<path d="M314.92,414.57 C314.91,414.81 314.85,415.01 314.84,415.24 C314.83,415.47 315.03,415.73 314.87,415.94 C314.72,416.15 314.20,416.30 313.93,416.51 C313.66,416.72 313.55,417.03 313.26,417.19 C312.98,417.35 312.55,417.44 312.23,417.49 C311.90,417.53 311.61,417.45 311.29,417.46 C310.96,417.48 310.50,417.65 310.26,417.58 C310.02,417.50 310.01,417.19 309.84,417.04 C309.66,416.89 309.27,416.84 309.20,416.66 C309.13,416.47 309.29,416.18 309.42,415.96 C309.54,415.73 309.70,415.50 309.94,415.33 C310.17,415.17 310.55,415.06 310.80,414.95 C311.06,414.85 311.25,414.77 311.46,414.72 C311.66,414.68 311.84,414.75 312.04,414.68 C312.24,414.62 312.36,414.49 312.65,414.34 C312.94,414.19 313.42,413.87 313.80,413.78 C314.18,413.69 314.73,413.67 314.92,413.81 C315.11,413.94 314.94,414.33 314.92,414.57Z" fill="#f6f3fb" fill-opacity="1.0" stroke="#9f96cf" stroke-width="1.3" stroke-opacity="1.0"/>
<path d="M305.75,421.61 C305.72,422.08 305.83,422.78 305.69,423.15 C305.55,423.53 305.12,423.53 304.90,423.85 C304.67,424.18 304.55,424.91 304.35,425.08 C304.14,425.25 303.89,424.90 303.67,424.87 C303.46,424.85 303.28,424.90 303.05,424.92 C302.81,424.93 302.40,425.21 302.27,424.97 C302.14,424.72 302.30,423.87 302.25,423.44 C302.19,423.01 301.95,422.79 301.93,422.38 C301.91,421.97 302.05,421.43 302.14,420.97 C302.24,420.52 302.35,420.06 302.49,419.65 C302.64,419.24 302.82,418.78 303.01,418.50 C303.21,418.22 303.46,418.21 303.69,417.96 C303.92,417.72 304.19,417.04 304.39,417.02 C304.60,416.99 304.74,417.62 304.92,417.83 C305.09,418.03 305.32,418.00 305.45,418.24 C305.57,418.48 305.60,418.92 305.67,419.27 C305.74,419.61 305.88,419.92 305.89,420.31 C305.90,420.70 305.79,421.14 305.75,421.61Z" fill="#f6f3fb" fill-opacity="1.0" stroke="#9f96cf" stroke-width="1.3" stroke-opacity="1.0"/>
<path d="M294.72,421.90 C294.74,422.14 294.65,422.42 294.54,422.64 C294.43,422.86 294.20,422.99 294.07,423.21 C293.93,423.44 293.92,423.91 293.72,424.01 C293.51,424.12 293.11,423.83 292.84,423.84 C292.57,423.86 292.37,424.08 292.11,424.11 C291.85,424.14 291.47,424.18 291.27,424.03 C291.08,423.87 291.11,423.42 290.96,423.19 C290.81,422.97 290.49,422.89 290.37,422.68 C290.24,422.46 290.15,422.14 290.20,421.90 C290.24,421.66 290.52,421.45 290.63,421.22 C290.73,420.99 290.72,420.73 290.83,420.50 C290.95,420.28 291.11,420.00 291.33,419.87 C291.54,419.73 291.85,419.77 292.12,419.72 C292.38,419.67 292.67,419.51 292.91,419.57 C293.15,419.64 293.33,419.96 293.53,420.12 C293.73,420.28 293.96,420.37 294.11,420.55 C294.25,420.73 294.31,420.98 294.41,421.21 C294.51,421.43 294.70,421.66 294.72,421.90Z" fill="#f6f3fb" fill-opacity="0.9" stroke="#9f96cf" stroke-width="1.3" stroke-opacity="0.9"/>
<path d="M316.08,425.40 C316.09,425.61 315.96,425.83 315.87,426.04 C315.78,426.25 315.72,426.50 315.55,426.65 C315.38,426.80 315.06,426.80 314.84,426.93 C314.62,427.06 314.46,427.33 314.22,427.42 C313.97,427.50 313.64,427.47 313.38,427.42 C313.12,427.37 312.83,427.26 312.64,427.11 C312.45,426.96 312.38,426.70 312.22,426.52 C312.06,426.35 311.78,426.24 311.68,426.05 C311.59,425.87 311.63,425.61 311.65,425.40 C311.68,425.19 311.78,425.01 311.82,424.79 C311.86,424.56 311.78,424.25 311.90,424.04 C312.02,423.84 312.29,423.61 312.55,423.55 C312.81,423.50 313.17,423.76 313.45,423.73 C313.73,423.70 313.97,423.37 314.22,423.36 C314.47,423.36 314.74,423.57 314.95,423.71 C315.16,423.85 315.33,424.03 315.47,424.21 C315.61,424.39 315.69,424.58 315.80,424.78 C315.90,424.98 316.07,425.19 316.08,425.40Z" fill="#f6f3fb" fill-opacity="0.5" stroke="#9f96cf" stroke-width="1.3" stroke-opacity="0.5"/>
<path d="M328.71,426.00 C328.68,426.27 328.69,426.51 328.64,426.78 C328.58,427.04 328.56,427.40 328.39,427.59 C328.22,427.78 327.86,427.82 327.61,427.92 C327.36,428.03 327.14,428.16 326.89,428.21 C326.64,428.26 326.34,428.32 326.10,428.25 C325.87,428.18 325.69,427.93 325.46,427.79 C325.24,427.66 324.97,427.61 324.78,427.44 C324.59,427.28 324.44,427.03 324.33,426.79 C324.22,426.55 324.06,426.25 324.10,426.00 C324.15,425.75 324.47,425.54 324.60,425.31 C324.73,425.08 324.72,424.80 324.87,424.63 C325.01,424.45 325.29,424.42 325.49,424.25 C325.69,424.08 325.85,423.72 326.08,423.63 C326.32,423.54 326.67,423.58 326.91,423.69 C327.14,423.80 327.25,424.16 327.50,424.27 C327.75,424.39 328.19,424.25 328.41,424.39 C328.64,424.54 328.79,424.88 328.84,425.15 C328.89,425.42 328.75,425.73 328.71,426.00Z" fill="#f6f3fb" fill-opacity="0.5" stroke="#9f96cf" stroke-width="1.3" stroke-opacity="0.5"/>
<path d="M307.65,435.70 C307.63,436.00 307.68,436.30 307.60,436.57 C307.52,436.85 307.38,437.17 307.16,437.35 C306.95,437.53 306.59,437.57 306.33,437.65 C306.06,437.73 305.83,437.77 305.58,437.84 C305.32,437.91 305.04,438.07 304.78,438.05 C304.53,438.03 304.30,437.83 304.03,437.72 C303.77,437.61 303.38,437.59 303.17,437.40 C302.96,437.21 302.86,436.86 302.78,436.58 C302.70,436.30 302.66,435.99 302.68,435.70 C302.69,435.41 302.76,435.12 302.85,434.85 C302.95,434.57 303.04,434.24 303.24,434.05 C303.44,433.87 303.82,433.87 304.07,433.75 C304.33,433.62 304.52,433.35 304.78,433.31 C305.03,433.26 305.30,433.46 305.59,433.47 C305.89,433.48 306.34,433.22 306.55,433.36 C306.77,433.49 306.70,434.04 306.89,434.28 C307.08,434.52 307.57,434.56 307.69,434.79 C307.82,435.03 307.66,435.40 307.65,435.70Z" fill="#f6f3fb" fill-opacity="0.5" stroke="#9f96cf" stroke-width="1.3" stroke-opacity="0.5"/>
<path d="M295.18,408.20 C295.21,408.39 295.29,408.61 295.25,408.80 C295.21,408.99 295.07,409.16 294.94,409.33 C294.82,409.49 294.69,409.71 294.51,409.78 C294.33,409.84 294.07,409.73 293.87,409.73 C293.67,409.72 293.50,409.78 293.33,409.75 C293.15,409.71 292.99,409.62 292.83,409.53 C292.68,409.44 292.55,409.33 292.40,409.21 C292.25,409.09 291.99,408.97 291.93,408.81 C291.88,408.64 292.06,408.40 292.07,408.20 C292.08,408.00 291.95,407.79 292.01,407.62 C292.06,407.45 292.27,407.33 292.40,407.19 C292.53,407.06 292.65,406.92 292.80,406.82 C292.95,406.71 293.13,406.64 293.31,406.57 C293.50,406.51 293.72,406.39 293.92,406.41 C294.11,406.43 294.32,406.57 294.46,406.71 C294.60,406.85 294.63,407.09 294.74,407.25 C294.84,407.40 295.02,407.50 295.09,407.66 C295.17,407.82 295.16,408.01 295.18,408.20Z" fill="#f6f3fb" fill-opacity="0.4" stroke="#9f96cf" stroke-width="1.3" stroke-opacity="0.4"/>
<circle cx="317.90" cy="399.40" r="5.00" fill="#fbd6c0" fill-opacity="0.9"/><circle cx="317.90" cy="399.40" r="4.00" fill="url(#pg)"/><text x="318.00" y="401.40" font-size="5.8" text-anchor="middle" fill="#fcd2a4">P</text>
<circle cx="295.10" cy="415.20" r="5.00" fill="#fbd6c0" fill-opacity="0.9"/><circle cx="295.10" cy="415.20" r="4.00" fill="url(#pg)"/><text x="295.20" y="417.20" font-size="5.8" text-anchor="middle" fill="#fcd2a4">P</text>
<circle cx="318.40" cy="420.20" r="5.00" fill="#fbd6c0" fill-opacity="0.9"/><circle cx="318.40" cy="420.20" r="4.00" fill="url(#pg)"/><text x="318.50" y="422.20" font-size="5.8" text-anchor="middle" fill="#fcd2a4">P</text>
<line x1="347.50" y1="427.50" x2="336.50" y2="421.00" stroke="#231f20" stroke-width="1.0"/>
<path d="M334.00,419.60 L337.79,419.85 L336.08,422.78 Z" fill="#231f20"/>
<path d="M352.40,426.50 C354.98,425.45 360.97,423.98 365.00,423.70 C369.03,423.42 372.75,424.52 376.60,424.80 C380.45,425.08 385.22,424.53 388.10,425.40 C390.98,426.27 392.55,428.08 393.90,430.00 C395.25,431.92 396.02,434.60 396.20,436.90 C396.38,439.20 396.15,441.88 395.00,443.80 C393.85,445.72 391.80,447.05 389.30,448.40 C386.80,449.75 382.88,450.93 380.00,451.90 C377.12,452.87 374.68,454.20 372.00,454.20 C369.32,454.20 366.22,453.05 363.90,451.90 C361.58,450.75 360.22,448.65 358.10,447.30 C355.98,445.95 352.73,445.72 351.20,443.80 C349.67,441.88 349.18,438.10 348.90,435.80 C348.62,433.50 348.92,431.55 349.50,430.00 C350.08,428.45 349.82,427.55 352.40,426.50Z" fill="#e0d3eb"/>
<text x="355.80" y="441.40" font-size="7.8" fill="#352c45" textLength="36.40" lengthAdjust="spacingAndGlyphs" stroke="#352c45" stroke-width="0.15">p130/p107</text>
<circle cx="352.60" cy="423.70" r="5.00" fill="#fbd6c0" fill-opacity="0.9"/><circle cx="352.60" cy="423.70" r="4.00" fill="url(#pg)"/><text x="352.70" y="425.70" font-size="5.8" text-anchor="middle" fill="#fcd2a4">P</text>
<circle cx="370.30" cy="423.70" r="5.00" fill="#fbd6c0" fill-opacity="0.9"/><circle cx="370.30" cy="423.70" r="4.00" fill="url(#pg)"/><text x="370.40" y="425.70" font-size="5.8" text-anchor="middle" fill="#fcd2a4">P</text>
<circle cx="388.10" cy="423.70" r="5.00" fill="#fbd6c0" fill-opacity="0.9"/><circle cx="388.10" cy="423.70" r="4.00" fill="url(#pg)"/><text x="388.20" y="425.70" font-size="5.8" text-anchor="middle" fill="#fcd2a4">P</text>
<circle cx="347.80" cy="439.20" r="5.00" fill="#fbd6c0" fill-opacity="0.9"/><circle cx="347.80" cy="439.20" r="4.00" fill="url(#pg)"/><text x="347.90" y="441.20" font-size="5.8" text-anchor="middle" fill="#fcd2a4">P</text>
<circle cx="393.30" cy="449.60" r="5.00" fill="#fbd6c0" fill-opacity="0.9"/><circle cx="393.30" cy="449.60" r="4.00" fill="url(#pg)"/><text x="393.40" y="451.60" font-size="5.8" text-anchor="middle" fill="#fcd2a4">P</text>
<circle cx="368.30" cy="453.60" r="5.00" fill="#fbd6c0" fill-opacity="0.9"/><circle cx="368.30" cy="453.60" r="4.00" fill="url(#pg)"/><text x="368.40" y="455.60" font-size="5.8" text-anchor="middle" fill="#fcd2a4">P</text>
<path d="M398.90,471.20 C400.63,469.37 403.92,468.58 407.00,468.30 C410.08,468.02 413.93,469.02 417.40,469.50 C420.87,469.98 424.35,470.53 427.80,471.20 C431.25,471.87 435.62,472.15 438.10,473.50 C440.58,474.85 441.93,477.18 442.70,479.30 C443.47,481.42 443.47,484.28 442.70,486.20 C441.93,488.12 440.20,489.27 438.10,490.80 C436.00,492.33 432.98,494.33 430.10,495.40 C427.22,496.47 423.68,497.28 420.80,497.20 C417.92,497.12 415.30,495.97 412.80,494.90 C410.30,493.83 408.12,492.25 405.80,490.80 C403.48,489.35 400.43,488.12 398.90,486.20 C397.37,484.28 396.60,481.80 396.60,479.30 C396.60,476.80 397.17,473.03 398.90,471.20Z" fill="#dccae3"/>
<text x="403.00" y="484.50" font-size="7.8" fill="#3d3248" textLength="36.30" lengthAdjust="spacingAndGlyphs" stroke="#3d3248" stroke-width="0.15">p130/p107</text>
<circle cx="400.70" cy="471.80" r="5.00" fill="#fbd6c0" fill-opacity="0.9"/><circle cx="400.70" cy="471.80" r="4.00" fill="url(#pg)"/><text x="400.80" y="473.80" font-size="5.8" text-anchor="middle" fill="#fcd2a4">P</text>
<path d="M402.5,442.7 C420,443 439,452 441.2,470.5" fill="none" stroke="#231f20" stroke-width="1"/>
<path d="M441.40,474.30 L439.58,470.96 L442.98,470.84 Z" fill="#231f20"/>
<path d="M389,486.2 C368,485 352,472 352.4,458" fill="none" stroke="#231f20" stroke-width="1"/>
<path d="M352.40,454.40 L354.10,457.80 L350.70,457.80 Z" fill="#231f20"/>
<path d="M442.00,438.50 C442.75,436.93 444.58,436.77 446.00,436.60 C447.42,436.43 449.08,437.40 450.50,437.50 C451.92,437.60 453.17,436.78 454.50,437.20 C455.83,437.62 457.68,438.78 458.50,440.00 C459.32,441.22 459.65,443.00 459.40,444.50 C459.15,446.00 458.40,447.98 457.00,449.00 C455.60,450.02 453.17,450.38 451.00,450.60 C448.83,450.82 445.58,451.07 444.00,450.30 C442.42,449.53 441.83,447.97 441.50,446.00 C441.17,444.03 441.25,440.07 442.00,438.50Z" fill="#3b6cc4" stroke="#1c3a86" stroke-width="0.9"/>
<circle cx="448.6" cy="434.2" r="5.0" fill="#dce3f5" stroke="#4a66b4" stroke-width="0.9"/>
<path d="M441.70,420.60 C443.82,420.28 445.28,421.53 446.20,422.60 C447.12,423.67 447.43,425.52 447.20,427.00 C446.97,428.48 445.50,429.92 444.80,431.50 C444.10,433.08 443.40,434.42 443.00,436.50 C442.60,438.58 442.68,441.78 442.40,444.00 C442.12,446.22 442.18,448.50 441.30,449.80 C440.42,451.10 438.65,451.93 437.10,451.80 C435.55,451.67 433.28,450.80 432.00,449.00 C430.72,447.20 429.77,443.83 429.40,441.00 C429.03,438.17 429.12,434.75 429.80,432.00 C430.48,429.25 431.52,426.40 433.50,424.50 C435.48,422.60 439.58,420.92 441.70,420.60Z" fill="#3f7f5f" stroke="#2b6148" stroke-width="0.8"/>
<text transform="translate(439.6 437.4) rotate(-70)" font-size="7.2" text-anchor="middle" fill="#dcf2e2" textLength="17" lengthAdjust="spacingAndGlyphs">PP2A</text>
<path d="M346.75,469.04 C347.00,469.94 348.09,470.60 348.29,471.31 C348.49,472.03 348.00,472.69 347.94,473.33 C347.88,473.97 348.13,474.55 347.95,475.15 C347.78,475.76 347.52,476.43 346.90,476.97 C346.28,477.50 345.02,477.88 344.22,478.36 C343.42,478.84 342.77,479.18 342.09,479.84 C341.41,480.50 341.33,481.68 340.15,482.32 C338.98,482.96 336.39,483.29 335.02,483.69 C333.64,484.08 332.97,484.22 331.93,484.70 C330.89,485.18 329.62,486.40 328.77,486.57 C327.92,486.74 327.57,485.81 326.82,485.71 C326.07,485.61 324.88,486.16 324.25,485.95 C323.63,485.75 323.55,484.93 323.06,484.49 C322.57,484.06 321.66,484.03 321.33,483.36 C320.99,482.69 321.42,481.32 321.05,480.48 C320.67,479.64 319.52,479.02 319.10,478.34 C318.67,477.66 318.37,477.04 318.49,476.39 C318.62,475.74 319.50,475.08 319.83,474.45 C320.16,473.82 320.05,473.19 320.46,472.59 C320.87,472.00 321.45,471.34 322.28,470.86 C323.11,470.39 324.56,470.30 325.44,469.72 C326.31,469.13 326.34,468.09 327.52,467.37 C328.70,466.66 331.15,465.85 332.52,465.42 C333.88,464.98 334.76,464.90 335.69,464.78 C336.62,464.67 337.18,465.00 338.10,464.74 C339.02,464.47 340.44,463.27 341.23,463.19 C342.01,463.11 342.19,464.01 342.81,464.27 C343.44,464.53 344.31,464.45 344.96,464.72 C345.62,465.00 346.45,465.19 346.75,465.91 C347.05,466.63 346.49,468.14 346.75,469.04Z" fill="#6283c9"/>
<path d="M360.73,479.13 C361.31,480.42 362.34,481.79 362.79,482.76 C363.24,483.73 363.29,484.26 363.45,484.95 C363.61,485.64 363.90,486.27 363.77,486.90 C363.63,487.53 362.95,488.13 362.65,488.74 C362.36,489.36 362.70,490.09 361.99,490.59 C361.28,491.10 359.21,491.24 358.40,491.78 C357.59,492.31 357.78,493.04 357.13,493.81 C356.48,494.58 356.19,495.41 354.50,496.41 C352.81,497.42 348.85,498.91 346.99,499.83 C345.13,500.76 344.35,501.74 343.35,501.96 C342.35,502.19 341.81,501.12 341.00,501.18 C340.19,501.24 339.20,502.22 338.50,502.31 C337.80,502.41 337.43,501.82 336.79,501.75 C336.14,501.67 335.26,502.01 334.62,501.87 C333.98,501.74 333.30,501.52 332.96,500.93 C332.62,500.34 333.03,499.26 332.57,498.34 C332.11,497.41 330.90,496.44 330.20,495.37 C329.50,494.30 329.05,492.80 328.39,491.93 C327.73,491.05 326.52,490.74 326.23,490.10 C325.95,489.46 326.27,488.71 326.70,488.09 C327.13,487.46 328.55,486.96 328.82,486.36 C329.09,485.76 327.88,485.00 328.31,484.46 C328.73,483.93 330.65,483.72 331.37,483.15 C332.08,482.58 331.73,481.64 332.60,481.05 C333.47,480.46 334.81,480.39 336.58,479.60 C338.35,478.81 341.52,477.41 343.20,476.33 C344.87,475.24 345.67,473.55 346.65,473.10 C347.62,472.64 348.29,473.59 349.06,473.61 C349.83,473.64 350.41,473.58 351.25,473.25 C352.10,472.92 353.38,471.77 354.15,471.64 C354.92,471.50 355.49,471.93 355.89,472.43 C356.28,472.93 355.96,474.20 356.54,474.63 C357.11,475.06 358.62,474.27 359.32,475.02 C360.02,475.77 360.15,477.84 360.73,479.13Z" fill="#6a59b2"/>
<text transform="translate(334.0 476.5) rotate(-27)" font-size="6.6" text-anchor="middle" fill="#dfe6f6">cyclin D</text>
<text transform="translate(343.6 490.5) rotate(-27)" font-size="7.0" text-anchor="middle" fill="#e6def5">CDK 4/6</text>
<path d="M260.60,482.70 C261.01,482.22 261.76,481.68 262.40,481.25 C263.03,480.81 263.69,480.34 264.40,480.10 C265.11,479.86 265.91,479.72 266.65,479.79 C267.38,479.86 268.35,480.65 268.80,480.50 C269.25,480.35 269.03,479.33 269.33,478.86 C269.63,478.40 270.17,478.11 270.60,477.70 C271.03,477.29 271.40,476.60 271.94,476.40 C272.47,476.20 273.19,476.40 273.80,476.50 C274.41,476.60 275.12,476.68 275.62,477.02 C276.12,477.35 276.57,477.97 276.80,478.50 C277.03,479.03 277.04,479.65 277.01,480.22 C276.98,480.78 276.28,481.43 276.60,481.90 C276.92,482.37 278.21,482.58 278.96,483.02 C279.71,483.45 280.40,483.97 281.10,484.50 C281.80,485.03 282.66,485.51 283.18,486.21 C283.69,486.91 283.93,487.85 284.20,488.70 C284.47,489.55 284.76,490.41 284.79,491.28 C284.82,492.15 284.58,493.03 284.40,493.90 C284.22,494.77 284.14,495.75 283.73,496.51 C283.31,497.28 282.54,497.82 281.90,498.50 C281.26,499.18 280.69,500.12 279.89,500.62 C279.09,501.12 278.02,501.14 277.10,501.50 C276.18,501.86 275.34,502.54 274.39,502.80 C273.44,503.07 272.41,502.99 271.40,503.10 C270.39,503.21 269.33,503.56 268.33,503.46 C267.33,503.36 266.28,502.95 265.40,502.50 C264.52,502.05 263.77,501.42 263.04,500.79 C262.31,500.15 261.39,499.36 261.00,498.70 C260.61,498.04 260.71,497.44 260.68,496.81 C260.65,496.18 260.42,495.28 260.80,494.90 C261.18,494.52 262.36,494.89 262.96,494.55 C263.56,494.22 263.85,493.22 264.40,492.90 C264.95,492.58 265.72,492.88 266.25,492.61 C266.79,492.34 267.52,491.73 267.60,491.30 C267.68,490.87 266.87,490.50 266.74,490.03 C266.61,489.56 267.07,488.87 266.80,488.50 C266.53,488.13 265.60,488.13 265.10,487.79 C264.60,487.46 264.27,486.84 263.80,486.50 C263.33,486.16 262.82,485.89 262.29,485.73 C261.75,485.56 261.00,485.77 260.60,485.50 C260.20,485.23 259.91,484.57 259.91,484.10 C259.91,483.63 260.19,483.18 260.60,482.70Z" fill="#1b5f63"/>
<text x="268.80" y="494.30" font-size="7.6" fill="#e4f2f2" textLength="12.40" lengthAdjust="spacingAndGlyphs">p21</text>
<path d="M277.30,544.80 C277.63,544.30 278.34,543.60 278.97,543.17 C279.61,542.74 280.37,542.38 281.10,542.20 C281.83,542.02 282.59,542.05 283.33,542.11 C284.06,542.18 285.08,542.81 285.50,542.60 C285.92,542.39 285.55,541.32 285.85,540.85 C286.15,540.38 286.84,540.19 287.30,539.80 C287.76,539.41 288.10,538.69 288.64,538.49 C289.17,538.29 289.91,538.47 290.50,538.60 C291.09,538.73 291.70,538.96 292.20,539.30 C292.70,539.63 293.24,540.10 293.50,540.60 C293.76,541.10 293.77,541.75 293.74,542.32 C293.70,542.89 292.94,543.60 293.30,544.00 C293.66,544.40 295.13,544.30 295.88,544.73 C296.63,545.16 297.19,545.96 297.80,546.60 C298.41,547.24 299.04,547.85 299.55,548.55 C300.07,549.25 300.58,549.99 300.90,550.80 C301.22,551.61 301.44,552.52 301.47,553.38 C301.50,554.25 301.33,555.16 301.10,556.00 C300.87,556.84 300.52,557.67 300.10,558.44 C299.68,559.20 299.22,559.93 298.60,560.60 C297.98,561.27 297.21,561.93 296.41,562.43 C295.61,562.93 294.70,563.24 293.80,563.60 C292.90,563.96 291.95,564.30 291.00,564.57 C290.05,564.84 289.09,565.04 288.10,565.20 C287.11,565.36 286.04,565.61 285.04,565.51 C284.04,565.41 282.99,565.03 282.10,564.60 C281.21,564.17 280.45,563.55 279.71,562.92 C278.98,562.28 278.13,561.47 277.70,560.80 C277.27,560.13 277.20,559.56 277.16,558.92 C277.13,558.29 277.09,557.38 277.50,557.00 C277.91,556.62 279.04,556.95 279.64,556.62 C280.24,556.28 280.58,555.38 281.10,555.00 C281.62,554.62 282.24,554.62 282.78,554.35 C283.31,554.09 284.18,553.77 284.30,553.40 C284.42,553.03 283.64,552.58 283.51,552.11 C283.38,551.65 283.79,550.96 283.50,550.60 C283.21,550.24 282.26,550.30 281.76,549.96 C281.26,549.63 280.94,549.03 280.50,548.60 C280.06,548.17 279.66,547.53 279.13,547.37 C278.60,547.20 277.66,547.79 277.30,547.60 C276.94,547.41 276.98,546.67 276.98,546.20 C276.98,545.73 276.97,545.30 277.30,544.80Z" fill="none" stroke="#f4fbfb" stroke-width="2.2"/>
<path d="M277.30,544.80 C277.63,544.30 278.34,543.60 278.97,543.17 C279.61,542.74 280.37,542.38 281.10,542.20 C281.83,542.02 282.59,542.05 283.33,542.11 C284.06,542.18 285.08,542.81 285.50,542.60 C285.92,542.39 285.55,541.32 285.85,540.85 C286.15,540.38 286.84,540.19 287.30,539.80 C287.76,539.41 288.10,538.69 288.64,538.49 C289.17,538.29 289.91,538.47 290.50,538.60 C291.09,538.73 291.70,538.96 292.20,539.30 C292.70,539.63 293.24,540.10 293.50,540.60 C293.76,541.10 293.77,541.75 293.74,542.32 C293.70,542.89 292.94,543.60 293.30,544.00 C293.66,544.40 295.13,544.30 295.88,544.73 C296.63,545.16 297.19,545.96 297.80,546.60 C298.41,547.24 299.04,547.85 299.55,548.55 C300.07,549.25 300.58,549.99 300.90,550.80 C301.22,551.61 301.44,552.52 301.47,553.38 C301.50,554.25 301.33,555.16 301.10,556.00 C300.87,556.84 300.52,557.67 300.10,558.44 C299.68,559.20 299.22,559.93 298.60,560.60 C297.98,561.27 297.21,561.93 296.41,562.43 C295.61,562.93 294.70,563.24 293.80,563.60 C292.90,563.96 291.95,564.30 291.00,564.57 C290.05,564.84 289.09,565.04 288.10,565.20 C287.11,565.36 286.04,565.61 285.04,565.51 C284.04,565.41 282.99,565.03 282.10,564.60 C281.21,564.17 280.45,563.55 279.71,562.92 C278.98,562.28 278.13,561.47 277.70,560.80 C277.27,560.13 277.20,559.56 277.16,558.92 C277.13,558.29 277.09,557.38 277.50,557.00 C277.91,556.62 279.04,556.95 279.64,556.62 C280.24,556.28 280.58,555.38 281.10,555.00 C281.62,554.62 282.24,554.62 282.78,554.35 C283.31,554.09 284.18,553.77 284.30,553.40 C284.42,553.03 283.64,552.58 283.51,552.11 C283.38,551.65 283.79,550.96 283.50,550.60 C283.21,550.24 282.26,550.30 281.76,549.96 C281.26,549.63 280.94,549.03 280.50,548.60 C280.06,548.17 279.66,547.53 279.13,547.37 C278.60,547.20 277.66,547.79 277.30,547.60 C276.94,547.41 276.98,546.67 276.98,546.20 C276.98,545.73 276.97,545.30 277.30,544.80Z" fill="#1b5f63"/>
<text x="285.50" y="556.40" font-size="7.6" fill="#e4f2f2" textLength="12.40" lengthAdjust="spacingAndGlyphs">p21</text>
<line x1="289.40" y1="486.20" x2="311.40" y2="485.60" stroke="#231f20" stroke-width="1.0"/>
<line x1="311.40" y1="481.30" x2="311.40" y2="489.80" stroke="#231f20" stroke-width="1.0"/>
<line x1="283.00" y1="534.00" x2="277.90" y2="511.50" stroke="#231f20" stroke-width="1.0" stroke-dasharray="1.2 1.2"/>
<path d="M277.30,508.30 L279.70,511.25 L276.38,511.99 Z" fill="#231f20"/>
<rect x="210.4" y="549.2" width="32.3" height="18.5" rx="3.4" fill="#6a5fb4"/>
<text x="226.50" y="561.40" font-size="7.6" text-anchor="middle" fill="#e2def3">p53</text>
<polyline points="248,566 248,554.4 268.5,554.4" fill="none" stroke="#231f20" stroke-width="1.0"/>
<path d="M272.00,554.40 L268.40,556.20 L268.40,552.60 Z" fill="#231f20"/>
<path d="M205.30,578.60 L205.97,578.54 L206.63,578.35 L207.30,578.04 L207.96,577.61 L208.63,577.09 L209.29,576.48 L209.96,575.81 L210.62,575.10 L211.29,574.38 L211.95,573.67 L212.62,573.00 L213.28,572.38 L213.95,571.85 L214.61,571.41 L215.28,571.08 L215.94,570.87 L216.61,570.80 L217.28,570.86 L217.94,571.05 L218.61,571.36 L219.27,571.79 L219.94,572.32 L220.60,572.93 L221.27,573.60 L221.93,574.31 L222.60,575.03 L223.26,575.74 L223.93,576.41 L224.59,577.03 L225.26,577.56 L225.92,578.00 L226.59,578.33 L227.26,578.53 L227.92,578.60 L228.59,578.54 L229.25,578.35 L229.92,578.03 L230.58,577.60 L231.25,577.07 L231.91,576.46 L232.58,575.79 L233.24,575.08 L233.91,574.36 L234.57,573.65 L235.24,572.98 L235.90,572.37 L236.57,571.83 L237.23,571.39 L237.90,571.07 L238.57,570.87 L239.23,570.80 L239.90,570.86 L240.56,571.06 L241.23,571.38 L241.89,571.81 L242.56,572.34 L243.22,572.95 L243.89,573.62 L244.55,574.33 L245.22,575.05 L245.88,575.76 L246.55,576.43 L247.21,577.04 L247.88,577.58 L248.54,578.01 L249.21,578.33 L249.88,578.53 L250.54,578.60 L251.21,578.53 L251.87,578.34 L252.54,578.02 L253.20,577.58 L253.87,577.05 L254.53,576.44 L255.20,575.77 L255.86,575.06 L256.53,574.34 L257.19,573.63 L257.86,572.96 L258.52,572.35 L259.19,571.82 L259.86,571.38 L260.52,571.06 L261.19,570.87 L261.85,570.80 L262.52,570.87 L263.18,571.07 L263.85,571.39 L264.51,571.82 L265.18,572.36 L265.84,572.97 L266.51,573.64 L267.17,574.35 L267.84,575.07 L268.50,575.78 L269.17,576.45 L269.83,577.06 L270.50,577.59" fill="none" stroke="#1c5d98" stroke-width="2.5" stroke-linecap="round"/>
<path d="M205.30,572.37 L205.97,572.98 L206.63,573.66 L207.30,574.36 L207.96,575.08 L208.63,575.79 L209.29,576.46 L209.96,577.07 L210.62,577.60 L211.29,578.03 L211.95,578.35 L212.62,578.54 L213.28,578.60 L213.95,578.53 L214.61,578.33 L215.28,578.00 L215.94,577.56 L216.61,577.02 L217.28,576.41 L217.94,575.73 L218.61,575.03 L219.27,574.30 L219.94,573.60 L220.60,572.93 L221.27,572.32 L221.93,571.79 L222.60,571.36 L223.26,571.05 L223.93,570.86 L224.59,570.80 L225.26,570.87 L225.92,571.08 L226.59,571.41 L227.26,571.85 L227.92,572.39 L228.59,573.00 L229.25,573.68 L229.92,574.39 L230.58,575.11 L231.25,575.81 L231.91,576.48 L232.58,577.09 L233.24,577.62 L233.91,578.04 L234.57,578.35 L235.24,578.54 L235.90,578.60 L236.57,578.52 L237.23,578.32 L237.90,577.99 L238.57,577.55 L239.23,577.01 L239.90,576.39 L240.56,575.71 L241.23,575.00 L241.89,574.28 L242.56,573.58 L243.22,572.91 L243.89,572.30 L244.55,571.78 L245.22,571.35 L245.88,571.04 L246.55,570.86 L247.21,570.80 L247.88,570.88 L248.54,571.09 L249.21,571.42 L249.88,571.86 L250.54,572.40 L251.21,573.02 L251.87,573.70 L252.54,574.41 L253.20,575.13 L253.87,575.83 L254.53,576.50 L255.20,577.11 L255.86,577.63 L256.53,578.05 L257.19,578.36 L257.86,578.55 L258.52,578.60 L259.19,578.52 L259.86,578.31 L260.52,577.98 L261.19,577.53 L261.85,576.99 L262.52,576.37 L263.18,575.69 L263.85,574.98 L264.51,574.26 L265.18,573.56 L265.84,572.89 L266.51,572.28 L267.17,571.76 L267.84,571.34 L268.50,571.03 L269.17,570.85 L269.83,570.80 L270.50,570.88" fill="none" stroke="#c21c30" stroke-width="2.5" stroke-linecap="round"/>
<path d="M323.80,594.70 L324.47,594.70 L325.13,594.69 L325.80,594.66 L326.46,594.61 L327.13,594.54 L327.80,594.46 L328.46,594.37 L329.13,594.26 L329.79,594.13 L330.46,593.99 L331.12,593.83 L331.79,593.66 L332.46,593.48 L333.12,593.29 L333.79,593.09 L334.45,592.87 L335.12,592.65 L335.79,592.42 L336.45,592.18 L337.12,591.93 L337.78,591.68 L338.45,591.43 L339.12,591.17 L339.78,590.91 L340.45,590.65 L341.11,590.39 L341.78,590.13 L342.45,589.87 L343.11,589.62 L343.78,589.37 L344.44,589.13 L345.11,588.89 L345.78,588.66 L346.44,588.44 L347.11,588.23 L347.77,588.03 L348.44,587.85 L349.10,587.67 L349.77,587.51 L350.44,587.36 L351.10,587.22 L351.77,587.10 L352.43,586.99 L353.10,586.90 L353.77,586.83 L354.43,586.77 L355.10,586.73 L355.76,586.71 L356.43,586.70 L357.10,586.71 L357.76,586.74 L358.43,586.78 L359.09,586.84 L359.76,586.92 L360.43,587.01 L361.09,587.12 L361.76,587.24 L362.42,587.38 L363.09,587.53 L363.75,587.70 L364.42,587.88 L365.09,588.07 L365.75,588.27 L366.42,588.48 L367.08,588.71 L367.75,588.94 L368.42,589.17 L369.08,589.42 L369.75,589.67 L370.41,589.92 L371.08,590.18 L371.75,590.44 L372.41,590.70 L373.08,590.96 L373.74,591.22 L374.41,591.47 L375.07,591.73 L375.74,591.98 L376.41,592.22 L377.07,592.46 L377.74,592.69 L378.40,592.91 L379.07,593.12 L379.74,593.33 L380.40,593.52 L381.07,593.70 L381.73,593.86 L382.40,594.01 L383.07,594.15 L383.73,594.28 L384.40,594.39 L385.06,594.48 L385.73,594.56 L386.40,594.62 L387.06,594.66 L387.73,594.69 L388.39,594.70 L389.06,594.69 L389.73,594.67 L390.39,594.63 L391.06,594.57 L391.72,594.50 L392.39,594.41 L393.05,594.30 L393.72,594.18 L394.39,594.05 L395.05,593.90 L395.72,593.73 L396.38,593.56 L397.05,593.37 L397.72,593.17 L398.38,592.96 L399.05,592.74 L399.71,592.51 L400.38,592.28 L401.05,592.03 L401.71,591.79 L402.38,591.53 L403.04,591.28 L403.71,591.02 L404.38,590.76 L405.04,590.50 L405.71,590.24 L406.37,589.98 L407.04,589.72 L407.70,589.47 L408.37,589.23 L409.04,588.99 L409.70,588.76 L410.37,588.53 L411.03,588.32 L411.70,588.11 L412.37,587.92 L413.03,587.74 L413.70,587.57 L414.36,587.42 L415.03,587.27 L415.70,587.15 L416.36,587.03 L417.03,586.94 L417.69,586.86 L418.36,586.79 L419.02,586.75 L419.69,586.71 L420.36,586.70 L421.02,586.70 L421.69,586.72 L422.35,586.76 L423.02,586.81 L423.69,586.88 L424.35,586.97 L425.02,587.07 L425.68,587.19 L426.35,587.32 L427.02,587.47 L427.68,587.63 L428.35,587.80 L429.01,587.99 L429.68,588.19 L430.35,588.40 L431.01,588.61 L431.68,588.84 L432.34,589.07 L433.01,589.32 L433.68,589.56 L434.34,589.82 L435.01,590.07 L435.67,590.33 L436.34,590.59 L437.00,590.85 L437.67,591.11 L438.34,591.37 L439.00,591.62 L439.67,591.88 L440.33,592.12 L441.00,592.36" fill="none" stroke="#1c5d98" stroke-width="2.6" stroke-linecap="round"/>
<path d="M323.80,588.20 L324.47,588.41 L325.13,588.63 L325.80,588.86 L326.46,589.09 L327.13,589.33 L327.80,589.58 L328.46,589.83 L329.13,590.09 L329.79,590.35 L330.46,590.61 L331.12,590.87 L331.79,591.13 L332.46,591.39 L333.12,591.64 L333.79,591.90 L334.45,592.14 L335.12,592.38 L335.79,592.61 L336.45,592.84 L337.12,593.05 L337.78,593.26 L338.45,593.45 L339.12,593.64 L339.78,593.81 L340.45,593.97 L341.11,594.11 L341.78,594.24 L342.45,594.35 L343.11,594.45 L343.78,594.53 L344.44,594.60 L345.11,594.65 L345.78,594.68 L346.44,594.70 L347.11,594.70 L347.77,594.68 L348.44,594.64 L349.10,594.59 L349.77,594.53 L350.44,594.44 L351.10,594.34 L351.77,594.23 L352.43,594.09 L353.10,593.95 L353.77,593.79 L354.43,593.62 L355.10,593.43 L355.76,593.24 L356.43,593.03 L357.10,592.82 L357.76,592.59 L358.43,592.36 L359.09,592.12 L359.76,591.87 L360.43,591.62 L361.09,591.36 L361.76,591.10 L362.42,590.84 L363.09,590.58 L363.75,590.32 L364.42,590.06 L365.09,589.81 L365.75,589.56 L366.42,589.31 L367.08,589.07 L367.75,588.83 L368.42,588.61 L369.08,588.39 L369.75,588.18 L370.41,587.98 L371.08,587.80 L371.75,587.63 L372.41,587.47 L373.08,587.32 L373.74,587.19 L374.41,587.07 L375.07,586.97 L375.74,586.88 L376.41,586.81 L377.07,586.76 L377.74,586.72 L378.40,586.70 L379.07,586.70 L379.74,586.72 L380.40,586.75 L381.07,586.79 L381.73,586.86 L382.40,586.94 L383.07,587.04 L383.73,587.15 L384.40,587.28 L385.06,587.42 L385.73,587.58 L386.40,587.74 L387.06,587.93 L387.73,588.12 L388.39,588.33 L389.06,588.54 L389.73,588.76 L390.39,589.00 L391.06,589.23 L391.72,589.48 L392.39,589.73 L393.05,589.99 L393.72,590.24 L394.39,590.50 L395.05,590.76 L395.72,591.02 L396.38,591.28 L397.05,591.54 L397.72,591.79 L398.38,592.04 L399.05,592.28 L399.71,592.52 L400.38,592.75 L401.05,592.97 L401.71,593.18 L402.38,593.38 L403.04,593.56 L403.71,593.74 L404.38,593.90 L405.04,594.05 L405.71,594.19 L406.37,594.31 L407.04,594.41 L407.70,594.50 L408.37,594.57 L409.04,594.63 L409.70,594.67 L410.37,594.69 L411.03,594.70 L411.70,594.69 L412.37,594.66 L413.03,594.62 L413.70,594.56 L414.36,594.48 L415.03,594.38 L415.70,594.27 L416.36,594.15 L417.03,594.01 L417.69,593.86 L418.36,593.69 L419.02,593.51 L419.69,593.32 L420.36,593.12 L421.02,592.91 L421.69,592.68 L422.35,592.45 L423.02,592.21 L423.69,591.97 L424.35,591.72 L425.02,591.47 L425.68,591.21 L426.35,590.95 L427.02,590.69 L427.68,590.43 L428.35,590.17 L429.01,589.91 L429.68,589.66 L430.35,589.41 L431.01,589.17 L431.68,588.93 L432.34,588.70 L433.01,588.48 L433.68,588.27 L434.34,588.06 L435.01,587.87 L435.67,587.70 L436.34,587.53 L437.00,587.38 L437.67,587.24 L438.34,587.12 L439.00,587.01 L439.67,586.92 L440.33,586.84 L441.00,586.78" fill="none" stroke="#c21c30" stroke-width="2.6" stroke-linecap="round"/>
<text x="344.50" y="606.00" font-size="7.0" text-anchor="middle" fill="#333" textLength="12.00" lengthAdjust="spacingAndGlyphs">E2F</text>
<text x="385.90" y="606.00" font-size="7.0" text-anchor="middle" fill="#333" textLength="14.20" lengthAdjust="spacingAndGlyphs">CHR</text>
<path d="M366.00,541.00 C367.58,539.13 371.00,539.07 374.00,538.80 C377.00,538.53 381.00,538.70 384.00,539.40 C387.00,540.10 389.78,541.23 392.00,543.00 C394.22,544.77 396.38,547.50 397.30,550.00 C398.22,552.50 398.05,555.33 397.50,558.00 C396.95,560.67 395.75,563.75 394.00,566.00 C392.25,568.25 389.83,570.37 387.00,571.50 C384.17,572.63 380.00,572.97 377.00,572.80 C374.00,572.63 371.00,572.13 369.00,570.50 C367.00,568.87 365.75,566.42 365.00,563.00 C364.25,559.58 364.33,553.67 364.50,550.00 C364.67,546.33 364.42,542.87 366.00,541.00Z" fill="#f1a17a"/>
<path d="M342.00,531.00 C343.00,528.75 345.00,527.37 347.00,526.50 C349.00,525.63 351.83,525.55 354.00,525.80 C356.17,526.05 358.67,526.47 360.00,528.00 C361.33,529.53 362.00,532.67 362.00,535.00 C362.00,537.33 361.33,540.10 360.00,542.00 C358.67,543.90 356.33,545.82 354.00,546.40 C351.67,546.98 348.17,546.57 346.00,545.50 C343.83,544.43 341.67,542.42 341.00,540.00 C340.33,537.58 341.00,533.25 342.00,531.00Z" fill="#bcdfd5"/>
<path d="M356.00,530.00 C358.33,527.00 367.00,528.83 372.00,529.00 C377.00,529.17 382.78,529.67 386.00,531.00 C389.22,532.33 390.63,534.83 391.30,537.00 C391.97,539.17 391.38,542.17 390.00,544.00 C388.62,545.83 386.33,547.25 383.00,548.00 C379.67,548.75 374.17,548.67 370.00,548.50 C365.83,548.33 360.33,550.08 358.00,547.00 C355.67,543.92 353.67,533.00 356.00,530.00Z" fill="#d5e8ee"/>
<path d="M355.50,532.00 C350.98,530.42 355.25,526.08 356.50,524.00 C357.75,521.92 360.42,520.40 363.00,519.50 C365.58,518.60 369.17,518.43 372.00,518.60 C374.83,518.77 378.03,519.27 380.00,520.50 C381.97,521.73 383.20,523.83 383.80,526.00 C384.40,528.17 388.32,532.50 383.60,533.50 C378.88,534.50 360.02,533.58 355.50,532.00Z" fill="#8ea5da"/>
<rect x="356.8" y="532.6" width="26.6" height="10.8" rx="1.5" fill="#f9fbfd" stroke="#a9bbd4" stroke-width="0.8"/>
<text x="370.10" y="541.00" font-size="8.4" text-anchor="middle" fill="#222" textLength="23.40" lengthAdjust="spacingAndGlyphs" stroke="#222" stroke-width="0.12">MuvB</text>
<path d="M334.50,548.00 C335.75,546.25 338.08,545.20 341.00,544.50 C343.92,543.80 348.17,543.80 352.00,543.80 C355.83,543.80 360.50,543.88 364.00,544.50 C367.50,545.12 370.97,545.75 373.00,547.50 C375.03,549.25 376.03,552.42 376.20,555.00 C376.37,557.58 375.70,560.58 374.00,563.00 C372.30,565.42 369.33,568.20 366.00,569.50 C362.67,570.80 357.83,570.88 354.00,570.80 C350.17,570.72 346.08,570.30 343.00,569.00 C339.92,567.70 337.08,565.33 335.50,563.00 C333.92,560.67 333.67,557.50 333.50,555.00 C333.33,552.50 333.25,549.75 334.50,548.00Z" fill="#dccaea"/>
<path d="M328.00,567.00 C329.57,564.75 332.67,564.17 336.00,563.50 C339.33,562.83 344.00,562.83 348.00,563.00 C352.00,563.17 356.50,563.67 360.00,564.50 C363.50,565.33 367.10,566.25 369.00,568.00 C370.90,569.75 371.48,572.58 371.40,575.00 C371.32,577.42 370.73,580.67 368.50,582.50 C366.27,584.33 362.25,585.37 358.00,586.00 C353.75,586.63 347.50,586.55 343.00,586.30 C338.50,586.05 333.73,586.05 331.00,584.50 C328.27,582.95 327.10,579.92 326.60,577.00 C326.10,574.08 326.43,569.25 328.00,567.00Z" fill="#f2abbb"/>
<text x="338.00" y="558.30" font-size="7.8" fill="#45365e" textLength="36.20" lengthAdjust="spacingAndGlyphs" stroke="#45365e" stroke-width="0.15">p130/p107</text>
<text x="375.80" y="564.60" font-size="7.8" fill="#c24a28" textLength="17.80" lengthAdjust="spacingAndGlyphs" stroke="#c24a28" stroke-width="0.15">LIN54</text>
<text x="332.70" y="582.00" font-size="7.8" fill="#ab2748" textLength="29.20" lengthAdjust="spacingAndGlyphs" stroke="#ab2748" stroke-width="0.15">E2F4/DP</text>
<circle cx="335.50" cy="544.80" r="4.70" fill="#fbd6c0" fill-opacity="0.9"/><circle cx="335.50" cy="544.80" r="3.70" fill="url(#pg)"/><text x="335.60" y="546.80" font-size="5.8" text-anchor="middle" fill="#fcd2a4">P</text>
<line x1="406.50" y1="498.50" x2="396.30" y2="524.60" stroke="#231f20" stroke-width="1.0" stroke-dasharray="1.2 1.2"/>
<path d="M395.00,527.80 L394.66,524.01 L397.82,525.26 Z" fill="#231f20"/>
<polyline points="415,582.6 415,569.2 436.4,569.2" fill="none" stroke="#333" stroke-width="0.9" stroke-dasharray="1.1 1.1"/>
<line x1="437.20" y1="565.00" x2="437.20" y2="573.20" stroke="#333" stroke-width="1.0"/>
<text x="443.80" y="570.20" font-size="7.2" fill="#333" textLength="30.00" lengthAdjust="spacingAndGlyphs">cell cycle</text>
<text x="443.80" y="578.60" font-size="7.2" fill="#333" textLength="16.80" lengthAdjust="spacingAndGlyphs">gene</text>
<text x="443.80" y="587.40" font-size="7.2" fill="#333" textLength="34.30" lengthAdjust="spacingAndGlyphs">repression</text>
<rect x="0.5" y="0.5" width="518.8" height="613.6" fill="none" stroke="#303030" stroke-width="1.2"/>
</svg></div></body></html>
